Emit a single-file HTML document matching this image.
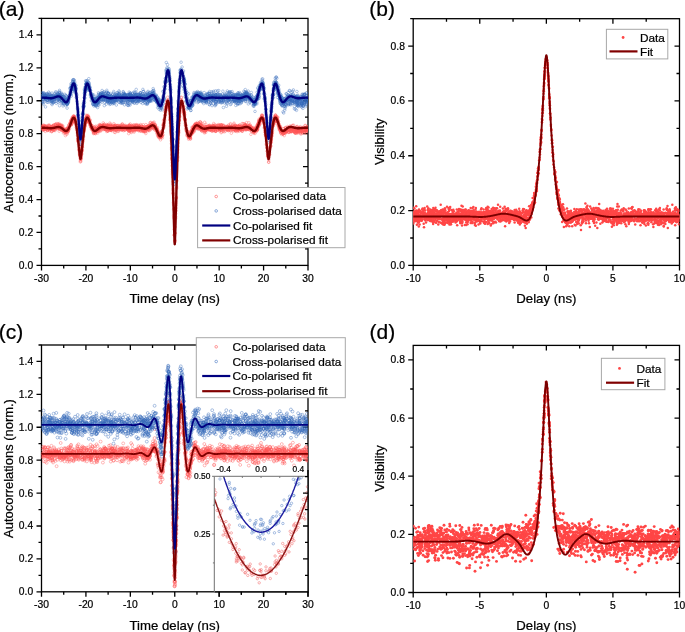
<!DOCTYPE html><html><head><meta charset="utf-8"><style>html,body{margin:0;padding:0;background:#fff;width:685px;height:632px;overflow:hidden}svg{display:block;will-change:transform}text{font-family:"Liberation Sans", sans-serif;fill:#000;stroke:#000;stroke-width:0.22px}</style></head><body>
<svg width="685" height="632" viewBox="0 0 685 632">
<defs>
<marker id="mr" markerUnits="userSpaceOnUse" markerWidth="6" markerHeight="6" refX="3" refY="3" overflow="visible"><circle cx="3" cy="3" r="1.3" fill="none" stroke="#ff5555" stroke-width="0.5" stroke-opacity="0.72"/></marker>
<marker id="mr2" markerUnits="userSpaceOnUse" markerWidth="6" markerHeight="6" refX="3" refY="3" overflow="visible"><circle cx="3" cy="3" r="1.45" fill="none" stroke="#ff5555" stroke-width="0.5" stroke-opacity="0.8"/></marker>
<marker id="mb2" markerUnits="userSpaceOnUse" markerWidth="6" markerHeight="6" refX="3" refY="3" overflow="visible"><circle cx="3" cy="3" r="1.45" fill="none" stroke="#3568ba" stroke-width="0.5" stroke-opacity="0.8"/></marker>
<marker id="mb" markerUnits="userSpaceOnUse" markerWidth="6" markerHeight="6" refX="3" refY="3" overflow="visible"><circle cx="3" cy="3" r="1.3" fill="none" stroke="#3568ba" stroke-width="0.5" stroke-opacity="0.72"/></marker>
<marker id="md" markerUnits="userSpaceOnUse" markerWidth="6" markerHeight="6" refX="3" refY="3" overflow="visible"><circle cx="3" cy="3" r="1.25" fill="#ff4646"/></marker>
<marker id="md2" markerUnits="userSpaceOnUse" markerWidth="6" markerHeight="6" refX="3" refY="3" overflow="visible"><circle cx="3" cy="3" r="1.45" fill="#ff4646"/></marker>
<marker id="mri" markerUnits="userSpaceOnUse" markerWidth="6" markerHeight="6" refX="3" refY="3" overflow="visible"><circle cx="3" cy="3" r="1.2" fill="none" stroke="#f47b7b" stroke-width="0.6"/></marker>
<marker id="mbi" markerUnits="userSpaceOnUse" markerWidth="6" markerHeight="6" refX="3" refY="3" overflow="visible"><circle cx="3" cy="3" r="1.2" fill="none" stroke="#6e93cf" stroke-width="0.6"/></marker>
<clipPath id="ca"><rect x="41.5" y="18.4" width="266.5" height="247"/></clipPath>
<clipPath id="cb"><rect x="413.2" y="18.7" width="266.3" height="246.7"/></clipPath>
<clipPath id="cc"><rect x="41.5" y="345" width="266.5" height="246.8"/></clipPath>
<clipPath id="cd"><rect x="413.2" y="345.4" width="266.3" height="247.1"/></clipPath>
<clipPath id="cin"><rect x="214.3" y="476.3" width="93.7" height="115.5"/></clipPath>
<clipPath id="cinr"><rect x="214.8" y="470" width="100" height="130"/></clipPath>
</defs>
<rect width="685" height="632" fill="#fff"/>
<path d="M41.5 265.4v5.0M85.92 265.4v5.0M85.92 18.4v5.0M130.33 265.4v5.0M130.33 18.4v5.0M174.75 265.4v5.0M174.75 18.4v5.0M219.17 265.4v5.0M219.17 18.4v5.0M263.58 265.4v5.0M263.58 18.4v5.0M308 265.4v5.0M63.71 265.4v3.0M63.71 18.4v3.0M108.12 265.4v3.0M108.12 18.4v3.0M152.54 265.4v3.0M152.54 18.4v3.0M196.96 265.4v3.0M196.96 18.4v3.0M241.38 265.4v3.0M241.38 18.4v3.0M285.79 265.4v3.0M285.79 18.4v3.0M41.5 265.4h-5.0M41.5 232.47h-5.0M308 232.47h-5.0M41.5 199.53h-5.0M308 199.53h-5.0M41.5 166.6h-5.0M308 166.6h-5.0M41.5 133.67h-5.0M308 133.67h-5.0M41.5 100.73h-5.0M308 100.73h-5.0M41.5 67.8h-5.0M308 67.8h-5.0M41.5 34.87h-5.0M308 34.87h-5.0M41.5 248.93h-3.0M308 248.93h-3.0M41.5 216h-3.0M308 216h-3.0M41.5 183.07h-3.0M308 183.07h-3.0M41.5 150.13h-3.0M308 150.13h-3.0M41.5 117.2h-3.0M308 117.2h-3.0M41.5 84.27h-3.0M308 84.27h-3.0M41.5 51.33h-3.0M308 51.33h-3.0M41.5 18.4h-3.0" stroke="#000" stroke-width="1.3" fill="none"/><rect x="41.5" y="18.4" width="266.5" height="247" fill="none" stroke="#000" stroke-width="1.3"/>
<text x="41.5" y="281.9" font-size="10.3" text-anchor="middle" >-30</text>
<text x="85.92" y="281.9" font-size="10.3" text-anchor="middle" >-20</text>
<text x="130.33" y="281.9" font-size="10.3" text-anchor="middle" >-10</text>
<text x="174.75" y="281.9" font-size="10.3" text-anchor="middle" >0</text>
<text x="219.17" y="281.9" font-size="10.3" text-anchor="middle" >10</text>
<text x="263.58" y="281.9" font-size="10.3" text-anchor="middle" >20</text>
<text x="308" y="281.9" font-size="10.3" text-anchor="middle" >30</text>
<text x="33.2" y="268.9" font-size="10.3" text-anchor="end" >0.0</text>
<text x="33.2" y="235.97" font-size="10.3" text-anchor="end" >0.2</text>
<text x="33.2" y="203.03" font-size="10.3" text-anchor="end" >0.4</text>
<text x="33.2" y="170.1" font-size="10.3" text-anchor="end" >0.6</text>
<text x="33.2" y="137.17" font-size="10.3" text-anchor="end" >0.8</text>
<text x="33.2" y="104.23" font-size="10.3" text-anchor="end" >1.0</text>
<text x="33.2" y="71.3" font-size="10.3" text-anchor="end" >1.2</text>
<text x="33.2" y="38.37" font-size="10.3" text-anchor="end" >1.4</text>
<text x="174.75" y="303.3" font-size="13.2" text-anchor="middle" >Time delay (ns)</text>
<text x="0" y="0" font-size="12.95" text-anchor="middle" transform="translate(13 143) rotate(-90)">Autocorrelations (norm.)</text>
<g clip-path="url(#ca)">
<polyline fill="none" stroke="none" marker-start="url(#mr)" marker-mid="url(#mr)" marker-end="url(#mr)" points="41.6,127 41.6,128.9 41.9,127.9 41.9,128.4 41.9,127.1 41.9,126.4 42,126.2 42,128.7 42,128.8 42,126.8 42.1,128.4 42.1,128.3 42.8,127.2 42.8,127.3 42.8,125.7 42.9,129.9 42.9,126.1 43,128.7 43,126.8 43.1,130 43.2,128.1 43.4,128.9 43.5,125 43.9,129.5 43.9,126 43.9,129.2 43.9,129.7 44.1,127.4 44.3,126.1 44.3,128 44.5,126.9 44.5,127.5 44.5,128 44.8,125.6 44.9,127.9 44.9,126.5 45,129.8 45.1,128.2 45.2,126.3 45.3,128.7 45.3,131.4 45.4,126.7 45.5,126.9 45.6,128.4 45.6,127.7 45.8,128.5 45.9,127.3 46,126.1 46.1,127.4 46.2,128.1 46.2,128.7 46.4,128.2 46.4,128.8 46.6,126.3 46.6,129.7 46.9,128.9 47,127.4 47.2,127.4 47.4,127.6 47.4,128.7 47.6,127.7 47.6,130.3 47.7,130.5 47.8,130.1 47.8,127.4 47.8,125.7 48.1,128.7 48.4,129 48.5,128.5 48.5,125.1 48.6,127.7 48.7,127.9 48.7,129 48.8,127.2 49.1,125.9 49.3,127.8 49.3,129.4 49.4,125.9 49.4,128.1 49.5,125.1 49.6,129.8 49.7,128.3 49.8,127.6 49.9,131 50,127.9 50,127.1 50.2,128.3 50.2,127.4 50.5,127.8 50.7,129.5 50.8,126.9 50.9,129.4 51,128.6 51,129.3 51.2,127.1 51.4,128.9 51.5,128.9 51.7,131.6 51.8,128.6 51.8,126.5 51.8,131.5 51.9,127.5 52,128.2 52,131 52,128.8 52.1,126.5 52.2,128.1 52.3,127.5 52.4,126.2 52.4,128.6 52.4,126.6 52.8,130.1 52.9,129.4 53.1,125.6 53.2,125.7 53.4,126.4 53.6,130.3 53.6,128.2 53.6,129.3 53.8,124.7 54.1,130 54.1,129.9 54.1,128.7 54.2,127.2 54.4,128.7 54.6,128.1 54.8,127.1 54.8,127.6 55,130.6 55.1,129.6 55.2,124.8 55.3,127.4 55.3,124.5 55.5,125 55.5,125.6 55.6,127.3 55.9,124.8 55.9,128 56.1,123.6 56.1,126.3 56.2,126.2 56.3,127.8 56.3,128.1 56.4,127.5 56.6,127.9 56.7,128.5 57,128.7 57.2,126.6 57.6,124.9 57.7,123.7 57.7,125.6 58,127 58,125.8 58,124 58.1,126.6 58.2,125.1 58.2,126.1 58.4,126.6 58.6,127.7 58.6,125.6 58.6,128.1 58.7,128.4 58.8,126.2 58.9,125.2 59,125.3 59,125.4 59.1,127.3 59.1,127 59.2,125 59.2,123.5 59.2,131.2 59.2,124.9 59.3,126.5 59.3,126.9 59.4,128.1 59.4,127.9 59.5,128.9 59.5,126.5 59.5,128.5 59.6,127.2 59.6,129.4 59.9,125.1 59.9,125.9 60,129 60.1,126.3 60.3,127.8 60.4,128.7 60.5,127.2 60.6,125.9 60.6,124.9 60.6,126.9 60.7,125.5 61.1,126.5 61.3,126.6 61.3,126.1 61.5,130 61.7,128.6 61.7,125.5 61.8,130.2 61.9,129.5 61.9,125.1 62,129.9 62,128 62,127.8 62.1,128.8 62.2,126.9 62.4,127.1 62.8,130 62.9,126.1 63,130.4 63,129.8 63.1,129.3 63.1,128.9 63.2,131.1 63.4,129 63.4,133 63.4,130.3 63.5,131 63.6,130.8 63.7,129.9 64,129.6 64.3,131.4 64.3,130.2 64.6,132.9 64.6,131 64.6,129 64.7,131.6 64.7,131.1 64.8,130.6 64.8,129.3 64.9,130.1 64.9,131 65.2,132.4 65.3,130.5 65.4,135.6 65.5,130.3 65.6,132.2 65.9,130 65.9,131.1 65.9,128.8 66.2,132.1 66.2,134.2 66.2,131 66.3,131.8 66.5,131.1 66.7,129 66.8,132.3 67.1,129.6 67.1,129.3 67.1,129 67.2,133.9 67.2,130.4 67.2,131.7 67.3,130.9 67.4,131.8 67.7,130.7 68,128.2 68,126.9 68.1,128.5 68.1,131.6 68.1,127.6 68.1,131.6 68.4,129.8 68.4,127.4 68.4,130.1 68.4,128 68.5,129.5 68.5,130.8 68.7,128.3 68.7,129.5 68.9,125.3 69.1,124.9 69.3,124.7 69.6,128.2 69.8,123 70.2,124.6 70.3,124 70.5,123.9 70.5,125 70.5,123.9 70.6,122.6 70.6,121.3 70.7,122.8 70.7,123.7 70.8,124.2 70.9,123.4 71,120.2 71,121.7 71,122.3 71.2,124.9 71.2,125.1 71.4,120.5 71.5,120.3 71.5,119.4 71.6,120.9 71.7,121.9 71.8,123.5 71.9,121.9 71.9,124 72.1,119.5 72.1,119.1 72.2,117.4 72.3,122.3 72.4,121.5 72.5,118 72.6,118.4 72.6,122.1 72.6,119.9 72.7,118.4 72.8,119.2 72.8,117.8 73,118.2 73,119.1 73,117.6 73.2,118.1 73.3,116.1 73.3,120.3 73.3,118.3 73.5,118.9 73.5,118.2 73.5,117.1 73.6,116.7 73.8,121.2 73.8,115.9 73.8,116.9 73.9,116.9 74,117.7 74,116.3 74,117.2 74,120.8 74.1,118.9 74.1,118.3 74.2,118.6 74.3,118.8 74.3,117.1 74.4,120.1 74.4,119.5 74.5,119.9 74.5,118.4 74.6,117.8 74.7,120.3 74.7,118.2 74.8,119.9 74.8,116.7 74.9,123 75.1,119.8 75.1,118 75.2,120.6 75.2,122.1 75.3,121.8 75.5,120.3 75.6,122.8 75.7,120.5 75.7,122.3 75.9,124.4 75.9,124.2 76,122.8 76,122.1 76.1,125.7 76.3,127.5 76.6,129.2 76.7,127.3 76.7,125.3 76.9,130.4 77.4,132.5 77.5,135.2 77.5,133.2 77.7,139.2 77.8,135.9 78,140.8 78,140.7 78,139 78.2,141 78.3,142.1 78.3,141.3 78.6,144.3 78.9,145.2 79,146.9 79,150 79,149 79.1,150.4 79.4,153 79.6,150.5 79.6,155 79.6,151.8 79.6,151.5 79.6,149.5 79.7,154.5 79.8,154.8 79.9,155.5 80,157.1 80.1,154.6 80.2,154.4 80.2,161.8 80.3,158.6 80.3,156.3 80.5,160.6 80.7,159.6 80.7,158.3 80.7,158.4 80.7,158.6 80.8,158.2 80.8,154.9 80.8,161.6 80.8,158.5 80.8,159.4 80.9,156.9 81,157.5 81.2,154.4 81.2,155.1 81.2,151.2 81.3,156.3 81.4,154.6 81.4,151.9 81.5,153.3 81.5,152.3 81.7,154 81.7,150.2 81.7,151.1 81.7,149.8 81.9,150.7 82,149.7 82,150 82,145.6 82,151.2 82.1,146.8 82.1,147 82.2,144.5 82.3,145.5 82.3,147.5 82.4,143.6 82.4,147.2 82.6,141.1 82.7,142.1 82.9,141.3 83.1,139.4 83.2,136.3 83.2,139.8 83.3,133.5 83.3,137.3 83.4,132.9 83.4,135 83.5,131.5 83.5,136.2 83.8,130.5 83.9,131.3 83.9,132 84,129.1 84.1,130 84.2,130.4 84.3,128.3 84.4,129 84.4,127.8 84.4,127.4 84.5,124.7 84.6,126 84.7,126.6 84.8,123.8 84.8,125.4 84.9,125.9 84.9,126.1 85,121.1 85,123.7 85.1,120.5 85.1,124.7 85.2,124.6 85.2,119.9 85.3,122.9 85.4,121.9 85.5,121.7 85.6,122.7 85.6,119.1 85.7,122.7 85.7,119.3 85.7,122.3 86,115.2 86.1,118.2 86.1,117.4 86.2,121.8 86.3,118.3 86.3,119.9 86.3,120.3 86.3,120.1 86.3,117.3 86.4,118.6 86.4,119.5 86.4,119.5 86.4,119.6 86.5,119.3 86.5,118.9 86.6,120.2 86.6,119.8 86.6,121.9 86.7,118.2 86.7,117.1 86.7,118.9 86.8,115.7 87,119.1 87.2,117.7 87.2,115.8 87.7,117.5 87.7,119.3 87.7,117.3 87.7,118.6 87.8,116.2 87.9,116.8 87.9,118.5 87.9,117.3 88,115.3 88.1,116.5 88.1,117 88.5,119.3 88.5,120 88.5,120.3 88.5,117.4 88.8,121.4 88.8,119 88.8,117.1 88.9,122.5 89,119.6 89,121.8 89,120.4 89.2,119.7 89.2,122.3 89.2,123 89.3,121.5 89.3,120.6 89.5,122.1 89.5,123 90,121.7 90.1,124.8 90.1,125.4 90.2,123.1 90.3,120 90.4,124.8 90.6,124.8 90.7,126.4 90.7,125.8 90.9,127.3 90.9,125 91.3,127.4 91.3,127.8 91.4,125 91.5,129.4 91.7,125.8 91.7,127.6 91.8,129.1 91.9,127.8 92.1,128.7 92.2,127.8 92.2,128.8 92.5,125.9 92.7,127.6 92.8,127.6 92.9,131.6 92.9,130.3 92.9,127.7 93,128.8 93,129.8 93.1,130.1 93.5,128.6 93.5,133.6 93.6,131.9 93.8,132.9 93.8,128.7 93.8,132.9 93.9,131.1 94,128.5 94,131.3 94,130.3 94.1,130.8 94.2,129.7 94.4,127.3 94.4,132.9 94.4,131 94.6,128.2 94.7,127 94.9,131.4 95,128.7 95,129.9 95.2,129.9 95.2,133.4 95.4,133.7 95.5,130.7 95.7,131.1 95.8,131 95.8,132.8 95.8,128.4 95.9,131.1 95.9,126.2 96,131.1 96,130.1 96.1,129.4 96.1,131.2 96.2,132.2 96.3,131.5 96.4,130.5 96.4,131.3 96.4,127.1 96.5,131.3 96.5,129.1 97,128.6 97.2,129.6 97.2,131.6 97.5,128.8 97.5,128 97.6,129.2 97.7,129.4 97.7,133.1 97.7,131.2 97.9,129.6 97.9,128.9 97.9,128 98,129.7 98,128.9 98,130.9 98.1,128.1 98.1,127.9 98.2,129.2 98.2,127.4 98.3,129.4 98.3,129.7 98.4,129.3 98.5,125.4 98.7,131.3 98.8,128.2 98.8,129.1 98.9,128.3 99.1,130.8 99.1,127.1 99.2,127.2 99.2,128.7 99.2,128.9 99.3,128 99.4,126.5 99.4,130.6 99.5,125.7 99.6,128.5 99.6,126.5 99.7,129.3 99.9,124.5 99.9,127.3 99.9,124.8 100.1,128.6 100.2,128.6 100.2,125.7 100.3,126.3 100.3,126.9 100.4,125.4 100.4,126.7 100.4,128 100.6,130.5 100.7,131.1 100.8,126.2 100.9,126.3 100.9,128.7 101,126.3 101,127.5 101.2,127 101.6,125.4 101.8,129.6 101.9,126.4 101.9,126.1 102,127.3 102,126.7 102.1,128.8 102.1,126.7 102.3,125.9 102.4,125.6 102.7,128.1 102.9,125.6 102.9,126.4 103,125.8 103,127 103,125.9 103.2,126.6 103.2,122.9 103.2,127.4 103.2,125.1 103.2,127 103.6,129.5 103.6,126.2 103.6,125 103.7,125.8 103.9,125.7 104,128.4 104,126.6 104.1,129.4 104.2,124.2 104.3,124.5 104.3,128.8 104.4,127.8 104.6,129.2 104.8,128.5 104.9,128 105.3,129.3 105.4,128.2 105.4,126.3 105.5,127.9 105.5,126.2 105.6,127.7 105.7,127.3 105.7,129.6 105.7,125.9 105.7,129.4 106.2,128.2 106.3,129.8 106.4,126.8 106.4,129.4 106.5,126.7 106.6,124.5 106.6,127.1 106.7,131.5 106.8,126.1 106.8,127.4 107,126.8 107.1,127.1 107.2,125.9 107.2,126.1 107.2,127.9 107.2,129.9 107.3,128 107.4,126.5 107.4,130.9 107.4,127.6 107.4,130.8 107.4,126 107.4,124.7 107.5,126.4 107.6,128.6 107.6,126.5 107.7,125.6 107.8,125.1 107.8,125.5 107.8,126.1 107.9,129.5 107.9,128.1 107.9,127.1 108.1,127.9 108.1,131.2 108.2,128.2 108.3,129.1 108.3,127.6 108.5,127.4 108.8,130.4 108.9,129.3 109,127.8 109.1,129.8 109.2,128.1 109.3,129.5 109.5,129.3 109.5,126.6 109.5,128.3 109.6,129 109.6,125.5 109.7,128.6 109.8,128.1 109.9,128.1 109.9,123.1 110,127 110,126.7 110.2,128.7 110.3,126.7 110.3,126.2 110.4,130.1 110.4,127.4 110.5,125.4 110.5,125.1 110.5,127.7 110.6,124.2 110.7,129.2 110.8,126.3 110.9,127.2 110.9,129.8 110.9,126.4 110.9,130.2 110.9,129.2 111,128.2 111,130.1 111.1,126.1 111.2,128.8 111.2,130.1 111.2,127.6 111.3,128.1 111.4,129.9 111.6,128.9 111.6,126.5 111.6,126.6 111.8,130.7 111.8,126.4 111.9,126.4 111.9,126.1 112.1,128.8 112.3,129.3 112.3,128.1 112.5,129 112.6,128.4 112.8,128.9 112.8,128.4 112.8,128.7 113,127.9 113.1,127.6 113.4,128.3 113.5,128.8 113.6,125.2 113.6,126.3 113.7,127 113.7,129.3 113.7,126.8 113.8,128.1 113.8,126.9 113.8,127.5 113.8,123.7 114.1,127.8 114.1,129.5 114.2,126 114.4,125.9 114.4,125.6 114.5,132.2 114.5,129.4 114.5,129.2 114.7,130.6 114.8,127.6 114.9,126.7 115,126 115,126.3 115.1,127.8 115.2,125.2 115.2,127.4 115.2,132.5 115.4,128.4 115.4,129.1 115.5,127.3 115.5,128.6 115.6,128.4 115.6,125.6 115.9,129.1 116.2,130.1 116.2,127.4 116.3,126.8 116.4,128.1 116.4,127.9 116.6,128.8 116.6,130.1 116.6,129.1 116.8,129.7 116.8,125.8 117,128.3 117,125.5 117.1,128.1 117.3,129.4 117.3,127.6 117.4,127.5 117.5,125.6 117.5,131.3 117.6,128.6 118,127.2 118.1,129.1 118.1,127.7 118.2,128.4 118.4,125.5 118.4,125.8 118.5,131.3 118.7,130.4 118.7,129.2 118.9,128 118.9,128.1 119,128.7 119.1,126.9 119.1,126.4 119.2,127.7 119.3,128.4 119.3,127.8 119.3,129.2 119.5,126.5 119.6,126.5 120,129.4 120.1,125.4 120.2,127.9 120.3,126.5 120.6,127.9 120.7,128.2 120.8,126.7 120.9,129.5 121,128.3 121.2,129.9 121.3,127.1 121.3,128.3 121.4,128.4 121.4,128.8 121.5,126.8 121.5,127.4 121.6,128.3 121.8,128.7 121.8,124.9 121.8,125.4 121.9,129.8 121.9,125.9 121.9,127 122.1,127.4 122.3,127.2 122.3,130.2 122.3,123.8 122.4,124.5 122.4,127.8 122.5,127.9 122.6,127.6 122.6,129 122.9,127 122.9,128 123.1,129.7 123.1,128.7 123.2,129 123.3,128.9 123.4,128.5 123.5,126.9 123.6,128.6 123.7,130.7 123.7,125.6 123.9,128.9 124.4,125.6 124.5,127.6 124.5,127.1 124.6,129.4 124.6,127.8 124.7,128.6 124.8,128.1 124.9,127.2 124.9,128.6 124.9,126.6 125,130.3 125,129.8 125,127.3 125.2,127.1 125.3,126.2 125.3,125.3 125.5,127.2 125.6,126.7 125.7,127.6 125.7,127.7 125.7,128.1 125.9,127.8 125.9,128.9 126.2,128.2 126.2,126.6 126.7,127.1 126.8,126.1 126.9,128.8 126.9,128.6 127,127.3 127,129.4 127.2,129.5 127.3,127 127.4,128.5 127.5,126.6 127.7,127.9 127.7,128.7 127.9,129.8 127.9,126 128.1,128.2 128.1,129.5 128.1,130.5 128.1,130.1 128.3,128.7 128.4,126 128.5,129.6 128.5,127.6 128.6,127.7 128.7,133.6 129,130.2 129,126.8 129.1,131.5 129.1,126.2 129.2,128.1 129.2,130.9 129.3,125 129.3,128.3 129.4,125.5 129.5,127.8 129.6,129.4 129.6,126.3 129.6,125.2 129.7,126 129.7,130.1 129.8,127.1 129.9,130.1 129.9,129.1 130.1,125.9 130.2,130.5 130.2,124 130.3,130.7 130.4,130.3 130.4,126.9 130.4,128.5 130.4,128.4 130.4,129.7 130.5,126.9 130.5,127.8 130.6,128.3 130.6,129.5 130.7,130.7 131.1,128.2 131.1,131.8 131.2,129.2 131.2,127.1 131.3,127 131.3,128.8 131.4,132.5 131.7,127.2 132,126.6 132,128 132.1,126 132.1,126.4 132.1,130.9 132.1,128.5 132.2,128.9 132.3,125.5 132.5,126.3 132.5,127.9 132.5,127.1 132.6,126.6 132.8,129.2 133,128.3 133.1,128.2 133.1,128.7 133.2,128.6 133.3,127.6 133.3,130.2 133.4,130 133.6,126.7 133.7,125.5 133.7,124.9 133.8,131 133.9,127.4 133.9,129.4 133.9,128.9 134.1,128.4 134.1,127.3 134.1,127 134.1,132.1 134.4,129 134.4,126.2 134.4,127.8 134.4,130.7 134.7,129.6 134.8,129.3 134.8,126.3 134.9,125 135,129.8 135.2,127.1 135.3,128.4 135.5,127 135.5,128.3 135.7,129.8 135.8,129 136,129 136,125.5 136.1,129.2 136.1,127 136.1,129.3 136.2,129 136.2,127.5 136.2,128.9 136.3,124.6 136.6,125.7 136.6,129.8 136.7,127 136.7,125.4 136.9,129.9 136.9,128.6 136.9,125.4 137.2,129.3 137.7,126.8 137.7,128 137.7,127.6 137.9,129.6 137.9,128 137.9,128.6 138,125 138.2,126.8 138.3,127.7 138.3,128 138.4,126.8 138.6,130.6 138.6,129.6 138.7,129.5 139,129.3 139,130.7 139,127.1 139,128.8 139.1,125.9 139.1,128.2 139.1,128.6 139.2,127.3 139.3,127.3 139.3,128.5 139.4,127.1 139.4,125.9 139.4,128.8 139.4,125.9 139.4,128.4 139.8,126.6 139.9,128.2 140.1,128.8 140.3,127.7 140.3,130 140.3,130.8 140.4,128.2 140.4,128.6 140.4,130.1 140.4,124.6 140.5,127.5 140.5,129.4 140.7,127.4 140.9,127.4 141,128.9 141,128.7 141,131.4 141.1,127.9 141.3,125.2 141.3,126.4 141.9,126.7 142.1,129.5 142.1,130.3 142.3,127.1 142.3,128.1 142.4,128.9 142.6,129.1 142.6,127.1 142.7,127.6 142.7,129.4 142.7,128.8 142.9,131.5 142.9,130.7 142.9,127.7 142.9,129.5 142.9,130.1 143,128.3 143.1,126.6 143.2,130.1 143.2,129.3 143.2,129.2 143.2,124.7 143.2,127 143.2,128.3 143.2,131.1 143.4,127.5 143.4,127.8 143.6,129.1 143.6,130.1 143.7,129.6 143.7,131.6 143.9,129.5 144,129.6 144.1,130.4 144.2,129.4 144.3,131.5 144.3,127 144.4,129.2 144.4,130.9 144.6,127.6 144.7,128 144.8,129.8 144.9,131.1 145.1,129.1 145.2,128.2 145.2,127.9 145.3,127.4 145.4,127.5 145.4,131.4 145.5,128.7 145.5,132 145.6,127.3 145.6,128.2 145.7,127.3 145.7,128.8 145.8,128.9 145.8,129.8 145.8,133.5 145.9,129.2 145.9,124.6 146,126.7 146.1,129.2 146.2,128.3 146.3,128.1 146.5,129.7 146.5,128.7 146.6,128.2 146.7,129.5 146.9,127.9 146.9,126.6 147,127.2 147.1,128.1 147.3,128.8 147.5,127.2 147.5,129.3 147.5,129.4 147.5,126.2 147.5,129 147.6,130.6 147.6,126.9 148,126.9 148,126.2 148,128.2 148.1,126.1 148.1,128.3 148.1,129.7 148.1,128.3 148.3,127.5 148.4,129.7 148.4,128.2 148.4,127.4 148.6,128.4 148.7,127.5 148.8,127.6 148.8,128.9 148.9,127 148.9,126.6 149,130.7 149.2,128.4 149.2,125.9 149.3,126.5 149.3,130.3 149.4,126.7 149.5,124.7 149.6,125.6 149.6,125.7 149.7,127.1 149.8,126.7 149.8,128.7 149.9,126.7 150.1,122.8 150.2,126.6 150.4,127.9 150.4,125.5 150.5,129.7 150.7,122.4 150.8,125.1 150.8,126.6 150.8,126.7 150.8,127.6 151,125.8 151.2,125.8 151.4,128.4 151.5,124.1 151.6,126.3 151.7,127.5 151.7,124.1 151.8,124.4 151.8,126.5 151.8,126.7 151.9,123.7 151.9,126.2 152,125.2 152.1,123.2 152.3,127.5 152.6,127.9 152.7,126.8 152.7,126.4 152.8,125.4 153,123.8 153.1,126.2 153.2,122.6 153.3,125.2 153.4,128.9 153.5,125.7 153.7,124.5 153.9,123.9 153.9,127 154,126 154.1,122.2 154.2,125.8 154.3,127.7 154.6,129 154.7,127.3 154.7,125.9 154.8,128.5 154.9,124.5 154.9,128.1 155,130.2 155.2,126.1 155.2,127.2 155.2,127.7 155.2,125.1 155.3,128.5 155.3,126.3 155.4,128.4 155.4,124.8 155.6,127.8 155.6,127.8 155.6,126.9 155.6,128.1 155.7,127.4 155.9,128.8 156.2,127.9 156.2,129 156.4,130.5 156.5,128.7 156.7,129.3 156.8,132.1 156.8,130.9 156.9,133.6 157,130.6 157.3,130.1 157.4,127.6 157.4,131.3 157.5,130.2 157.6,129.7 157.7,131 157.7,135.6 157.7,133.3 157.9,132.4 158,132.6 158,132.9 158,134.8 158.2,136.8 158.4,133.2 158.4,131.9 158.6,135.3 158.6,133.4 158.7,135.5 158.8,134.9 158.8,135.7 158.8,133.3 158.8,136.4 158.9,134.7 159,133.5 159,135.2 159.2,137.7 159.3,134.8 159.3,135.8 159.3,137.8 159.3,135.9 159.8,136.6 160.3,135.2 160.3,137.2 160.3,136.1 160.4,135.2 160.5,139.8 160.5,134.4 160.6,136.2 160.7,138 160.8,135.9 160.8,134.2 160.9,137.3 160.9,137 160.9,133.4 161,132.9 161.1,132 161.2,135.5 161.5,136.9 161.5,136.8 161.6,135.4 161.8,136 161.9,133.1 161.9,131.4 162,135.9 162,130.8 162,135.3 162.1,134.7 162.2,135.6 162.3,131.1 162.4,132.5 162.4,132.2 162.4,137.8 162.6,132.5 162.9,129.1 163,134.9 163,125.2 163.2,127.3 163.3,125.3 163.4,127.6 163.5,124.7 163.5,123.6 163.5,120.8 163.6,127.9 163.9,119.6 163.9,125.9 164,123 164,124 164.2,122.2 164.2,125.6 164.6,119.2 164.7,120.6 164.8,117.4 165,115.4 165.1,114.9 165.1,115.2 165.3,110.7 165.3,112.5 165.3,111.7 165.5,109 165.5,112 165.6,110.7 166,106.7 166.2,107.7 166.2,104.2 166.2,108.2 166.3,106.9 166.3,106.6 166.3,106.9 166.5,104.9 166.6,105.8 166.7,109.6 166.8,101 166.8,104.5 166.9,101.2 166.9,105.4 167.4,99.9 167.5,104.1 167.8,97.2 167.9,101 168,101.8 168.1,107.8 168.1,106.3 168.2,102.2 168.5,103.1 168.5,103.2 168.6,103.2 168.6,99.9 168.7,103.4 168.7,103.6 168.7,104.6 168.8,105.8 168.8,102.2 168.9,104.7 168.9,104.6 169,103.5 169.1,104.8 169.2,103.4 169.2,103.6 169.2,109.3 169.2,108.2 169.6,107.3 169.6,110.9 169.7,109.4 169.7,113.7 169.9,119.8 170,120.3 170.1,117.7 170.2,118.3 170.2,111.5 170.3,116.8 170.4,119.2 170.4,119.4 170.5,126.2 170.5,122.6 170.5,123.3 170.8,123.2 170.8,130.9 170.8,133.1 170.8,129.4 170.9,131.8 171.1,134.8 171.3,138.1 171.3,140.3 171.4,143.7 171.6,147.4 171.6,141.7 171.6,149.8 171.7,148.3 171.8,155.4 171.8,158 172,154.3 172,158.2 172.2,159.2 172.2,160.2 172.2,162.7 172.2,165.5 172.2,159.4 172.4,169.6 172.5,166.2 172.5,171.8 172.6,173.2 172.6,174.7 172.8,181.8 172.9,184.2 172.9,177.2 173,190.8 173,193.2 173,189.1 173.1,193.1 173.3,194.9 173.4,202.8 173.6,204.9 173.6,209.3 173.7,215.5 173.9,218.5 173.9,217.1 174.1,229.5 174.3,235 174.3,235.1 174.4,235.2 174.7,241 174.9,242.1 174.9,240.3 175,240.8 175,233.4 175.2,227 175.3,233.1 175.6,218.3 175.7,216.8 175.7,213.7 175.9,211.1 175.9,210.4 176,208.1 176,205.2 176.1,203.2 176.1,198.1 176.1,198.9 176.1,201.3 176.3,197.2 176.3,197.7 176.5,187.7 176.5,188.4 176.5,186.3 176.7,180.9 176.7,180.8 177.4,160.4 177.4,160.8 177.6,157.9 177.6,156.5 177.6,152.9 177.7,146.3 177.8,149.8 178,143.1 178.2,131.5 178.2,139.2 178.4,135.2 178.5,133.3 178.5,132.1 178.8,132.1 178.8,123.6 178.8,130.3 178.9,125.7 179,123.5 179.1,120.1 179.1,120.8 179.2,119.9 179.3,120.5 179.4,115.8 179.4,117.3 179.5,116.8 179.6,116.4 179.8,113.2 179.8,110.4 180,112.5 180,108.1 180.1,107.2 180.2,103.9 180.3,107.9 180.4,107.5 180.4,105.1 180.4,105.8 180.6,110.6 180.6,100.9 180.8,102 180.9,101.8 181,103.9 181.1,100.7 181.1,102.2 181.2,97.4 181.2,99.5 181.4,97.5 181.5,103.8 182.1,103.6 182.5,104 183,106.9 183.1,102.1 183.3,106.6 183.4,110.3 183.5,108.8 183.7,106 183.7,110.8 183.7,108.7 183.8,114.2 183.8,111.9 184,112.5 184,112.9 184,112.4 184.1,111.7 184.1,110.3 184.3,117.8 184.3,114 184.3,112.6 184.4,114.6 184.4,112.6 184.4,115.6 184.4,116.3 184.6,118.4 184.6,114.8 184.7,120 184.8,119.3 185,119.4 185.1,119 185.2,121.7 185.2,123.3 185.2,120.2 185.5,125.4 185.7,125.8 185.7,129 185.7,124.6 185.9,125.6 186,130.4 186.1,127.9 186.5,128.6 186.6,131.3 186.8,134.3 186.9,131.6 187,130.8 187.1,135.9 187.1,130.8 187.1,132.7 187.2,130.8 187.4,135.5 187.5,132 187.8,134.1 188,133.8 188.4,135.8 188.5,134.2 188.5,136.4 188.5,136.9 188.6,138.1 188.6,139.2 188.8,136.2 188.9,137 188.9,136.6 189,137 189.1,135.8 189.2,136.4 189.2,137.6 189.3,135.1 189.5,132.6 189.6,138 189.8,136.9 189.9,135.1 190.1,137.2 190.1,134 190.2,136.9 190.3,137.8 190.3,137.3 190.5,133.4 190.5,138.8 190.5,134.9 190.5,139 190.6,133.8 190.6,134.3 190.6,133.8 190.7,131.1 190.8,134.8 191,132.2 191,133.1 191,132.2 191.1,135.2 191.1,131.9 191.7,133.1 191.7,129.9 191.7,130.8 191.8,132.3 191.8,131.2 191.9,131.2 191.9,131.6 191.9,127.3 192.2,132.7 192.3,133.5 192.4,133 192.4,131.2 192.4,130.8 192.4,129.5 192.5,128.9 192.6,130 192.8,129.7 192.8,131.5 192.8,128.2 192.9,127.2 193.2,129.2 193.2,127.7 193.2,130 193.3,128.9 193.3,128.5 193.4,127.1 193.4,131 193.5,128.3 193.6,126.6 193.8,127.2 193.8,126.6 193.8,132 194,128.9 194.1,128 194.1,128.6 194.2,131.1 194.3,125.2 194.5,126.3 194.6,129.9 194.6,127.4 194.6,126.6 194.7,124.9 195,125 195.1,127.8 195.1,127.1 195.1,125.7 195.2,124.3 195.3,126.6 195.4,126.9 195.4,124.8 195.4,125.5 195.5,123.5 195.5,124.9 195.9,123.8 196.1,128.7 196.2,127.6 196.2,127.9 196.3,126.5 196.4,124.7 196.4,125.8 196.4,124.5 196.6,126.6 196.7,123.7 196.9,123.9 197,128.2 197,127.1 197,126.4 197.3,124 197.4,124.1 197.5,122.4 197.5,127.9 197.7,125.1 197.7,125.5 198.1,126.2 198.2,126 198.3,129.3 198.3,125.3 198.4,126.5 198.4,128 198.4,123.5 198.4,127.1 198.5,125.5 198.5,127.1 198.6,128.6 198.7,126.8 198.7,125.5 198.8,127.8 198.8,125.3 198.8,123.3 198.9,124.2 199.2,126.9 199.3,127.7 199.7,125.2 199.7,129 199.7,128.4 199.8,123.8 199.9,126.2 200,126 200.1,127.4 200.2,122.2 200.2,121.7 200.2,127.2 200.4,125.7 200.4,127.6 200.5,126.4 200.6,124.9 200.6,125 200.6,127.6 200.7,126.6 200.8,122.5 200.9,125.7 200.9,125 200.9,126.4 201,127.6 201.1,129.3 201.3,129.2 201.3,130.4 201.4,129.4 201.4,129.1 201.5,126.5 201.5,130.5 201.6,127.1 201.7,131.1 201.8,123.5 201.8,128.8 201.8,127.6 201.8,124.9 201.9,128.2 202,127.8 202,127.7 202.1,127.1 202.2,128.9 202.3,125.1 202.5,126.2 202.5,127.9 202.5,126.1 202.5,128.3 202.6,129.1 202.7,128.4 202.7,127.4 202.8,130.9 202.9,128.8 203.1,127.6 203.3,130.2 203.5,127.9 203.5,130.3 203.7,128.1 203.7,128.6 203.8,127.9 204,129.8 204.2,131.9 204.4,132.9 204.7,122.3 204.7,131 204.8,130 204.9,131.4 205.1,126.2 205.1,127.3 205.2,127.1 205.3,130.5 205.4,126.8 205.4,129.8 205.4,126.4 205.4,128.7 205.7,132.4 205.8,128.7 205.9,130 205.9,124.4 206,130.7 206.2,128.9 206.2,128.9 206.2,129.9 206.2,129.7 206.3,128.5 206.3,127.8 206.3,129.2 206.4,128.9 206.4,128.4 206.5,130 206.7,128.8 206.7,128.3 206.7,126.6 206.7,127.2 206.7,127.5 207,126.8 207.3,129.6 207.3,126.3 207.4,128.9 207.4,128.5 207.5,128.9 207.6,127.1 207.8,129.3 208,127.1 208.5,128.6 208.7,128.8 208.9,127.3 208.9,129.4 208.9,125.9 208.9,129.2 209,128.8 209,125.9 209.1,130.4 209.1,126.4 209.2,127.8 209.3,127.8 209.4,127.6 209.4,129.4 209.5,125.1 209.5,127 209.6,126.8 209.7,126.5 209.9,126.2 210.1,127.3 210.3,129.4 210.4,130 210.4,130.1 210.5,128.6 210.6,126.1 210.6,130 210.7,128.4 210.9,126.8 210.9,128.4 211,128.2 211.1,129.6 211.1,127.5 211.2,128.8 211.3,129 211.4,128.5 211.4,127.2 211.8,126.2 211.8,129.7 211.8,127 211.8,129.6 211.8,130.9 211.9,128.9 211.9,127.7 212.1,127.9 212.1,127.2 212.1,131.2 212.3,125.5 212.4,126.4 212.5,126.7 212.6,130.5 212.6,127 212.7,128.6 212.8,128.6 213.1,127.8 213.2,130.5 213.3,126 213.3,126.1 213.3,126.4 213.4,125.4 213.5,130.6 213.5,128.3 213.5,128.3 213.6,129.9 213.6,126.4 213.7,123.5 213.8,129.5 213.8,126.8 214.1,127.7 214.1,127.5 214.2,127.6 214.3,126.6 214.4,128.8 214.5,128.5 214.6,125 214.7,127.8 214.9,127.8 215,130.7 215.1,127.1 215.2,126.8 215.2,127.4 215.5,125.2 215.5,131.2 215.5,126.4 215.5,130.6 215.6,129.6 215.6,131.2 215.6,126.5 215.7,128.1 215.9,128.7 215.9,127.9 215.9,131.4 215.9,129 215.9,127.6 216.1,129 216.1,128.1 216.1,130.6 216.2,127.7 216.4,128.5 216.6,127.7 216.8,125.5 216.9,127.9 216.9,129.1 217,127.4 217.4,129.9 217.5,125.4 217.6,128.1 217.7,128.1 218,127.3 218.1,130.2 218.1,128.2 218.4,128.5 218.6,124.6 218.6,125.8 218.7,125.2 218.7,128.1 218.7,127.9 219,126.4 219,129.3 219,129.7 219.2,125.6 219.3,127.4 219.5,127.4 219.5,131 219.7,128.9 219.9,129 219.9,129.4 220,127.7 220,129.7 220.1,130.2 220.2,125 220.6,127.4 220.6,129.9 220.8,124.7 220.8,127.3 221,127.6 221.1,132.7 221.3,125.7 221.5,127.9 221.6,126.1 221.6,125.3 221.6,130.2 221.6,125 221.7,126.7 221.7,127.9 221.7,131.9 221.9,124.8 221.9,127.5 222.1,127 222.3,130 222.5,127 222.9,127.1 223,125.5 223.2,129.5 223.2,131.6 223.3,129 223.3,129.7 223.4,127.6 223.4,128.3 223.7,127.7 223.7,125.9 223.7,125.2 223.8,127.9 223.8,130.6 224,128 224,128.4 224.1,128.2 224.4,128.3 224.6,128.1 224.6,131.7 224.6,127.1 224.8,127.2 225,127.5 225.1,128.3 225.4,126.6 225.5,130.9 225.5,128.3 225.9,127.1 226.1,128.8 226.1,128.2 226.1,126.4 226.3,128.4 226.4,129.5 226.5,128.9 226.5,127.5 226.9,129.8 226.9,128.1 227,128.7 227,128 227.3,126.8 227.3,126.9 227.4,128 227.4,127.7 227.4,126.8 227.5,129.3 227.5,127.8 227.6,129.9 227.7,126 227.8,127.9 228,130.1 228.2,128.8 228.3,126.8 228.4,127.6 228.4,130.7 228.5,125.1 228.6,127.6 228.7,127.4 228.8,128.5 228.9,129.3 228.9,130.4 229,127.7 229.3,128 229.4,128.4 229.4,126.7 229.6,127.4 229.6,129.6 229.7,128.6 229.9,126.1 230.1,130.2 230.3,124.5 230.3,128.8 230.5,123.7 230.6,127.2 230.7,130.5 230.9,127.2 231,127.8 231,128.6 231,127.8 231.1,127.8 231.3,133.2 231.3,126.7 231.4,128.4 231.5,127.9 231.7,126.7 231.8,127.9 232,129.9 232.1,126.6 232.1,128.4 232.2,127.5 232.2,129.1 232.3,128.2 232.6,129.5 232.8,125.4 233.2,129.7 233.2,126.4 233.3,131 233.4,127.5 233.8,128.4 233.9,126.4 233.9,127.6 233.9,124.3 234,123.2 234,128.9 234.2,126.8 234.3,129.5 234.3,129.6 234.3,128.1 234.4,126.5 234.4,126.9 234.5,128.3 234.7,126.2 234.8,129.9 234.9,129.5 234.9,128.1 235.1,131 235.3,125.8 235.3,128.2 235.4,128.6 235.5,127.3 235.5,130.2 235.6,128.2 235.6,130.8 235.6,128.3 235.7,127.8 235.7,125.4 235.7,128 235.8,125.8 235.9,128.1 235.9,130.7 236.2,126.8 236.3,127.9 236.4,129 236.4,126.5 236.5,129.8 236.5,128.7 236.5,126.9 236.7,126.7 236.7,129.2 236.8,127.6 236.9,128 236.9,127.1 237.1,128.5 237.1,131.6 237.1,128.7 237.3,125.7 237.4,129.5 237.4,128.5 237.5,126.8 237.9,128.5 238,130 238,128.2 238.1,128.5 238.1,129.6 238.1,128.4 238.2,130.5 238.2,130.8 238.2,130 238.3,128.5 238.4,128.2 238.4,129.2 238.5,126.4 238.5,127.2 238.5,128.1 238.5,126.3 238.7,125.7 238.8,127 238.8,129.1 239,126.8 239.1,126.2 239.1,127.5 239.2,128.3 239.3,127.7 239.3,127.6 239.4,131.1 239.5,125.5 239.5,128.1 239.7,124.9 239.7,128 239.7,129.4 239.8,126.8 239.9,128 239.9,126.7 239.9,128.8 240.1,128.8 240.1,129.2 240.2,129.2 240.3,127.4 240.7,130.1 240.7,127.8 240.8,126.2 240.8,129.6 241,128.4 241.1,129.3 241.2,128.6 241.5,127.7 241.5,126.8 241.5,126.5 241.6,129 241.6,126.8 241.8,128.9 241.8,129.8 242,129.5 242.1,131.1 242.1,127.8 242.1,130.9 242.1,127.5 242.1,123.5 242.3,129.4 242.5,131.2 242.7,127.1 242.8,129.4 242.8,127.8 242.9,127.7 243,127.3 243,123.9 243.2,127.1 243.2,127.2 243.4,127.7 243.4,128.7 243.4,128.6 243.5,129.2 243.6,126.1 243.6,127.7 243.8,126.3 243.8,126.9 244,123.7 244.2,127.5 244.4,126.2 244.5,128.2 244.6,125.3 244.7,127.5 244.8,127.1 244.8,129.4 245,126.2 245,124.3 245.2,124.8 245.2,128.8 245.3,125.5 245.3,128.1 245.3,129.7 245.3,129 245.4,124.9 245.4,127.5 245.4,129 245.5,126.4 245.5,126.4 245.5,127.4 245.6,126.1 245.7,127.5 245.7,124.9 245.7,125.6 245.8,127 245.8,126.3 245.8,125.4 245.9,127.1 246,126 246.2,127.1 246.2,127.4 246.2,130 246.4,129 246.5,128.6 246.6,126.8 246.6,122.6 246.6,128.5 246.6,127.7 246.7,129.1 246.9,127.6 247,127.4 247,125.9 247.2,129.3 247.3,126.2 247.5,126.7 247.7,127.6 247.8,129.2 247.9,128.9 248.1,127.6 248.2,126.3 248.3,127.5 248.3,128.6 248.6,127 248.7,129.2 248.7,126.2 248.8,122.7 248.8,128.5 248.9,125.9 249,129.2 249,127.5 249.1,126.8 249.2,125.8 249.3,127.7 249.4,125.6 249.4,130 249.5,128.3 249.6,128 249.7,127.9 249.7,128.3 249.8,125.1 250,128.9 250,126.6 250.1,127.6 250.3,125.1 250.5,129 250.6,127.5 250.6,127.8 250.9,134.3 251,128.3 251,127.3 251.3,126.7 251.3,131 251.4,129.7 251.5,127.4 251.8,131.6 251.9,131.1 251.9,128.8 252.3,128.9 252.4,127.9 252.5,128.3 253.2,130.3 253.5,132.5 253.5,131.8 253.7,130.8 253.7,130.2 253.8,130.7 253.9,129.5 254,132.1 254,131.6 254,133 254,127.5 254.1,131.1 254.3,129.2 254.4,128.7 254.5,130.2 254.7,131.1 254.7,131.6 254.9,131.1 255,133.5 255,131.5 255.1,129.3 255.1,130.1 255.3,129 255.3,129.1 255.5,129.1 255.5,130 255.6,129.8 255.7,128.5 255.9,130.4 256.2,131.6 256.4,127.6 256.9,128.2 256.9,126.3 257,129.1 257,130.7 257.1,128.2 257.1,128.9 257.1,129.4 257.1,125.2 257.1,127.3 257.1,129.7 257.3,130.1 257.3,127.5 257.3,126.3 257.4,126.7 257.5,125 257.5,126.2 257.6,125.9 257.6,129.7 257.7,124.2 257.8,127 257.8,124.5 257.8,128.6 258.3,126.4 258.3,122.8 258.3,126.7 258.6,123.8 258.6,124.5 258.7,120.8 258.8,122.8 258.8,121.1 258.9,123.2 258.9,125.9 259,119.3 259.1,123.4 259.2,122.2 259.2,122.2 259.2,124.8 259.4,120.4 259.4,122.2 259.6,124 259.7,123.3 259.8,124.3 259.9,121.6 260,120.5 260.2,121.3 260.3,119.4 260.5,119.6 260.5,118 260.6,118.9 260.6,119.1 260.6,120.1 260.7,120.5 260.9,119.8 261,117.5 261.5,118.4 261.7,115.1 261.8,116.2 261.8,119.8 261.9,116.8 262,115.5 262,118.6 262.4,115.8 262.4,119.1 262.5,115.3 262.7,117.4 262.8,118.8 262.8,121.4 262.9,118.8 262.9,120 262.9,118.2 263.1,120.7 263.1,118.5 263.1,120.2 263.2,118.5 263.3,118.5 263.4,120.2 263.5,119.7 263.6,119.5 263.7,123.3 263.8,120.8 263.8,121.6 263.8,119.4 264.1,123.7 264.1,122.2 264.3,127.8 264.6,124.8 264.8,127.2 264.8,127.5 265,127.7 265,131.9 265.1,130.6 265.1,130.3 265.3,132.5 265.5,134.6 265.5,132.5 265.6,134.6 265.7,135.4 265.8,136.2 265.9,134.9 265.9,134.4 266,135.9 266.4,141.2 266.5,144.7 266.5,143.6 266.5,144.9 266.9,147.9 267.2,147.4 267.3,151.3 267.4,148.7 267.4,150.8 267.4,151.3 267.6,153.5 267.7,156.3 267.8,155.5 268,154.4 268,154.9 268,156.3 268,155.4 268.1,156.7 268.3,157.2 268.3,154.2 268.4,158.3 268.6,162.1 268.8,162.2 268.8,159.9 268.9,157.5 269.3,153.9 269.3,155.2 269.4,154.2 269.6,152.1 269.6,154.7 270.1,148.6 270.2,146.9 270.5,146 270.5,146.5 270.5,143.7 270.6,142 270.8,141.9 270.8,145.8 270.8,143 270.8,142.4 270.9,140.7 270.9,142.2 271,141.4 271,138.5 271.1,137.4 271.1,139.2 271.2,140.1 271.3,139.8 271.3,136.3 271.3,138.5 271.5,136 271.5,136.2 271.5,135.4 271.5,134.8 271.6,136.3 271.6,135.5 271.7,133.5 271.8,133.3 272,134 272.1,127.4 272.2,132.4 272.2,128.3 272.2,132.7 272.5,126.2 272.5,130.7 272.5,126.1 272.6,126.5 272.8,124.5 272.9,126.3 273,123.9 273.1,123.6 273.2,123.2 273.2,124.1 273.4,120.3 273.4,125.1 273.5,124.5 273.5,124.3 273.5,119.4 273.7,122.5 273.7,122.2 273.7,122 273.8,121.2 273.8,121 273.9,121.1 274,122.5 274.1,119 274.1,119.6 274.2,116.8 274.7,117.6 274.9,118.3 274.9,120.5 275,117.9 275.2,116.9 275.3,115.1 275.3,117.2 275.4,116.6 275.4,116.9 275.5,115.2 275.5,116 275.6,117.8 275.7,120.4 275.8,115.3 275.8,117.9 275.8,119.4 275.9,120.5 276,121.2 276.1,118 276.1,118.7 276.1,117.9 276.3,116.7 276.3,119.8 276.4,118.4 276.6,120.1 276.7,120.9 276.7,123.3 276.9,121.2 276.9,118.1 276.9,120.8 277,119.7 277.1,120.2 277.1,117 277.2,118.1 277.3,121.8 277.3,121.7 277.3,119.1 277.4,120.8 277.5,121.3 277.6,119.8 277.7,121 277.7,121.8 277.9,117.3 278,122.1 278.2,125.7 278.4,123.4 278.5,123.7 278.5,121.4 278.5,123.8 278.6,125.6 278.7,124.2 278.7,126.9 278.8,125.6 279,125.1 279.3,127.9 279.3,129.9 279.3,128.4 279.4,128.1 279.5,126.1 279.7,128.4 279.7,127.8 279.8,129.4 279.9,127.9 279.9,129.2 279.9,127.2 279.9,127.9 279.9,125.9 280,127.4 280,129 280.1,130.1 280.4,128.9 280.4,128.1 280.5,126.9 280.5,130.4 280.6,131.8 280.6,132.8 280.6,131.5 280.7,130.2 280.7,130.5 281,130.9 281,130.5 281,129.9 281,133.2 281.3,130.9 281.4,131.3 281.5,131.5 281.5,132 281.7,134.5 282,130.9 282,132.5 282.1,132 282.3,131.4 282.3,131.8 282.4,131.3 282.6,131.4 282.8,133.7 282.9,134 282.9,130.8 283,133.5 283.1,128.6 283.1,134 283.1,131.9 283.2,132.3 283.6,131.7 283.7,133.7 283.7,131.6 283.9,128.8 284,133 284.2,135.6 284.4,130.8 284.4,131.2 284.5,130.8 284.5,133.2 284.6,131.1 284.6,130.3 284.8,132.5 284.8,131.6 284.9,130.8 285,130.3 285.1,131.9 285.1,131.1 285.4,128 285.6,127.8 285.6,132.8 285.6,127.5 285.7,131.7 285.8,129.3 285.9,132.9 285.9,131.2 286,131.9 286,129.5 286,130.5 286.1,130.1 286.1,130.1 286.5,130.2 286.6,128.9 286.6,130.2 286.7,130.5 286.8,131.3 286.9,131.7 286.9,131.1 287,129.5 287.6,128.1 287.6,130 287.6,126.5 287.9,127.5 287.9,129.5 288.2,128.9 288.4,129.4 288.4,132.4 288.6,128 288.6,128.9 288.8,132 288.8,127.8 288.8,130.1 288.9,129.6 289,132 289.1,129.2 289.1,128.4 289.2,129.8 289.3,129.1 289.3,132.2 289.4,128.2 289.5,129.2 289.5,129.2 289.6,128 289.8,127.3 289.9,129.2 290,127.5 290.1,126 290.2,130.8 290.3,128.9 290.4,131.7 290.6,128.5 290.6,126.8 290.6,129.3 290.7,130.9 290.8,129.9 290.9,128.4 290.9,131.5 291,131.4 291.2,128.3 291.4,131.4 291.5,129 291.6,130.9 291.6,131.8 291.9,127.9 292,127.4 292,130.6 292.2,125.5 292.2,129 292.5,128.5 292.5,129.1 292.6,131.2 292.7,127.7 292.7,129.1 292.8,128.6 292.9,129.2 292.9,130.1 292.9,125.5 293.2,128.8 293.4,129.9 293.4,128.5 293.7,131.6 293.7,129 293.7,125.2 293.9,130.8 294.1,128.9 294.3,131.8 294.4,129.8 294.4,128 294.4,131.5 294.4,131.4 294.5,127.9 294.7,129.5 294.7,128.8 294.7,129 294.8,132.1 295,132.8 295,133.1 295.2,129.2 295.2,132.4 295.5,133.1 295.6,131.1 295.9,130.4 296.1,129.8 296.3,133.3 296.3,128.1 296.5,131.9 296.5,130.1 296.5,130.4 296.5,132 296.5,129.7 296.6,129.8 296.6,128.4 296.8,127.1 296.8,126.8 296.9,128.8 297,129.2 297,130.9 297,132.8 297.1,129.7 297.1,131.3 297.1,130.8 297.1,131.2 297.2,129.7 297.2,131 297.2,126.4 297.3,128.9 297.4,131.2 297.6,129.8 297.6,128 297.8,132.4 297.8,130 297.9,131.3 297.9,130.3 298,131.2 298,130.1 298.1,129.6 298.1,129.3 298.2,132.9 298.3,129.2 298.5,130.3 298.5,131.4 298.6,130.5 298.6,127.7 298.7,130.6 298.8,131.8 298.8,129.2 298.9,130.7 299,129.2 299.2,129.9 299.2,128 299.5,131.3 299.6,131 299.7,128.5 299.7,127.5 299.8,129.9 299.9,128.3 300,129.5 300.2,130.3 300.3,133 300.4,126.7 300.7,128.3 300.7,134 300.8,128.9 300.8,131.2 301.1,131.9 301.3,131.2 301.3,129 301.4,130.3 301.5,130.6 301.5,130.5 301.5,130.8 301.6,129.3 301.6,133.6 301.7,132.4 301.7,130.5 301.7,132.2 301.8,129.9 301.8,130.8 302,129.5 302.1,130.5 302.1,129.2 302.2,130.2 302.2,128.9 302.3,130.7 302.7,133 302.7,130.1 302.8,130 302.9,130.9 302.9,128.4 303,129.2 303,127.4 303.1,130.6 303.1,130.7 303.2,129.1 303.2,127.5 303.2,131.1 303.5,129.1 303.8,130 304.1,130.4 304.1,128.4 304.1,128.5 304.2,128.7 304.2,131 304.4,129.9 304.5,132.7 304.5,129 304.5,132 304.6,130.3 304.6,128.5 304.7,130.3 304.9,129.6 304.9,131 305,125.5 305.1,131.9 305.2,130.8 305.4,130.1 305.6,125.5 305.6,130.8 305.9,129.7 305.9,128.5 306.1,133.3 306.1,128.3 306.1,129.2 306.3,127.2 306.3,127.2 306.4,128.9 306.4,127.9 306.4,130.8 306.4,131.6 306.6,130.1 306.8,129.4 307,130.2 307,129 307.1,128.6 307.2,126.8 307.2,129.9 307.3,130.4 307.4,128.9 307.7,129.3 307.8,128.7 307.8,126.8 307.9,131 307.9,128.4"/>
<polyline fill="none" stroke="none" marker-start="url(#mb)" marker-mid="url(#mb)" marker-end="url(#mb)" points="41.6,93.1 41.6,93.3 41.9,101.4 41.9,98 41.9,93.3 41.9,97 42,95.8 42,97.4 42,93.3 42,96.4 42.1,97.9 42.1,96.8 42.8,93 42.8,95.9 42.8,101.8 42.9,103.2 42.9,95.1 43,102.1 43,96.8 43.1,99.3 43.2,96.7 43.4,99.5 43.5,104.3 43.9,93.3 43.9,97.6 43.9,98 43.9,92.9 44.1,95.5 44.3,94.3 44.3,98.1 44.5,97.2 44.5,96.2 44.5,99.3 44.8,95.2 44.9,96.3 44.9,98.5 45,98.8 45.1,95.1 45.2,98.1 45.3,96.4 45.3,96.8 45.4,98.2 45.5,106.9 45.6,96.6 45.6,95.3 45.8,99.5 45.9,99.6 46,95.1 46.1,101.1 46.2,94.1 46.2,96 46.4,93.7 46.4,97.8 46.6,97.4 46.6,96.9 46.9,102.2 47,100.3 47.2,94.6 47.4,99.7 47.4,100.5 47.6,96.8 47.6,93.8 47.7,98 47.8,98.6 47.8,97.9 47.8,96.6 48.1,102.4 48.4,96.8 48.5,96.7 48.5,94.9 48.6,94.8 48.7,96 48.7,92.1 48.8,97.8 49.1,98.2 49.3,93.2 49.3,97.6 49.4,99.6 49.4,99.5 49.5,98 49.6,101.8 49.7,95.1 49.8,97.1 49.9,94.3 50,100.9 50,99 50.2,99.8 50.2,96.4 50.5,96.9 50.7,95.8 50.8,96 50.9,101.1 51,97.2 51,97.7 51.2,98 51.4,96.5 51.5,103.4 51.7,99.9 51.8,98.7 51.8,100.4 51.8,101.3 51.9,95.3 52,95.5 52,93.1 52,100.7 52.1,104.6 52.2,96.1 52.3,99 52.4,101.1 52.4,96.6 52.4,98.3 52.8,103 52.9,97.8 53.1,102.7 53.2,96.5 53.4,101.5 53.6,102.3 53.6,95.9 53.6,95.2 53.8,98.6 54.1,101.1 54.1,96.1 54.1,97.4 54.2,97.1 54.4,98.8 54.6,101.9 54.8,98.9 54.8,93.5 55,99.4 55.1,97.8 55.2,97.6 55.3,94.7 55.3,96.6 55.5,98.5 55.5,91.9 55.6,96.7 55.9,96.3 55.9,99 56.1,101.4 56.1,95.8 56.2,98 56.3,96.1 56.3,103.3 56.4,92.2 56.6,96.8 56.7,94.5 57,99.8 57.2,96.4 57.6,96.2 57.7,93.4 57.7,94.3 58,102.4 58,95.9 58,96.2 58.1,97.4 58.2,95.9 58.2,94.9 58.4,93.8 58.6,99.8 58.6,98.9 58.6,96.4 58.7,94.6 58.8,99.3 58.9,96.5 59,100.1 59,96.4 59.1,97.1 59.1,95.1 59.2,92.6 59.2,98.8 59.2,95.4 59.2,101.1 59.3,95.7 59.3,91.6 59.4,101 59.4,98.1 59.5,105.7 59.5,95.4 59.5,90.4 59.6,99.3 59.6,95.7 59.9,92.8 59.9,99 60,96.2 60.1,99 60.3,98.3 60.4,97 60.5,94.6 60.6,96.5 60.6,97.3 60.6,97.7 60.7,94.2 61.1,96.1 61.3,96.5 61.3,103.1 61.5,98.5 61.7,101.2 61.7,93.1 61.8,96.3 61.9,94.1 61.9,100.7 62,102.8 62,100.7 62,96.6 62.1,100.5 62.2,96.6 62.4,94.9 62.8,100.3 62.9,96.6 63,105.9 63,103.2 63.1,101.4 63.1,100.7 63.2,104 63.4,101.1 63.4,97.1 63.4,97.7 63.5,99 63.6,102.9 63.7,96.3 64,98.9 64.3,104 64.3,98.3 64.6,102.3 64.6,99.8 64.6,100.3 64.7,99.8 64.7,97.2 64.8,94.3 64.8,100.4 64.9,101.2 64.9,101.7 65.2,100.4 65.3,100.1 65.4,105.6 65.5,101.6 65.6,95.3 65.9,99.7 65.9,98.8 65.9,102.1 66.2,95.7 66.2,100.2 66.2,102.8 66.3,104.1 66.5,100.5 66.7,96.7 66.8,103.6 67.1,104.3 67.1,108.1 67.1,99.4 67.2,104.5 67.2,103.5 67.2,104.4 67.3,103.8 67.4,98.9 67.7,102.9 68,99.6 68,102.2 68.1,101.1 68.1,98.1 68.1,98 68.1,103.3 68.4,99.3 68.4,102.1 68.4,97.3 68.4,101.1 68.5,101.9 68.5,96.6 68.7,100.2 68.7,98.2 68.9,95.9 69.1,99.1 69.3,97.6 69.6,94 69.8,88.5 70.2,92 70.3,91.1 70.5,92.3 70.5,92.4 70.5,87.9 70.6,94.2 70.6,93.9 70.7,87.4 70.7,93.9 70.8,94.8 70.9,89.2 71,87.6 71,85.4 71,83.8 71.2,96.1 71.2,90.1 71.4,89.6 71.5,87.2 71.5,90.7 71.6,88 71.7,86.8 71.8,86.9 71.9,89.5 71.9,86.1 72.1,89 72.1,88.7 72.2,86.8 72.3,83.2 72.4,91.2 72.5,85.3 72.6,81 72.6,84.4 72.6,86.4 72.7,83.8 72.8,79.9 72.8,84.8 73,86.1 73,81.8 73,84.8 73.2,85.8 73.3,81.3 73.3,86.1 73.3,84.5 73.5,79.7 73.5,83.1 73.5,79.8 73.6,88.7 73.8,87.8 73.8,85.8 73.8,83.9 73.9,89.1 74,82.9 74,85.2 74,85.1 74,83.6 74.1,84.4 74.1,87.2 74.2,84.5 74.3,87.4 74.3,80.2 74.4,85.6 74.4,85 74.5,86.3 74.5,84.4 74.6,83.9 74.7,85.5 74.7,88.2 74.8,82.1 74.8,85.4 74.9,91.2 75.1,92.9 75.1,89.9 75.2,90.2 75.2,92 75.3,90.1 75.5,87.5 75.6,85.9 75.7,89.3 75.7,89.1 75.9,88.3 75.9,85.3 76,88.5 76,90.3 76.1,93.3 76.3,97.4 76.6,95.6 76.7,94.5 76.7,97.4 76.9,101.5 77.4,103.9 77.5,107 77.5,108.8 77.7,115.6 77.8,108.5 78,114.4 78,110 78,115.5 78.2,114.8 78.3,118.6 78.3,112 78.6,116.5 78.9,124.6 79,121.1 79,129.4 79,124.3 79.1,128.7 79.4,131.2 79.6,133.5 79.6,130.9 79.6,138 79.6,134.3 79.6,129 79.7,140.3 79.8,135.3 79.9,139.6 80,144.1 80.1,136.5 80.2,139.2 80.2,134.7 80.3,143.9 80.3,137.5 80.5,134.8 80.7,144.3 80.7,136.9 80.7,136.7 80.7,138.1 80.8,134.1 80.8,136.1 80.8,140.1 80.8,140 80.8,138 80.9,132.4 81,136.9 81.2,131.9 81.2,134.7 81.2,132.4 81.3,131.5 81.4,129 81.4,126.6 81.5,132.6 81.5,134.3 81.7,129.7 81.7,129.5 81.7,127.9 81.7,125.6 81.9,127.6 82,125.8 82,125.5 82,122 82,126.5 82.1,120.6 82.1,118.4 82.2,123.5 82.3,117.8 82.3,120.2 82.4,120.2 82.4,113.9 82.6,114.1 82.7,117.3 82.9,112.3 83.1,114 83.2,114.2 83.2,106.8 83.3,108.8 83.3,103.8 83.4,107.2 83.4,106.6 83.5,106.9 83.5,105.5 83.8,105.2 83.9,102.6 83.9,106.7 84,106.2 84.1,103.7 84.2,101 84.3,97.7 84.4,97.6 84.4,93.3 84.4,89.3 84.5,102.6 84.6,90.3 84.7,91.1 84.8,95.1 84.8,92.6 84.9,98.2 84.9,92.8 85,87.4 85,94.8 85.1,92.6 85.1,90.4 85.2,88.5 85.2,90.3 85.3,91.5 85.4,86.8 85.5,90.1 85.6,80.8 85.6,84 85.7,87.1 85.7,89.6 85.7,88.9 86,88.1 86.1,86.7 86.1,84.2 86.2,88.8 86.3,84.5 86.3,84.9 86.3,87.7 86.3,81 86.3,83.3 86.4,83.8 86.4,86.3 86.4,86.6 86.4,84.3 86.5,88.6 86.5,83.3 86.6,87.5 86.6,84.2 86.6,82.1 86.7,84.8 86.7,85.8 86.7,86.1 86.8,83.3 87,86.8 87.2,83.6 87.2,80.6 87.7,89.1 87.7,86 87.7,82.9 87.7,86.9 87.8,86.9 87.9,87.5 87.9,81.5 87.9,90.3 88,84.5 88.1,85 88.1,84.4 88.5,87.6 88.5,85.1 88.5,86.9 88.5,87.9 88.8,78.7 88.8,83.3 88.8,89.5 88.9,88.5 89,85.6 89,82.7 89,87.5 89.2,85.3 89.2,86.9 89.2,84.3 89.3,89.4 89.3,90.2 89.5,87.8 89.5,87.8 90,90.4 90.1,87.2 90.1,88.9 90.2,90.9 90.3,95 90.4,90.1 90.6,90.6 90.7,95 90.7,93.6 90.9,97.4 90.9,93.8 91.3,96 91.3,100.8 91.4,95.8 91.5,97.3 91.7,97.9 91.7,93.9 91.8,95.9 91.9,94.9 92.1,99.2 92.2,94.4 92.2,100.7 92.5,97.2 92.7,104.1 92.8,99.3 92.9,103.1 92.9,104.4 92.9,98.3 93,99.8 93,99 93.1,100.5 93.5,100.4 93.5,101.4 93.6,101.8 93.8,101.3 93.8,95 93.8,104.5 93.9,106 94,104.4 94,103.7 94,100.2 94.1,98.7 94.2,98.6 94.4,102.6 94.4,99.9 94.4,96.6 94.6,100.2 94.7,98.3 94.9,104.9 95,99.5 95,99.7 95.2,105.6 95.2,101.9 95.4,100.2 95.5,104.5 95.7,99.2 95.8,99 95.8,100.9 95.8,102.1 95.9,102.3 95.9,100.7 96,98.4 96,105.6 96.1,101.1 96.1,100.9 96.2,104 96.3,105.2 96.4,102 96.4,106.3 96.4,100.7 96.5,102.2 96.5,104.5 97,100.7 97.2,103.1 97.2,102.6 97.5,96.9 97.5,102.5 97.6,107.5 97.7,99.2 97.7,103.1 97.7,102.6 97.9,95.3 97.9,100 97.9,97.4 98,103.8 98,102.7 98,102.1 98.1,97.5 98.1,101.5 98.2,105 98.2,97.2 98.3,100.9 98.3,99.1 98.4,97 98.5,92.8 98.7,99 98.8,94.1 98.8,102.7 98.9,98.2 99.1,97.6 99.1,104.9 99.2,101.2 99.2,100.5 99.2,96.9 99.3,99.6 99.4,99.3 99.4,100 99.5,96.7 99.6,98.1 99.6,98.1 99.7,98.5 99.9,95.7 99.9,99.7 99.9,97.6 100.1,97.4 100.2,96.2 100.2,94.4 100.3,96.2 100.3,101 100.4,94.2 100.4,93.6 100.4,93.4 100.6,94.4 100.7,101.3 100.8,97.1 100.9,94.4 100.9,94.3 101,96.9 101,96.2 101.2,99.6 101.6,95.2 101.8,102.3 101.9,96.9 101.9,93.5 102,99.7 102,92.5 102.1,90.5 102.1,94.7 102.3,97.7 102.4,97.5 102.7,99.6 102.9,94 102.9,99.4 103,95.6 103,99.3 103,94.6 103.2,100.2 103.2,96.5 103.2,98.3 103.2,93.2 103.2,97.3 103.6,96.7 103.6,93 103.6,99.5 103.7,99.9 103.9,96.5 104,99.3 104,91.6 104.1,96 104.2,95.7 104.3,97.5 104.3,105.6 104.4,92.9 104.6,97 104.8,102.6 104.9,99.9 105.3,97 105.4,93.4 105.4,96 105.5,95.9 105.5,96 105.6,99.6 105.7,99 105.7,97 105.7,101 105.7,97 106.2,95.3 106.3,104.1 106.4,98 106.4,98.1 106.5,97.1 106.6,92.4 106.6,101.4 106.7,91.9 106.8,95.5 106.8,90.3 107,98.6 107.1,96.5 107.2,98 107.2,96.2 107.2,100.2 107.2,99.9 107.3,98.2 107.4,95.8 107.4,101.5 107.4,98.7 107.4,99.5 107.4,96.9 107.4,95.3 107.5,102.1 107.6,100.7 107.6,98.8 107.7,100.7 107.8,93.7 107.8,92.9 107.8,95.7 107.9,96.4 107.9,101.1 107.9,100.7 108.1,96.7 108.1,93.6 108.2,99 108.3,97.1 108.3,93.3 108.5,93 108.8,101 108.9,97.3 109,95.9 109.1,102.9 109.2,99.5 109.3,97.6 109.5,99.7 109.5,96.7 109.5,99.3 109.6,103.2 109.6,101.9 109.7,104.4 109.8,102.1 109.9,96.6 109.9,97.5 110,96.9 110,94.6 110.2,101.6 110.3,99.8 110.3,98 110.4,93.5 110.4,97.5 110.5,98.7 110.5,97.5 110.5,101 110.6,104 110.7,97 110.8,99.6 110.9,97 110.9,101.8 110.9,101 110.9,96.1 110.9,97.7 111,95.6 111,100.3 111.1,98.1 111.2,96.3 111.2,95.7 111.2,98.4 111.3,97.5 111.4,98.6 111.6,98.7 111.6,98.5 111.6,97 111.8,102.2 111.8,98.4 111.9,101.3 111.9,98.3 112.1,99.1 112.3,97.8 112.3,99.1 112.5,98.8 112.6,102.3 112.8,94.3 112.8,102.3 112.8,103.8 113,97.3 113.1,96.6 113.4,98.6 113.5,99.2 113.6,101.6 113.6,92.9 113.7,103.2 113.7,91.5 113.7,102.9 113.8,101.2 113.8,99 113.8,99.6 113.8,96.9 114.1,100.7 114.1,99.2 114.2,102.8 114.4,94.8 114.4,99.1 114.5,100.4 114.5,98.1 114.5,95.5 114.7,97.1 114.8,100.1 114.9,97.6 115,97.1 115,96.8 115.1,98.9 115.2,96 115.2,101.2 115.2,97.6 115.4,100.3 115.4,97.7 115.5,99.6 115.5,95.9 115.6,99 115.6,94.4 115.9,100.5 116.2,94.8 116.2,100.3 116.3,105 116.4,100.7 116.4,95.3 116.6,97.2 116.6,96.4 116.6,98.9 116.8,96.8 116.8,100.6 117,92.8 117,93.1 117.1,96.4 117.3,99.4 117.3,99.6 117.4,95.9 117.5,96.6 117.5,100.3 117.6,95.5 118,95.1 118.1,96 118.1,96.4 118.2,96.9 118.4,97.6 118.4,98.4 118.5,99.3 118.7,94 118.7,102 118.9,97.2 118.9,95 119,90.9 119.1,98.5 119.1,93.5 119.2,93.8 119.3,94.7 119.3,92.1 119.3,102.2 119.5,94.6 119.6,97.7 120,96.1 120.1,97.8 120.2,99.8 120.3,102.8 120.6,96.2 120.7,98.1 120.8,101.2 120.9,97.8 121,100.6 121.2,100 121.3,97 121.3,95.2 121.4,103.1 121.4,97.8 121.5,95.8 121.5,101.2 121.6,98.5 121.8,96.7 121.8,94.9 121.8,100.9 121.9,102.3 121.9,99.4 121.9,99.1 122.1,97.8 122.3,97.6 122.3,103.3 122.3,95.6 122.4,102.5 122.4,96.7 122.5,96.3 122.6,96.5 122.6,96.9 122.9,96.7 122.9,100 123.1,100.2 123.1,91.6 123.2,93.2 123.3,93.8 123.4,95.4 123.5,102.4 123.6,92.3 123.7,98.4 123.7,97.8 123.9,95.5 124.4,99.7 124.5,94 124.5,104.8 124.6,94.2 124.6,96.3 124.7,100.3 124.8,95.4 124.9,94.4 124.9,95.5 124.9,95.1 125,98.5 125,94.8 125,94.8 125.2,94.1 125.3,95.9 125.3,102.7 125.5,96.3 125.6,101.7 125.7,100.1 125.7,98.3 125.7,97.4 125.9,98.8 125.9,97 126.2,96.5 126.2,97.5 126.7,97.8 126.8,97 126.9,96 126.9,100.8 127,102.4 127,95 127.2,97.7 127.3,104.9 127.4,94.9 127.5,94.8 127.7,103.5 127.7,101.6 127.9,99.7 127.9,101.7 128.1,100 128.1,98.4 128.1,95.3 128.1,105.4 128.3,97.9 128.4,95 128.5,105.3 128.5,97.2 128.6,98.4 128.7,99.8 129,95.9 129,94.3 129.1,94.9 129.1,92.1 129.2,100.2 129.2,104.1 129.3,99.6 129.3,97.6 129.4,94.7 129.5,96.5 129.6,99.8 129.6,94.1 129.6,96.7 129.7,97.4 129.7,98.6 129.8,96.8 129.9,96.3 129.9,97.9 130.1,105 130.2,100.6 130.2,96.7 130.3,93.4 130.4,94.5 130.4,94.7 130.4,92.9 130.4,96 130.4,94.1 130.5,94.9 130.5,97.2 130.6,100.5 130.6,102.7 130.7,96.6 131.1,101.5 131.1,98.2 131.2,95.7 131.2,99.9 131.3,95.2 131.3,97.6 131.4,100.4 131.7,96.1 132,95.7 132,99.2 132.1,96.3 132.1,101.1 132.1,97.4 132.1,96.8 132.2,100.7 132.3,97.4 132.5,93.4 132.5,99.6 132.5,101 132.6,101.9 132.8,100 133,100.9 133.1,102.5 133.1,97.3 133.2,96.7 133.3,100.5 133.3,97.4 133.4,94.8 133.6,96.5 133.7,97 133.7,95.5 133.8,99.5 133.9,94.9 133.9,92 133.9,99.4 134.1,103 134.1,99.6 134.1,100.4 134.1,96.8 134.4,93.9 134.4,95.8 134.4,92.4 134.4,96.1 134.7,97.2 134.8,103.1 134.8,96.2 134.9,99.2 135,98.9 135.2,98.1 135.3,92.6 135.5,94.8 135.5,97.3 135.7,101.5 135.8,98.6 136,98.1 136,94.7 136.1,95.7 136.1,95.8 136.1,100.1 136.2,94.5 136.2,89.4 136.2,101.4 136.3,100.4 136.6,97.1 136.6,94.5 136.7,96.6 136.7,97 136.9,93 136.9,100.5 136.9,103.4 137.2,101.9 137.7,95 137.7,94.6 137.7,98.6 137.9,101.7 137.9,100 137.9,96.4 138,94.7 138.2,99.4 138.3,100 138.3,100.3 138.4,99.4 138.6,95.6 138.6,97.1 138.7,96.6 139,97.4 139,97.1 139,101.5 139,100.8 139.1,96.7 139.1,96.5 139.1,94.5 139.2,97.9 139.3,100.2 139.3,98.3 139.4,98.4 139.4,96.1 139.4,98.2 139.4,96.1 139.4,96 139.8,96.1 139.9,95.9 140.1,100.6 140.3,94.3 140.3,92.8 140.3,95.2 140.4,92.9 140.4,96.3 140.4,99.1 140.4,95.9 140.5,97.6 140.5,97.8 140.7,92.8 140.9,100.1 141,94.2 141,99.1 141,102.5 141.1,95.3 141.3,97.2 141.3,96.8 141.9,96.8 142.1,94.4 142.1,96.5 142.3,98.3 142.3,97.8 142.4,96.2 142.6,99.2 142.6,96.4 142.7,103.5 142.7,97.9 142.7,97.6 142.9,95.6 142.9,100.8 142.9,98.2 142.9,96.3 142.9,89.4 143,97.1 143.1,95.9 143.2,99.2 143.2,91.4 143.2,98.3 143.2,98.4 143.2,97.3 143.2,101.5 143.2,100.6 143.4,98.8 143.4,100.1 143.6,95 143.6,99.3 143.7,91.5 143.7,97.1 143.9,100 144,97.5 144.1,96 144.2,98 144.3,96.7 144.3,98.7 144.4,100.3 144.4,98.4 144.6,93.1 144.7,99.3 144.8,98.3 144.9,102.5 145.1,100 145.2,97.2 145.2,99.2 145.3,94.9 145.4,95.4 145.4,99.5 145.5,98.5 145.5,96.3 145.6,97.2 145.6,99.1 145.7,103.5 145.7,94.3 145.8,98.1 145.8,97.7 145.8,100.2 145.9,94 145.9,98.5 146,97.7 146.1,103.9 146.2,99.5 146.3,98.3 146.5,97 146.5,96.1 146.6,98.7 146.7,95.2 146.9,98.4 146.9,98.5 147,98 147.1,102.8 147.3,104.3 147.5,92.6 147.5,102.8 147.5,99.6 147.5,96.2 147.5,99.8 147.6,94.7 147.6,103.5 148,97.3 148,95.9 148,91.4 148.1,93.4 148.1,99.7 148.1,95.2 148.1,96.8 148.3,101 148.4,99 148.4,94.5 148.4,98.3 148.6,100.1 148.7,99.1 148.8,100.9 148.8,101.7 148.9,96.2 148.9,95.9 149,94.1 149.2,101.5 149.2,100.2 149.3,95.8 149.3,96.5 149.4,97.4 149.5,100.2 149.6,97.7 149.6,100.8 149.7,92.4 149.8,94.7 149.8,99.5 149.9,93.1 150.1,99.4 150.2,94.8 150.4,95.8 150.4,97.4 150.5,92.4 150.7,100.9 150.8,97 150.8,97 150.8,101.2 150.8,100.4 151,95.6 151.2,95.1 151.4,98.6 151.5,94.1 151.6,94.3 151.7,93.4 151.7,96.3 151.8,95.8 151.8,93.8 151.8,97.1 151.9,97.9 151.9,99 152,94 152.1,91.8 152.3,100.7 152.6,96.1 152.7,93.2 152.7,91 152.8,94.5 153,97.6 153.1,93.2 153.2,88.6 153.3,94.1 153.4,93.2 153.5,90.3 153.7,99.5 153.9,93.1 153.9,91.1 154,92.5 154.1,95 154.2,96.5 154.3,97.2 154.6,99.7 154.7,97.5 154.7,99.5 154.8,96.4 154.9,96.9 154.9,98 155,97.6 155.2,96.6 155.2,100.4 155.2,95 155.2,96.3 155.3,95.3 155.3,98 155.4,97.6 155.4,96.7 155.6,97.1 155.6,98.5 155.6,98.4 155.6,99 155.7,98.8 155.9,100.1 156.2,100.9 156.2,101.5 156.4,95.1 156.5,101.2 156.7,100 156.8,102.7 156.8,99.4 156.9,96.6 157,102.4 157.3,100.6 157.4,101.5 157.4,98.8 157.5,101.8 157.6,102 157.7,102.5 157.7,107.6 157.7,99.1 157.9,97.6 158,105 158,100 158,102.6 158.2,98.6 158.4,104.9 158.4,102 158.6,99.8 158.6,102.1 158.7,103.2 158.8,104.1 158.8,105.8 158.8,103.6 158.8,106.9 158.9,99.3 159,102.6 159,104.8 159.2,109.2 159.3,101.5 159.3,100.6 159.3,103.3 159.3,102 159.8,102.5 160.3,105.5 160.3,106.2 160.3,105 160.4,101.5 160.5,107.1 160.5,110.2 160.6,104.9 160.7,104.8 160.8,105.4 160.8,104.6 160.9,108.8 160.9,107.7 160.9,106.3 161,105.1 161.1,103.3 161.2,102.4 161.5,103.6 161.5,104.5 161.6,107 161.8,104.8 161.9,108.2 161.9,105.3 162,101.6 162,101.1 162,106 162.1,98.8 162.2,109.8 162.3,100 162.4,101.6 162.4,102 162.4,100.1 162.6,101.9 162.9,91.5 163,100.2 163,99.6 163.2,96.2 163.3,103.4 163.4,96.7 163.5,100.7 163.5,91 163.5,97.1 163.6,95.5 163.9,99.5 163.9,86.8 164,98.8 164,97.7 164.2,93.9 164.2,99 164.6,92.8 164.7,89.1 164.8,82.8 165,81.5 165.1,88.9 165.1,86.7 165.3,80.9 165.3,78.5 165.3,85.8 165.5,82.6 165.5,81.6 165.6,80.1 166,78.8 166.2,70 166.2,77.5 166.2,71.9 166.3,73.9 166.3,62.5 166.3,70.1 166.5,81.8 166.6,71.7 166.7,81.5 166.8,67.9 166.8,74.1 166.9,80.6 166.9,76.3 167.4,72.1 167.5,64.6 167.8,69.6 167.9,67.9 168,72.6 168.1,72 168.1,76.1 168.2,71.9 168.5,71.8 168.5,71.1 168.6,74.6 168.6,72.4 168.7,73.5 168.7,70.8 168.7,74.7 168.8,74.8 168.8,76.1 168.9,75.8 168.9,74.1 169,77.8 169.1,68.8 169.2,70.2 169.2,73.1 169.2,71.8 169.2,80.5 169.6,81.3 169.6,80.7 169.7,78.7 169.7,76.6 169.9,78.2 170,89.4 170.1,84.4 170.2,80.4 170.2,86.9 170.3,84.7 170.4,96.3 170.4,89.4 170.5,90.9 170.5,99.2 170.5,87.1 170.8,89.4 170.8,92.5 170.8,97.8 170.8,97.2 170.9,101 171.1,98.7 171.3,102.6 171.3,99.9 171.4,107.6 171.6,107 171.6,113.8 171.6,116.2 171.7,114.4 171.8,120.8 171.8,121.4 172,116.9 172,118.9 172.2,129.1 172.2,129.9 172.2,126.9 172.2,129.6 172.2,123.9 172.4,133 172.5,139.4 172.5,138.7 172.6,134.4 172.6,127.4 172.8,139.8 172.9,149 172.9,146.9 173,145.5 173,147.6 173,146.8 173.1,139.1 173.3,157.9 173.4,160.9 173.6,160.5 173.6,161.1 173.7,162.7 173.9,162.4 173.9,167.2 174.1,167.1 174.3,173.7 174.3,173.7 174.4,184.3 174.7,183.9 174.9,181.2 174.9,176.1 175,181.1 175,181.9 175.2,178.3 175.3,165.8 175.6,174 175.7,164.4 175.7,164.1 175.9,154.8 175.9,157.1 176,159.2 176,153.2 176.1,150.7 176.1,156.9 176.1,162.6 176.1,160.2 176.3,151 176.3,154.6 176.5,146.3 176.5,141 176.5,144.8 176.7,131.8 176.7,142 177.4,129.1 177.4,122.4 177.6,114.7 177.6,125.2 177.6,116.1 177.7,109.2 177.8,112.7 178,101 178.2,112.8 178.2,103 178.4,108.5 178.5,107.9 178.5,105 178.8,89.7 178.8,91.9 178.8,86.9 178.9,95.7 179,97.7 179.1,85.3 179.1,91.2 179.2,93.5 179.3,82.9 179.4,80.1 179.4,88 179.5,82.6 179.6,79 179.8,83.7 179.8,83 180,76.1 180,70.1 180.1,80.5 180.2,72.2 180.3,72.6 180.4,73.2 180.4,74.6 180.4,77.3 180.6,70.2 180.6,73.3 180.8,82.3 180.9,69.9 181,74.5 181.1,71.4 181.1,62.2 181.2,69.1 181.2,79.3 181.4,72.2 181.5,75.1 182.1,67 182.5,86 183,73 183.1,75.3 183.3,78.5 183.4,76 183.5,70.9 183.7,87 183.7,81.8 183.7,79.9 183.8,79.9 183.8,81.3 184,80 184,81.5 184,83.7 184.1,89.3 184.1,79.9 184.3,78 184.3,79.2 184.3,82.1 184.4,80.1 184.4,90.2 184.4,81.8 184.4,83.6 184.6,86.3 184.6,81.9 184.7,87.4 184.8,89.2 185,92.5 185.1,96.5 185.2,92.2 185.2,84.4 185.2,84 185.5,94.6 185.7,93.1 185.7,88.7 185.7,98 185.9,96.9 186,101.3 186.1,91 186.5,101.3 186.6,100.6 186.8,100.4 186.9,103.7 187,92.4 187.1,97.5 187.1,94.5 187.1,108.9 187.2,99.2 187.4,103.3 187.5,106.8 187.8,103.7 188,99.1 188.4,101.3 188.5,107 188.5,93.8 188.5,101.5 188.6,108.1 188.6,108.2 188.8,107.6 188.9,105.8 188.9,107.3 189,107.7 189.1,102.4 189.2,107.7 189.2,105.1 189.3,107.5 189.5,106.3 189.6,101.5 189.8,105.1 189.9,102.6 190.1,105.1 190.1,101.2 190.2,104.8 190.3,101 190.3,108.7 190.5,100.7 190.5,102.8 190.5,107.1 190.5,106.4 190.6,110.5 190.6,105 190.6,103.6 190.7,105.7 190.8,100.6 191,110.4 191,104.2 191,107.4 191.1,104.9 191.1,100.6 191.7,102.1 191.7,97.4 191.7,103.1 191.8,104 191.8,102.7 191.9,106.4 191.9,104.4 191.9,101.9 192.2,98.2 192.3,104 192.4,103.3 192.4,105.4 192.4,104.9 192.4,100.9 192.5,100.5 192.6,99.4 192.8,100.8 192.8,96.7 192.8,105.3 192.9,99.8 193.2,97.2 193.2,100 193.2,97.7 193.3,99.6 193.3,99.9 193.4,98.2 193.4,100.6 193.5,98.6 193.6,96.4 193.8,101.2 193.8,95.8 193.8,94.3 194,92.5 194.1,98.2 194.1,93.9 194.2,102.7 194.3,101.1 194.5,96.5 194.6,99.9 194.6,99.4 194.6,99.6 194.7,97.4 195,98.1 195.1,98.9 195.1,96.2 195.1,97.6 195.2,96 195.3,94.9 195.4,94.2 195.4,96.4 195.4,97 195.5,97 195.5,98.9 195.9,94.1 196.1,95.5 196.2,92.3 196.2,94.4 196.3,96.7 196.4,92.8 196.4,96.1 196.4,95.5 196.6,93.9 196.7,94.5 196.9,97.4 197,93.2 197,94.1 197,95.3 197.3,95.9 197.4,94.6 197.5,99.6 197.5,91.6 197.7,102.5 197.7,98.3 198.1,98.4 198.2,94.6 198.3,95.6 198.3,94.7 198.4,99.2 198.4,92.4 198.4,93.2 198.4,101.8 198.5,95.3 198.5,101.4 198.6,97.5 198.7,94.4 198.7,96 198.8,99.8 198.8,97.9 198.8,93.1 198.9,95.7 199.2,94.3 199.3,101.2 199.7,95.2 199.7,96.2 199.7,99.4 199.8,92.8 199.9,96.9 200,94.4 200.1,98.4 200.2,95.9 200.2,95.5 200.2,97.3 200.4,96.8 200.4,96.3 200.5,97.5 200.6,100.8 200.6,96.3 200.6,97.6 200.7,96.6 200.8,99.7 200.9,93.2 200.9,94.9 200.9,93.6 201,92.2 201.1,94.7 201.3,98.5 201.3,101.2 201.4,94.5 201.4,96.9 201.5,95.4 201.5,94.1 201.6,98.3 201.7,100.4 201.8,96.7 201.8,99.1 201.8,100.3 201.8,96.9 201.9,98.6 202,96.6 202,101.1 202.1,98.4 202.2,98.8 202.3,98.2 202.5,99.9 202.5,96.4 202.5,102.2 202.5,97 202.6,95.2 202.7,98.3 202.7,98.1 202.8,100.5 202.9,97.6 203.1,97.2 203.3,97.9 203.5,97.4 203.5,97 203.7,97.9 203.7,103.6 203.8,101.6 204,98.8 204.2,92.6 204.4,95.6 204.7,98.6 204.7,99.1 204.8,99.8 204.9,96.9 205.1,99.4 205.1,98.4 205.2,101 205.3,99.7 205.4,101.2 205.4,100.7 205.4,99.5 205.4,95.3 205.7,97.5 205.8,95.6 205.9,99.7 205.9,97.7 206,100.1 206.2,98.9 206.2,98.8 206.2,102.9 206.2,98.3 206.3,101.7 206.3,97 206.3,100.1 206.4,102.7 206.4,101.6 206.5,100.8 206.7,94.4 206.7,101.8 206.7,99.4 206.7,97.9 206.7,98.8 207,98.5 207.3,96.3 207.3,100.2 207.4,93.5 207.4,94.5 207.5,97.6 207.6,94.4 207.8,97.8 208,99.2 208.5,101.2 208.7,99.8 208.9,96.3 208.9,97 208.9,93.5 208.9,93.6 209,95.4 209,97.5 209.1,93 209.1,98 209.2,104.4 209.3,98.6 209.4,96.5 209.4,96.2 209.5,96.2 209.5,95.7 209.6,104.8 209.7,91.5 209.9,96.2 210.1,97.5 210.3,103 210.4,95.4 210.4,100.5 210.5,103.2 210.6,96.1 210.6,96.2 210.7,98.1 210.9,100.2 210.9,96.5 211,97.5 211.1,96.8 211.1,96.6 211.2,101.8 211.3,96.5 211.4,101.2 211.4,96.4 211.8,98.8 211.8,99.1 211.8,93.2 211.8,97.1 211.8,97.2 211.9,95.6 211.9,91.7 212.1,105.6 212.1,96.3 212.1,97.5 212.3,94.5 212.4,97.6 212.5,97.8 212.6,96 212.6,97.7 212.7,100.1 212.8,97.5 213.1,92.5 213.2,96 213.3,104 213.3,98 213.3,100.3 213.4,95 213.5,100.8 213.5,97.9 213.5,96.2 213.6,95.3 213.6,99.4 213.7,96.9 213.8,91.3 213.8,99.5 214.1,97.5 214.1,100.1 214.2,98.2 214.3,96.3 214.4,97.5 214.5,95.8 214.6,101.2 214.7,97.2 214.9,98.5 215,105.7 215.1,94.6 215.2,97.4 215.2,99.3 215.5,94.7 215.5,96.2 215.5,104.3 215.5,96.4 215.6,90.9 215.6,96.8 215.6,95.3 215.7,102.4 215.9,102.1 215.9,101.7 215.9,94.6 215.9,95.1 215.9,104.8 216.1,95.2 216.1,103.6 216.1,101.7 216.2,98 216.4,99.7 216.6,97.9 216.8,97.2 216.9,94.5 216.9,99.2 217,99.7 217.4,99.8 217.5,90.9 217.6,94.4 217.7,94.3 218,96.1 218.1,97 218.1,93.7 218.4,98 218.6,102.1 218.6,102.3 218.7,90.6 218.7,100.8 218.7,99.7 219,98.2 219,94.8 219,101 219.2,98.4 219.3,96.7 219.5,101.5 219.5,97.6 219.7,94.7 219.9,97.1 219.9,97.6 220,96.4 220,98 220.1,99.1 220.2,99.4 220.6,95.5 220.6,102.6 220.8,101.3 220.8,95.6 221,94.5 221.1,97.6 221.3,100.4 221.5,102.6 221.6,96.2 221.6,97.4 221.6,97 221.6,96.8 221.7,101 221.7,100.2 221.7,98.3 221.9,98.6 221.9,102.7 222.1,101.7 222.3,98.6 222.5,94.1 222.9,91.2 223,97.4 223.2,99 223.2,97.2 223.3,97.9 223.3,100.6 223.4,107.5 223.4,97.6 223.7,99.9 223.7,98.3 223.7,100.9 223.8,99 223.8,97.6 224,101.9 224,100.1 224.1,96.2 224.4,95.8 224.6,103.1 224.6,95.7 224.6,94.2 224.8,96.7 225,96.6 225.1,97.5 225.4,96.7 225.5,99.2 225.5,94.1 225.9,97.9 226.1,102 226.1,96.3 226.1,95.3 226.3,96.7 226.4,100.7 226.5,96 226.5,106.2 226.9,92.9 226.9,96.2 227,103 227,103.8 227.3,91 227.3,97.2 227.4,99.9 227.4,96.9 227.4,98.5 227.5,98.4 227.5,97 227.6,97 227.7,100.9 227.8,97 228,97.2 228.2,100.7 228.3,95.1 228.4,96.3 228.4,100.7 228.5,92.6 228.6,96.2 228.7,93.8 228.8,99.9 228.9,99.1 228.9,97.4 229,99.4 229.3,98.3 229.4,101.9 229.4,91.8 229.6,96.2 229.6,93.9 229.7,92.7 229.9,97.8 230.1,91.9 230.3,104.5 230.3,98.8 230.5,99.3 230.6,97.9 230.7,101.1 230.9,95.2 231,92 231,97.1 231,96 231.1,104 231.3,99.9 231.3,96.6 231.4,99.7 231.5,96.9 231.7,98.9 231.8,96.7 232,101.8 232.1,96.3 232.1,93.6 232.2,95.7 232.2,91.6 232.3,98 232.6,95.2 232.8,101.5 233.2,95 233.2,96.3 233.3,98.5 233.4,94.5 233.8,101.1 233.9,98.5 233.9,96.9 233.9,100.7 234,100.6 234,94.9 234.2,98.8 234.3,100.8 234.3,99.2 234.3,99.5 234.4,100 234.4,96.8 234.5,100.9 234.7,102.1 234.8,97.7 234.9,98.1 234.9,94.4 235.1,101.7 235.3,99.6 235.3,95.1 235.4,97 235.5,99.7 235.5,100.4 235.6,96.1 235.6,98.2 235.6,100.5 235.7,99.3 235.7,99.2 235.7,95.4 235.8,105.4 235.9,99.8 235.9,94.7 236.2,103 236.3,99 236.4,95.8 236.4,102 236.5,99.8 236.5,100.8 236.5,97.8 236.7,100.2 236.7,101.3 236.8,98.1 236.9,97.7 236.9,95.1 237.1,99.5 237.1,98.8 237.1,100 237.3,95 237.4,94.9 237.4,100.7 237.5,104.5 237.9,92.9 238,103.7 238,103.4 238.1,100 238.1,93 238.1,95.2 238.2,99.2 238.2,96.4 238.2,98.9 238.3,95.3 238.4,99.7 238.4,93.9 238.5,96.8 238.5,100.1 238.5,103.4 238.5,95.2 238.7,97 238.8,101.2 238.8,101.1 239,99.9 239.1,99.5 239.1,99 239.2,98.6 239.3,98.5 239.3,100.1 239.4,92.6 239.5,99.3 239.5,100.4 239.7,96.9 239.7,101 239.7,97.2 239.8,98.1 239.9,95.5 239.9,101.2 239.9,103.8 240.1,95.1 240.1,98.9 240.2,93.4 240.3,96.3 240.7,99.6 240.7,97.3 240.8,101.6 240.8,101.1 241,98.2 241.1,97.9 241.2,103 241.5,95.9 241.5,96.6 241.5,95.1 241.6,102.2 241.6,96.4 241.8,99.7 241.8,99.3 242,94.9 242.1,97.7 242.1,96.2 242.1,95.3 242.1,94.6 242.1,100.4 242.3,100.5 242.5,96.7 242.7,96 242.8,99.6 242.8,96.4 242.9,99.9 243,98.2 243,97.7 243.2,96.7 243.2,95.4 243.4,98.1 243.4,96.7 243.4,99.4 243.5,94.9 243.6,95.4 243.6,98.4 243.8,91.4 243.8,97 244,97.4 244.2,97.7 244.4,95.3 244.5,95.9 244.6,98.1 244.7,94.9 244.8,93.3 244.8,92.1 245,94.5 245,96.9 245.2,98.1 245.2,94.4 245.3,92.3 245.3,89.6 245.3,96.7 245.3,98.8 245.4,98.5 245.4,94.8 245.4,94 245.5,97.8 245.5,99.1 245.5,101.2 245.6,93.9 245.7,100.2 245.7,94.4 245.7,96.5 245.8,101.5 245.8,99.3 245.8,93.3 245.9,96.1 246,96.8 246.2,92.7 246.2,96.2 246.2,95.8 246.4,95.8 246.5,95.9 246.6,93.1 246.6,97.6 246.6,93.1 246.6,91.8 246.7,97.6 246.9,94.8 247,99.4 247,96 247.2,92.8 247.3,93.6 247.5,97.4 247.7,94.7 247.8,95 247.9,96.1 248.1,96.1 248.2,91.1 248.3,103.9 248.3,98.3 248.6,94.3 248.7,97.2 248.7,96 248.8,96.1 248.8,97.6 248.9,97 249,99.2 249,97.2 249.1,95.1 249.2,94.5 249.3,95.9 249.4,98.2 249.4,98.6 249.5,102.3 249.6,98.3 249.7,100.5 249.7,99.8 249.8,98.9 250,98 250,97.8 250.1,98.2 250.3,101.6 250.5,100 250.6,96.9 250.6,99.2 250.9,98.1 251,99.2 251,95.2 251.3,95 251.3,92.5 251.4,100.8 251.5,97.7 251.8,103.8 251.9,98.3 251.9,99 252.3,101.8 252.4,96.8 252.5,100.5 253.2,105.9 253.5,97.5 253.5,101.4 253.7,99.5 253.7,103.6 253.8,103.9 253.9,105.2 254,104.8 254,99.8 254,100.3 254,106.4 254.1,101.9 254.3,101.8 254.4,104 254.5,101.1 254.7,104 254.7,99.1 254.9,102.6 255,101.3 255,111.4 255.1,103 255.1,101.7 255.3,103.3 255.3,102.2 255.5,104 255.5,99 255.6,104.2 255.7,102 255.9,96.9 256.2,97 256.4,99.9 256.9,102.2 256.9,103.9 257,97.2 257,97.7 257.1,99 257.1,99 257.1,92.2 257.1,95.6 257.1,98 257.1,98.5 257.3,98.5 257.3,96.4 257.3,98 257.4,96.9 257.5,98 257.5,94.5 257.6,95.8 257.6,99.5 257.7,87.9 257.8,94.8 257.8,96.8 257.8,98.9 258.3,93.7 258.3,95.4 258.3,88.9 258.6,91.3 258.6,94.1 258.7,97.2 258.8,89.7 258.8,96.3 258.9,90.1 258.9,91 259,98.5 259.1,91.3 259.2,85.7 259.2,92.7 259.2,96.5 259.4,94.2 259.4,89.6 259.6,87.9 259.7,86 259.8,87.2 259.9,90.2 260,88.7 260.2,87.4 260.3,86.7 260.5,89.4 260.5,83.9 260.6,82.5 260.6,85.9 260.6,85 260.7,88.7 260.9,84.2 261,86.9 261.5,86.4 261.7,81.6 261.8,83.4 261.8,85.1 261.9,88.5 262,83.8 262,79.2 262.4,83.4 262.4,83.7 262.5,80.9 262.7,78.9 262.8,83.4 262.8,82.4 262.9,84.7 262.9,84 262.9,84.2 263.1,82.8 263.1,87.4 263.1,85.4 263.2,85.4 263.3,87.1 263.4,89.4 263.5,85.5 263.6,89.9 263.7,93.7 263.8,87.4 263.8,93.8 263.8,87.7 264.1,98.8 264.1,92.2 264.3,88.7 264.6,96.8 264.8,94.4 264.8,99.1 265,101.6 265,101 265.1,98 265.1,97.3 265.3,99 265.5,102.9 265.5,106 265.6,112.4 265.7,109.3 265.8,104.6 265.9,114.5 265.9,109.1 266,109.5 266.4,121.2 266.5,116.1 266.5,118.5 266.5,117.7 266.9,122.4 267.2,126.7 267.3,130 267.4,134 267.4,123.2 267.4,130.9 267.6,131.8 267.7,133.2 267.8,134.2 268,136.7 268,133.3 268,135.5 268,136.9 268.1,137.7 268.3,135.8 268.3,140.3 268.4,136.6 268.6,135.1 268.8,135.2 268.8,136.6 268.9,142 269.3,132.1 269.3,132.9 269.4,128.7 269.6,132.5 269.6,132.2 270.1,120.7 270.2,125.8 270.5,117.4 270.5,119.5 270.5,126.9 270.6,120 270.8,117.7 270.8,120.1 270.8,121.5 270.8,115.8 270.9,118.6 270.9,117.5 271,117.4 271,114.6 271.1,111.6 271.1,110.5 271.2,109.9 271.3,111.8 271.3,110.7 271.3,108.3 271.5,104.7 271.5,108.6 271.5,111.7 271.5,106.7 271.6,104.7 271.6,107.6 271.7,102 271.8,106.2 272,102.8 272.1,100.1 272.2,95.7 272.2,103.8 272.2,98.7 272.5,95.1 272.5,97.7 272.5,94.1 272.6,97.9 272.8,98.2 272.9,97.4 273,94.8 273.1,95.5 273.2,90.1 273.2,91.1 273.4,94.6 273.4,85 273.5,88.7 273.5,94.3 273.5,94.8 273.7,88.1 273.7,84.2 273.7,88.9 273.8,84.9 273.8,82.7 273.9,85 274,87.8 274.1,90.3 274.1,88.3 274.2,82 274.7,84.4 274.9,87.2 274.9,85.5 275,84.7 275.2,80.5 275.3,85.6 275.3,78.2 275.4,83.2 275.4,82.8 275.5,87.3 275.5,82.7 275.6,83.1 275.7,81.8 275.8,86.2 275.8,83.4 275.8,88.8 275.9,87.3 276,77.3 276.1,86 276.1,87 276.1,81.9 276.3,85.6 276.3,77 276.4,85 276.6,83.4 276.7,86.8 276.7,82.6 276.9,86.5 276.9,78.2 276.9,88.8 277,85.6 277.1,85 277.1,90.8 277.2,89.1 277.3,90.2 277.3,93.3 277.3,87.1 277.4,97.3 277.5,92.9 277.6,92.7 277.7,88.7 277.7,90.2 277.9,86.9 278,86.9 278.2,91.2 278.4,95.4 278.5,90.3 278.5,94.9 278.5,93.8 278.6,93 278.7,88.7 278.7,85.2 278.8,89.8 279,96.1 279.3,92.7 279.3,91.7 279.3,98.6 279.4,95.5 279.5,98.5 279.7,99.1 279.7,97 279.8,97 279.9,100.2 279.9,97.7 279.9,101.7 279.9,98.5 279.9,97.5 280,99.6 280,103.2 280.1,101 280.4,98.1 280.4,96.4 280.5,96.6 280.5,96.4 280.6,94.3 280.6,101.4 280.6,96.4 280.7,102.7 280.7,94.8 281,97.7 281,104.1 281,98.7 281,97.7 281.3,104.3 281.4,100.7 281.5,99.1 281.5,96 281.7,104 282,97.6 282,105.9 282.1,105.5 282.3,98.5 282.3,100.5 282.4,105.5 282.6,98.1 282.8,101.6 282.9,102.6 282.9,104.2 283,111.9 283.1,103.3 283.1,100.2 283.1,103.5 283.2,100.9 283.6,103.6 283.7,98.7 283.7,113 283.9,101.6 284,106.3 284.2,102.3 284.4,100.7 284.4,99 284.5,100.1 284.5,98.7 284.6,106.2 284.6,102.3 284.8,110.1 284.8,101.5 284.9,108.2 285,98.8 285.1,101.7 285.1,103.3 285.4,104.3 285.6,101.3 285.6,103.9 285.6,106.8 285.7,100.5 285.8,104.7 285.9,99.9 285.9,104.8 286,105.7 286,93.8 286,99.4 286.1,97.3 286.1,102.3 286.5,101.1 286.6,100.9 286.6,94 286.7,98.4 286.8,100.3 286.9,100.7 286.9,100.3 287,96.7 287.6,99.8 287.6,99.7 287.6,95 287.9,96.1 287.9,96.7 288.2,92.4 288.4,99.6 288.4,103.2 288.6,104.9 288.6,99.3 288.8,98.2 288.8,95.5 288.8,104.1 288.9,103.7 289,99.7 289.1,99.9 289.1,103.9 289.2,99.5 289.3,96.4 289.3,99.7 289.4,90.5 289.5,96.2 289.5,101.8 289.6,99.6 289.8,104 289.9,91 290,99.8 290.1,99.9 290.2,96.2 290.3,100 290.4,101.3 290.6,99.1 290.6,95.2 290.6,95.1 290.7,103.9 290.8,104.9 290.9,97.3 290.9,100.1 291,100.6 291.2,95.1 291.4,97.4 291.5,100.9 291.6,96.8 291.6,101.8 291.9,101 292,92.3 292,100.1 292.2,97.2 292.2,100.2 292.5,100.5 292.5,103.4 292.6,103.5 292.7,94.7 292.7,91.2 292.8,96.9 292.9,97.3 292.9,101.4 292.9,99.6 293.2,93.9 293.4,89.9 293.4,97 293.7,98.2 293.7,95.6 293.7,99.2 293.9,102.6 294.1,103.1 294.3,101 294.4,101.5 294.4,108.8 294.4,106.7 294.4,97 294.5,96.4 294.7,97 294.7,101 294.7,102.6 294.8,100.3 295,99 295,102 295.2,96.2 295.2,102.9 295.5,109.2 295.6,97.9 295.9,97.1 296.1,101.2 296.3,96.7 296.3,96.1 296.5,110.3 296.5,99.1 296.5,105.2 296.5,98 296.5,99.7 296.6,97.5 296.6,101.6 296.8,102.9 296.8,99.6 296.9,91.5 297,99 297,104.6 297,100.8 297.1,101.6 297.1,95.9 297.1,100.2 297.1,101.9 297.2,100 297.2,103.4 297.2,98.9 297.3,104.8 297.4,102.4 297.6,99.9 297.6,105.9 297.8,105.8 297.8,103.7 297.9,95.2 297.9,97.6 298,100.5 298,96.9 298.1,97.5 298.1,103 298.2,104.9 298.3,96.1 298.5,103.2 298.5,98.3 298.6,106.6 298.6,101 298.7,105.4 298.8,98.2 298.8,97.8 298.9,99.2 299,97.7 299.2,102.7 299.2,99.2 299.5,98.4 299.6,104 299.7,98.3 299.7,99.6 299.8,98.9 299.9,101.6 300,100.8 300.2,98.8 300.3,100.2 300.4,98.4 300.7,105.7 300.7,97 300.8,103.6 300.8,96.6 301.1,106 301.3,102.9 301.3,99.6 301.4,99 301.5,102.2 301.5,104 301.5,98.2 301.6,96.6 301.6,103.9 301.7,105.1 301.7,102.8 301.7,101 301.8,107.2 301.8,104.4 302,98 302.1,103.5 302.1,103.6 302.2,94.7 302.2,96.4 302.3,94.1 302.7,100.4 302.7,100.9 302.8,102 302.9,105.9 302.9,108.4 303,100.7 303,103.3 303.1,98 303.1,96.7 303.2,106.1 303.2,105.6 303.2,99.5 303.5,95 303.8,94.3 304.1,102.8 304.1,100 304.1,94.8 304.2,103.1 304.2,104 304.4,95.1 304.5,102.9 304.5,104.7 304.5,94.1 304.6,101.8 304.6,101.7 304.7,97.9 304.9,94.4 304.9,97.1 305,99.1 305.1,98.4 305.2,98.4 305.4,98.9 305.6,106.6 305.6,98.8 305.9,105.1 305.9,102.8 306.1,99.5 306.1,100.5 306.1,98.6 306.3,100.1 306.3,98.2 306.4,93.1 306.4,104.2 306.4,95.9 306.4,93 306.6,101.6 306.8,101.4 307,100.4 307,98.3 307.1,102.7 307.2,101.4 307.2,100.2 307.3,99.8 307.4,94.6 307.7,101.9 307.8,96.9 307.8,97 307.9,99.3 307.9,99.5"/>
<polyline fill="none" stroke="#800000" stroke-width="2.4" stroke-linejoin="round" points="41.5,127.8 41.7,127.8 41.9,127.8 42,127.8 42.2,127.8 42.4,127.8 42.6,127.8 42.7,127.8 42.9,127.8 43.1,127.8 43.3,127.8 43.5,127.8 43.6,127.8 43.8,127.8 44,127.8 44.2,127.8 44.3,127.8 44.5,127.8 44.7,127.8 44.9,127.9 45.1,127.9 45.2,127.9 45.4,127.9 45.6,127.9 45.8,127.9 45.9,127.9 46.1,127.9 46.3,127.9 46.5,127.9 46.7,127.9 46.8,128 47,128 47.2,128 47.4,128 47.5,128 47.7,128 47.9,128 48.1,128 48.3,128.1 48.4,128.1 48.6,128.1 48.8,128.1 49,128.1 49.1,128.1 49.3,128.1 49.5,128.1 49.7,128.2 49.9,128.2 50,128.2 50.2,128.2 50.4,128.2 50.6,128.2 50.7,128.2 50.9,128.2 51.1,128.2 51.3,128.2 51.5,128.2 51.6,128.2 51.8,128.1 52,128.1 52.2,128.1 52.3,128.1 52.5,128.1 52.7,128.1 52.9,128 53.1,128 53.2,128 53.4,128 53.6,127.9 53.8,127.9 53.9,127.9 54.1,127.8 54.3,127.8 54.5,127.7 54.7,127.7 54.8,127.6 55,127.6 55.2,127.6 55.4,127.5 55.5,127.5 55.7,127.4 55.9,127.4 56.1,127.3 56.3,127.3 56.4,127.3 56.6,127.2 56.8,127.2 57,127.1 57.1,127.1 57.3,127.1 57.5,127.1 57.7,127 57.9,127 58,127 58.2,127 58.4,127 58.6,127 58.7,127 58.9,127 59.1,127 59.3,127.1 59.5,127.1 59.6,127.1 59.8,127.2 60,127.2 60.2,127.3 60.3,127.4 60.5,127.5 60.7,127.5 60.9,127.6 61.1,127.7 61.2,127.8 61.4,127.9 61.6,128.1 61.8,128.2 61.9,128.3 62.1,128.5 62.3,128.6 62.5,128.7 62.7,128.9 62.8,129 63,129.2 63.2,129.3 63.4,129.5 63.5,129.6 63.7,129.8 63.9,129.9 64.1,130.1 64.3,130.2 64.4,130.3 64.6,130.4 64.8,130.6 65,130.7 65.1,130.7 65.3,130.8 65.5,130.9 65.7,130.9 65.9,131 66,131 66.2,131 66.4,130.9 66.6,130.9 66.7,130.8 66.9,130.7 67.1,130.6 67.3,130.5 67.5,130.3 67.6,130.1 67.8,129.9 68,129.7 68.2,129.4 68.3,129.2 68.5,128.9 68.7,128.5 68.9,128.2 69.1,127.8 69.2,127.4 69.4,127 69.6,126.5 69.8,126.1 69.9,125.6 70.1,125.2 70.3,124.7 70.5,124.2 70.7,123.7 70.8,123.2 71,122.7 71.2,122.2 71.4,121.7 71.5,121.2 71.7,120.7 71.9,120.3 72.1,119.9 72.3,119.5 72.4,119.1 72.6,118.7 72.8,118.4 73,118.2 73.1,118 73.3,117.8 73.5,117.7 73.7,117.7 73.9,117.7 74,117.8 74.2,117.9 74.4,118.1 74.6,118.4 74.7,118.8 74.9,119.2 75.1,119.8 75.3,120.4 75.5,121.1 75.6,121.8 75.8,122.7 76,123.6 76.2,124.6 76.3,125.7 76.5,126.9 76.7,128.2 76.9,129.5 77.1,130.9 77.2,132.3 77.4,133.8 77.6,135.3 77.8,136.9 77.9,138.6 78.1,140.2 78.3,141.9 78.5,143.6 78.7,145.2 78.8,146.9 79,148.5 79.2,150.1 79.4,151.7 79.5,153.2 79.7,154.6 79.9,155.9 80.1,157.1 80.3,158.1 80.4,158.8 80.6,158.7 80.8,157.9 81,156.8 81.1,155.5 81.3,154.2 81.5,152.8 81.7,151.2 81.9,149.7 82,148.1 82.2,146.4 82.4,144.7 82.6,143.1 82.7,141.4 82.9,139.7 83.1,138.1 83.3,136.5 83.5,134.9 83.6,133.4 83.8,131.9 84,130.4 84.2,129.1 84.3,127.8 84.5,126.6 84.7,125.4 84.9,124.3 85.1,123.3 85.2,122.4 85.4,121.6 85.6,120.8 85.8,120.2 85.9,119.6 86.1,119.1 86.3,118.7 86.5,118.3 86.7,118.1 86.8,117.9 87,117.7 87.2,117.7 87.4,117.7 87.5,117.7 87.7,117.9 87.9,118 88.1,118.3 88.3,118.5 88.4,118.8 88.6,119.2 88.8,119.6 89,120 89.1,120.4 89.3,120.9 89.5,121.3 89.7,121.8 89.9,122.3 90,122.8 90.2,123.3 90.4,123.8 90.6,124.3 90.7,124.8 90.9,125.3 91.1,125.8 91.3,126.2 91.5,126.7 91.6,127.1 91.8,127.5 92,127.9 92.2,128.3 92.3,128.6 92.5,128.9 92.7,129.2 92.9,129.5 93.1,129.8 93.2,130 93.4,130.2 93.6,130.4 93.8,130.5 93.9,130.7 94.1,130.8 94.3,130.8 94.5,130.9 94.7,130.9 94.8,131 95,131 95.2,130.9 95.4,130.9 95.5,130.9 95.7,130.8 95.9,130.7 96.1,130.6 96.3,130.5 96.4,130.4 96.6,130.3 96.8,130.2 97,130 97.1,129.9 97.3,129.7 97.5,129.6 97.7,129.4 97.9,129.3 98,129.1 98.2,129 98.4,128.8 98.6,128.7 98.7,128.6 98.9,128.4 99.1,128.3 99.3,128.2 99.5,128 99.6,127.9 99.8,127.8 100,127.7 100.2,127.6 100.3,127.5 100.5,127.4 100.7,127.4 100.9,127.3 101.1,127.2 101.2,127.2 101.4,127.1 101.6,127.1 101.8,127.1 101.9,127 102.1,127 102.3,127 102.5,127 102.7,127 102.8,127 103,127 103.2,127 103.4,127 103.5,127.1 103.7,127.1 103.9,127.1 104.1,127.1 104.3,127.2 104.4,127.2 104.6,127.3 104.8,127.3 105,127.3 105.1,127.4 105.3,127.4 105.5,127.5 105.7,127.5 105.9,127.6 106,127.6 106.2,127.7 106.4,127.7 106.6,127.7 106.7,127.8 106.9,127.8 107.1,127.9 107.3,127.9 107.5,127.9 107.6,128 107.8,128 108,128 108.2,128 108.3,128.1 108.5,128.1 108.7,128.1 108.9,128.1 109.1,128.1 109.2,128.1 109.4,128.2 109.6,128.2 109.8,128.2 109.9,128.2 110.1,128.2 110.3,128.2 110.5,128.2 110.7,128.2 110.8,128.2 111,128.2 111.2,128.2 111.4,128.2 111.5,128.1 111.7,128.1 111.9,128.1 112.1,128.1 112.3,128.1 112.4,128.1 112.6,128.1 112.8,128.1 113,128 113.1,128 113.3,128 113.5,128 113.7,128 113.9,128 114,128 114.2,128 114.4,127.9 114.6,127.9 114.7,127.9 114.9,127.9 115.1,127.9 115.3,127.9 115.5,127.9 115.6,127.9 115.8,127.9 116,127.9 116.2,127.9 116.3,127.8 116.5,127.8 116.7,127.8 116.9,127.8 117.1,127.8 117.2,127.8 117.4,127.8 117.6,127.8 117.8,127.8 117.9,127.8 118.1,127.8 118.3,127.8 118.5,127.8 118.7,127.8 118.8,127.8 119,127.8 119.2,127.8 119.4,127.8 119.5,127.8 119.7,127.8 119.9,127.8 120.1,127.8 120.3,127.8 120.4,127.8 120.6,127.8 120.8,127.8 121,127.8 121.1,127.9 121.3,127.9 121.5,127.9 121.7,127.9 121.9,127.9 122,127.9 122.2,127.9 122.4,127.9 122.6,127.9 122.7,127.9 122.9,127.9 123.1,127.9 123.3,127.9 123.5,127.9 123.6,127.9 123.8,127.9 124,127.9 124.2,127.9 124.3,127.9 124.5,127.9 124.7,127.9 124.9,127.9 125.1,127.9 125.2,127.9 125.4,127.9 125.6,127.9 125.8,127.9 125.9,127.9 126.1,127.9 126.3,128 126.5,128 126.7,128 126.8,128 127,128 127.2,128 127.4,128 127.5,128 127.7,128 127.9,128 128.1,128 128.3,128 128.4,128 128.6,128 128.8,128 129,128 129.1,128 129.3,128 129.5,128 129.7,128 129.9,128 130,128 130.2,128 130.4,128 130.6,128 130.7,128 130.9,128 131.1,128 131.3,128 131.5,127.9 131.6,127.9 131.8,127.9 132,127.9 132.2,127.9 132.3,127.9 132.5,127.9 132.7,127.9 132.9,127.9 133.1,127.9 133.2,127.9 133.4,127.9 133.6,127.8 133.8,127.8 133.9,127.8 134.1,127.8 134.3,127.8 134.5,127.8 134.7,127.8 134.8,127.8 135,127.8 135.2,127.7 135.4,127.7 135.5,127.7 135.7,127.7 135.9,127.7 136.1,127.7 136.3,127.7 136.4,127.7 136.6,127.7 136.8,127.7 137,127.7 137.1,127.7 137.3,127.7 137.5,127.7 137.7,127.7 137.9,127.7 138,127.7 138.2,127.7 138.4,127.7 138.6,127.7 138.7,127.7 138.9,127.7 139.1,127.8 139.3,127.8 139.5,127.8 139.6,127.8 139.8,127.8 140,127.9 140.2,127.9 140.3,127.9 140.5,127.9 140.7,128 140.9,128 141.1,128 141.2,128.1 141.4,128.1 141.6,128.2 141.8,128.2 141.9,128.2 142.1,128.3 142.3,128.3 142.5,128.3 142.7,128.4 142.8,128.4 143,128.5 143.2,128.5 143.4,128.5 143.5,128.6 143.7,128.6 143.9,128.6 144.1,128.6 144.3,128.6 144.4,128.7 144.6,128.7 144.8,128.7 145,128.7 145.1,128.7 145.3,128.7 145.5,128.7 145.7,128.6 145.9,128.6 146,128.6 146.2,128.6 146.4,128.5 146.6,128.5 146.7,128.4 146.9,128.4 147.1,128.3 147.3,128.2 147.5,128.1 147.6,128.1 147.8,128 148,127.9 148.2,127.8 148.3,127.7 148.5,127.6 148.7,127.4 148.9,127.3 149.1,127.2 149.2,127.1 149.4,127 149.6,126.8 149.8,126.7 149.9,126.6 150.1,126.5 150.3,126.3 150.5,126.2 150.7,126.1 150.8,126 151,125.9 151.2,125.8 151.4,125.7 151.5,125.6 151.7,125.5 151.9,125.5 152.1,125.4 152.3,125.4 152.4,125.4 152.6,125.3 152.8,125.4 153,125.4 153.1,125.4 153.3,125.5 153.5,125.5 153.7,125.6 153.9,125.7 154,125.9 154.2,126 154.4,126.2 154.6,126.4 154.7,126.6 154.9,126.8 155.1,127.1 155.3,127.4 155.5,127.7 155.6,128 155.8,128.3 156,128.7 156.2,129 156.3,129.4 156.5,129.8 156.7,130.2 156.9,130.6 157.1,131 157.2,131.4 157.4,131.8 157.6,132.2 157.8,132.6 157.9,133 158.1,133.4 158.3,133.8 158.5,134.2 158.7,134.5 158.8,134.9 159,135.2 159.2,135.4 159.4,135.7 159.5,135.9 159.7,136.1 159.9,136.2 160.1,136.3 160.3,136.3 160.4,136.3 160.6,136.2 160.8,136.1 161,135.9 161.1,135.7 161.3,135.4 161.5,135 161.7,134.6 161.9,134.1 162,133.5 162.2,132.9 162.4,132.2 162.6,131.5 162.7,130.6 162.9,129.7 163.1,128.8 163.3,127.8 163.5,126.7 163.6,125.6 163.8,124.4 164,123.2 164.2,121.9 164.3,120.7 164.5,119.3 164.7,118 164.9,116.7 165.1,115.3 165.2,114 165.4,112.6 165.6,111.3 165.8,110 165.9,108.8 166.1,107.6 166.3,106.4 166.5,105.4 166.7,104.4 166.8,103.5 167,102.7 167.2,102.1 167.4,101.5 167.5,101.1 167.7,100.9 167.9,100.8 168.1,100.9 168.3,101.1 168.4,101.6 168.6,102.2 168.8,103.1 169,104.1 169.1,105.4 169.3,107 169.5,108.7 169.7,110.7 169.9,112.9 170,115.4 170.2,118.1 170.4,121.1 170.6,124.3 170.7,127.7 170.9,131.4 171.1,135.3 171.3,139.4 171.5,143.8 171.6,148.3 171.8,153.1 172,158 172.2,163.1 172.3,168.4 172.5,173.9 172.7,179.5 172.9,185.2 173.1,191 173.2,196.9 173.4,203 173.6,209.1 173.8,215.2 173.9,221.4 174.1,227.7 174.3,233.8 174.5,239.6 174.7,244.2 174.8,244.2 175,239.6 175.2,233.8 175.4,227.7 175.6,221.4 175.7,215.2 175.9,209.1 176.1,203 176.3,196.9 176.4,191 176.6,185.2 176.8,179.5 177,173.9 177.2,168.4 177.3,163.1 177.5,158 177.7,153.1 177.9,148.3 178,143.8 178.2,139.4 178.4,135.3 178.6,131.4 178.8,127.7 178.9,124.3 179.1,121.1 179.3,118.1 179.5,115.4 179.6,112.9 179.8,110.7 180,108.7 180.2,107 180.4,105.4 180.5,104.1 180.7,103.1 180.9,102.2 181.1,101.6 181.2,101.1 181.4,100.9 181.6,100.8 181.8,100.9 182,101.1 182.1,101.5 182.3,102.1 182.5,102.7 182.7,103.5 182.8,104.4 183,105.4 183.2,106.4 183.4,107.6 183.6,108.8 183.7,110 183.9,111.3 184.1,112.6 184.3,114 184.4,115.3 184.6,116.7 184.8,118 185,119.3 185.2,120.7 185.3,121.9 185.5,123.2 185.7,124.4 185.9,125.6 186,126.7 186.2,127.8 186.4,128.8 186.6,129.7 186.8,130.6 186.9,131.5 187.1,132.2 187.3,132.9 187.5,133.5 187.6,134.1 187.8,134.6 188,135 188.2,135.4 188.4,135.7 188.5,135.9 188.7,136.1 188.9,136.2 189.1,136.3 189.2,136.3 189.4,136.3 189.6,136.2 189.8,136.1 190,135.9 190.1,135.7 190.3,135.4 190.5,135.2 190.7,134.9 190.8,134.5 191,134.2 191.2,133.8 191.4,133.4 191.6,133 191.7,132.6 191.9,132.2 192.1,131.8 192.3,131.4 192.4,131 192.6,130.6 192.8,130.2 193,129.8 193.2,129.4 193.3,129 193.5,128.7 193.7,128.3 193.9,128 194,127.7 194.2,127.4 194.4,127.1 194.6,126.8 194.8,126.6 194.9,126.4 195.1,126.2 195.3,126 195.5,125.9 195.6,125.7 195.8,125.6 196,125.5 196.2,125.5 196.4,125.4 196.5,125.4 196.7,125.4 196.9,125.3 197.1,125.4 197.2,125.4 197.4,125.4 197.6,125.5 197.8,125.5 198,125.6 198.1,125.7 198.3,125.8 198.5,125.9 198.7,126 198.8,126.1 199,126.2 199.2,126.3 199.4,126.5 199.6,126.6 199.7,126.7 199.9,126.8 200.1,127 200.3,127.1 200.4,127.2 200.6,127.3 200.8,127.4 201,127.6 201.2,127.7 201.3,127.8 201.5,127.9 201.7,128 201.9,128.1 202,128.1 202.2,128.2 202.4,128.3 202.6,128.4 202.8,128.4 202.9,128.5 203.1,128.5 203.3,128.6 203.5,128.6 203.6,128.6 203.8,128.6 204,128.7 204.2,128.7 204.4,128.7 204.5,128.7 204.7,128.7 204.9,128.7 205.1,128.7 205.2,128.6 205.4,128.6 205.6,128.6 205.8,128.6 206,128.6 206.1,128.5 206.3,128.5 206.5,128.5 206.7,128.4 206.8,128.4 207,128.3 207.2,128.3 207.4,128.3 207.6,128.2 207.7,128.2 207.9,128.2 208.1,128.1 208.3,128.1 208.4,128 208.6,128 208.8,128 209,127.9 209.2,127.9 209.3,127.9 209.5,127.9 209.7,127.8 209.9,127.8 210,127.8 210.2,127.8 210.4,127.8 210.6,127.7 210.8,127.7 210.9,127.7 211.1,127.7 211.3,127.7 211.5,127.7 211.6,127.7 211.8,127.7 212,127.7 212.2,127.7 212.4,127.7 212.5,127.7 212.7,127.7 212.9,127.7 213.1,127.7 213.2,127.7 213.4,127.7 213.6,127.7 213.8,127.7 214,127.7 214.1,127.7 214.3,127.7 214.5,127.7 214.7,127.8 214.8,127.8 215,127.8 215.2,127.8 215.4,127.8 215.6,127.8 215.7,127.8 215.9,127.8 216.1,127.9 216.3,127.9 216.4,127.9 216.6,127.9 216.8,127.9 217,127.9 217.2,127.9 217.3,127.9 217.5,127.9 217.7,127.9 217.9,127.9 218,127.9 218.2,128 218.4,128 218.6,128 218.8,128 218.9,128 219.1,128 219.3,128 219.5,128 219.6,128 219.8,128 220,128 220.2,128 220.4,128 220.5,128 220.7,128 220.9,128 221.1,128 221.2,128 221.4,128 221.6,128 221.8,128 222,128 222.1,128 222.3,128 222.5,128 222.7,128 222.8,128 223,128 223.2,128 223.4,127.9 223.6,127.9 223.7,127.9 223.9,127.9 224.1,127.9 224.3,127.9 224.4,127.9 224.6,127.9 224.8,127.9 225,127.9 225.2,127.9 225.3,127.9 225.5,127.9 225.7,127.9 225.9,127.9 226,127.9 226.2,127.9 226.4,127.9 226.6,127.9 226.8,127.9 226.9,127.9 227.1,127.9 227.3,127.9 227.5,127.9 227.6,127.9 227.8,127.9 228,127.9 228.2,127.8 228.4,127.8 228.5,127.8 228.7,127.8 228.9,127.8 229.1,127.8 229.2,127.8 229.4,127.8 229.6,127.8 229.8,127.8 230,127.8 230.1,127.8 230.3,127.8 230.5,127.8 230.7,127.8 230.8,127.8 231,127.8 231.2,127.8 231.4,127.8 231.6,127.8 231.7,127.8 231.9,127.8 232.1,127.8 232.3,127.8 232.4,127.8 232.6,127.8 232.8,127.8 233,127.9 233.2,127.9 233.3,127.9 233.5,127.9 233.7,127.9 233.9,127.9 234,127.9 234.2,127.9 234.4,127.9 234.6,127.9 234.8,127.9 234.9,128 235.1,128 235.3,128 235.5,128 235.6,128 235.8,128 236,128 236.2,128.1 236.4,128.1 236.5,128.1 236.7,128.1 236.9,128.1 237.1,128.1 237.2,128.1 237.4,128.1 237.6,128.1 237.8,128.2 238,128.2 238.1,128.2 238.3,128.2 238.5,128.2 238.7,128.2 238.8,128.2 239,128.2 239.2,128.2 239.4,128.2 239.6,128.2 239.7,128.2 239.9,128.1 240.1,128.1 240.3,128.1 240.4,128.1 240.6,128.1 240.8,128.1 241,128 241.2,128 241.3,128 241.5,128 241.7,127.9 241.9,127.9 242,127.8 242.2,127.8 242.4,127.8 242.6,127.7 242.8,127.7 242.9,127.6 243.1,127.6 243.3,127.6 243.5,127.5 243.6,127.5 243.8,127.4 244,127.4 244.2,127.3 244.4,127.3 244.5,127.2 244.7,127.2 244.9,127.2 245.1,127.1 245.2,127.1 245.4,127.1 245.6,127 245.8,127 246,127 246.1,127 246.3,127 246.5,127 246.7,127 246.8,127 247,127 247.2,127 247.4,127 247.6,127.1 247.7,127.1 247.9,127.2 248.1,127.2 248.3,127.3 248.4,127.4 248.6,127.4 248.8,127.5 249,127.6 249.2,127.7 249.3,127.8 249.5,127.9 249.7,128.1 249.9,128.2 250,128.3 250.2,128.5 250.4,128.6 250.6,128.7 250.8,128.9 250.9,129 251.1,129.2 251.3,129.3 251.5,129.5 251.6,129.6 251.8,129.8 252,129.9 252.2,130.1 252.4,130.2 252.5,130.3 252.7,130.5 252.9,130.6 253.1,130.7 253.2,130.8 253.4,130.8 253.6,130.9 253.8,131 254,131 254.1,131 254.3,131 254.5,131 254.7,130.9 254.8,130.9 255,130.8 255.2,130.7 255.4,130.5 255.6,130.4 255.7,130.2 255.9,130 256.1,129.7 256.3,129.5 256.4,129.2 256.6,128.9 256.8,128.5 257,128.2 257.2,127.8 257.3,127.4 257.5,127 257.7,126.6 257.9,126.1 258,125.6 258.2,125.1 258.4,124.7 258.6,124.2 258.8,123.6 258.9,123.1 259.1,122.6 259.3,122.1 259.5,121.6 259.6,121.1 259.8,120.7 260,120.2 260.2,119.8 260.4,119.4 260.5,119 260.7,118.7 260.9,118.4 261.1,118.1 261.2,117.9 261.4,117.7 261.6,117.6 261.8,117.6 262,117.6 262.1,117.6 262.3,117.8 262.5,118 262.7,118.3 262.8,118.7 263,119.1 263.2,119.6 263.4,120.3 263.6,120.9 263.7,121.7 263.9,122.6 264.1,123.5 264.3,124.6 264.4,125.7 264.6,126.8 264.8,128.1 265,129.4 265.2,130.8 265.3,132.3 265.5,133.8 265.7,135.4 265.9,137 266,138.6 266.2,140.3 266.4,142 266.6,143.7 266.8,145.3 266.9,147 267.1,148.7 267.3,150.3 267.5,151.9 267.6,153.4 267.8,154.8 268,156.2 268.2,157.4 268.4,158.4 268.5,159.1 268.7,159 268.9,158.2 269.1,157.1 269.2,155.9 269.4,154.5 269.6,153.1 269.8,151.6 270,150 270.1,148.3 270.3,146.7 270.5,145 270.7,143.3 270.8,141.6 271,139.9 271.2,138.3 271.4,136.6 271.6,135 271.7,133.5 271.9,132 272.1,130.5 272.3,129.1 272.4,127.8 272.6,126.6 272.8,125.4 273,124.3 273.2,123.3 273.3,122.4 273.5,121.6 273.7,120.8 273.9,120.1 274,119.5 274.2,119 274.4,118.6 274.6,118.2 274.8,118 274.9,117.8 275.1,117.6 275.3,117.6 275.5,117.6 275.6,117.6 275.8,117.8 276,117.9 276.2,118.1 276.4,118.4 276.5,118.7 276.7,119.1 276.9,119.5 277.1,119.9 277.2,120.3 277.4,120.8 277.6,121.2 277.8,121.7 278,122.2 278.1,122.7 278.3,123.2 278.5,123.7 278.7,124.3 278.8,124.8 279,125.2 279.2,125.7 279.4,126.2 279.6,126.6 279.7,127.1 279.9,127.5 280.1,127.9 280.3,128.3 280.4,128.6 280.6,128.9 280.8,129.2 281,129.5 281.2,129.8 281.3,130 281.5,130.2 281.7,130.4 281.9,130.5 282,130.7 282.2,130.8 282.4,130.9 282.6,130.9 282.8,131 282.9,131 283.1,131 283.3,131 283.5,130.9 283.6,130.9 283.8,130.8 284,130.8 284.2,130.7 284.4,130.6 284.5,130.4 284.7,130.3 284.9,130.2 285.1,130.1 285.2,129.9 285.4,129.8 285.6,129.6 285.8,129.5 286,129.3 286.1,129.2 286.3,129 286.5,128.9 286.7,128.7 286.8,128.6 287,128.4 287.2,128.3 287.4,128.2 287.6,128 287.7,127.9 287.9,127.8 288.1,127.7 288.3,127.6 288.4,127.5 288.6,127.4 288.8,127.3 289,127.3 289.2,127.2 289.3,127.2 289.5,127.1 289.7,127.1 289.9,127 290,127 290.2,127 290.4,127 290.6,127 290.8,127 290.9,127 291.1,127 291.3,127 291.5,127 291.6,127 291.8,127.1 292,127.1 292.2,127.1 292.4,127.2 292.5,127.2 292.7,127.3 292.9,127.3 293.1,127.3 293.2,127.4 293.4,127.4 293.6,127.5 293.8,127.5 294,127.6 294.1,127.6 294.3,127.7 294.5,127.7 294.7,127.7 294.8,127.8 295,127.8 295.2,127.9 295.4,127.9 295.6,127.9 295.7,128 295.9,128 296.1,128 296.3,128 296.4,128.1 296.6,128.1 296.8,128.1 297,128.1 297.2,128.1 297.3,128.2 297.5,128.2 297.7,128.2 297.9,128.2 298,128.2 298.2,128.2 298.4,128.2 298.6,128.2 298.8,128.2 298.9,128.2 299.1,128.2 299.3,128.2 299.5,128.2 299.6,128.1 299.8,128.1 300,128.1 300.2,128.1 300.4,128.1 300.5,128.1 300.7,128.1 300.9,128.1 301.1,128 301.2,128 301.4,128 301.6,128 301.8,128 302,128 302.1,128 302.3,128 302.5,127.9 302.7,127.9 302.8,127.9 303,127.9 303.2,127.9 303.4,127.9 303.6,127.9 303.7,127.9 303.9,127.9 304.1,127.9 304.3,127.8 304.4,127.8 304.6,127.8 304.8,127.8 305,127.8 305.2,127.8 305.3,127.8 305.5,127.8 305.7,127.8 305.9,127.8 306,127.8 306.2,127.8 306.4,127.8 306.6,127.8 306.8,127.8 306.9,127.8 307.1,127.8 307.3,127.8 307.5,127.8 307.6,127.8 307.8,127.8 308,127.8" />
<polyline fill="none" stroke="#000080" stroke-width="2.4" stroke-linejoin="round" points="41.5,97.7 41.7,97.7 41.9,97.7 42,97.6 42.2,97.6 42.4,97.6 42.6,97.6 42.7,97.6 42.9,97.6 43.1,97.6 43.3,97.6 43.5,97.6 43.6,97.6 43.8,97.6 44,97.6 44.2,97.7 44.3,97.7 44.5,97.7 44.7,97.7 44.9,97.7 45.1,97.7 45.2,97.7 45.4,97.7 45.6,97.7 45.8,97.7 45.9,97.8 46.1,97.8 46.3,97.8 46.5,97.8 46.7,97.8 46.8,97.9 47,97.9 47.2,97.9 47.4,97.9 47.5,97.9 47.7,98 47.9,98 48.1,98 48.3,98 48.4,98 48.6,98.1 48.8,98.1 49,98.1 49.1,98.1 49.3,98.1 49.5,98.1 49.7,98.2 49.9,98.2 50,98.2 50.2,98.2 50.4,98.2 50.6,98.2 50.7,98.2 50.9,98.2 51.1,98.2 51.3,98.2 51.5,98.2 51.6,98.2 51.8,98.1 52,98.1 52.2,98.1 52.3,98.1 52.5,98 52.7,98 52.9,98 53.1,97.9 53.2,97.9 53.4,97.8 53.6,97.8 53.8,97.7 53.9,97.7 54.1,97.6 54.3,97.6 54.5,97.5 54.7,97.4 54.8,97.4 55,97.3 55.2,97.2 55.4,97.2 55.5,97.1 55.7,97 55.9,97 56.1,96.9 56.3,96.8 56.4,96.8 56.6,96.7 56.8,96.7 57,96.6 57.1,96.6 57.3,96.5 57.5,96.5 57.7,96.4 57.9,96.4 58,96.4 58.2,96.4 58.4,96.4 58.6,96.4 58.7,96.4 58.9,96.4 59.1,96.5 59.3,96.5 59.5,96.6 59.6,96.6 59.8,96.7 60,96.8 60.2,96.9 60.3,97 60.5,97.1 60.7,97.2 60.9,97.4 61.1,97.5 61.2,97.7 61.4,97.8 61.6,98 61.8,98.2 61.9,98.4 62.1,98.6 62.3,98.8 62.5,99 62.7,99.2 62.8,99.4 63,99.7 63.2,99.9 63.4,100.1 63.5,100.3 63.7,100.5 63.9,100.7 64.1,100.9 64.3,101.1 64.4,101.3 64.6,101.5 64.8,101.6 65,101.8 65.1,101.9 65.3,102 65.5,102.1 65.7,102.2 65.9,102.2 66,102.2 66.2,102.2 66.4,102.2 66.6,102.1 66.7,102 66.9,101.9 67.1,101.7 67.3,101.5 67.5,101.3 67.6,101 67.8,100.7 68,100.3 68.2,100 68.3,99.6 68.5,99.1 68.7,98.7 68.9,98.1 69.1,97.6 69.2,97 69.4,96.5 69.6,95.8 69.8,95.2 69.9,94.5 70.1,93.9 70.3,93.2 70.5,92.5 70.7,91.8 70.8,91.1 71,90.4 71.2,89.7 71.4,89 71.5,88.3 71.7,87.7 71.9,87 72.1,86.4 72.3,85.9 72.4,85.4 72.6,84.9 72.8,84.5 73,84.2 73.1,83.9 73.3,83.7 73.5,83.6 73.7,83.5 73.9,83.5 74,83.7 74.2,83.9 74.4,84.2 74.6,84.6 74.7,85.1 74.9,85.8 75.1,86.5 75.3,87.3 75.5,88.3 75.6,89.4 75.8,90.6 76,91.9 76.2,93.3 76.3,94.8 76.5,96.4 76.7,98.1 76.9,99.9 77.1,101.8 77.2,103.8 77.4,105.8 77.6,107.9 77.8,110.1 77.9,112.3 78.1,114.5 78.3,116.8 78.5,119 78.7,121.3 78.8,123.5 79,125.7 79.2,127.9 79.4,129.9 79.5,131.9 79.7,133.8 79.9,135.5 80.1,137.1 80.3,138.5 80.4,139.3 80.6,139.2 80.8,138.1 81,136.7 81.1,135.1 81.3,133.3 81.5,131.4 81.7,129.3 81.9,127.3 82,125.1 82.2,122.9 82.4,120.6 82.6,118.4 82.7,116.1 82.9,113.9 83.1,111.6 83.3,109.5 83.5,107.3 83.6,105.2 83.8,103.2 84,101.2 84.2,99.4 84.3,97.6 84.5,95.9 84.7,94.3 84.9,92.9 85.1,91.5 85.2,90.2 85.4,89.1 85.6,88 85.8,87.1 85.9,86.3 86.1,85.6 86.3,85 86.5,84.5 86.7,84.1 86.8,83.8 87,83.6 87.2,83.5 87.4,83.5 87.5,83.6 87.7,83.7 87.9,84 88.1,84.3 88.3,84.6 88.4,85.1 88.6,85.5 88.8,86.1 89,86.6 89.1,87.2 89.3,87.8 89.5,88.5 89.7,89.2 89.9,89.9 90,90.6 90.2,91.3 90.4,92 90.6,92.7 90.7,93.4 90.9,94.1 91.1,94.7 91.3,95.4 91.5,96 91.6,96.6 91.8,97.2 92,97.8 92.2,98.3 92.3,98.8 92.5,99.3 92.7,99.7 92.9,100.1 93.1,100.5 93.2,100.8 93.4,101.1 93.6,101.3 93.8,101.6 93.9,101.7 94.1,101.9 94.3,102 94.5,102.1 94.7,102.2 94.8,102.2 95,102.2 95.2,102.2 95.4,102.1 95.5,102.1 95.7,102 95.9,101.9 96.1,101.7 96.3,101.6 96.4,101.4 96.6,101.3 96.8,101.1 97,100.9 97.1,100.7 97.3,100.5 97.5,100.3 97.7,100 97.9,99.8 98,99.6 98.2,99.4 98.4,99.2 98.6,98.9 98.7,98.7 98.9,98.5 99.1,98.3 99.3,98.1 99.5,98 99.6,97.8 99.8,97.6 100,97.5 100.2,97.3 100.3,97.2 100.5,97.1 100.7,96.9 100.9,96.8 101.1,96.7 101.2,96.7 101.4,96.6 101.6,96.5 101.8,96.5 101.9,96.4 102.1,96.4 102.3,96.4 102.5,96.4 102.7,96.4 102.8,96.4 103,96.4 103.2,96.4 103.4,96.5 103.5,96.5 103.7,96.5 103.9,96.6 104.1,96.6 104.3,96.7 104.4,96.7 104.6,96.8 104.8,96.9 105,96.9 105.1,97 105.3,97.1 105.5,97.1 105.7,97.2 105.9,97.3 106,97.3 106.2,97.4 106.4,97.5 106.6,97.5 106.7,97.6 106.9,97.6 107.1,97.7 107.3,97.8 107.5,97.8 107.6,97.9 107.8,97.9 108,97.9 108.2,98 108.3,98 108.5,98.1 108.7,98.1 108.9,98.1 109.1,98.1 109.2,98.2 109.4,98.2 109.6,98.2 109.8,98.2 109.9,98.2 110.1,98.2 110.3,98.2 110.5,98.2 110.7,98.2 110.8,98.2 111,98.2 111.2,98.2 111.4,98.2 111.5,98.1 111.7,98.1 111.9,98.1 112.1,98.1 112.3,98.1 112.4,98.1 112.6,98 112.8,98 113,98 113.1,98 113.3,98 113.5,97.9 113.7,97.9 113.9,97.9 114,97.9 114.2,97.9 114.4,97.8 114.6,97.8 114.7,97.8 114.9,97.8 115.1,97.8 115.3,97.7 115.5,97.7 115.6,97.7 115.8,97.7 116,97.7 116.2,97.7 116.3,97.7 116.5,97.7 116.7,97.7 116.9,97.7 117.1,97.6 117.2,97.6 117.4,97.6 117.6,97.6 117.8,97.6 117.9,97.6 118.1,97.6 118.3,97.6 118.5,97.6 118.7,97.6 118.8,97.6 119,97.6 119.2,97.6 119.4,97.6 119.5,97.6 119.7,97.7 119.9,97.7 120.1,97.7 120.3,97.7 120.4,97.7 120.6,97.7 120.8,97.7 121,97.7 121.1,97.7 121.3,97.7 121.5,97.7 121.7,97.7 121.9,97.7 122,97.7 122.2,97.7 122.4,97.7 122.6,97.7 122.7,97.8 122.9,97.8 123.1,97.8 123.3,97.8 123.5,97.8 123.6,97.8 123.8,97.8 124,97.8 124.2,97.8 124.3,97.8 124.5,97.8 124.7,97.8 124.9,97.8 125.1,97.8 125.2,97.8 125.4,97.8 125.6,97.8 125.8,97.8 125.9,97.8 126.1,97.8 126.3,97.8 126.5,97.8 126.7,97.8 126.8,97.8 127,97.8 127.2,97.8 127.4,97.8 127.5,97.8 127.7,97.8 127.9,97.9 128.1,97.9 128.3,97.9 128.4,97.9 128.6,97.9 128.8,97.9 129,97.9 129.1,97.9 129.3,97.9 129.5,97.8 129.7,97.8 129.9,97.8 130,97.8 130.2,97.8 130.4,97.8 130.6,97.8 130.7,97.8 130.9,97.8 131.1,97.8 131.3,97.8 131.5,97.8 131.6,97.8 131.8,97.8 132,97.8 132.2,97.8 132.3,97.8 132.5,97.8 132.7,97.8 132.9,97.7 133.1,97.7 133.2,97.7 133.4,97.7 133.6,97.7 133.8,97.7 133.9,97.7 134.1,97.7 134.3,97.7 134.5,97.6 134.7,97.6 134.8,97.6 135,97.6 135.2,97.6 135.4,97.6 135.5,97.6 135.7,97.6 135.9,97.6 136.1,97.6 136.3,97.6 136.4,97.5 136.6,97.5 136.8,97.5 137,97.5 137.1,97.5 137.3,97.5 137.5,97.5 137.7,97.5 137.9,97.5 138,97.5 138.2,97.6 138.4,97.6 138.6,97.6 138.7,97.6 138.9,97.6 139.1,97.6 139.3,97.6 139.5,97.7 139.6,97.7 139.8,97.7 140,97.7 140.2,97.8 140.3,97.8 140.5,97.8 140.7,97.8 140.9,97.9 141.1,97.9 141.2,98 141.4,98 141.6,98 141.8,98.1 141.9,98.1 142.1,98.1 142.3,98.2 142.5,98.2 142.7,98.3 142.8,98.3 143,98.3 143.2,98.4 143.4,98.4 143.5,98.4 143.7,98.4 143.9,98.5 144.1,98.5 144.3,98.5 144.4,98.5 144.6,98.5 144.8,98.5 145,98.5 145.1,98.5 145.3,98.5 145.5,98.5 145.7,98.5 145.9,98.5 146,98.5 146.2,98.4 146.4,98.4 146.6,98.3 146.7,98.3 146.9,98.2 147.1,98.2 147.3,98.1 147.5,98 147.6,97.9 147.8,97.8 148,97.7 148.2,97.6 148.3,97.5 148.5,97.4 148.7,97.3 148.9,97.2 149.1,97.1 149.2,97 149.4,96.8 149.6,96.7 149.8,96.6 149.9,96.5 150.1,96.3 150.3,96.2 150.5,96.1 150.7,96 150.8,95.9 151,95.8 151.2,95.7 151.4,95.6 151.5,95.5 151.7,95.4 151.9,95.3 152.1,95.3 152.3,95.3 152.4,95.2 152.6,95.2 152.8,95.2 153,95.3 153.1,95.3 153.3,95.3 153.5,95.4 153.7,95.5 153.9,95.6 154,95.8 154.2,95.9 154.4,96.1 154.6,96.3 154.7,96.5 154.9,96.7 155.1,97 155.3,97.2 155.5,97.5 155.6,97.8 155.8,98.2 156,98.5 156.2,98.9 156.3,99.2 156.5,99.6 156.7,100 156.9,100.4 157.1,100.8 157.2,101.2 157.4,101.6 157.6,102.1 157.8,102.5 157.9,102.9 158.1,103.3 158.3,103.6 158.5,104 158.7,104.3 158.8,104.7 159,105 159.2,105.2 159.4,105.5 159.5,105.7 159.7,105.9 159.9,106 160.1,106.1 160.3,106.1 160.4,106.1 160.6,106 160.8,105.9 161,105.7 161.1,105.5 161.3,105.2 161.5,104.9 161.7,104.4 161.9,103.9 162,103.4 162.2,102.7 162.4,102 162.6,101.3 162.7,100.5 162.9,99.6 163.1,98.6 163.3,97.6 163.5,96.6 163.6,95.4 163.8,94.3 164,93.1 164.2,91.8 164.3,90.5 164.5,89.2 164.7,87.9 164.9,86.5 165.1,85.2 165.2,83.8 165.4,82.5 165.6,81.2 165.8,79.9 165.9,78.6 166.1,77.4 166.3,76.3 166.5,75.2 166.7,74.2 166.8,73.3 167,72.5 167.2,71.8 167.4,71.2 167.5,70.8 167.7,70.5 167.9,70.3 168.1,70.4 168.3,70.5 168.4,70.9 168.6,71.5 168.8,72.2 169,73.2 169.1,74.4 169.3,75.8 169.5,77.4 169.7,79.2 169.9,81.2 170,83.5 170.2,86 170.4,88.6 170.6,91.5 170.7,94.6 170.9,97.9 171.1,101.4 171.3,105.1 171.5,108.9 171.6,112.9 171.8,116.9 172,121.2 172.2,125.5 172.3,129.8 172.5,134.2 172.7,138.7 172.9,143.1 173.1,147.5 173.2,151.8 173.4,156.1 173.6,160.2 173.8,164.2 173.9,167.9 174.1,171.4 174.3,174.6 174.5,177.3 174.7,179.3 174.8,179.3 175,177.3 175.2,174.6 175.4,171.4 175.6,167.9 175.7,164.2 175.9,160.2 176.1,156.1 176.3,151.8 176.4,147.5 176.6,143.1 176.8,138.7 177,134.2 177.2,129.8 177.3,125.5 177.5,121.2 177.7,116.9 177.9,112.9 178,108.9 178.2,105.1 178.4,101.4 178.6,97.9 178.8,94.6 178.9,91.5 179.1,88.6 179.3,86 179.5,83.5 179.6,81.2 179.8,79.2 180,77.4 180.2,75.8 180.4,74.4 180.5,73.2 180.7,72.2 180.9,71.5 181.1,70.9 181.2,70.5 181.4,70.4 181.6,70.3 181.8,70.5 182,70.8 182.1,71.2 182.3,71.8 182.5,72.5 182.7,73.3 182.8,74.2 183,75.2 183.2,76.3 183.4,77.4 183.6,78.6 183.7,79.9 183.9,81.2 184.1,82.5 184.3,83.8 184.4,85.2 184.6,86.5 184.8,87.9 185,89.2 185.2,90.5 185.3,91.8 185.5,93.1 185.7,94.3 185.9,95.4 186,96.6 186.2,97.6 186.4,98.6 186.6,99.6 186.8,100.5 186.9,101.3 187.1,102 187.3,102.7 187.5,103.4 187.6,103.9 187.8,104.4 188,104.9 188.2,105.2 188.4,105.5 188.5,105.7 188.7,105.9 188.9,106 189.1,106.1 189.2,106.1 189.4,106.1 189.6,106 189.8,105.9 190,105.7 190.1,105.5 190.3,105.2 190.5,105 190.7,104.7 190.8,104.3 191,104 191.2,103.6 191.4,103.3 191.6,102.9 191.7,102.5 191.9,102.1 192.1,101.6 192.3,101.2 192.4,100.8 192.6,100.4 192.8,100 193,99.6 193.2,99.2 193.3,98.9 193.5,98.5 193.7,98.2 193.9,97.8 194,97.5 194.2,97.2 194.4,97 194.6,96.7 194.8,96.5 194.9,96.3 195.1,96.1 195.3,95.9 195.5,95.8 195.6,95.6 195.8,95.5 196,95.4 196.2,95.3 196.4,95.3 196.5,95.3 196.7,95.2 196.9,95.2 197.1,95.2 197.2,95.3 197.4,95.3 197.6,95.3 197.8,95.4 198,95.5 198.1,95.6 198.3,95.7 198.5,95.8 198.7,95.9 198.8,96 199,96.1 199.2,96.2 199.4,96.3 199.6,96.5 199.7,96.6 199.9,96.7 200.1,96.8 200.3,97 200.4,97.1 200.6,97.2 200.8,97.3 201,97.4 201.2,97.5 201.3,97.6 201.5,97.7 201.7,97.8 201.9,97.9 202,98 202.2,98.1 202.4,98.2 202.6,98.2 202.8,98.3 202.9,98.3 203.1,98.4 203.3,98.4 203.5,98.5 203.6,98.5 203.8,98.5 204,98.5 204.2,98.5 204.4,98.5 204.5,98.5 204.7,98.5 204.9,98.5 205.1,98.5 205.2,98.5 205.4,98.5 205.6,98.5 205.8,98.4 206,98.4 206.1,98.4 206.3,98.4 206.5,98.3 206.7,98.3 206.8,98.3 207,98.2 207.2,98.2 207.4,98.1 207.6,98.1 207.7,98.1 207.9,98 208.1,98 208.3,98 208.4,97.9 208.6,97.9 208.8,97.8 209,97.8 209.2,97.8 209.3,97.8 209.5,97.7 209.7,97.7 209.9,97.7 210,97.7 210.2,97.6 210.4,97.6 210.6,97.6 210.8,97.6 210.9,97.6 211.1,97.6 211.3,97.6 211.5,97.5 211.6,97.5 211.8,97.5 212,97.5 212.2,97.5 212.4,97.5 212.5,97.5 212.7,97.5 212.9,97.5 213.1,97.5 213.2,97.5 213.4,97.6 213.6,97.6 213.8,97.6 214,97.6 214.1,97.6 214.3,97.6 214.5,97.6 214.7,97.6 214.8,97.6 215,97.6 215.2,97.7 215.4,97.7 215.6,97.7 215.7,97.7 215.9,97.7 216.1,97.7 216.3,97.7 216.4,97.7 216.6,97.7 216.8,97.8 217,97.8 217.2,97.8 217.3,97.8 217.5,97.8 217.7,97.8 217.9,97.8 218,97.8 218.2,97.8 218.4,97.8 218.6,97.8 218.8,97.8 218.9,97.8 219.1,97.8 219.3,97.8 219.5,97.8 219.6,97.8 219.8,97.9 220,97.9 220.2,97.9 220.4,97.9 220.5,97.9 220.7,97.9 220.9,97.9 221.1,97.9 221.2,97.9 221.4,97.9 221.6,97.9 221.8,97.9 222,97.9 222.1,97.8 222.3,97.8 222.5,97.8 222.7,97.8 222.8,97.8 223,97.8 223.2,97.8 223.4,97.8 223.6,97.8 223.7,97.8 223.9,97.8 224.1,97.8 224.3,97.8 224.4,97.8 224.6,97.8 224.8,97.8 225,97.8 225.2,97.8 225.3,97.8 225.5,97.8 225.7,97.8 225.9,97.8 226,97.8 226.2,97.8 226.4,97.8 226.6,97.7 226.8,97.7 226.9,97.7 227.1,97.7 227.3,97.7 227.5,97.7 227.6,97.7 227.8,97.7 228,97.7 228.2,97.7 228.4,97.7 228.5,97.7 228.7,97.7 228.9,97.7 229.1,97.7 229.2,97.7 229.4,97.7 229.6,97.6 229.8,97.6 230,97.6 230.1,97.6 230.3,97.6 230.5,97.6 230.7,97.6 230.8,97.6 231,97.6 231.2,97.6 231.4,97.6 231.6,97.6 231.7,97.6 231.9,97.6 232.1,97.6 232.3,97.7 232.4,97.7 232.6,97.7 232.8,97.7 233,97.7 233.2,97.7 233.3,97.7 233.5,97.7 233.7,97.7 233.9,97.8 234,97.8 234.2,97.8 234.4,97.8 234.6,97.8 234.8,97.8 234.9,97.9 235.1,97.9 235.3,97.9 235.5,97.9 235.6,97.9 235.8,98 236,98 236.2,98 236.4,98 236.5,98 236.7,98.1 236.9,98.1 237.1,98.1 237.2,98.1 237.4,98.1 237.6,98.1 237.8,98.2 238,98.2 238.1,98.2 238.3,98.2 238.5,98.2 238.7,98.2 238.8,98.2 239,98.2 239.2,98.2 239.4,98.2 239.6,98.2 239.7,98.2 239.9,98.1 240.1,98.1 240.3,98.1 240.4,98.1 240.6,98 240.8,98 241,98 241.2,97.9 241.3,97.9 241.5,97.8 241.7,97.8 241.9,97.7 242,97.7 242.2,97.6 242.4,97.6 242.6,97.5 242.8,97.4 242.9,97.4 243.1,97.3 243.3,97.2 243.5,97.2 243.6,97.1 243.8,97 244,97 244.2,96.9 244.4,96.8 244.5,96.8 244.7,96.7 244.9,96.7 245.1,96.6 245.2,96.6 245.4,96.5 245.6,96.5 245.8,96.5 246,96.4 246.1,96.4 246.3,96.4 246.5,96.4 246.7,96.4 246.8,96.4 247,96.4 247.2,96.5 247.4,96.5 247.6,96.6 247.7,96.6 247.9,96.7 248.1,96.8 248.3,96.9 248.4,97 248.6,97.1 248.8,97.2 249,97.4 249.2,97.5 249.3,97.7 249.5,97.8 249.7,98 249.9,98.2 250,98.4 250.2,98.6 250.4,98.8 250.6,99 250.8,99.2 250.9,99.4 251.1,99.6 251.3,99.8 251.5,100.1 251.6,100.3 251.8,100.5 252,100.7 252.2,100.9 252.4,101.1 252.5,101.3 252.7,101.4 252.9,101.6 253.1,101.7 253.2,101.9 253.4,102 253.6,102 253.8,102.1 254,102.2 254.1,102.2 254.3,102.2 254.5,102.1 254.7,102 254.8,101.9 255,101.8 255.2,101.7 255.4,101.5 255.6,101.2 255.7,101 255.9,100.7 256.1,100.3 256.3,100 256.4,99.6 256.6,99.1 256.8,98.7 257,98.2 257.2,97.6 257.3,97.1 257.5,96.5 257.7,95.9 257.9,95.3 258,94.6 258.2,93.9 258.4,93.3 258.6,92.6 258.8,91.9 258.9,91.2 259.1,90.5 259.3,89.8 259.5,89.1 259.6,88.4 259.8,87.8 260,87.2 260.2,86.6 260.4,86.1 260.5,85.6 260.7,85.1 260.9,84.7 261.1,84.4 261.2,84.1 261.4,83.9 261.6,83.7 261.8,83.7 262,83.7 262.1,83.8 262.3,84 262.5,84.3 262.7,84.7 262.8,85.3 263,85.9 263.2,86.6 263.4,87.4 263.6,88.4 263.7,89.4 263.9,90.6 264.1,91.9 264.3,93.3 264.4,94.8 264.6,96.3 264.8,98 265,99.8 265.2,101.7 265.3,103.6 265.5,105.6 265.7,107.7 265.9,109.8 266,112 266.2,114.2 266.4,116.5 266.6,118.7 266.8,120.9 266.9,123.1 267.1,125.3 267.3,127.4 267.5,129.5 267.6,131.4 267.8,133.3 268,135 268.2,136.6 268.4,137.9 268.5,138.8 268.7,138.7 268.9,137.7 269.1,136.3 269.2,134.7 269.4,132.9 269.6,131 269.8,129.1 270,127 270.1,124.9 270.3,122.7 270.5,120.5 270.7,118.2 270.8,116 271,113.8 271.2,111.6 271.4,109.4 271.6,107.3 271.7,105.2 271.9,103.2 272.1,101.3 272.3,99.4 272.4,97.7 272.6,96 272.8,94.4 273,93 273.2,91.6 273.3,90.4 273.5,89.2 273.7,88.2 273.9,87.3 274,86.4 274.2,85.7 274.4,85.1 274.6,84.7 274.8,84.3 274.9,84 275.1,83.8 275.3,83.7 275.5,83.7 275.6,83.7 275.8,83.9 276,84.1 276.2,84.4 276.4,84.8 276.5,85.2 276.7,85.7 276.9,86.2 277.1,86.7 277.2,87.3 277.4,87.9 277.6,88.6 277.8,89.2 278,89.9 278.1,90.6 278.3,91.3 278.5,92 278.7,92.7 278.8,93.4 279,94.1 279.2,94.7 279.4,95.4 279.6,96 279.7,96.6 279.9,97.2 280.1,97.7 280.3,98.3 280.4,98.8 280.6,99.2 280.8,99.7 281,100 281.2,100.4 281.3,100.7 281.5,101 281.7,101.3 281.9,101.5 282,101.7 282.2,101.8 282.4,102 282.6,102.1 282.8,102.1 282.9,102.2 283.1,102.2 283.3,102.1 283.5,102.1 283.6,102 283.8,101.9 284,101.8 284.2,101.7 284.4,101.6 284.5,101.4 284.7,101.2 284.9,101 285.1,100.9 285.2,100.7 285.4,100.4 285.6,100.2 285.8,100 286,99.8 286.1,99.6 286.3,99.4 286.5,99.2 286.7,98.9 286.8,98.7 287,98.5 287.2,98.3 287.4,98.1 287.6,98 287.7,97.8 287.9,97.6 288.1,97.5 288.3,97.3 288.4,97.2 288.6,97.1 288.8,97 289,96.9 289.2,96.8 289.3,96.7 289.5,96.6 289.7,96.6 289.9,96.5 290,96.5 290.2,96.4 290.4,96.4 290.6,96.4 290.8,96.4 290.9,96.4 291.1,96.4 291.3,96.4 291.5,96.5 291.6,96.5 291.8,96.5 292,96.6 292.2,96.6 292.4,96.7 292.5,96.7 292.7,96.8 292.9,96.9 293.1,96.9 293.2,97 293.4,97.1 293.6,97.1 293.8,97.2 294,97.3 294.1,97.3 294.3,97.4 294.5,97.5 294.7,97.5 294.8,97.6 295,97.6 295.2,97.7 295.4,97.8 295.6,97.8 295.7,97.9 295.9,97.9 296.1,97.9 296.3,98 296.4,98 296.6,98.1 296.8,98.1 297,98.1 297.2,98.1 297.3,98.1 297.5,98.2 297.7,98.2 297.9,98.2 298,98.2 298.2,98.2 298.4,98.2 298.6,98.2 298.8,98.2 298.9,98.2 299.1,98.2 299.3,98.2 299.5,98.2 299.6,98.1 299.8,98.1 300,98.1 300.2,98.1 300.4,98.1 300.5,98.1 300.7,98 300.9,98 301.1,98 301.2,98 301.4,97.9 301.6,97.9 301.8,97.9 302,97.9 302.1,97.9 302.3,97.8 302.5,97.8 302.7,97.8 302.8,97.8 303,97.8 303.2,97.8 303.4,97.7 303.6,97.7 303.7,97.7 303.9,97.7 304.1,97.7 304.3,97.7 304.4,97.7 304.6,97.7 304.8,97.7 305,97.7 305.2,97.6 305.3,97.6 305.5,97.6 305.7,97.6 305.9,97.6 306,97.6 306.2,97.6 306.4,97.6 306.6,97.6 306.8,97.6 306.9,97.6 307.1,97.6 307.3,97.7 307.5,97.7 307.6,97.7 307.8,97.7 308,97.7" />
</g>
<rect x="197.6" y="187.5" width="147.4" height="60.2" fill="#fff" stroke="#a8a8a8" stroke-width="1"/>
<text x="232.9" y="200.3" font-size="11.8" text-anchor="start" >Co-polarised data</text>
<text x="232.9" y="215.1" font-size="11.8" text-anchor="start" >Cross-polarised data</text>
<text x="232.9" y="229.7" font-size="11.8" text-anchor="start" >Co-polarised fit</text>
<text x="232.9" y="244.1" font-size="11.8" text-anchor="start" >Cross-polarised fit</text>
<circle cx="216.2" cy="196.5" r="1.3" fill="none" stroke="#ff6a6a" stroke-width="0.7"/>
<circle cx="216.2" cy="210.9" r="1.3" fill="none" stroke="#5a85c8" stroke-width="0.7"/>
<path d="M202.2 225.5H230.3" stroke="#000080" stroke-width="2.2"/>
<path d="M202.2 240.4H230.3" stroke="#800000" stroke-width="2.2"/>
<path d="M413.2 265.4v5.0M479.77 265.4v5.0M479.77 18.7v5.0M546.35 265.4v5.0M546.35 18.7v5.0M612.92 265.4v5.0M612.92 18.7v5.0M679.5 265.4v5.0M446.49 265.4v3.0M446.49 18.7v3.0M513.06 265.4v3.0M513.06 18.7v3.0M579.64 265.4v3.0M579.64 18.7v3.0M646.21 265.4v3.0M646.21 18.7v3.0M413.2 265.4h-5.0M413.2 210.58h-5.0M679.5 210.58h-5.0M413.2 155.76h-5.0M679.5 155.76h-5.0M413.2 100.93h-5.0M679.5 100.93h-5.0M413.2 46.11h-5.0M679.5 46.11h-5.0M413.2 237.99h-3.0M679.5 237.99h-3.0M413.2 183.17h-3.0M679.5 183.17h-3.0M413.2 128.34h-3.0M679.5 128.34h-3.0M413.2 73.52h-3.0M679.5 73.52h-3.0M413.2 18.7h-3.0" stroke="#000" stroke-width="1.3" fill="none"/><rect x="413.2" y="18.7" width="266.3" height="246.7" fill="none" stroke="#000" stroke-width="1.3"/>
<text x="413.2" y="281.9" font-size="10.3" text-anchor="middle" >-10</text>
<text x="479.77" y="281.9" font-size="10.3" text-anchor="middle" >-5</text>
<text x="546.35" y="281.9" font-size="10.3" text-anchor="middle" >0</text>
<text x="612.92" y="281.9" font-size="10.3" text-anchor="middle" >5</text>
<text x="679.5" y="281.9" font-size="10.3" text-anchor="middle" >10</text>
<text x="404.9" y="268.9" font-size="10.3" text-anchor="end" >0.0</text>
<text x="404.9" y="214.08" font-size="10.3" text-anchor="end" >0.2</text>
<text x="404.9" y="159.26" font-size="10.3" text-anchor="end" >0.4</text>
<text x="404.9" y="104.43" font-size="10.3" text-anchor="end" >0.6</text>
<text x="404.9" y="49.61" font-size="10.3" text-anchor="end" >0.8</text>
<text x="546.35" y="303.3" font-size="13.2" text-anchor="middle" >Delay (ns)</text>
<text x="0" y="0" font-size="12.95" text-anchor="middle" transform="translate(384 141.8) rotate(-90)">Visibility</text>
<g clip-path="url(#cb)">
<polyline fill="none" stroke="none" marker-start="url(#md)" marker-mid="url(#md)" marker-end="url(#md)" points="413.2,220.3 413.3,223.5 413.3,221.1 413.4,221.2 413.6,207.7 413.6,218.9 413.6,213.9 413.7,219.5 413.7,215.2 413.7,212 413.9,213.2 413.9,211.6 414,213.1 414.1,217.5 414.1,214.8 414.2,216.1 414.3,218.6 414.4,208.6 414.4,220.4 414.4,221.5 414.6,218.7 414.6,212.5 414.7,218.2 414.8,215.7 415,219.4 415,212 415.1,215.4 415.4,216.3 415.5,211.2 415.5,219.8 415.7,211.1 415.7,213.4 415.8,221.1 415.9,217.2 415.9,214.7 416,220.6 416,219.8 416.1,211.2 416.2,206.2 416.5,210.4 416.5,214.3 416.5,216.1 416.6,220.2 416.6,213.6 416.7,218.4 416.8,216.3 416.8,216 416.9,213.3 416.9,214.4 416.9,224.7 417,218.7 417.1,212.8 417.1,211.6 417.1,213.5 417.2,212.6 417.2,220.6 417.2,216.6 417.4,216.1 417.5,212.9 417.7,216 417.7,218.4 417.8,212.8 417.8,216.2 417.9,214.1 417.9,222.6 418,216 418,214.3 418.1,210.9 418.2,216 418.4,222.4 418.4,221.2 418.4,212.2 418.4,212.6 418.5,217.2 418.6,219.6 418.6,212.3 418.7,218.4 418.7,216.7 418.8,222 418.8,226.4 418.9,215.7 419,209.6 419.2,217.6 419.3,221.2 419.5,211.5 419.5,220.3 419.6,224.5 419.7,218.5 419.7,215.4 419.8,219.7 419.9,216.6 420,216.5 420,216.4 420.1,210.9 420.1,215.9 420.4,214.4 420.5,211.5 420.5,217.8 420.8,213.2 420.8,218.8 421,216.3 421.2,216.8 421.3,212.7 421.4,213.1 421.5,219.1 421.5,220.3 421.6,220.8 421.7,220.2 421.7,219 421.9,216.7 422.1,219.7 422.2,209.6 422.5,211.8 422.6,208.6 422.7,214.6 422.7,213.8 423.1,217.2 423.2,211.9 423.3,214.3 423.3,216.7 423.4,214.8 423.4,209.3 423.4,210.1 423.5,216.2 423.7,223.7 424,227.2 424,216.6 424.2,216.6 424.2,216.5 424.2,214.9 424.3,214.3 424.4,219.3 424.5,218.6 424.5,210.3 424.6,207.9 424.6,215.6 424.7,215.6 424.8,212.9 424.8,214.7 425,215.8 425.1,216.1 425.1,210.5 425.1,218.7 425.1,214 425.4,220.4 425.5,213.9 425.8,214.8 425.9,216.4 426,214.7 426,222.5 426.3,219 426.4,217.7 426.5,215.7 426.9,216.2 426.9,218.7 427,215.8 427.1,214.7 427.2,206.6 427.2,215.3 427.2,214.7 427.4,214.8 427.5,217.2 427.6,217.6 427.6,213.1 427.6,217 427.6,217.8 427.7,216 427.8,209.9 427.8,220.3 427.9,217.4 427.9,214.9 427.9,213.7 428.1,209.7 428.3,208.4 428.3,218.2 428.3,213 428.4,208.6 428.5,211.5 428.6,219 428.6,218.1 428.7,215.5 428.8,212.6 428.8,219.6 429.1,212.6 429.1,218.2 429.3,213.4 429.5,213.1 429.5,214 429.7,211.9 429.8,215.8 429.8,215.1 429.9,210.9 430.1,218 430.1,218.1 430.1,221.1 430.4,209.4 430.6,218.7 430.6,212.3 430.6,215.5 430.9,214.2 430.9,217.4 431,216.4 431,212.2 431.2,215.5 431.2,219.7 431.3,216.6 431.4,221.2 431.5,214.1 431.6,212.7 431.7,215.2 431.7,210.4 431.8,210.2 431.8,216.7 432,212.1 432.1,217.1 432.1,215.5 432.1,217 432.2,215.8 432.2,220.7 432.3,216.8 432.7,220.9 432.8,210.3 432.9,218 432.9,216.4 432.9,222 432.9,218.8 432.9,214.1 433.1,223.9 433.2,214.9 433.2,217.9 433.3,208 433.4,213.5 433.5,212.6 433.6,214.8 433.6,212 433.7,220.3 433.9,209.5 434,212.9 434,221.8 434,214.4 434.4,215.7 434.4,210.2 434.5,216.8 434.7,215.6 434.8,214.1 434.8,216.4 434.9,209.3 435,213.9 435.1,218.2 435.2,214.9 435.2,216.5 435.2,209.4 435.3,219.8 435.5,222.5 435.5,207.7 435.6,215.7 435.6,211.2 435.6,215.5 435.8,217.4 435.9,213.5 436.2,215.2 436.3,217.9 436.3,222.7 436.4,214.4 436.6,210.4 436.6,211.2 436.8,220.7 436.8,210.3 436.9,220.8 436.9,217.4 437,215.2 437.3,215.3 437.6,218.6 437.6,216.7 437.7,215 437.7,215 437.7,212.8 437.8,212 437.9,214.9 437.9,218.1 437.9,212.6 438,215.5 438.1,218.4 438.3,224.5 438.5,214.8 438.6,213 438.6,211.5 438.6,219.2 438.7,215.8 438.8,222.1 438.9,214.9 439.1,214.6 439.2,218.8 439.3,213.6 439.3,211.8 439.5,211.7 439.5,219 439.6,215.4 439.8,211.6 440,216.2 440,216.9 440,216.5 440.1,212.1 440.2,216.4 440.2,222.6 440.3,213 440.7,204.7 440.7,213.7 441,210.2 441,214.2 441,216.3 441.1,219.3 441.2,213.5 441.2,215.4 441.3,211.9 441.3,214.8 441.4,212.9 441.4,223.1 441.5,214.1 441.6,213.1 441.7,214.2 441.7,210.3 441.7,215.7 442,212.9 442,222.9 442.1,212.6 442.3,212.7 442.4,218.9 442.5,223.9 442.6,219.3 442.6,215.8 442.6,209.6 442.7,220.2 442.7,214.1 442.7,213.4 442.8,213.7 442.9,218.4 443,213.3 443,221 443.1,223.2 443.1,216.2 443.3,219.2 443.3,224.5 443.4,210.9 443.4,212.9 443.5,213.6 443.6,219.4 443.9,218.5 444,221.9 444.1,216 444.1,216.9 444.1,216 444.2,210.3 444.2,217.8 444.3,216.6 444.3,221.5 444.3,209.9 444.3,211.2 444.4,224.7 444.4,224.3 444.6,209.4 444.7,208.4 444.8,213.1 444.8,210.3 444.8,220.8 444.8,215.5 444.8,212.5 444.9,216.5 444.9,219.5 445,216.4 445,219.1 445.1,208.4 445.2,217.3 445.2,218.5 445.2,223.1 445.2,210.2 445.3,216.5 445.5,213.6 445.7,216.3 445.8,214.8 446.1,215.7 446.3,218.2 446.3,214 446.5,219 446.6,214.8 446.7,214.4 446.8,212.7 446.8,219.3 447,206.8 447,215.1 447,220.4 447,222.4 447.1,215.6 447.4,216.3 447.5,213.5 447.6,222 447.6,216.2 447.6,214.4 447.6,212.3 447.6,222.9 447.7,218.5 447.9,219.2 447.9,216.6 448,217.3 448.2,215.8 448.2,219.7 448.4,214.6 448.4,222.2 448.4,216.4 448.5,208 448.6,220.2 448.9,209.3 449,211.1 449.1,218.1 449.1,214.4 449.3,213.9 449.4,220 449.4,224.4 449.4,217.3 449.5,221.4 449.5,214.1 449.6,222.9 449.8,208.1 450.2,206.9 450.4,219.2 450.6,224.2 450.6,215 450.7,218.4 450.7,216.7 450.7,222.5 450.8,222 450.9,214.3 451,221.6 451,224.2 451.1,214.4 451.2,214 451.2,217.6 451.3,220.5 451.3,210 451.8,217.8 451.8,213.8 451.9,221.6 451.9,221.8 452.2,215.5 452.3,210.4 452.6,220.4 452.6,218.7 452.7,217.9 452.8,210.9 453,216.5 453.1,214.8 453.1,212.8 453.3,213.5 453.3,209.8 453.4,221.5 453.6,215.1 453.6,214.8 453.7,221.1 453.7,215.8 453.8,215.3 453.8,217.8 453.8,218.9 453.8,211.3 454,215.2 454,216.5 454,215.2 454.2,218.2 454.2,215.3 454.5,214.3 454.5,219.6 454.7,216.6 454.8,216.5 454.9,215.6 455,217.8 455.1,216.3 455.2,218.1 455.3,219.7 455.3,218.3 455.6,222.5 455.6,213.9 455.6,214.9 455.9,219.7 456,220 456.1,219.7 456.2,221 456.4,220.8 456.4,214.3 456.4,217.5 456.4,212.8 456.5,214.3 456.6,214.7 456.7,221.4 456.8,209.4 457,217 457.2,225.3 457.2,217.3 457.3,217.7 457.3,214.1 457.5,220.4 457.7,215.8 457.8,217.8 457.8,211.6 458,217.5 458.4,214.4 458.5,212.4 458.6,219.5 458.6,215.1 458.8,216.3 458.8,210 458.9,213.9 458.9,219.2 459,209 459.2,218.4 459.8,216.4 460,215.8 460,214 460,218.9 460.1,217.2 460.1,217.7 460.1,215.5 460.2,219.4 460.2,217.9 460.3,221.8 460.3,209.5 460.4,214.2 460.4,211.3 460.5,219.1 460.5,223.2 460.5,222.7 460.7,221.2 460.7,214.2 460.7,217.8 460.7,218.4 460.8,221.2 460.8,209.7 460.9,221.6 461,217.2 461,217.4 461.2,216.8 461.2,216.9 461.2,214.8 461.5,205.8 461.5,211.8 461.5,215 461.7,220.4 461.8,210.2 461.9,210 461.9,218.4 461.9,214 462,225.4 462,220.2 462.2,211.7 462.2,223 462.4,213.5 462.4,211.7 462.5,221.8 462.5,216.6 462.6,210.2 462.7,206.5 462.9,215.7 462.9,210 462.9,219.3 463,218.6 463.1,214.2 463.1,212.9 463.1,215.1 463.2,211.3 463.4,212.4 463.4,210.4 463.4,212.5 463.6,215.3 463.6,214.9 463.6,215.8 463.9,214.8 464,211 464.1,211.3 464.1,209.9 464.2,211.6 464.4,211.7 464.5,218.5 464.5,216.7 464.6,217.2 464.8,218.3 464.8,225.1 464.9,212.7 465.2,219.7 465.3,218.5 465.4,218.5 465.5,209.4 465.6,213.9 465.7,209.7 465.7,215.7 465.8,212.5 466,212.5 466,216.2 466.1,215 466.2,222.4 466.2,219.9 466.2,215.4 466.2,224.9 466.4,214.9 466.5,215.1 466.6,218.5 466.7,212.8 466.8,214 466.8,211.4 466.9,215.1 466.9,213.4 466.9,214.6 466.9,221.2 466.9,216 467,216.5 467,215.6 467,215.8 467.1,212.8 467.2,216.2 467.2,218.9 467.5,213.8 467.5,224.3 467.5,221.7 467.6,211.3 467.6,221.9 467.7,215 468,220.4 468,213.6 468.1,214.8 468.1,212.1 468.2,214 468.2,211.5 468.2,219.7 468.4,210.2 468.5,217.9 468.6,212.9 468.9,216.8 469,211.7 469.2,214.4 469.2,215.2 469.2,213.7 469.3,216.2 469.4,216 469.4,210.5 469.5,213.8 469.5,215.6 469.9,217.5 470,211.3 470.1,219.1 470.1,216.3 470.3,220.5 470.3,218.4 470.4,216.6 470.4,214.6 470.5,216.2 470.6,212.3 470.6,223.1 470.7,207.9 470.7,213.7 470.7,214.1 470.9,219.2 471,212.2 471,218.9 471,216.1 471,215.1 471,213.8 471.1,213.9 471.3,219.2 471.4,220.8 471.4,210.7 471.4,212.8 471.4,213.6 471.4,214.1 471.5,213.8 471.7,223 471.9,215.6 472,212 472,215.3 472.1,212.8 472.1,214 472.2,217.3 472.2,218.5 472.4,216 472.5,211.6 472.5,221.7 472.6,212.1 472.6,222.9 472.6,207.9 472.9,216.2 473,214.9 473,217.3 473.1,211.8 473.2,218.3 473.4,210.2 473.4,207.1 473.4,215.4 473.4,218.7 473.5,212.4 473.5,218.2 473.6,216.7 473.6,214.6 473.9,211.3 474,219.7 474.3,212.7 474.3,213.5 474.3,215.9 474.4,212.8 474.6,215.1 474.8,216.9 474.9,223.1 474.9,224.9 475.1,215.3 475.2,212.9 475.2,219.4 475.2,216.7 475.4,209.5 475.4,212.3 475.4,222.3 475.5,213.1 475.5,216.7 475.5,213.7 475.6,215.4 475.8,219.4 475.8,207.9 475.8,225.7 476,219.9 476.1,211.5 476.1,216.4 476.1,214.9 476.4,219.9 476.5,213.2 476.6,219.1 476.7,220.9 477.1,220.9 477.3,212.1 477.3,216.7 477.5,213.7 477.5,215 477.6,217.2 477.6,221 477.6,215.3 477.6,214 477.7,220.9 477.7,218.8 478.1,219.8 478.5,224.5 478.5,215.3 478.7,214.2 478.8,216.8 478.8,215.5 478.9,215.8 479.1,211.8 479.2,213.3 479.3,212.8 479.4,219.4 479.4,214.5 479.7,216.5 479.8,220.6 479.9,214.7 480,222.8 480,220.7 480.1,212.3 480.1,213.8 480.3,223.6 480.3,215 480.5,216 480.6,217.5 480.6,220.8 480.6,217.6 480.7,213.6 481,209.4 481.1,213.1 481.1,219.8 481.3,213.7 481.5,208.3 481.8,217.1 481.9,221.2 481.9,212.2 482,218.7 482,216.1 482.1,215 482.1,217.1 482.2,216.4 482.3,213.8 482.8,213.5 483,215.1 483.3,213.3 483.5,215 483.6,218.8 483.6,209.4 483.7,214.9 483.7,214.2 483.8,212.1 483.9,216.7 483.9,221.4 483.9,222.8 484,217.8 484.3,212.2 484.4,214.7 484.5,214 484.5,218.1 484.6,221.8 484.6,217.3 484.7,223.4 484.7,219.7 484.7,214.5 484.8,219 484.9,222.1 485,214.7 485,214.8 485,216.1 485.1,223.7 485.1,214 485.3,217.8 485.3,214.7 485.4,212.6 485.8,215 485.8,211.8 485.9,213.9 485.9,218.4 486.2,218.8 486.2,209.2 486.2,208 486.3,217.5 486.3,215.2 486.5,214.5 486.5,213.1 486.7,222 486.7,213 486.7,215.3 486.8,215.1 486.8,217.3 486.9,210.3 487,217 487.1,208.7 487.2,209.6 487.3,217.6 487.4,211.8 487.4,211.7 487.5,216.6 487.6,223.9 487.6,216.6 487.6,214.1 487.7,206.7 487.8,210.3 487.8,211.6 487.9,214.2 488,211.7 488.1,218.5 488.3,218.4 488.3,220.3 488.3,219.7 488.5,215.9 488.5,207.6 488.5,220.7 488.6,214.2 488.7,215.2 488.9,222.5 488.9,216 489.1,223.6 489.2,211.1 489.4,212.1 489.4,218.4 489.5,217.1 489.5,217.5 489.5,218.1 489.8,212.7 489.8,219.9 489.9,216.9 490,220.2 490.2,211.1 490.6,215 490.7,211.4 490.7,218.7 490.8,225.6 490.9,213.3 491,214.2 491,212.2 491,215.8 491,213.1 491.1,212.3 491.1,217.7 491.4,224.1 491.4,213.1 491.5,215 491.5,217.4 491.5,220.5 491.7,209.1 491.7,215.1 491.9,215.2 491.9,219.2 492,218.5 492.1,214.8 492.2,220.6 492.3,211 492.4,217.4 492.7,210.7 492.9,215 493,218.6 493.1,207.8 493.2,215.7 493.3,217.5 493.3,211.9 493.3,214 493.3,215.4 493.3,223.2 493.3,222.1 493.4,212 493.4,217.5 493.6,213.6 493.8,218.9 493.8,214.5 493.8,222.3 493.9,216.4 493.9,209.9 494,214.6 494.1,216.9 494.2,215.9 494.3,215.4 494.4,208.2 494.6,214.7 494.7,213.6 494.8,217.2 494.8,213.2 495.1,213.5 495.2,218 495.2,221.7 495.3,216.2 495.3,210.8 495.3,217.6 495.4,216.7 495.6,210.8 495.6,215.7 496,222.6 496,208.8 496.1,214.9 496.2,217.2 496.2,216.2 496.2,213.2 496.2,217.1 496.3,208.3 496.4,213.4 496.5,212.7 496.6,213.9 496.7,217.2 496.8,214.3 497,208.2 497.1,216.8 497.3,215.5 497.4,213.5 497.4,217.8 497.5,211.6 497.5,219.6 497.6,213.3 497.6,218.7 497.6,216.1 497.8,216 498,204.7 498.1,217 498.6,210.8 498.8,213.1 499,217.5 499,211.2 499.1,214.8 499.3,220.8 499.3,221.3 499.3,214 499.4,214 499.4,220.7 499.5,214.4 499.6,215.8 499.7,212.8 499.9,217.3 499.9,214.4 499.9,215.1 500,212.5 500,210.6 500.2,206.8 500.2,220.4 500.3,213.7 500.3,218.1 500.5,219 500.5,221.5 500.5,216.9 500.7,214.6 501,215.8 501.3,213.9 501.4,214.1 501.4,213.1 501.5,214.6 501.5,213.7 501.5,214.2 501.7,216.7 501.7,220 501.9,220.5 502,213.3 502.5,218.8 502.6,212.2 502.7,216.9 502.7,218 502.8,216 502.8,214.6 502.9,208.6 503,216.7 503.1,217.1 503.1,213.7 503.3,211.4 503.4,215.5 503.6,217 503.6,213 503.7,213.8 503.8,213.3 503.8,220.1 503.9,212.5 503.9,214.6 504.2,210.8 504.3,215.7 504.4,213.2 504.5,215.7 504.6,206.8 504.9,220.4 505,218.5 505.1,217.9 505.1,226.2 505.4,216.9 505.5,208.8 505.6,212.1 505.7,210.9 505.7,215.4 505.8,217.3 506.2,215.5 506.3,219.8 506.3,221.5 506.5,210.8 506.5,215 506.7,209.8 506.9,220.2 506.9,214.6 507,220.6 507,209.1 507.1,214.6 507.1,218.9 507.1,218.8 507.2,210.2 507.2,219.1 507.5,215.9 507.6,215.1 507.9,218.9 508,209.4 508,208.2 508.1,217.1 508.4,214.4 508.4,212.4 508.4,212.8 508.6,212.4 508.7,219.4 508.9,215 509,220.4 509,215.6 509.1,213.2 509.1,212 509.2,223.1 509.2,214.2 509.2,220.4 509.3,213.3 509.4,213.6 509.5,214.4 509.5,211.5 509.6,214.1 509.6,218.1 509.7,216.4 509.8,213.8 510,221.4 510.2,216.1 510.4,213.9 510.5,219.3 510.6,210.7 510.6,211.1 511,213.4 511.1,215.7 511.1,216.7 511.2,213.2 511.5,213.7 511.6,211.9 511.7,218.1 511.8,213.2 511.9,211.3 512,219.1 512.1,215.1 512.2,215.4 512.3,216.3 512.3,212 512.4,216.3 512.4,213 512.5,214.1 512.6,212.8 512.8,216.6 512.9,218.2 512.9,213.3 512.9,215.6 513,212.7 513.1,217.6 513.2,217.9 513.4,213.2 513.5,215.3 513.5,216.3 513.5,213.3 513.8,216.5 513.9,215.2 513.9,213.9 514,219.9 514.1,212.3 514.5,215.9 514.5,216.9 514.5,216.1 514.5,218.2 514.6,222.6 514.6,215.7 514.7,217.6 514.7,209.9 514.8,210.5 514.8,217.7 514.8,214.7 515,211.9 515.1,214.5 515.3,216.5 515.3,217.1 515.5,219.6 515.7,212.8 515.8,213.8 515.9,215.4 516.1,216.1 516.2,209.8 516.4,214.4 516.4,211.2 516.6,220.5 516.7,219.3 516.8,219.1 516.9,213.5 516.9,217.5 517.2,211.4 517.2,215.8 517.4,212.6 517.5,217.4 517.5,213 517.6,217.3 517.6,216.4 517.9,219.8 518.1,222.8 518.2,220.5 518.3,215.3 518.5,215.4 518.5,222.2 518.5,220.6 518.6,221.4 518.6,214.3 518.6,219.6 518.7,220.1 518.7,214.7 518.7,218.6 518.8,214.6 519.1,213.8 519.1,218.6 519.1,222.7 519.2,217.5 519.2,208.7 519.2,220.5 519.4,211.7 519.4,218.9 519.5,220.1 519.6,211.3 519.8,218.2 519.8,224.5 520,221.6 520.3,219.9 520.3,218.9 520.4,212.3 520.6,213.4 520.7,216.9 520.7,215.3 520.7,218.6 520.9,223 521.1,216.9 521.3,217.8 521.3,213.7 521.5,215.9 521.7,212.9 521.9,218.6 521.9,218.5 522,218.8 522.1,220.3 522.1,213.3 522.3,216.6 522.4,221.6 522.5,219.5 522.6,210.4 523.1,208.9 523.2,212.3 523.3,216.9 523.4,211.6 523.5,217.6 523.5,221.7 523.7,217.2 523.7,221.4 524,218.3 524.1,209.3 524.2,215.6 524.3,216.7 524.3,214.6 524.4,219.1 524.4,216.6 524.5,221.1 524.5,222.5 524.5,219.3 524.7,222 524.9,225.8 524.9,219.5 525,221.4 525.1,221 525.1,212.4 525.3,215.4 525.4,214.1 525.5,218.4 525.6,221.4 525.7,220.9 525.7,211.1 525.7,227.9 525.9,219.4 525.9,216.8 526.1,223 526.3,213.7 526.3,220.5 526.3,217.5 526.4,211.7 526.4,214.2 526.4,218.2 526.5,217.7 526.6,211.9 526.6,210.3 526.7,215.3 526.9,223.8 526.9,218.8 527,213.2 527,219.7 527.3,217.9 527.3,220.3 527.3,218.3 527.6,212.9 527.9,213.8 528,220.2 528.4,211.1 528.4,221 528.5,212.1 528.6,212.2 528.6,220.2 528.6,222.2 528.6,211.7 528.6,212.9 528.7,214.5 528.8,218 528.8,213.7 528.9,220.5 528.9,212.1 529.1,206.2 529.2,215.3 529.3,210.6 529.4,217.3 529.5,212.9 529.5,214.8 529.9,211.7 529.9,214.4 529.9,219.6 530,209.2 530.1,217.2 530.2,208.7 530.2,217.1 530.5,209.1 530.7,210.3 530.7,213.5 530.7,208 530.8,210.4 530.8,205.4 530.9,208.5 531.2,205.7 531.3,217.5 531.4,204.7 531.4,210.5 531.5,210.3 531.5,214.1 531.5,212 531.7,209.9 531.9,208 531.9,207.9 532,209.4 532.1,206.9 532.2,204 532.2,209 532.3,209.4 532.4,202.7 532.4,205 532.4,209.9 532.5,203.9 532.5,204.5 532.6,197.9 532.7,202.3 533,201.5 533,204.7 533.1,207.5 533.3,203.5 533.4,203.6 533.5,203.4 534.1,195.5 534.1,203.2 534.1,193 534.2,202.9 534.2,204.1 534.2,195.4 534.3,199.6 534.3,201.1 534.3,196.8 534.3,200.1 534.3,197.8 534.6,198.3 534.6,196.4 534.6,199.8 534.7,194.1 534.8,197.7 534.8,195.6 535,202.6 535.1,192.8 535.2,195.9 535.2,194.3 535.3,194.2 535.4,194.9 535.5,195.6 535.8,186.8 536,190.8 536,189.7 536.1,189.5 536.1,190.8 536.2,183.8 536.4,188.7 536.4,184.7 536.5,188.3 536.6,190.1 536.6,189.6 536.6,182.7 536.7,191.2 536.7,190.2 536.7,186.4 536.8,181 537.2,183 537.2,176.7 537.3,180 537.4,179.2 537.4,172.9 537.9,172.6 537.9,175.5 537.9,175.9 537.9,171 538,168.6 538,173.6 538,173.1 538.1,168.8 538.2,173.6 538.3,169.2 538.5,167.8 538.6,168.1 538.7,169.2 538.7,173.6 538.7,166.7 538.7,169.9 539.2,160.2 539.5,159.6 539.6,157.6 539.6,151.9 539.9,151.1 540,154.6 540,149.2 540,152 540.5,149 540.5,145 540.6,143.3 540.7,139.8 540.7,139.4 540.9,137 540.9,141.3 541,139.1 541,143.1 541,137.2 541,138.1 541.1,142.5 541.2,134.5 541.2,134.9 541.2,138.3 541.4,137 541.5,131.1 541.5,129.7 541.5,130.3 541.9,122 541.9,119 542,122.6 542.2,120.1 542.2,120 542.3,113.2 542.4,116 542.5,113.1 542.5,112.4 542.6,109.8 542.7,109.5 542.7,106.5 542.7,108.7 542.7,109.1 542.8,110.3 542.8,108.3 542.9,105.4 543.2,98.6 543.3,99.4 543.3,97 543.4,96.9 543.5,98.9 543.5,93.8 543.6,90.8 543.8,91.2 543.8,86.6 543.9,89.1 544,85.7 544,84.7 544,83 544.1,83.4 544.1,82.7 544.2,79.3 544.3,78.2 544.3,78.8 544.4,77.9 544.4,75.6 544.4,76.6 544.5,77.1 544.6,74.3 544.6,76.1 544.6,71.3 544.7,72.8 544.7,74.6 544.8,71.3 545,68.2 545,67.2 545.1,67.2 545.1,67.5 545.1,67.6 545.2,65.2 545.2,64.6 545.2,65 545.4,63.4 545.4,63.2 545.6,61.8 545.7,61.3 545.8,59.6 546.1,58.6 546.1,58.5 546.2,59.3 546.4,57.8 546.4,59.5 546.6,57.7 546.7,59.2 546.7,58.8 546.7,59.9 546.8,59.5 546.8,60.3 546.8,59.5 547,62.4 547.1,60.2 547.2,62.4 547.3,62.9 547.4,64.2 547.5,65.4 547.6,68.2 547.8,70.8 547.9,72.3 548.1,75.6 548.1,73.2 548.1,74.7 548.2,75.8 548.3,78.5 548.3,76.9 548.3,76.3 548.5,80.9 548.5,79.4 548.5,81.1 548.6,82.1 548.6,85.7 548.6,84.6 548.8,85 548.9,87.8 549.1,88.6 549.2,94.9 549.2,94.1 549.3,97.8 549.3,97.5 549.3,98.2 549.3,98.3 549.4,97 549.5,97.3 549.7,102.9 549.7,105.5 549.7,101.4 549.7,103.7 549.8,108 549.9,105.2 550,108.8 550,108.9 550.1,113.3 550.1,113.3 550.3,114.8 550.4,119.5 550.5,117.8 550.5,117.5 550.9,124.8 550.9,126.1 551.1,128.9 551.2,130.6 551.4,129.8 551.6,135.6 551.9,139.6 551.9,143.2 552,140.7 552,140.2 552.3,152.4 552.4,143 552.6,147.1 552.6,150.1 552.7,155.9 552.9,146.7 553,153 553.1,156.8 553.1,160.1 553.3,154.4 553.4,164.4 553.6,161.3 554.1,167.3 554.4,174.2 554.5,173.1 554.6,173.9 554.7,169.9 554.9,173.4 555,171.5 555.1,179.7 555.1,171.8 555.2,175.4 555.2,172.6 555.6,181.1 555.6,178.5 555.7,184.6 555.7,177.3 556.1,184 556.2,187.5 556.3,186.2 556.3,185.7 556.5,193.9 556.6,187.8 556.6,192.2 556.7,189.3 556.8,188.9 557,182.1 557.3,191.3 557.3,197.8 557.5,191.7 557.5,198.3 557.8,199.5 557.9,198.9 558,193.5 558.1,191 558.2,195.1 558.2,202.8 558.3,197.8 558.4,195.6 558.4,208.5 558.5,200.9 558.6,190 558.6,205.1 558.7,204.2 558.7,204.8 558.8,195.5 559.1,198.4 559.2,199.7 559.3,198.3 559.3,205.5 559.4,210.5 559.4,201.2 559.5,210 559.6,201.7 559.6,202.1 559.7,203.6 559.7,199.3 559.8,203.4 559.9,209.9 560,208.4 560,203 560.1,208.1 560.3,204 560.4,208.1 560.5,206.1 560.7,211.5 560.7,208.5 560.8,214.3 560.8,210.8 561,206.7 561,211.4 561.2,213 561.2,206.2 561.3,206.8 561.3,214.3 561.3,208.9 561.4,208 561.5,213.6 561.7,213.7 561.7,211.6 561.7,205.2 561.8,211.3 561.8,211.4 562.1,222 562.1,210.5 562.2,208.3 562.2,216.4 562.2,209.3 562.3,211 562.5,209.7 562.6,213.1 563,213.7 563,204.3 563.2,207.2 563.3,217.9 563.4,220.8 563.5,213.2 563.7,213.3 563.8,214.7 563.9,215.8 563.9,209.7 563.9,226.9 564,219.2 564,213.1 564.2,213.8 564.4,214 564.4,218.8 564.4,209.4 564.8,212.6 564.9,213.2 565,214.8 565,222.1 565.3,219.1 565.7,222 565.7,217.2 565.8,223.1 565.9,217.6 565.9,220.1 566,217.8 566.1,226.2 566.2,222 566.3,217.5 566.7,215.4 566.8,222.9 567,215.7 567,208.4 567.1,218.8 567.1,221.2 567.1,225.3 567.1,224.5 567.3,220.4 567.3,219.4 567.5,216.1 567.6,211.3 567.7,221.6 567.7,217.2 567.7,212.4 568,215.8 568.1,217.1 568.1,217.2 568.1,222.9 568.2,223.2 568.3,214.9 568.7,212.5 568.8,213.6 568.8,213.7 568.8,211.4 568.9,211.9 569,219 569,216.5 569.3,226.2 569.3,213.5 569.7,216.8 570,216.9 570.1,213.5 570.2,222.4 570.2,216.7 570.3,220.6 570.4,211.3 570.4,222.1 570.5,219.5 570.6,215.6 570.9,210.8 571,217.3 571,222.6 571.2,219.9 571.3,215.9 571.4,215 571.5,221.8 571.5,212.7 571.8,220.4 571.8,220.6 571.9,217.8 571.9,221.6 572,221.6 572.2,217.8 572.2,226.2 572.3,218.4 572.4,221.6 572.5,215.8 572.6,220.6 572.7,213.5 572.8,215.6 572.8,215 572.9,216.1 572.9,220.2 573,215.4 573.2,214.5 573.2,216.4 573.6,215.5 573.7,215.4 573.8,217.6 573.9,218.7 574,216.2 574,216.1 574.2,214.2 574.2,212 574.3,217.7 574.3,218.3 574.4,209 574.5,216.7 574.5,216.6 574.5,219.6 574.7,215 574.7,224.8 574.8,219.3 574.9,217.4 575.2,219.1 575.3,215.5 575.4,212.1 575.4,215 575.5,217.8 575.5,225.5 575.6,219.4 575.7,211.7 575.8,210.7 576,214.2 576,213.2 576.2,213.4 576.2,222 576.2,218 576.2,218.5 576.2,214.2 576.2,212.3 576.5,216.2 576.8,209.3 577,216.9 577.1,218.4 577.1,218.5 577.1,224.1 577.2,213.7 577.2,218.3 577.4,213.9 577.5,214.7 577.5,214.2 577.6,222.5 577.7,217.7 577.8,217.3 577.8,215.1 578,220.1 578.1,220.2 578.2,211.9 578.2,221.6 578.3,215.4 578.3,220.4 578.4,213.2 578.6,218 578.7,217.6 578.7,219.7 578.9,223.6 579,209.5 579,216.4 579,210.5 579,213.6 579.1,219.8 579.1,218.1 579.4,213.9 579.5,215.7 579.5,218.6 579.6,214.5 579.6,212.7 580.3,211.2 580.3,209.4 580.4,215.4 580.7,217 580.7,217 580.7,225.3 580.7,210.5 581,209.3 581,229.9 581.1,215 581.5,217.6 581.7,216.4 582,222.2 582,216 582,223.5 582.1,213.2 582.1,211.9 582.2,210.8 582.3,222 582.4,220.1 582.5,217.9 582.6,210.3 582.6,216.4 582.7,209.6 582.9,214.8 582.9,213 583,221 583,221.9 583.2,218.5 583.2,220.1 583.4,221.2 583.8,213.2 584,209.3 584,218.2 584.4,215.6 584.6,210 584.6,214.9 584.7,212.2 584.7,212.3 584.9,210.4 585.1,210.6 585.1,213.8 585.2,218.7 585.2,210.7 585.2,219.1 585.3,214.3 585.3,213 585.4,203.6 585.6,211.9 585.6,212.9 585.7,216 585.8,215.2 585.9,220.5 586,223.2 586.1,215.2 586.2,214 586.2,216.4 586.2,215.6 586.3,215.6 586.5,207.7 586.6,217 586.7,207.1 586.7,217.3 586.8,215.4 586.9,214.7 586.9,212.2 586.9,208.9 586.9,210.5 587,210.1 587.2,213.2 587.3,214.3 587.3,214.8 587.4,218.8 587.4,205.8 587.7,214.6 587.7,217.1 587.8,218.9 587.9,215.5 587.9,218.5 587.9,210.4 588,209.9 588,217 588,209.4 588.1,211.2 588.4,213 588.5,213.2 588.5,215.4 588.6,210.7 588.6,220.8 588.8,211.4 588.8,214.6 589,223.2 589,215.6 589.2,213.7 589.2,211.9 589.6,214 589.7,218 589.7,213.5 589.8,213.9 589.8,227.1 590,218.8 590,215.9 590.1,217.1 590.1,213.8 590.1,206.6 590.2,214.5 590.2,216.4 590.2,214.9 590.2,218.2 590.3,216.9 590.3,217.5 590.4,212.4 590.5,216.7 590.7,214.2 590.9,213.3 591,218.7 591.1,212.4 591.3,208.5 591.8,215.7 592,213.7 592,210.4 592.1,209.6 592.1,213.6 592.2,215.5 592.4,212.7 592.5,219 592.5,217.9 592.6,216.9 592.6,213.1 592.7,219.1 593.1,213.9 593.3,221.3 593.3,218.7 593.4,218.3 593.5,212.8 593.6,208 593.7,221.1 593.8,214 593.8,215.5 594,213.4 594,217.2 594,211.7 594,223.1 594.1,211.3 594.3,209.5 594.3,218.3 594.5,214.5 594.6,219.4 595,216.4 595.2,216.3 595.2,225.7 595.3,211.9 595.4,212.7 595.6,208.1 595.7,215.6 595.9,214.8 596.3,210.8 596.4,222.5 596.5,213.3 596.6,216.8 596.8,208 596.9,216.1 597,211.5 597.1,217.1 597.3,228.1 597.5,210 597.7,211.3 597.8,211.5 597.8,216.7 597.9,210.8 598,219.3 598.1,218.6 598.4,211.8 598.5,212.4 598.5,208.3 598.6,218.3 598.7,213.7 598.7,213.4 598.8,211.2 598.8,219.7 599,215.2 599.1,217.2 599.2,213.5 599.2,204.1 599.3,212.7 599.3,209.3 599.5,213.1 599.5,216.8 599.5,214.3 599.8,215.5 599.8,216 600.1,212.3 600.3,213.3 600.3,218.8 600.3,223.8 600.5,217.7 600.5,214 600.6,210.2 600.6,214.9 600.6,213.5 600.9,211.6 601.1,211.1 601.2,218.5 601.3,216.4 601.4,213 601.5,217.7 601.6,219.1 601.8,216.7 601.9,215.6 602,211.5 602,217.5 602.1,218.8 602.1,217.1 602.1,212.3 602.3,222.5 602.3,214.3 602.5,211.6 602.6,217.1 602.9,217.8 602.9,220.1 603,219.1 603,216.1 603.1,210.7 603.1,213.4 603.3,217.1 603.5,221.2 603.5,220.2 603.5,211.4 603.5,221.1 604,211.9 604.1,215.1 604.2,211.8 604.4,214.3 604.4,217.9 604.5,215.9 604.7,217.4 604.7,220.6 604.7,216.7 604.8,216.2 605.1,220.2 605.4,217 605.4,213.2 605.5,216 605.6,220.3 605.6,210.1 605.6,218.7 605.7,211.5 605.9,214.7 606.1,211.7 606.1,215 606.1,220.3 606.4,211.3 606.4,218.8 606.5,221.6 606.5,221.7 606.7,214.4 606.8,218 606.9,217.8 606.9,221.7 607,208.7 607.2,213.3 607.3,212 607.5,215.2 607.7,211.4 607.7,217.8 607.7,210.6 607.8,216 607.8,217.6 608.1,212.8 608.2,214.1 608.3,214.4 608.4,221.9 608.9,219.5 609,220.8 609.3,218.9 609.4,215.4 609.5,219.7 609.6,215.8 609.6,219.9 609.7,217.1 609.7,213.7 609.9,211.4 610,208.6 610.2,215 610.4,214.6 610.4,210 610.6,221.9 610.6,219.8 610.6,212.2 610.8,211.7 610.8,208.4 611,208.9 611.1,209.5 611.2,212.4 611.3,215.4 611.4,211 611.4,222.7 611.5,216.3 611.6,221.5 611.9,216.6 611.9,226.7 611.9,214.1 612.1,216 612.2,211.6 612.4,222 612.5,217.2 612.6,212.5 612.7,222.6 612.7,216.7 612.8,224.4 612.9,208.8 613.1,219.7 613.1,216 613.2,214.9 613.2,223.2 613.3,218.5 613.3,222.7 613.4,214.2 613.4,210.7 613.8,225.2 613.9,216.6 614.1,221.9 614.1,214.9 614.2,214.2 614.3,212.8 614.3,213.9 614.3,222.7 614.3,221.4 614.3,216.7 614.4,213.8 614.6,219.5 614.6,218 614.6,214.6 614.6,215.9 614.8,212.2 614.9,220.6 614.9,214.4 614.9,215.9 615,215.9 615,216.9 615.2,218.4 615.2,211.1 615.2,218.7 615.3,214.7 615.3,215.9 615.8,218.9 615.8,215.2 615.9,215 616,210.2 616,219.2 616.3,213.9 616.4,214.1 616.5,212.6 616.5,218.8 616.6,215.1 616.6,221 616.6,215 616.6,211.9 616.7,210.4 616.9,224.7 617.1,217.8 617.2,214.7 617.2,223.1 617.2,206.6 617.3,214.9 617.3,222.8 617.5,204.1 617.5,214.4 617.5,223.6 617.6,219.6 617.7,219 617.8,216.5 617.8,209.7 618,218.7 618.1,218.1 618.1,216 618.2,213.9 618.2,215 618.5,221.2 618.7,212.7 618.8,219.4 618.8,219.2 618.8,206.6 618.9,222.9 618.9,216.3 619,220.2 619.1,213.4 619.2,214.5 619.3,219.7 619.3,217.9 619.4,218.1 619.4,214.1 619.5,222.8 619.6,214.8 619.7,215 619.7,216.1 619.7,217.8 619.7,213.4 620,213.8 620,215.2 620,215.8 620.1,213.4 620.2,213.5 620.3,220.3 620.3,220.8 620.4,217.6 620.5,218.9 620.5,218.3 620.5,216.8 620.6,210.7 620.7,215.8 620.7,215.3 620.7,212.8 620.9,218.6 621,217.3 621.2,223.2 621.4,219.5 621.5,213.7 621.6,217.6 621.8,217.4 621.8,210.1 621.8,209.5 621.9,215.5 622,219.4 622.1,221 622.2,216.2 622.6,220.4 622.7,216.4 622.7,218.2 622.7,216.8 622.8,217.7 623.2,211.6 623.2,216.9 623.2,210 623.2,217.9 623.2,210 623.3,220 623.5,215.2 623.5,217.6 623.6,220.3 623.7,208.3 623.7,215.7 624.1,220 624.2,222.2 624.3,214.1 624.4,213.7 624.5,215.8 624.6,218.8 624.7,218.2 624.7,221.3 624.9,218.6 625,217.9 625.2,214 625.3,213.5 625.4,220.8 625.4,224.3 625.6,209.6 625.6,216.2 625.8,219.6 626,215.8 626.1,219.8 626.2,218.6 626.3,226.3 626.3,218.4 626.5,210.7 626.5,213.8 626.5,217.9 626.7,216.6 626.7,214.3 626.9,212.9 627,220 627.1,217.9 627.3,216.2 627.5,213.5 627.5,218.3 627.5,215.1 627.8,213.8 627.9,216.7 627.9,214.8 628.2,212.2 628.5,221.4 628.7,216 628.8,215.5 628.8,208.5 628.8,224.1 628.9,219.7 629,222.4 629,220.7 629.1,215.6 629.1,220.6 629.1,217.3 629.3,216.8 629.5,217.6 629.6,213.5 629.7,215.4 629.8,219.9 629.9,218.4 629.9,215.6 629.9,218.9 630.1,214.9 630.4,216.8 630.4,218.7 630.4,217.9 630.6,220.9 630.9,215.5 630.9,218.9 631,219.4 631.1,217.8 631.3,208.3 631.3,212.2 631.5,219.1 631.5,220.5 631.5,213.9 631.6,220.4 631.6,212.2 631.8,219.2 631.8,212.4 631.8,208.7 631.8,217.7 631.9,213.9 632,213.5 632.1,207.3 632.5,207 632.5,219.5 632.6,211.3 633,212.2 633.2,215.1 633.3,214.2 633.8,220.3 633.8,219.5 634,216.5 634.2,221.2 634.2,214.7 634.3,215.4 634.3,210.2 634.4,220.2 634.5,210.8 634.6,214.5 634.7,214.8 634.7,215.9 634.7,215.8 634.9,218.5 635.1,219.4 635.1,211 635.2,224.5 635.5,212 635.6,214.3 635.6,214.8 635.6,211.7 635.7,215.6 635.8,214.7 636.2,213.1 636.3,216.1 636.5,211.9 636.5,212.2 636.7,216 636.9,214 637,219.1 637.1,214.6 637.1,215.2 637.1,221.2 637.4,215.7 637.5,213.7 637.6,219.4 637.7,220.8 637.7,215.9 637.8,218 637.8,219.5 637.9,215.6 637.9,219.5 638.1,215.4 638.2,211.8 638.2,214.6 638.2,215.2 638.2,219.7 638.3,210.9 638.3,216.8 638.4,209.3 638.7,217.9 638.7,215.7 638.8,220.8 638.9,214.6 638.9,221.2 639,215.7 639.6,209.5 639.7,213.1 639.7,220.9 639.8,212.4 640,220.5 640.1,217.2 640.2,218.1 640.3,217.5 640.4,216.3 640.5,225.3 640.7,212.1 640.8,216.6 640.8,220.2 641,215 641.2,210.7 641.3,220.1 641.7,213.7 641.7,216.5 641.8,215.9 642,218.3 642.1,216 642.1,213.9 642.1,222.2 642.1,219.2 642.2,218.3 642.3,218.5 642.6,222.8 642.7,218.6 642.8,220.9 643.1,215 643.3,216.5 643.4,215.8 643.5,215 643.7,218.3 643.8,220.3 643.8,213.8 643.9,218 644,218.8 644,210.2 644,222.1 644.1,213.2 644.2,211.2 644.3,217.7 644.3,218.7 644.4,215 644.4,219.5 644.4,224 644.5,212.2 644.7,210.2 644.7,221.5 644.8,213.7 644.9,215.6 645.1,216.5 645.2,213.5 645.2,218 645.5,217.5 645.5,215.8 645.6,215.1 645.9,225.6 645.9,211.7 646,214 646.1,212.1 646.1,216.9 646.1,220.2 646.3,214.1 646.4,214.2 646.4,212.5 646.5,213.6 646.7,219.6 646.9,220.5 646.9,217.1 647.3,214.7 647.5,216.6 647.6,218.3 647.7,215.7 647.7,223.3 648.2,216.7 648.3,224.7 648.3,209.8 648.3,223.3 648.4,209.3 648.5,212.8 648.5,212.2 648.5,213 648.6,217.7 648.7,215.9 648.7,210.1 648.7,220.3 648.8,217.1 648.9,212.5 649,218.8 649.1,209.5 649.2,220.7 649.2,219.1 649.2,215.9 649.4,219.1 649.4,217.2 649.4,216.3 649.4,216.9 649.6,214.9 649.6,214.8 649.7,214.9 649.8,215.4 649.9,215.9 649.9,214.9 650,214.7 650.2,213.1 650.3,209.8 650.8,218.5 650.8,209.2 650.9,212.7 650.9,212.2 650.9,218 651.2,214.9 651.2,214.7 651.2,217 651.2,213.2 651.2,220.5 651.3,219.3 651.3,212.8 651.4,214.5 651.4,222.3 651.6,214.5 651.6,215.6 652,212.9 652.2,216.5 652.2,216.3 652.2,220.2 652.4,216.9 652.5,218 653,214.4 653.1,224.3 653.2,216.6 653.3,212.3 653.4,227.1 653.6,214 653.6,214.9 653.8,216.1 654.1,215.3 654.1,219.3 654.1,213.4 654.2,215.6 654.2,223.6 654.5,214.2 654.7,221.1 654.7,220.6 654.9,215.3 654.9,218.4 655,216.2 655,215.8 655,217.3 655.1,215.3 655.1,222.8 655.2,210.3 655.2,213.5 655.9,219.3 655.9,217.6 656,211.2 656,220.2 656.2,223.1 656.2,208.8 656.2,211.6 656.3,215.2 656.3,210.2 656.4,214.8 656.5,213.9 656.5,214.3 656.6,213.7 656.6,220.3 656.8,216.3 656.8,215.2 656.9,220.6 657,221.4 657.1,216.8 657.3,210.4 657.7,217 657.7,212.4 657.8,211.7 657.8,211.4 657.8,214 657.9,223.1 657.9,224.7 658,220.8 658,217.6 658.1,217 658.1,218.3 658.2,217.8 658.4,214.2 658.5,221.1 658.6,214.2 658.6,214.4 658.6,223.3 658.8,215.9 658.8,216.6 658.8,214.5 658.9,214.7 659,224.9 659.1,209.2 659.1,216.1 659.2,212.8 659.2,213.1 659.6,220.3 659.7,216.7 659.9,217.3 659.9,208.1 659.9,221.7 659.9,210.6 660,213.1 660,216.9 660,220.5 660,217.2 660.1,213.9 660.2,220.1 660.3,215.6 660.4,214.1 660.5,213.8 660.5,217.8 660.6,214 660.6,213.6 660.8,224.3 661,221 661,222 661,219.4 661.1,213.6 661.1,214.6 661.2,215.1 661.2,218.6 661.4,212.6 661.4,222.7 661.6,222 661.6,213.9 661.6,217.6 661.7,212.4 661.9,213.2 662.1,212.9 662.1,219.6 662.3,218.7 662.3,223 662.5,216.5 662.6,216.6 662.9,218.8 663,217.6 663,215.8 663.3,213.1 663.4,218.8 663.4,219 663.5,217 663.6,214.4 663.6,209.4 663.6,212.9 663.7,225.9 663.7,223.2 663.8,219.7 663.8,226.5 664,213.9 664.3,220.1 664.4,221.7 664.5,217.4 664.7,215.5 664.9,218.1 664.9,216.8 665,213.1 665.2,220.8 665.2,216.8 665.3,224 665.4,221.5 665.7,212.8 665.7,219.7 666,220.7 666.1,213.6 666.2,218.6 666.3,213.2 666.6,209.3 666.7,208.2 666.9,217.6 666.9,215.5 666.9,219 667,210.1 667.3,214.6 667.5,205.9 667.5,218.6 667.7,217 667.8,227.9 667.9,219.5 667.9,219.2 667.9,214.9 668,213 668,219.9 668,217.3 668.1,214.5 668.2,217.1 668.2,214.2 668.4,210.7 668.4,219.2 668.4,215.6 668.5,212.3 668.5,216.4 668.6,210.7 668.6,218 668.7,212.4 668.7,215.7 668.8,214.4 669,219.3 669,212.5 669,221.1 669,212.6 669.2,216.6 669.3,215.6 669.3,211.6 669.3,221.9 669.3,213.6 669.4,215.2 669.5,218.5 669.5,213.4 669.5,216.6 669.6,209.3 669.6,218.4 669.7,210.5 669.7,211.1 669.8,215.1 669.8,219.1 669.8,216.6 669.9,221.5 669.9,219.2 669.9,218.8 670,215.1 670.1,221.9 670.2,214.8 670.6,218.3 670.6,212.8 670.8,214.2 670.8,218.8 671,215.6 671.1,215.7 671.1,218.5 671.2,217.5 671.2,217.1 671.2,220.4 671.2,221.3 671.3,215.8 671.7,223.4 671.8,214.7 671.9,213.4 672,218.2 672,214.9 672.1,219.5 672.2,214.1 672.3,204.7 672.3,214.7 672.4,216.8 672.4,216.7 672.4,221.9 672.6,219.4 672.7,217.7 672.9,218.9 673,216.3 673,211.8 673,222 673,219.1 673.1,216.1 673.1,221.2 673.1,220.2 673.2,214.9 673.3,214.5 673.5,215.5 673.7,220.6 674,214.7 674.1,213.6 674.2,218.5 674.2,216.6 674.3,217.8 674.4,217.7 674.5,218.8 674.6,215.2 674.7,219.8 674.8,210.2 674.9,214.3 674.9,217.7 675,208.3 675,216.1 675.2,225.3 675.2,212.5 675.3,214 675.4,216.8 675.5,216.4 675.5,218.9 675.5,221.2 675.7,220.8 675.8,207.2 675.9,219 676,216.1 676,209.8 676.4,219.3 676.5,217 676.5,218.4 676.6,222.3 677,214.8 677,214.3 677.2,217.5 677.2,217.5 677.2,214.3 677.2,214 677.2,209.2 677.4,213.9 677.4,213.6 677.6,219 677.8,221.7 677.9,211.7 678,219.7 678.2,214 678.2,216.2 678.3,219.6 678.6,215.6 678.6,210 678.6,211.3 678.7,218.3 678.9,217.5 679.1,224.2 679.3,221.1 679.4,218.6 679.4,216.5 679.5,214.9"/>
<polyline fill="none" stroke="#7a0000" stroke-width="1.9" stroke-linejoin="round" points="413.2,216.5 413.4,216.5 413.6,216.5 413.9,216.5 414.1,216.5 414.3,216.5 414.5,216.5 414.8,216.5 415,216.5 415.2,216.5 415.4,216.5 415.6,216.5 415.9,216.5 416.1,216.5 416.3,216.5 416.5,216.5 416.8,216.5 417,216.5 417.2,216.5 417.4,216.5 417.6,216.5 417.9,216.5 418.1,216.5 418.3,216.5 418.5,216.5 418.8,216.5 419,216.5 419.2,216.5 419.4,216.5 419.6,216.5 419.9,216.5 420.1,216.5 420.3,216.5 420.5,216.5 420.8,216.5 421,216.5 421.2,216.5 421.4,216.5 421.6,216.5 421.9,216.5 422.1,216.5 422.3,216.5 422.5,216.5 422.8,216.5 423,216.5 423.2,216.5 423.4,216.5 423.6,216.5 423.9,216.5 424.1,216.5 424.3,216.5 424.5,216.5 424.7,216.5 425,216.5 425.2,216.5 425.4,216.5 425.6,216.5 425.9,216.5 426.1,216.5 426.3,216.5 426.5,216.5 426.7,216.5 427,216.5 427.2,216.5 427.4,216.5 427.6,216.5 427.9,216.5 428.1,216.5 428.3,216.5 428.5,216.5 428.7,216.5 429,216.5 429.2,216.5 429.4,216.5 429.6,216.5 429.9,216.5 430.1,216.5 430.3,216.5 430.5,216.5 430.7,216.5 431,216.5 431.2,216.5 431.4,216.5 431.6,216.5 431.9,216.5 432.1,216.5 432.3,216.5 432.5,216.5 432.7,216.5 433,216.5 433.2,216.5 433.4,216.5 433.6,216.5 433.9,216.5 434.1,216.5 434.3,216.5 434.5,216.5 434.7,216.5 435,216.5 435.2,216.5 435.4,216.5 435.6,216.5 435.9,216.5 436.1,216.5 436.3,216.5 436.5,216.5 436.7,216.5 437,216.5 437.2,216.5 437.4,216.5 437.6,216.5 437.9,216.5 438.1,216.5 438.3,216.5 438.5,216.5 438.7,216.5 439,216.5 439.2,216.5 439.4,216.5 439.6,216.5 439.9,216.5 440.1,216.5 440.3,216.5 440.5,216.5 440.7,216.5 441,216.5 441.2,216.5 441.4,216.5 441.6,216.5 441.9,216.5 442.1,216.5 442.3,216.5 442.5,216.5 442.7,216.5 443,216.5 443.2,216.5 443.4,216.5 443.6,216.5 443.9,216.5 444.1,216.5 444.3,216.5 444.5,216.5 444.7,216.5 445,216.5 445.2,216.5 445.4,216.5 445.6,216.5 445.8,216.5 446.1,216.5 446.3,216.5 446.5,216.5 446.7,216.5 447,216.5 447.2,216.5 447.4,216.5 447.6,216.5 447.8,216.5 448.1,216.5 448.3,216.5 448.5,216.5 448.7,216.5 449,216.5 449.2,216.5 449.4,216.5 449.6,216.5 449.8,216.5 450.1,216.5 450.3,216.5 450.5,216.5 450.7,216.5 451,216.5 451.2,216.5 451.4,216.5 451.6,216.5 451.8,216.5 452.1,216.5 452.3,216.5 452.5,216.5 452.7,216.5 453,216.5 453.2,216.5 453.4,216.5 453.6,216.5 453.8,216.5 454.1,216.5 454.3,216.5 454.5,216.5 454.7,216.5 455,216.5 455.2,216.5 455.4,216.5 455.6,216.5 455.8,216.5 456.1,216.5 456.3,216.5 456.5,216.5 456.7,216.5 457,216.5 457.2,216.5 457.4,216.5 457.6,216.5 457.8,216.5 458.1,216.5 458.3,216.5 458.5,216.5 458.7,216.5 459,216.5 459.2,216.5 459.4,216.5 459.6,216.5 459.8,216.5 460.1,216.5 460.3,216.5 460.5,216.5 460.7,216.5 461,216.5 461.2,216.5 461.4,216.5 461.6,216.5 461.8,216.5 462.1,216.5 462.3,216.5 462.5,216.5 462.7,216.5 463,216.5 463.2,216.5 463.4,216.5 463.6,216.5 463.8,216.5 464.1,216.5 464.3,216.5 464.5,216.5 464.7,216.5 464.9,216.5 465.2,216.5 465.4,216.5 465.6,216.5 465.8,216.5 466.1,216.5 466.3,216.5 466.5,216.5 466.7,216.5 466.9,216.5 467.2,216.5 467.4,216.5 467.6,216.5 467.8,216.5 468.1,216.5 468.3,216.5 468.5,216.5 468.7,216.5 468.9,216.5 469.2,216.5 469.4,216.5 469.6,216.5 469.8,216.5 470.1,216.6 470.3,216.6 470.5,216.6 470.7,216.6 470.9,216.6 471.2,216.6 471.4,216.6 471.6,216.6 471.8,216.6 472.1,216.6 472.3,216.6 472.5,216.6 472.7,216.7 472.9,216.7 473.2,216.7 473.4,216.7 473.6,216.7 473.8,216.7 474.1,216.7 474.3,216.7 474.5,216.7 474.7,216.8 474.9,216.8 475.2,216.8 475.4,216.8 475.6,216.8 475.8,216.8 476.1,216.8 476.3,216.8 476.5,216.9 476.7,216.9 476.9,216.9 477.2,216.9 477.4,216.9 477.6,216.9 477.8,216.9 478.1,216.9 478.3,216.9 478.5,217 478.7,217 478.9,217 479.2,217 479.4,217 479.6,217 479.8,217 480.1,217 480.3,217 480.5,217 480.7,217 480.9,217 481.2,217 481.4,217 481.6,217 481.8,217 482.1,217 482.3,217 482.5,217 482.7,216.9 482.9,216.9 483.2,216.9 483.4,216.9 483.6,216.9 483.8,216.9 484.1,216.9 484.3,216.8 484.5,216.8 484.7,216.8 484.9,216.8 485.2,216.8 485.4,216.7 485.6,216.7 485.8,216.7 486,216.7 486.3,216.6 486.5,216.6 486.7,216.6 486.9,216.6 487.2,216.5 487.4,216.5 487.6,216.5 487.8,216.4 488,216.4 488.3,216.4 488.5,216.4 488.7,216.3 488.9,216.3 489.2,216.2 489.4,216.2 489.6,216.2 489.8,216.1 490,216.1 490.3,216.1 490.5,216 490.7,216 490.9,215.9 491.2,215.9 491.4,215.9 491.6,215.8 491.8,215.8 492,215.7 492.3,215.7 492.5,215.6 492.7,215.6 492.9,215.6 493.2,215.5 493.4,215.5 493.6,215.4 493.8,215.4 494,215.3 494.3,215.3 494.5,215.2 494.7,215.2 494.9,215.1 495.2,215.1 495.4,215 495.6,215 495.8,214.9 496,214.9 496.3,214.8 496.5,214.8 496.7,214.7 496.9,214.7 497.2,214.6 497.4,214.6 497.6,214.5 497.8,214.5 498,214.4 498.3,214.4 498.5,214.3 498.7,214.3 498.9,214.2 499.2,214.2 499.4,214.2 499.6,214.1 499.8,214.1 500,214 500.3,214 500.5,214 500.7,213.9 500.9,213.9 501.2,213.9 501.4,213.9 501.6,213.8 501.8,213.8 502,213.8 502.3,213.8 502.5,213.8 502.7,213.8 502.9,213.7 503.2,213.7 503.4,213.7 503.6,213.7 503.8,213.7 504,213.7 504.3,213.7 504.5,213.7 504.7,213.8 504.9,213.8 505.2,213.8 505.4,213.8 505.6,213.8 505.8,213.8 506,213.9 506.3,213.9 506.5,213.9 506.7,213.9 506.9,214 507.1,214 507.4,214 507.6,214.1 507.8,214.1 508,214.1 508.3,214.2 508.5,214.2 508.7,214.3 508.9,214.3 509.1,214.4 509.4,214.4 509.6,214.4 509.8,214.5 510,214.5 510.3,214.6 510.5,214.6 510.7,214.7 510.9,214.7 511.1,214.8 511.4,214.8 511.6,214.9 511.8,214.9 512,215 512.3,215 512.5,215.1 512.7,215.1 512.9,215.2 513.1,215.3 513.4,215.3 513.6,215.4 513.8,215.4 514,215.5 514.3,215.5 514.5,215.6 514.7,215.6 514.9,215.7 515.1,215.7 515.4,215.8 515.6,215.8 515.8,215.9 516,216 516.3,216 516.5,216.1 516.7,216.2 516.9,216.2 517.1,216.3 517.4,216.4 517.6,216.4 517.8,216.5 518,216.6 518.3,216.7 518.5,216.8 518.7,216.9 518.9,216.9 519.1,217 519.4,217.1 519.6,217.2 519.8,217.4 520,217.5 520.3,217.6 520.5,217.7 520.7,217.8 520.9,217.9 521.1,218.1 521.4,218.2 521.6,218.3 521.8,218.5 522,218.6 522.3,218.7 522.5,218.9 522.7,219 522.9,219.2 523.1,219.3 523.4,219.4 523.6,219.6 523.8,219.7 524,219.8 524.3,219.9 524.5,220 524.7,220.1 524.9,220.2 525.1,220.3 525.4,220.4 525.6,220.4 525.8,220.5 526,220.5 526.2,220.6 526.5,220.6 526.7,220.6 526.9,220.5 527.1,220.5 527.4,220.4 527.6,220.3 527.8,220.2 528,220.1 528.2,219.9 528.5,219.8 528.7,219.6 528.9,219.3 529.1,219.1 529.4,218.8 529.6,218.5 529.8,218.1 530,217.8 530.2,217.4 530.5,216.9 530.7,216.4 530.9,215.9 531.1,215.4 531.4,214.8 531.6,214.2 531.8,213.5 532,212.8 532.2,212.1 532.5,211.3 532.7,210.5 532.9,209.6 533.1,208.7 533.4,207.7 533.6,206.7 533.8,205.6 534,204.5 534.2,203.3 534.5,202 534.7,200.7 534.9,199.4 535.1,197.9 535.4,196.5 535.6,194.9 535.8,193.3 536,191.7 536.2,189.9 536.5,188.1 536.7,186.3 536.9,184.4 537.1,182.4 537.4,180.4 537.6,178.3 537.8,176.2 538,174 538.2,171.7 538.5,169.4 538.7,167 538.9,164.5 539.1,162 539.4,159.4 539.6,156.8 539.8,154 540,151.2 540.2,148.3 540.5,145.3 540.7,142.2 540.9,139 541.1,135.7 541.4,132.2 541.6,128.6 541.8,124.9 542,121 542.2,117 542.5,112.9 542.7,108.6 542.9,104.3 543.1,99.8 543.4,95.4 543.6,90.9 543.8,86.5 544,82.1 544.2,77.9 544.5,73.9 544.7,70.1 544.9,66.6 545.1,63.5 545.4,60.8 545.6,58.6 545.8,57 546,55.8 546.2,55.2 546.5,55.2 546.7,55.8 546.9,57 547.1,58.6 547.3,60.8 547.6,63.5 547.8,66.6 548,70.1 548.2,73.9 548.5,77.9 548.7,82.1 548.9,86.5 549.1,90.9 549.3,95.4 549.6,99.8 549.8,104.3 550,108.6 550.2,112.9 550.5,117 550.7,121 550.9,124.9 551.1,128.6 551.3,132.2 551.6,135.7 551.8,139 552,142.2 552.2,145.3 552.5,148.3 552.7,151.2 552.9,154 553.1,156.8 553.3,159.4 553.6,162 553.8,164.5 554,167 554.2,169.4 554.5,171.7 554.7,174 554.9,176.2 555.1,178.3 555.3,180.4 555.6,182.4 555.8,184.4 556,186.3 556.2,188.1 556.5,189.9 556.7,191.7 556.9,193.3 557.1,194.9 557.3,196.5 557.6,197.9 557.8,199.4 558,200.7 558.2,202 558.5,203.3 558.7,204.5 558.9,205.6 559.1,206.7 559.3,207.7 559.6,208.7 559.8,209.6 560,210.5 560.2,211.3 560.5,212.1 560.7,212.8 560.9,213.5 561.1,214.2 561.3,214.8 561.6,215.4 561.8,215.9 562,216.4 562.2,216.9 562.5,217.4 562.7,217.8 562.9,218.1 563.1,218.5 563.3,218.8 563.6,219.1 563.8,219.3 564,219.6 564.2,219.8 564.5,219.9 564.7,220.1 564.9,220.2 565.1,220.3 565.3,220.4 565.6,220.5 565.8,220.5 566,220.6 566.2,220.6 566.5,220.6 566.7,220.5 566.9,220.5 567.1,220.4 567.3,220.4 567.6,220.3 567.8,220.2 568,220.1 568.2,220 568.4,219.9 568.7,219.8 568.9,219.7 569.1,219.6 569.3,219.4 569.6,219.3 569.8,219.2 570,219 570.2,218.9 570.4,218.7 570.7,218.6 570.9,218.5 571.1,218.3 571.3,218.2 571.6,218.1 571.8,217.9 572,217.8 572.2,217.7 572.4,217.6 572.7,217.5 572.9,217.4 573.1,217.2 573.3,217.1 573.6,217 573.8,216.9 574,216.9 574.2,216.8 574.4,216.7 574.7,216.6 574.9,216.5 575.1,216.4 575.3,216.4 575.6,216.3 575.8,216.2 576,216.2 576.2,216.1 576.4,216 576.7,216 576.9,215.9 577.1,215.8 577.3,215.8 577.6,215.7 577.8,215.7 578,215.6 578.2,215.6 578.4,215.5 578.7,215.5 578.9,215.4 579.1,215.4 579.3,215.3 579.6,215.3 579.8,215.2 580,215.1 580.2,215.1 580.4,215 580.7,215 580.9,214.9 581.1,214.9 581.3,214.8 581.6,214.8 581.8,214.7 582,214.7 582.2,214.6 582.4,214.6 582.7,214.5 582.9,214.5 583.1,214.4 583.3,214.4 583.6,214.4 583.8,214.3 584,214.3 584.2,214.2 584.4,214.2 584.7,214.1 584.9,214.1 585.1,214.1 585.3,214 585.6,214 585.8,214 586,213.9 586.2,213.9 586.4,213.9 586.7,213.9 586.9,213.8 587.1,213.8 587.3,213.8 587.5,213.8 587.8,213.8 588,213.8 588.2,213.7 588.4,213.7 588.7,213.7 588.9,213.7 589.1,213.7 589.3,213.7 589.5,213.7 589.8,213.7 590,213.8 590.2,213.8 590.4,213.8 590.7,213.8 590.9,213.8 591.1,213.8 591.3,213.9 591.5,213.9 591.8,213.9 592,213.9 592.2,214 592.4,214 592.7,214 592.9,214.1 593.1,214.1 593.3,214.2 593.5,214.2 593.8,214.2 594,214.3 594.2,214.3 594.4,214.4 594.7,214.4 594.9,214.5 595.1,214.5 595.3,214.6 595.5,214.6 595.8,214.7 596,214.7 596.2,214.8 596.4,214.8 596.7,214.9 596.9,214.9 597.1,215 597.3,215 597.5,215.1 597.8,215.1 598,215.2 598.2,215.2 598.4,215.3 598.7,215.3 598.9,215.4 599.1,215.4 599.3,215.5 599.5,215.5 599.8,215.6 600,215.6 600.2,215.6 600.4,215.7 600.7,215.7 600.9,215.8 601.1,215.8 601.3,215.9 601.5,215.9 601.8,215.9 602,216 602.2,216 602.4,216.1 602.7,216.1 602.9,216.1 603.1,216.2 603.3,216.2 603.5,216.2 603.8,216.3 604,216.3 604.2,216.4 604.4,216.4 604.7,216.4 604.9,216.4 605.1,216.5 605.3,216.5 605.5,216.5 605.8,216.6 606,216.6 606.2,216.6 606.4,216.6 606.7,216.7 606.9,216.7 607.1,216.7 607.3,216.7 607.5,216.8 607.8,216.8 608,216.8 608.2,216.8 608.4,216.8 608.6,216.9 608.9,216.9 609.1,216.9 609.3,216.9 609.5,216.9 609.8,216.9 610,216.9 610.2,217 610.4,217 610.6,217 610.9,217 611.1,217 611.3,217 611.5,217 611.8,217 612,217 612.2,217 612.4,217 612.6,217 612.9,217 613.1,217 613.3,217 613.5,217 613.8,217 614,217 614.2,217 614.4,216.9 614.6,216.9 614.9,216.9 615.1,216.9 615.3,216.9 615.5,216.9 615.8,216.9 616,216.9 616.2,216.9 616.4,216.8 616.6,216.8 616.9,216.8 617.1,216.8 617.3,216.8 617.5,216.8 617.8,216.8 618,216.8 618.2,216.7 618.4,216.7 618.6,216.7 618.9,216.7 619.1,216.7 619.3,216.7 619.5,216.7 619.8,216.7 620,216.7 620.2,216.6 620.4,216.6 620.6,216.6 620.9,216.6 621.1,216.6 621.3,216.6 621.5,216.6 621.8,216.6 622,216.6 622.2,216.6 622.4,216.6 622.6,216.6 622.9,216.5 623.1,216.5 623.3,216.5 623.5,216.5 623.8,216.5 624,216.5 624.2,216.5 624.4,216.5 624.6,216.5 624.9,216.5 625.1,216.5 625.3,216.5 625.5,216.5 625.8,216.5 626,216.5 626.2,216.5 626.4,216.5 626.6,216.5 626.9,216.5 627.1,216.5 627.3,216.5 627.5,216.5 627.8,216.5 628,216.5 628.2,216.5 628.4,216.5 628.6,216.5 628.9,216.5 629.1,216.5 629.3,216.5 629.5,216.5 629.7,216.5 630,216.5 630.2,216.5 630.4,216.5 630.6,216.5 630.9,216.5 631.1,216.5 631.3,216.5 631.5,216.5 631.7,216.5 632,216.5 632.2,216.5 632.4,216.5 632.6,216.5 632.9,216.5 633.1,216.5 633.3,216.5 633.5,216.5 633.7,216.5 634,216.5 634.2,216.5 634.4,216.5 634.6,216.5 634.9,216.5 635.1,216.5 635.3,216.5 635.5,216.5 635.7,216.5 636,216.5 636.2,216.5 636.4,216.5 636.6,216.5 636.9,216.5 637.1,216.5 637.3,216.5 637.5,216.5 637.7,216.5 638,216.5 638.2,216.5 638.4,216.5 638.6,216.5 638.9,216.5 639.1,216.5 639.3,216.5 639.5,216.5 639.7,216.5 640,216.5 640.2,216.5 640.4,216.5 640.6,216.5 640.9,216.5 641.1,216.5 641.3,216.5 641.5,216.5 641.7,216.5 642,216.5 642.2,216.5 642.4,216.5 642.6,216.5 642.9,216.5 643.1,216.5 643.3,216.5 643.5,216.5 643.7,216.5 644,216.5 644.2,216.5 644.4,216.5 644.6,216.5 644.9,216.5 645.1,216.5 645.3,216.5 645.5,216.5 645.7,216.5 646,216.5 646.2,216.5 646.4,216.5 646.6,216.5 646.9,216.5 647.1,216.5 647.3,216.5 647.5,216.5 647.7,216.5 648,216.5 648.2,216.5 648.4,216.5 648.6,216.5 648.8,216.5 649.1,216.5 649.3,216.5 649.5,216.5 649.7,216.5 650,216.5 650.2,216.5 650.4,216.5 650.6,216.5 650.8,216.5 651.1,216.5 651.3,216.5 651.5,216.5 651.7,216.5 652,216.5 652.2,216.5 652.4,216.5 652.6,216.5 652.8,216.5 653.1,216.5 653.3,216.5 653.5,216.5 653.7,216.5 654,216.5 654.2,216.5 654.4,216.5 654.6,216.5 654.8,216.5 655.1,216.5 655.3,216.5 655.5,216.5 655.7,216.5 656,216.5 656.2,216.5 656.4,216.5 656.6,216.5 656.8,216.5 657.1,216.5 657.3,216.5 657.5,216.5 657.7,216.5 658,216.5 658.2,216.5 658.4,216.5 658.6,216.5 658.8,216.5 659.1,216.5 659.3,216.5 659.5,216.5 659.7,216.5 660,216.5 660.2,216.5 660.4,216.5 660.6,216.5 660.8,216.5 661.1,216.5 661.3,216.5 661.5,216.5 661.7,216.5 662,216.5 662.2,216.5 662.4,216.5 662.6,216.5 662.8,216.5 663.1,216.5 663.3,216.5 663.5,216.5 663.7,216.5 664,216.5 664.2,216.5 664.4,216.5 664.6,216.5 664.8,216.5 665.1,216.5 665.3,216.5 665.5,216.5 665.7,216.5 666,216.5 666.2,216.5 666.4,216.5 666.6,216.5 666.8,216.5 667.1,216.5 667.3,216.5 667.5,216.5 667.7,216.5 668,216.5 668.2,216.5 668.4,216.5 668.6,216.5 668.8,216.5 669.1,216.5 669.3,216.5 669.5,216.5 669.7,216.5 669.9,216.5 670.2,216.5 670.4,216.5 670.6,216.5 670.8,216.5 671.1,216.5 671.3,216.5 671.5,216.5 671.7,216.5 671.9,216.5 672.2,216.5 672.4,216.5 672.6,216.5 672.8,216.5 673.1,216.5 673.3,216.5 673.5,216.5 673.7,216.5 673.9,216.5 674.2,216.5 674.4,216.5 674.6,216.5 674.8,216.5 675.1,216.5 675.3,216.5 675.5,216.5 675.7,216.5 675.9,216.5 676.2,216.5 676.4,216.5 676.6,216.5 676.8,216.5 677.1,216.5 677.3,216.5 677.5,216.5 677.7,216.5 677.9,216.5 678.2,216.5 678.4,216.5 678.6,216.5 678.8,216.5 679.1,216.5 679.3,216.5 679.5,216.5" />
</g>
<rect x="606.4" y="29.3" width="61.4" height="29.6" fill="#fff" stroke="#a8a8a8" stroke-width="1"/>
<circle cx="623.1" cy="37.5" r="1.4" fill="#ff4646"/>
<path d="M609.5 51.4H637.5" stroke="#800000" stroke-width="2.2"/>
<text x="640" y="41.5" font-size="11.8" text-anchor="start" >Data</text>
<text x="640" y="55.7" font-size="11.8" text-anchor="start" >Fit</text>
<path d="M41.5 591.8v5.0M85.92 591.8v5.0M85.92 345v5.0M130.33 591.8v5.0M130.33 345v5.0M174.75 591.8v5.0M174.75 345v5.0M219.17 591.8v5.0M219.17 345v5.0M263.58 591.8v5.0M263.58 345v5.0M308 591.8v5.0M63.71 591.8v3.0M63.71 345v3.0M108.12 591.8v3.0M108.12 345v3.0M152.54 591.8v3.0M152.54 345v3.0M196.96 591.8v3.0M196.96 345v3.0M241.38 591.8v3.0M241.38 345v3.0M285.79 591.8v3.0M285.79 345v3.0M41.5 591.8h-5.0M41.5 558.89h-5.0M308 558.89h-5.0M41.5 525.99h-5.0M308 525.99h-5.0M41.5 493.08h-5.0M308 493.08h-5.0M41.5 460.17h-5.0M308 460.17h-5.0M41.5 427.27h-5.0M308 427.27h-5.0M41.5 394.36h-5.0M308 394.36h-5.0M41.5 361.45h-5.0M308 361.45h-5.0M41.5 575.35h-3.0M308 575.35h-3.0M41.5 542.44h-3.0M308 542.44h-3.0M41.5 509.53h-3.0M308 509.53h-3.0M41.5 476.63h-3.0M308 476.63h-3.0M41.5 443.72h-3.0M308 443.72h-3.0M41.5 410.81h-3.0M308 410.81h-3.0M41.5 377.91h-3.0M308 377.91h-3.0M41.5 345h-3.0" stroke="#000" stroke-width="1.3" fill="none"/><rect x="41.5" y="345" width="266.5" height="246.8" fill="none" stroke="#000" stroke-width="1.3"/>
<text x="41.5" y="608.3" font-size="10.3" text-anchor="middle" >-30</text>
<text x="85.92" y="608.3" font-size="10.3" text-anchor="middle" >-20</text>
<text x="130.33" y="608.3" font-size="10.3" text-anchor="middle" >-10</text>
<text x="174.75" y="608.3" font-size="10.3" text-anchor="middle" >0</text>
<text x="219.17" y="608.3" font-size="10.3" text-anchor="middle" >10</text>
<text x="263.58" y="608.3" font-size="10.3" text-anchor="middle" >20</text>
<text x="308" y="608.3" font-size="10.3" text-anchor="middle" >30</text>
<text x="33.2" y="595.3" font-size="10.3" text-anchor="end" >0.0</text>
<text x="33.2" y="562.39" font-size="10.3" text-anchor="end" >0.2</text>
<text x="33.2" y="529.49" font-size="10.3" text-anchor="end" >0.4</text>
<text x="33.2" y="496.58" font-size="10.3" text-anchor="end" >0.6</text>
<text x="33.2" y="463.67" font-size="10.3" text-anchor="end" >0.8</text>
<text x="33.2" y="430.77" font-size="10.3" text-anchor="end" >1.0</text>
<text x="33.2" y="397.86" font-size="10.3" text-anchor="end" >1.2</text>
<text x="33.2" y="364.95" font-size="10.3" text-anchor="end" >1.4</text>
<text x="174.75" y="629.7" font-size="13.2" text-anchor="middle" >Time delay (ns)</text>
<text x="0" y="0" font-size="12.95" text-anchor="middle" transform="translate(13 468.5) rotate(-90)">Autocorrelations (norm.)</text>
<g clip-path="url(#cc)">
<polyline fill="none" stroke="none" marker-start="url(#mr2)" marker-mid="url(#mr2)" marker-end="url(#mr2)" points="41.6,455.7 41.6,455.1 41.9,453.9 42.1,456.2 42.1,455.8 42.2,456.8 42.4,447.4 42.4,449.6 42.5,457.2 42.6,453.4 42.7,449.8 42.8,453.6 43.1,446.7 43.5,457.6 43.5,452.5 43.7,461.2 43.9,448.3 44,455.6 44.1,452.3 44.7,449.2 44.7,453.5 44.8,454.8 44.9,455.6 45,447.6 45,447 45,454.9 45.2,447.7 45.3,455.3 45.3,461.7 45.4,455.7 45.6,456.3 46.2,452.1 46.2,451.8 46.3,456.3 46.5,456.3 46.6,454.1 46.7,462.8 46.8,451.3 46.8,449.8 46.8,453.4 47.2,459 47.5,454.3 47.7,456.8 47.7,456.1 47.8,447.4 47.9,454.7 47.9,456.3 48,451.3 48,459.2 48.2,447.3 48.2,452.3 48.3,452.8 48.7,452.4 48.7,459.2 48.9,451.6 49,451.9 49.2,453.6 49.4,456.9 49.5,454.1 49.5,448.3 49.6,456.6 49.6,452.2 49.8,450.4 50.1,458.4 50.1,455.5 50.2,452.6 50.3,448.9 50.4,452.5 50.5,456.1 50.6,453.9 50.6,460.5 50.7,451.9 50.9,454.1 50.9,454.8 51,453.6 51.3,453.1 51.3,457.7 51.4,445.8 51.5,457.9 51.8,453.4 51.8,453.7 52,460.2 52.1,455 52.3,457.8 52.4,459.2 52.5,461 52.7,454.4 52.7,450.5 52.9,451.1 53,454.6 53.1,452.6 53.1,462.5 53.2,452.9 53.2,456.3 53.3,451.7 53.3,451.4 53.6,454 53.6,455.1 53.8,455.1 54,447.4 54.3,455.5 54.3,452.8 54.3,450.8 54.4,448.9 54.4,459.5 54.7,453.7 54.8,458.6 55.1,455.5 55.3,451.4 55.5,460.9 55.6,453.5 55.6,454.6 55.9,451 56.1,454.1 56.2,453.3 56.2,455.2 56.3,449.9 56.5,451.4 56.5,453 56.6,466.2 56.6,451.6 56.9,456.6 57.1,451.7 57.1,452.8 57.2,451.9 57.2,455.4 57.5,453.3 57.5,454.7 57.6,459.7 57.7,452.6 57.7,457.1 57.9,453.9 58.6,450.5 58.8,449.3 58.8,452.2 58.9,453.1 59.1,454.2 59.1,457.2 59.3,452.3 59.3,452.8 59.3,456.2 59.4,452.1 59.6,458.4 59.8,452.6 60,456.5 60.1,457.2 60.2,457.1 60.2,455.9 60.2,457.7 60.4,453.8 60.5,453.6 60.7,443 60.9,460.4 61.1,455.5 61.3,451 61.4,448.5 61.5,453.9 61.6,450.5 61.7,455.4 61.7,451.1 61.7,456 61.7,458.9 62.1,453.5 62.1,454.9 62.6,454.1 62.7,455.8 62.7,459.7 62.7,455.6 63,456.4 63.1,458.7 63.3,457.4 63.4,454.6 63.7,454.2 63.9,457.7 63.9,458.4 64,456.9 64,457.3 64.2,455.2 64.3,448.2 64.4,455.7 64.5,461.4 64.8,448.9 64.8,454.6 64.9,456.1 65.2,452.7 65.5,456.3 65.6,448.2 65.7,454.6 65.7,454.6 65.8,455.9 65.8,453 65.9,455.4 66,456 66.2,455.1 66.2,457.6 66.3,451.5 66.3,449.6 66.6,458.3 66.8,456 66.8,452.8 66.9,459.2 67.1,457.3 67.2,452.6 67.4,454.1 67.6,453.3 67.6,461.6 67.7,450.2 67.7,453.9 67.9,454.8 68.3,447.4 68.4,450.7 68.5,460 68.7,447.3 69,456.6 69,454.9 69.1,458.8 69.2,448.6 69.3,454.3 69.5,452.1 69.6,450.3 69.7,453.8 69.7,461.6 69.9,447.9 70,455.2 70.2,459.6 70.2,455.3 70.3,455.1 70.3,455.5 70.4,454.2 70.6,452.2 70.6,446.9 70.7,450.4 70.8,453.3 70.9,445.4 70.9,453.5 71.1,444.8 71.5,453.5 71.7,460.1 72,448.4 72,454.4 72.2,454.9 72.2,454.2 72.3,453.4 72.4,451.4 72.6,454.1 72.7,458.6 72.8,452.3 72.9,451.8 72.9,455 73.1,452.4 73.4,451.3 73.4,460.5 73.5,461.2 73.6,456.8 73.7,450.4 73.9,459.7 74,449.4 74.1,455.9 74.2,452 74.4,455.7 74.5,456 74.6,455.2 74.7,456.9 75,457.8 75.1,456.9 75.3,455.5 75.4,455.4 75.8,459.4 76.1,455.9 76.4,455.1 76.6,451.6 76.6,451.7 76.6,453.4 76.6,453.1 76.6,458.5 76.7,455.8 76.8,451 76.9,452.4 77,448.2 77.3,445.7 77.4,446.8 77.7,456.2 77.7,456.2 77.9,455.1 77.9,448.8 78,452.5 78.1,454.9 78.2,458.1 78.3,454.1 78.4,454.9 78.4,449 78.5,444.3 78.5,459.1 78.8,459.8 78.8,450.6 78.9,451.1 79,456.1 79.2,452.5 79.3,452.4 79.5,458 80,451 80.5,455.8 80.7,452.9 80.7,448.7 80.8,457.5 81,450.4 81.1,450.7 81.6,447.6 81.7,456.9 82,452.3 82.1,459.5 82.2,453.8 82.3,448.4 82.3,446.4 82.4,451.1 82.4,457.6 82.4,459.9 82.6,452.2 82.6,456.1 82.8,452 82.9,453.5 83.2,453.6 83.2,447.4 83.4,459.2 83.4,454.4 83.7,450.5 83.9,447.6 84.2,457.7 84.5,458.5 84.7,455.7 84.8,460.6 84.8,458.5 84.8,448.3 84.9,457.2 85,459.1 85.1,455.6 85.2,453.4 85.7,457 85.9,453.9 86.2,450.4 86.2,451.1 86.3,454.9 86.4,449.3 86.5,447.7 86.5,451.8 86.8,461.4 86.9,450.3 87,455.1 87,450.2 87.5,456.3 87.6,456.7 88,456.4 88.1,455.9 88.1,447.4 88.2,456.2 88.7,455.9 88.8,453.4 88.8,458.5 89,456.2 89,458 89.2,450.5 89.4,459.7 89.6,454.6 89.8,453.3 89.8,449.3 90.3,450.9 90.4,452.9 90.5,457.8 90.6,444.8 90.7,448.6 90.7,452.2 90.8,459.6 90.8,456 90.8,458.5 90.9,458.7 90.9,457.4 91.1,460.3 91.3,459.5 91.4,456.5 91.5,455.7 91.6,462.2 91.7,455.7 91.7,448.4 91.9,455.4 92.2,456.8 92.2,456.9 92.2,446.1 92.4,451.4 92.4,451.3 92.7,452.3 92.9,454.4 92.9,447 92.9,455.3 94.4,462.7 94.5,452.3 94.5,450.8 94.6,453.3 94.6,451.9 94.7,452.4 94.7,452.7 94.8,446.1 94.9,448.2 95,451.6 95.1,453.2 95.2,455.6 95.5,458.3 95.6,458.9 95.8,458.5 95.8,454.9 95.8,455.1 96.1,451.4 96.2,453.4 96.4,461.8 96.4,460.7 96.5,456.7 96.6,444.3 96.9,455.7 96.9,451.8 97,453 97.1,455.9 97.2,451.2 97.3,462 97.5,458 97.5,460.1 97.6,452.6 97.6,446 97.9,455.8 98.2,458.5 98.6,458.5 99,454.2 99.1,454.9 99.7,452.8 99.7,456.7 99.8,456.9 100.2,449.7 100.2,449.2 100.3,451.4 100.4,457.6 100.5,449.2 100.6,441.6 101,457.7 101.1,450.7 101.2,454.6 101.3,452.2 101.4,452.8 101.6,451.4 101.6,456.3 101.6,453.1 101.8,456.2 101.9,452.7 102,453.6 102.2,456.7 102.3,454.3 102.4,455.9 102.4,452.8 102.6,453.1 102.9,452.8 102.9,462.6 103,454.8 103.3,456.6 103.5,456.3 103.7,450.5 103.7,451.1 103.7,453.7 103.7,448.4 103.9,449.1 103.9,452.6 104.1,450.1 104.2,447 104.3,457.8 104.4,458.6 104.5,457.6 104.5,455.3 104.8,454 104.8,449 104.8,456.3 105.1,448.1 105.1,448.5 105.4,448.5 105.5,453.5 105.5,456.7 105.6,448.8 105.6,451.8 105.7,454.5 106,450.1 106.1,452.2 106.4,456.5 106.6,451.7 106.6,452.9 106.7,454.4 106.8,452 107.5,456.7 107.7,453.4 107.7,455.8 108,450.8 108,453.2 108,454.5 108.1,450.3 108.3,456 108.5,456.7 108.8,449.5 108.9,457.2 108.9,448.2 108.9,449.8 108.9,454.9 108.9,456.2 109,445.7 109.5,453.3 109.8,454.9 110,455.6 110.1,457.1 110.4,445.1 110.4,451 110.5,452.9 110.7,455.3 110.8,454.8 110.8,449.8 110.8,461.6 110.9,455.9 111,456.5 111,458.7 111.2,450 111.2,455.3 111.7,448.5 111.7,448.7 111.7,456.8 111.7,448.9 111.8,451.8 111.8,453.8 112.1,448.2 112.1,451.9 112.1,452.2 112.2,458.3 112.2,449.3 112.3,453.7 112.4,448.1 112.4,453.7 112.5,449.1 113.1,452.3 113.4,450.3 113.5,460.8 113.5,452.9 113.6,453.8 113.8,453.9 113.8,457.3 113.8,460.3 114,450.6 114.3,453.2 114.3,452.5 114.5,449.3 114.6,455.4 114.7,448 114.7,450.6 114.8,452 115,452.7 115.2,446.2 115.2,451.3 115.4,450.3 115.6,456.8 115.6,451.5 115.7,457.1 115.9,455.8 116,451.7 116.3,454.3 117,460.3 117,457.3 117,455.5 117.4,451.1 117.4,455.4 117.4,449.3 117.5,452.9 117.7,457.1 117.8,447.1 118.1,453.7 118.2,455.1 118.4,455.8 118.7,453.6 118.8,454.9 118.9,452.4 119,450.3 119.1,452.8 119.2,455.9 119.4,449.4 119.7,454.2 120,451.7 120.3,461.7 120.5,449.1 120.7,455.8 120.8,450 121,457.8 121,454 121.1,448.1 121.4,448.8 121.5,452.1 121.6,450.4 121.7,461.1 121.7,455.8 122,454 122.1,461 122.2,455.4 122.2,452.5 122.3,449.9 122.7,454.2 122.8,448.5 123.2,443.4 123.2,453.7 123.2,450.7 123.2,450.8 123.3,448 123.3,461.3 124.2,451.8 124.6,455.4 124.7,458.2 124.8,458 125,454.9 125.1,451.8 125.1,455.7 125.3,459.2 125.3,454.3 125.3,448.4 126.2,457.2 126.3,451.1 126.6,448.8 126.8,453.9 126.9,456.3 127,457 127.1,448.5 127.1,450.9 127.2,453.6 127.3,452.6 127.5,455.9 127.8,454.1 127.9,447.5 128,451.2 128,451.5 128.1,450.8 128.1,455.5 128.4,452.4 128.4,457.9 128.5,462.6 128.5,454 128.6,455.5 128.6,456.1 128.7,459.2 128.9,455.1 129.6,455 129.9,457.4 129.9,456.9 130.4,458.9 130.6,456.4 130.6,451.4 130.9,458.1 131,451.3 131,459.2 131.1,457 131.1,443.1 131.2,459.7 131.2,450.7 131.4,457.5 131.6,453.2 131.6,452.3 131.9,450.9 132,454.6 132.1,456.5 132.2,445 132.4,451.8 132.4,451.8 132.5,457.3 132.5,458.4 132.6,452 132.7,448.6 132.8,456.4 133.2,458.6 133.6,450.7 133.7,456.5 133.8,452.6 133.9,458.3 134.4,454.3 134.6,457.2 134.7,455.7 134.7,457.2 134.8,453.2 134.9,455.4 134.9,453.2 135.2,456 135.3,449.9 135.3,456.7 135.4,455.3 135.4,450.1 135.8,453.5 136,456.7 136.4,456 136.4,456.9 136.4,450 136.4,453.8 136.5,454 136.6,459.8 136.7,450.5 136.7,450.4 136.8,449.1 136.9,458 137.4,449.1 137.5,455.9 137.6,452.1 137.8,453 137.9,450.3 138,458.7 138.2,453.1 138.4,450.6 138.5,446.2 138.5,454.1 138.5,451.5 139,447.9 139,454.5 139.2,454.2 139.5,453 139.9,447.9 140,454.1 140,452 140.2,454.3 140.4,452.2 141,446.2 141,450.2 141.2,450.7 141.4,454.4 141.7,455.3 141.7,449.5 141.9,448.3 141.9,455.8 141.9,454 142.1,454.7 142.4,454.4 142.4,450 142.5,457.4 142.5,449.1 142.6,447.5 142.7,458.4 143.2,453.2 143.3,454.4 143.3,457.4 143.3,446.4 143.4,448.1 143.6,455.8 143.7,455.7 143.7,453.1 143.8,449 143.8,449.7 144,453 144,458.2 144.1,460.2 144.3,454.5 144.4,451.9 144.5,451 144.8,448.9 144.9,454.7 144.9,455 145,450.2 145,455.2 145.2,451.6 145.2,463.7 145.3,450.2 145.4,453.7 145.6,453.7 145.6,451.6 145.7,454.8 145.8,460.8 146,457 146.1,449 146.3,456.1 146.4,455.6 146.5,457.5 146.6,456.3 146.6,458 146.8,459.9 147,455.9 147,458.3 147.2,460.2 147.3,451.5 147.4,456.7 147.6,454.6 147.6,449.8 147.7,449.3 147.7,457.7 147.8,454.2 148.1,455.8 148.1,458.4 148.2,454.7 148.3,457.7 148.7,458.2 148.7,455.4 148.7,454.4 148.7,453 148.8,455.7 148.9,451.5 149,456.7 149.1,456.7 149.1,452.3 149.3,458.1 149.7,452.3 149.8,451.4 149.9,456.1 149.9,456.4 149.9,453.8 149.9,452.1 149.9,455.8 150,455.4 150,459.7 150.1,452.7 150.4,450.5 150.4,450 150.5,453.5 150.6,450.9 151.1,446.3 151.1,448.8 151.3,450.9 151.5,450.8 151.6,448.9 151.6,449.4 151.8,451.2 152.2,445.8 152.3,449.5 152.4,446.5 152.5,450.5 152.6,444.1 152.7,447.9 152.7,450.6 152.9,450.9 153,441.3 153.1,446 153.2,443.8 153.2,449.3 153.4,448.1 153.4,448.9 153.4,445.8 153.6,447.9 153.8,445.8 153.9,450.9 154.6,438.1 154.8,451.2 154.9,429.2 155.1,445.5 155.1,441.6 155.2,446.9 155.2,442.6 155.3,445.5 155.3,451.5 155.5,451.2 155.6,452.4 155.9,444.9 156,449.3 156.2,449.3 156.3,448.7 156.3,456.4 156.7,450.9 156.9,451.7 156.9,454.8 156.9,455.7 157,450.2 157.1,451.4 157.2,452.8 157.5,451.8 157.6,452.7 157.6,453 157.7,449.6 157.7,463.7 157.7,453.7 157.9,465.5 158,453.4 158.3,455.1 158.4,459.4 158.4,459.3 158.5,467.7 158.5,472.3 158.8,458.4 159,463.9 159.3,464.7 159.3,460.7 159.8,458.9 159.9,473.5 160,477.6 160.2,466.7 160.2,466.4 160.2,476.3 160.4,482.4 160.4,465.8 160.5,467.4 160.8,477.3 160.8,464.7 160.9,475.2 160.9,482 161.2,462.1 161.3,470.2 161.4,470.9 161.4,469.8 161.4,468.4 161.6,464.1 161.7,466.7 161.8,477.4 161.9,468.7 161.9,468.8 162,471.1 162,470.3 162,471.1 162.3,466.3 162.5,472.9 162.6,479.3 162.7,468.5 162.7,472.1 162.7,469.3 162.8,464.2 162.9,462 163,471.7 163.1,464.9 163.1,470.5 163.6,466.2 163.7,463.6 164,460.1 164,461.2 164,454.5 164.1,452.8 164.3,458.5 164.4,459.3 164.4,452.1 164.4,451.9 164.5,451.8 164.5,445.9 164.7,442.1 164.9,441.5 164.9,460.9 165,437.3 165,443.2 165.1,439.7 165.3,432.6 165.5,435 165.5,431.1 165.6,432.5 165.6,433 165.6,427.3 165.6,437.7 165.6,438.2 165.8,437.7 165.8,434.6 165.8,425.3 165.8,428.8 165.9,435.1 166.1,423.6 166.1,425.7 166.3,422.9 166.3,418.4 166.3,422.3 166.5,427.5 166.6,420.9 166.6,418.4 166.7,415.3 166.7,417.4 166.8,420.5 166.8,413 166.8,411.5 166.9,415.4 167,421.7 167.2,417.9 167.2,420.6 167.2,415.9 167.4,412 167.5,402.9 167.5,410.4 167.6,423.2 167.6,411.2 167.7,410.9 167.7,406.2 167.7,407.8 167.7,417.4 167.8,393.5 168.1,402.2 168.1,400 168.1,411.1 168.1,410.7 168.1,416.6 168.2,402 168.2,394.7 168.3,403.7 168.3,408.4 168.5,409.9 168.5,402 168.5,402.6 168.6,402.1 168.6,405.5 168.6,405 168.6,403.6 168.6,402.6 168.7,407.8 168.7,409.8 168.8,405.1 168.9,414.3 168.9,411.2 169,402.2 169.1,403 169.3,418.8 169.3,409.4 169.3,406.3 169.4,406.8 169.6,413.2 169.7,417.6 169.8,411.6 169.8,411.7 169.9,416.6 170,421.3 170,419 170,416 170.1,421.9 170.2,417.1 170.2,411.8 170.2,424.6 170.3,412.5 170.4,430.4 170.4,425.6 170.9,451.9 170.9,442.3 171.1,441.5 171.2,437.5 171.3,456.5 171.3,453.3 171.4,464.5 171.6,463.1 171.8,474.7 171.8,485.8 171.9,478.2 171.9,479 171.9,469.8 172,494.6 172.1,490.6 172.5,499.4 172.5,498.8 172.6,505.9 172.7,522.4 172.8,514.7 172.8,509.1 172.9,519 172.9,507.8 172.9,523.5 173,525.4 173,532.5 173.1,540 173.2,525.3 173.2,530.8 173.2,528.4 173.3,535.1 173.4,537.2 173.5,540.4 173.5,547.9 173.6,559.8 173.8,552.6 174,565.5 174,568.7 174.1,565.7 174.2,563.7 174.2,561.5 174.2,575.8 174.3,575.9 174.3,572.4 174.3,574.8 174.4,565.4 174.4,567.2 174.5,582.3 174.5,586.3 174.6,581.1 174.7,582 174.7,586.3 174.7,580.9 174.7,570.4 174.8,585.3 174.9,578.1 175,577.4 175.1,570.4 175.1,581.9 175.1,575.2 175.1,584.1 175.3,572.6 175.3,562.4 175.3,563.7 175.5,559 175.5,553.4 175.6,555.1 175.6,546.3 175.8,556.8 175.8,561.6 175.9,552 176.1,534 176.1,550.9 176.1,544.1 176.2,540.1 176.2,545.4 176.2,540.4 176.3,542.1 176.3,530.1 176.3,529.2 176.3,525.7 176.4,533.2 176.5,516.2 176.5,525.9 176.5,517.9 176.7,504.9 176.7,518.1 176.8,503.9 176.8,518.5 176.9,516.7 176.9,513.8 176.9,509.7 177,508.2 177,505.1 177,498.2 177.1,501.3 177.2,492.6 177.2,492.9 177.3,493.9 177.3,490.9 177.3,490.8 177.3,476.6 177.4,490 177.4,491.5 177.4,482.2 177.5,486.7 177.5,482.3 177.5,487.5 177.6,479.1 177.6,480 177.7,474.4 177.7,484.3 177.7,481.8 177.8,470.5 177.8,461.6 177.9,464.4 177.9,469.8 178,460.1 178,450.4 178.1,463.5 178.1,462.5 178.2,449.5 178.2,463.9 178.4,452.8 178.5,441.4 178.5,448.4 178.6,446.3 178.6,441.6 178.7,443.5 178.7,449.9 178.7,443.3 178.9,426.7 179,427.4 179,422.5 179.1,421.9 179.1,429.4 179.1,427.9 179.1,435.6 179.1,438.5 179.2,427.7 179.2,425.1 179.2,433.2 179.3,426.5 179.4,434.9 179.5,418.7 179.6,418 179.6,421.2 179.6,417.7 179.7,402 179.7,414.7 179.8,402.5 179.8,405.4 180,411.9 180.1,407.8 180.2,403.9 180.3,411.6 180.3,403.5 180.4,402.9 180.4,401.9 180.6,399.3 180.7,406 180.7,396.1 180.8,404.6 180.9,404.9 180.9,405.1 181,400.7 181.1,405.1 181.1,407.9 181.2,404.2 181.2,409.8 181.2,404.5 181.3,404.7 181.4,409.2 181.7,405.4 181.8,407.7 181.9,403.7 182.1,401.9 182.1,413.7 182.1,402.7 182.1,417.5 182.1,405.9 182.4,416.6 182.4,415.7 182.5,410.4 182.7,413.5 182.7,425.8 182.8,411.9 182.8,432.6 182.9,428.2 183.1,420.6 183.1,417.9 183.1,423.3 183.2,433.2 183.2,422.8 183.3,430.9 183.4,423.3 183.5,414.9 183.5,433 183.6,443.3 183.6,428.4 183.6,429.8 183.7,432.6 183.9,430.8 183.9,434.6 183.9,436 183.9,431.2 184,433.9 184,439.9 184.1,436.2 184.4,443 184.5,439.6 184.5,444.8 184.5,441.6 184.6,440.6 184.7,446.3 184.9,452.9 184.9,448.3 185,448.9 185.1,454.6 185.2,452.8 185.6,456.2 185.7,451.3 185.8,461.8 185.8,465.7 185.8,452.8 185.8,450.7 185.9,459.6 185.9,458.8 185.9,457.8 186.1,464.2 186.2,459.5 186.5,467.2 186.5,477.2 186.8,469.8 187,467.8 187,460.7 187,470.1 187.4,469.6 187.4,474 187.4,470.6 187.5,466 187.6,474.4 187.7,472 187.8,474.1 187.9,468.4 188,466.2 188,469.7 188.3,475.2 188.3,470.9 188.4,467.5 188.6,477.7 188.6,478.3 188.9,471.7 189,472.4 189.1,474.3 189.1,471.9 189.2,475.7 189.2,461.1 189.6,466.6 189.7,464.6 189.9,469.1 190,469.2 190,463.3 190.2,476.1 190.2,467.8 190.2,463.2 190.3,466.7 190.3,464.1 190.4,472.8 190.4,464.8 190.8,460 190.8,459 190.9,461.4 191,463.1 191.1,454.4 191.1,452 191.2,463.2 191.3,461.4 191.3,459.5 191.5,456.8 191.6,454.7 191.6,460.1 191.7,454.1 191.7,454.4 192,460.5 192.2,451.8 192.3,453.5 192.7,455.7 192.9,445.4 193,443.9 193,455.8 193.1,459.1 193.2,453.6 193.4,451 193.4,450 193.5,450.9 193.9,442.9 194,447.1 194.2,445.6 194.4,455.2 194.8,445.8 194.9,449 195.1,447 195.1,447.6 195.1,442.6 195.1,452.7 195.2,445.2 195.2,455 195.4,445.9 195.5,447.6 195.7,442 195.7,448.1 195.9,446.2 195.9,450.9 196.1,450.2 196.2,447.4 196.3,448.2 196.5,449.4 196.5,449.8 197,448.7 197.3,453.8 197.6,450.7 197.9,447 198,448.3 198,449.6 198,458.1 198.1,456.2 198.1,457.3 198.1,453.9 198.2,452.9 198.4,449.9 198.6,454.6 198.8,455.3 198.9,449.7 199.2,455.1 199.3,460.7 199.4,453.1 199.4,458 199.4,453.9 199.5,450.4 199.7,452.4 199.9,457.5 199.9,455.8 200,458.2 200.2,451 200.5,452.8 200.5,455 200.6,453.2 200.7,451.5 201.4,457.7 201.6,453.9 201.6,450.4 201.8,457.2 201.9,451.6 202.1,454.2 202.3,459.9 202.4,456.6 202.5,461.2 202.6,453.8 202.8,459.3 202.8,456.4 202.9,456.8 202.9,449 203,453.4 203.1,455.3 203.2,449.4 203.2,458.6 203.5,452.7 203.8,453.8 203.8,454.3 203.9,452.1 203.9,458.2 203.9,449.1 204,453.3 204,453 204.1,453.5 204.1,454.1 204.3,444 204.3,454.9 204.3,458.1 204.5,456.2 204.6,465.4 204.6,452.9 204.9,456.2 205,454.9 205,457 205.4,451.7 205.5,446.6 205.5,457.3 205.8,450.1 205.8,451.4 205.8,451.2 206,452.9 206.1,450.2 206.3,448.9 206.3,454.9 206.5,462.9 206.6,451.5 206.6,455.2 206.8,448.1 207.1,455 207.2,452.1 207.3,462.1 207.3,451.7 207.5,452.3 207.5,447.9 207.6,451.4 207.7,450.9 207.7,451.3 207.9,459.8 208,449.1 208.3,451.8 208.3,451.7 208.5,450.7 208.6,454.5 208.7,453.4 208.7,452.4 209,451.1 209.3,448 209.3,451.4 209.6,450.6 209.7,455.5 209.9,445.7 210.3,447.8 210.6,449.6 210.6,457.2 210.8,450.6 211,457.3 211,454.2 211.1,455.3 211.3,457.2 211.9,452.1 212,446.6 212.1,455.6 212.2,449.6 212.4,453.3 212.4,454.2 212.9,452.4 212.9,451.6 213.6,456.3 213.7,458.3 214,456.1 214.1,464.6 214.1,465.2 214.1,456.8 214.2,453.2 214.2,454.9 214.3,455.8 214.4,456.9 214.6,457.2 215,454.6 215,454.2 215.1,455.1 215.2,453.6 215.4,451.2 215.4,458.9 215.5,460.2 215.7,449.1 216,458.3 216,456.7 216.1,452.4 216.3,455.1 216.7,450 216.8,454.1 217.2,451.2 217.2,453.2 217.3,452 217.4,455.6 217.6,456.1 217.7,453.1 217.7,457.6 217.8,449.1 218,454.2 218.1,455.1 218.2,447.9 218.3,456 218.5,456.5 218.8,451.6 218.8,454.5 218.9,453.7 219.2,453 219.3,451 219.3,455 219.4,449.1 219.6,456.4 219.7,452.9 219.7,454.9 219.8,448.5 219.8,456.5 219.9,444.2 220.3,456.6 220.6,451.9 220.7,452.3 220.9,451.1 220.9,451.5 221,458.2 221,458.6 221.1,454 221.2,452.7 221.3,457 221.3,452.3 221.6,448.2 221.6,452.7 221.6,450.9 221.9,455.9 222,444.8 222.1,453.3 222.3,452.7 222.3,452.7 222.5,454.4 222.6,453.1 222.7,452.4 222.8,457.2 222.8,450.6 223.1,451.3 223.3,454.6 223.3,457.7 223.4,454.6 223.6,457.1 223.6,446.3 223.7,448.7 223.7,452.5 223.9,454.3 224.1,449.5 224.1,450.7 224.1,446.3 224.2,460.2 224.2,451.1 224.2,458.5 224.3,445.7 224.4,460.6 224.8,457.4 224.8,456.8 224.8,454.7 225.1,454.5 225.2,449.7 225.2,453.9 225.2,452.9 225.3,452.2 225.5,459 225.5,448.8 225.7,457.9 225.7,451.1 226,451 226.1,457.6 226.3,449.4 226.5,451.2 226.5,451.8 226.6,452.5 226.7,452.4 227.3,450.9 227.3,449 227.4,461.2 227.8,446.2 228,452.2 228.5,451.6 228.9,455.3 228.9,454.8 229,451.2 229.1,456.6 229.1,458 229.4,450.7 229.4,452.4 229.5,454.9 229.6,446.7 229.7,452.3 230,451.7 230,453.5 230.1,452.9 230.2,456 230.3,448 230.5,458.9 230.5,455.4 230.6,460.3 230.6,454.6 230.7,452.5 230.7,453 230.7,450.9 230.8,455.4 230.8,451.6 232.1,456 232.4,456.5 232.5,453.6 232.6,450 232.7,460.9 232.8,456.6 232.8,456.5 233.1,451.8 233.5,455 233.6,452.3 233.9,448.9 233.9,452.2 233.9,453.1 233.9,456.3 234.2,458.8 234.4,454.7 234.5,447.5 234.5,457.5 234.5,453.6 234.5,457.1 234.9,451.8 235,449.5 235.1,458.1 235.2,453.4 235.5,454.3 235.7,455.3 235.8,457.3 235.8,452.2 235.9,452.3 235.9,447.8 235.9,456 236,453.3 236.1,456.3 236.5,455.5 236.6,445.9 236.6,449.2 236.7,454.5 236.9,454.2 237.2,453 237.2,447.7 237.4,449.4 237.6,453.5 237.6,457.9 237.7,454.8 237.7,447.2 237.8,456.8 237.9,454.5 238.1,460.5 238.4,451.7 238.6,453.1 238.8,446.9 238.9,460.9 239.1,457.5 239.2,457.5 239.4,450.7 239.4,453.5 239.7,458.4 240,451.5 240.2,464.9 240.2,448.8 240.5,450.1 240.7,459.5 240.8,456.9 240.8,459.5 240.9,452.9 241.2,452 241.3,457 241.5,447.9 241.6,455 241.8,451.1 242,451.9 242.1,452.4 242.1,452 242.3,454.4 242.7,456.6 242.8,457.8 242.9,454.8 243.2,451.1 243.3,447.2 243.3,452.6 243.5,454.3 243.5,454.4 243.7,453.7 244.2,458.3 244.3,457.5 244.3,452.3 244.6,449.8 244.6,448.5 244.6,451.4 244.7,455.7 244.8,449.3 244.8,452.1 244.9,454.4 245.2,446.5 245.3,453.6 245.5,448.6 245.6,454.5 245.7,453.4 245.9,453.2 246,453.2 246,453.5 246.3,452.4 246.8,448.6 246.9,453 246.9,456.4 246.9,461.2 246.9,450.5 247.8,446.9 247.9,457.7 248.1,452.1 248.5,446.4 248.5,455.5 248.6,454.9 248.6,449.9 248.6,455.9 248.7,457.9 248.8,454.3 248.8,465.6 248.8,457.5 248.9,450.8 249.2,455.1 249.2,454.9 249.4,453.9 249.9,455.4 250,456.6 250.2,454.6 250.3,459 250.5,452.6 250.6,454.3 251,451.5 251.1,455.4 251.1,447.5 251.2,453.9 251.6,455.7 251.8,449.9 251.8,457.5 252.1,448.2 252.1,445.6 252.2,458 252.3,459.1 252.3,452.3 252.5,451 252.5,451.3 252.6,457.6 252.6,458.8 252.6,461.9 252.8,452.6 252.8,457 253,462.2 253,452.8 253.3,451.1 253.6,452.7 253.8,456 254.3,451.2 254.4,463.2 254.5,453.2 254.5,451.7 254.6,454.9 254.7,457.1 254.7,456 254.9,448.6 255,456.8 255.2,462.7 255.2,453.5 255.3,459.8 255.5,454.8 255.5,456.7 255.6,454.4 255.7,458.9 255.7,451.7 255.9,451.6 255.9,453 255.9,452.8 255.9,452.7 256,455.6 256,454.3 256.1,451.8 256.3,455.3 256.3,458.7 256.5,463.5 256.8,452.7 256.9,449.2 257,453.4 257.1,454.3 257.4,456.9 257.5,454.9 257.7,451 257.8,446.5 257.9,451.4 258,453.2 258,448.4 258,448.7 258.1,462.6 258.1,456.3 258.5,461.1 258.7,462.8 258.7,453.3 258.8,454.5 258.9,454.9 258.9,451.3 259,454 259.3,452.8 259.4,452.4 259.6,457.1 259.8,445.5 259.8,450.2 259.9,454.1 260,452.1 260.1,456.2 260.2,452.6 260.4,452.3 260.4,456.5 260.6,457 261,442.9 261,456.9 261,448.7 261.6,456.7 261.6,455.7 261.7,451.1 261.7,458.9 261.9,446.5 262,450.9 262.1,453.8 262.1,446.4 262.4,456 262.4,448.1 262.6,453.2 262.8,451.1 263.3,454.2 263.4,455.9 263.4,455.1 263.6,449.8 263.8,453.7 263.8,455.1 263.9,456.1 264,461 264.1,448.9 264.2,452.9 264.3,459 264.4,454.8 264.6,452.9 264.6,456 264.8,454.6 264.8,454.3 265.1,452.3 265.1,453.7 265.1,450.5 265.1,450.2 265.5,452.8 265.8,452.6 266,454.6 266.1,450.2 266.2,447 266.2,451.8 266.2,451 266.2,449.2 266.4,456.2 266.4,453.7 266.7,449.9 266.8,452.5 266.9,448.9 267,452.9 267,446.4 267,450.5 267.3,454.9 267.4,457.7 267.4,449.1 267.5,454.7 267.7,454.8 267.8,456.7 267.8,459 268,449.6 268.1,455.3 268.4,453.4 268.5,456.9 268.6,456.9 268.7,453.6 268.7,454.5 269,449.4 269.1,450.7 269.4,451.4 269.8,446.9 270,452.3 270,456.1 270,449.8 270.1,446.8 270.1,454.3 270.2,447.9 270.2,451 270.3,453.5 270.3,459.3 270.6,455.7 270.9,456.3 271,449.7 271.3,456.5 271.4,449.9 271.4,449.1 271.5,454.1 271.6,454.8 271.8,456.3 272.1,453 272.2,454.4 272.3,453.9 272.7,454.8 272.8,453.7 272.9,447.1 273.1,453.6 273.1,456.1 273.2,456.5 273.2,451.8 273.3,455 273.4,452.8 273.5,453.3 273.7,455.9 273.9,460.6 274,454 274,461.5 274,450.4 274.1,458.3 274.6,455.6 274.6,454.4 275.1,457.2 275.2,450 275.5,456.6 275.5,453.3 275.8,452.3 275.9,448.2 276.1,450.3 276.1,448.1 276.3,450.6 276.6,460.8 276.7,451.9 276.7,454.9 277,452.9 277.1,453.2 277.3,449.1 277.5,460.1 277.6,452.1 277.7,454.3 277.8,458.6 277.8,454.7 277.9,452.5 278.1,454 278.2,453.7 278.3,455.9 278.4,452.7 278.4,454.1 278.4,457.8 278.5,447.2 278.5,458.9 278.6,449.3 278.8,456.4 278.9,456.9 279,451.6 279,457 279,458.7 279.2,456.4 279.3,449.9 279.4,459.6 279.6,447.3 279.8,450 280.1,450 280.4,451.8 280.5,457 280.6,455.2 280.6,451.8 280.9,450.4 280.9,450.7 281.1,453.6 281.1,455.2 281.8,444.1 281.9,457.9 282,453.3 282,458 282.3,449 282.3,455.4 282.4,451.1 282.6,447.8 282.6,463.3 282.7,457.7 283,461.7 283.1,459.3 283.3,459.3 283.4,457.3 283.7,449 283.7,454.2 283.7,452.3 283.9,448 283.9,453.1 284,454.4 284,449.2 284.1,452.6 284.1,457.7 284.2,462 284.3,456.7 284.3,453.8 284.5,456.9 284.5,451.5 284.5,447.2 284.6,450.4 284.6,463.4 284.8,455.4 284.9,457.6 285,450.3 285.1,451.6 285.3,453.7 285.6,454.2 285.7,455.2 286,458.2 286.3,453.8 286.5,457.2 286.6,455 286.7,449.3 286.8,454.5 286.9,450.6 287,452.6 287.2,456.6 288.2,450.9 288.3,454.9 288.5,451.7 288.7,453.7 288.8,449.2 288.9,451.3 289.3,453.7 289.4,456.1 289.9,445.5 289.9,454 290.1,452.7 290.2,453.1 290.3,454.5 290.3,458.3 290.4,455 290.4,457 290.5,449.6 290.6,445 290.8,455.8 290.9,453 290.9,450.4 291,456.9 291.2,455.9 291.2,456.1 291.4,447.9 291.5,451.2 291.5,456.7 291.7,453.3 291.7,453.3 291.7,453.4 291.8,460.7 291.9,453.8 291.9,452.7 292,451.4 292.1,452.9 292.4,455.6 292.5,454.9 292.9,450.4 292.9,442.7 293.1,456.5 293.5,449.5 293.5,449.2 293.7,454.1 294,465.4 294.1,451.6 294.2,455.4 294.4,456 294.5,451.8 294.6,457 294.6,457.4 294.6,449.9 294.6,449.8 294.7,449.4 295.3,451.6 295.3,453 295.3,451 295.4,448.9 295.5,447.2 295.7,450.8 295.9,449.7 296.3,454.5 296.4,448.8 297,445.9 297.2,446.1 297.2,452.5 297.4,459.8 297.5,456.3 297.6,451.9 297.8,457.2 298,455.8 298.1,446.1 298.1,458.6 298.5,458.6 298.6,453.2 299,453.3 299.1,444.9 299.1,451.6 299.2,451 299.2,451.7 299.4,458.7 299.4,460.2 299.5,459 299.6,454 299.7,459.7 299.7,450.3 299.7,453.4 299.8,451.3 299.9,451 300,453.1 300.1,459.8 300.4,456.7 300.6,452.9 300.7,459.3 301.7,454.7 301.7,458.5 301.7,451.5 301.9,452.1 302,453.4 302.3,451.9 302.4,449.9 302.4,453.6 302.7,452.7 302.8,450.2 302.9,452.7 302.9,453.4 303,454.3 303.3,455.3 303.6,456.4 303.7,451.6 303.9,452.8 303.9,455.1 304.1,449.6 304.1,449.1 304.2,453.1 304.3,456.7 304.5,452.2 304.7,453.5 305.1,451.3 305.1,453.3 305.2,449.7 305.2,457.7 305.2,453.6 305.4,454.7 305.6,452.2 305.6,456.1 305.7,456.3 305.7,458.7 305.9,453.5 306,447 306.1,447.3 306.1,455.2 306.2,453.7 306.5,452.2 306.6,459.8 306.7,451.1 306.7,448.5 306.7,454.1 306.9,460.5 306.9,459.2 307,451.6 307,455 307.6,454.1 307.6,451.3 307.6,453.5 307.6,454.9 307.8,454.9 307.8,460.5"/>
<polyline fill="none" stroke="none" marker-start="url(#mb2)" marker-mid="url(#mb2)" marker-end="url(#mb2)" points="41.6,418.2 41.6,417.8 41.9,427.1 42.1,422.7 42.1,429 42.2,421.2 42.4,424.6 42.4,427.1 42.5,427.7 42.6,418.9 42.7,424.5 42.8,421.8 43.1,428.7 43.5,410.5 43.5,422.5 43.7,431.1 43.9,417.5 44,430.3 44.1,418.3 44.7,419.1 44.7,414.5 44.8,425.7 44.9,432.3 45,421.7 45,420 45,422.8 45.2,423.8 45.3,415.3 45.3,418.6 45.4,428.8 45.6,422.3 46.2,430.6 46.2,425.7 46.3,433.6 46.5,429 46.6,430.3 46.7,434 46.8,424.9 46.8,423.3 46.8,427.5 47.2,432.5 47.5,416.5 47.7,425.4 47.7,427 47.8,427.5 47.9,419.5 47.9,430.4 48,424.5 48,431.6 48.2,419.4 48.2,429.4 48.3,430 48.7,422 48.7,422.5 48.9,420.3 49,421.5 49.2,414.9 49.4,429.2 49.5,422.4 49.5,420.9 49.6,422.8 49.6,417.4 49.8,419.6 50.1,422.4 50.1,417.9 50.2,427.5 50.3,423.4 50.4,427.6 50.5,418 50.6,428.6 50.6,429 50.7,422.5 50.9,424.3 50.9,430.6 51,424.5 51.3,418.3 51.3,424.5 51.4,431.5 51.5,426 51.8,430.7 51.8,429.7 52,420.4 52.1,422.3 52.3,417.9 52.4,429.1 52.5,426 52.7,430.6 52.7,420.1 52.9,429.7 53,430 53.1,431 53.1,421.9 53.2,423.2 53.2,424.2 53.3,418.2 53.3,424.2 53.6,428.5 53.6,413.7 53.8,428 54,427.6 54.3,418 54.3,424.3 54.3,423 54.4,432.6 54.4,428.3 54.7,429.2 54.8,422.5 55.1,426 55.3,422.2 55.5,428.4 55.6,426 55.6,422.7 55.9,430.8 56.1,429.5 56.2,418.9 56.2,427.4 56.3,412.9 56.5,420.5 56.5,420.9 56.6,425.3 56.6,422.6 56.9,424 57.1,431.8 57.1,427.2 57.2,426.4 57.2,420.3 57.5,425.9 57.5,437.5 57.6,423.7 57.7,426 57.7,421.8 57.9,423.4 58.6,431.5 58.8,432.7 58.8,428.3 58.9,429.8 59.1,425.3 59.1,427.9 59.3,425.8 59.3,422 59.3,426.3 59.4,427.4 59.6,422 59.8,419.9 60,421.8 60.1,432.8 60.2,424 60.2,426 60.2,419.7 60.4,437.8 60.5,425.1 60.7,424.6 60.9,422.4 61.1,426.6 61.3,426.8 61.4,424.3 61.5,432.6 61.6,424.2 61.7,433.1 61.7,429.2 61.7,420.4 61.7,422.7 62.1,422.6 62.1,418.8 62.6,422.5 62.7,422.9 62.7,428.7 62.7,428.1 63,417.3 63.1,428.5 63.3,419.6 63.4,422.4 63.7,416.1 63.9,428.3 63.9,418.8 64,427.5 64,426.4 64.2,415.4 64.3,415.9 64.4,423.4 64.5,416.9 64.8,421.6 64.8,424.9 64.9,419.2 65.2,431 65.5,431 65.6,438.9 65.7,423.2 65.7,428.8 65.8,426.7 65.8,424.3 65.9,424.7 66,421.3 66.2,424.6 66.2,418 66.3,433.6 66.3,419.5 66.6,419.1 66.8,426.3 66.8,416.6 66.9,425.6 67.1,412.9 67.2,417.2 67.4,422.1 67.6,424.1 67.6,421.5 67.7,422.9 67.7,424.2 67.9,422.5 68.3,417.5 68.4,425.3 68.5,428.7 68.7,413.6 69,423.2 69,421 69.1,424.9 69.2,427.4 69.3,419.2 69.5,417.9 69.6,426.7 69.7,427.9 69.7,423.5 69.9,422.5 70,426.7 70.2,419.3 70.2,423 70.3,429.1 70.3,425.1 70.4,423.9 70.6,423.6 70.6,427.1 70.7,420.9 70.8,429.4 70.9,422 70.9,424.9 71.1,429.5 71.5,428.2 71.7,432.7 72,432.9 72,432.8 72.2,423.4 72.2,425.4 72.3,431.1 72.4,428.3 72.6,430.7 72.7,420.4 72.8,429.4 72.9,424.5 72.9,422.8 73.1,421.8 73.4,419.1 73.4,426.2 73.5,433.4 73.6,422 73.7,421.7 73.9,434.1 74,425.4 74.1,423.2 74.2,426.9 74.4,425 74.5,432.1 74.6,429.8 74.7,431 75,416.7 75.1,424.8 75.3,426.8 75.4,429.5 75.8,424.4 76.1,424.2 76.4,426.1 76.6,430.8 76.6,429.7 76.6,432.5 76.6,434 76.6,423 76.7,427.9 76.8,422.3 76.9,425.5 77,426.1 77.3,426.5 77.4,424.8 77.7,415 77.7,421.7 77.9,428.6 77.9,418.5 78,427 78.1,431.7 78.2,435 78.3,434.1 78.4,421.7 78.4,421 78.5,430.1 78.5,425.8 78.8,431.9 78.8,425.5 78.9,420 79,422.9 79.2,426.9 79.3,429.5 79.5,424 80,422.8 80.5,427 80.7,425.6 80.7,420.3 80.8,424.2 81,431.5 81.1,418.6 81.6,425.4 81.7,434.6 82,418.9 82.1,417.1 82.2,422.8 82.3,427.8 82.3,430.5 82.4,427.2 82.4,435.4 82.4,422.1 82.6,422 82.6,430.2 82.8,415.9 82.9,420.2 83.2,416.7 83.2,421.8 83.4,418.1 83.4,422.6 83.7,430.1 83.9,424.2 84.2,431.5 84.5,429.7 84.7,425.3 84.8,430.7 84.8,432.1 84.8,421.6 84.9,425.8 85,425.6 85.1,423.8 85.2,432.1 85.7,424.2 85.9,429.5 86.2,422.8 86.2,423.2 86.3,424.6 86.4,416.9 86.5,424.1 86.5,422.1 86.8,424 86.9,423 87,418.3 87,414 87.5,423.4 87.6,425.9 88,426.1 88.1,425.4 88.1,418.1 88.2,427.6 88.7,431.6 88.8,438.8 88.8,426.2 89,424.9 89,426.6 89.2,425.9 89.4,424.9 89.6,429 89.8,425 89.8,430.2 90.3,426.5 90.4,412.7 90.5,422.4 90.6,424.1 90.7,425.6 90.7,424.7 90.8,418.1 90.8,429 90.8,424.8 90.9,426.3 90.9,419.1 91.1,422.1 91.3,428.4 91.4,434.8 91.5,421.3 91.6,418.4 91.7,427.9 91.7,417.5 91.9,432.6 92.2,432.2 92.2,434.4 92.2,422 92.4,427.3 92.4,421.5 92.7,439.8 92.9,421.9 92.9,424.7 92.9,416.8 94.4,422.3 94.5,432.6 94.5,416.5 94.6,424.5 94.6,418.5 94.7,429.8 94.7,423 94.8,420 94.9,419.5 95,420.8 95.1,431.2 95.2,426.6 95.5,430.3 95.6,423.3 95.8,434.2 95.8,416.4 95.8,429.3 96.1,421 96.2,430.3 96.4,413.2 96.4,415.5 96.5,434 96.6,433.8 96.9,423 96.9,433.4 97,426 97.1,419.8 97.2,430.1 97.3,427.7 97.5,427.4 97.5,424.5 97.6,420.2 97.6,421.7 97.9,431.9 98.2,431.2 98.6,423.8 99,418.3 99.1,427.8 99.7,429.4 99.7,426.5 99.8,426.3 100.2,424 100.2,426.1 100.3,423.8 100.4,428.6 100.5,420 100.6,420.9 101,422.9 101.1,424.5 101.2,428.1 101.3,431 101.4,423.4 101.6,426 101.6,426.4 101.6,417.1 101.8,426.3 101.9,417.5 102,414.4 102.2,418.4 102.3,426.1 102.4,422.3 102.4,426 102.6,423.5 102.9,423 102.9,431.5 103,425.1 103.3,423.2 103.5,421.3 103.7,422.9 103.7,424 103.7,426 103.7,418.5 103.9,427.3 103.9,427.6 104.1,424.3 104.2,425.8 104.3,431.3 104.4,420.9 104.5,418.8 104.5,423.5 104.8,424.3 104.8,423.3 104.8,419.7 105.1,429.5 105.1,423.9 105.4,418.4 105.5,428.7 105.5,420.8 105.6,434.5 105.6,419.5 105.7,415.5 106,420 106.1,421.7 106.4,429.3 106.6,429.2 106.6,429.5 106.7,421.6 106.8,425.4 107.5,418.7 107.7,425.7 107.7,420.6 108,422.2 108,424.7 108,427 108.1,420.5 108.3,436.8 108.5,412 108.8,427.1 108.9,421.8 108.9,414 108.9,431.2 108.9,429.3 108.9,419 109,431.2 109.5,425.1 109.8,425.6 110,422.9 110.1,425.6 110.4,420.9 110.4,428.4 110.5,424.8 110.7,431.6 110.8,421.7 110.8,433.9 110.8,422.4 110.9,427.8 111,416.8 111,422.9 111.2,422.5 111.2,427.7 111.7,422.7 111.7,419.8 111.7,421.7 111.7,415.2 111.8,424.4 111.8,414.1 112.1,431.8 112.1,427 112.1,425.1 112.2,425.5 112.2,421.7 112.3,426.3 112.4,430.9 112.4,426.6 112.5,431.1 113.1,424.9 113.4,423.6 113.5,443.6 113.5,420.2 113.6,429.1 113.8,425.5 113.8,423.7 113.8,425.2 114,419.7 114.3,418.1 114.3,439.4 114.5,412.1 114.6,426.4 114.7,424 114.7,425.9 114.8,429.7 115,425.9 115.2,424.8 115.2,424.2 115.4,419.7 115.6,421.8 115.6,428.6 115.7,417.7 115.9,421.4 116,428 116.3,421.8 117,420.1 117,425.5 117,424.9 117.4,437.6 117.4,434.8 117.4,427.2 117.5,426.1 117.7,420.4 117.8,432.3 118.1,429.4 118.2,425.7 118.4,430.9 118.7,431.1 118.8,419.4 118.9,424.9 119,417.7 119.1,430.6 119.2,420.6 119.4,420.4 119.7,414.7 120,424.1 120.3,418.1 120.5,419.4 120.7,424.9 120.8,431.8 121,429.1 121,428.6 121.1,426.6 121.4,421.7 121.5,419.9 121.6,430.7 121.7,422.8 121.7,422.3 122,421.3 122.1,431 122.2,431.9 122.2,421.6 122.3,426.2 122.7,426 122.8,417.4 123.2,429 123.2,432.9 123.2,428.9 123.2,417.5 123.3,426.3 123.3,422.2 124.2,422.4 124.6,414.3 124.7,428.9 124.8,422.9 125,423.5 125.1,426.2 125.1,423.8 125.3,433.8 125.3,422.7 125.3,431.8 126.2,419.8 126.3,425.5 126.6,433.6 126.8,427.5 126.9,421.4 127,429.5 127.1,436.3 127.1,426.4 127.2,425.3 127.3,425.7 127.5,424 127.8,418.7 127.9,419.8 128,419.1 128,426.1 128.1,415.7 128.1,433.2 128.4,432.5 128.4,431.1 128.5,426.4 128.5,424.2 128.6,430.5 128.6,425.3 128.7,420.6 128.9,423 129.6,423.5 129.9,419.9 129.9,418.2 130.4,429.7 130.6,426.5 130.6,433.9 130.9,430 131,430.2 131,428 131.1,434.7 131.1,427 131.2,425.7 131.2,432 131.4,428.7 131.6,421.9 131.6,422.3 131.9,430.5 132,428.5 132.1,426.9 132.2,422.9 132.4,421.1 132.4,428.3 132.5,428 132.5,424.7 132.6,428.9 132.7,424.1 132.8,433.3 133.2,429.9 133.6,417.2 133.7,425.5 133.8,431.4 133.9,420.7 134.4,425.4 134.6,425.9 134.7,425.1 134.7,415.1 134.8,428 134.9,430.7 134.9,422.6 135.2,422 135.3,430.5 135.3,427.7 135.4,417.1 135.4,421.8 135.8,417.8 136,426.9 136.4,425 136.4,431.2 136.4,437 136.4,420.5 136.5,431.4 136.6,425.8 136.7,430 136.7,425.9 136.8,428.8 136.9,416.1 137.4,425.2 137.5,428.5 137.6,425.5 137.8,438.7 137.9,422.4 138,429.4 138.2,419.6 138.4,431.4 138.5,418.1 138.5,438.2 138.5,429.1 139,419.6 139,421.9 139.2,427.8 139.5,420.3 139.9,429.6 140,419.8 140,416.9 140.2,416.2 140.4,430.2 141,417.1 141,417.5 141.2,423.4 141.4,423.2 141.7,422.4 141.7,427.2 141.9,426.3 141.9,422 141.9,420 142.1,424.8 142.4,434.3 142.4,422 142.5,435.7 142.5,418.5 142.6,421.3 142.7,430.2 143.2,420.6 143.3,420.9 143.3,427.9 143.3,433.4 143.4,419.7 143.6,424.7 143.7,428.1 143.7,421.1 143.8,429.4 143.8,419.9 144,417.1 144,429.4 144.1,428.9 144.3,422 144.4,425.7 144.5,436.1 144.8,420.5 144.9,428.9 144.9,420.2 145,433.7 145,424.7 145.2,424.2 145.2,423.8 145.3,431.5 145.4,434.9 145.6,423.2 145.6,421.3 145.7,426.1 145.8,424.2 146,430.8 146.1,432.7 146.3,420.6 146.4,418.9 146.5,416.9 146.6,425 146.6,432 146.8,441.6 147,425.5 147,421.2 147.2,423.7 147.3,423.5 147.4,433.2 147.6,420.8 147.6,419.4 147.7,413 147.7,419.8 147.8,418.2 148.1,436.8 148.1,434.7 148.2,434.1 148.3,422 148.7,426.4 148.7,432.1 148.7,431.5 148.7,423.4 148.8,435.5 148.9,424 149,423.8 149.1,414.8 149.1,425.9 149.3,435.9 149.7,417.7 149.8,424.2 149.9,425.6 149.9,428.7 149.9,423.7 149.9,428.9 149.9,427.5 150,427.7 150,418.5 150.1,420.8 150.4,431.3 150.4,424.2 150.5,427 150.6,422.8 151.1,420.2 151.1,424.3 151.3,415.8 151.5,415.5 151.6,427.4 151.6,422 151.8,427.6 152.2,429.6 152.3,428.6 152.4,427.2 152.5,426.4 152.6,417.8 152.7,418.4 152.7,424.1 152.9,425.3 153,418.6 153.1,416.8 153.2,411.9 153.2,418.2 153.4,416.6 153.4,427.8 153.4,421.1 153.6,416.4 153.8,422.9 153.9,423.3 154.6,405.8 154.8,413 154.9,418.8 155.1,413.3 155.1,417.3 155.2,422.8 155.2,419.9 155.3,420.4 155.3,413.7 155.5,420.8 155.6,420.2 155.9,427.5 156,427.3 156.2,422.5 156.3,422.3 156.3,413.1 156.7,419.4 156.9,420.5 156.9,422.3 156.9,429.7 157,421 157.1,433.4 157.2,423.7 157.5,423.2 157.6,418.2 157.6,429.4 157.7,426.1 157.7,427.2 157.7,436.5 157.9,422.8 158,431.5 158.3,426 158.4,438.1 158.4,428.1 158.5,438.3 158.5,418 158.8,429 159,433.9 159.3,422.7 159.3,434.2 159.8,441.7 159.9,442.3 160,433.9 160.2,452.3 160.2,434.9 160.2,444.2 160.4,446.8 160.4,451.1 160.5,448.1 160.8,447.4 160.8,445 160.9,430.8 160.9,443.7 161.2,434.7 161.3,442.3 161.4,446.9 161.4,443.7 161.4,454.3 161.6,440.9 161.7,440.9 161.8,452.7 161.9,456.5 161.9,447.9 162,441.8 162,449.1 162,454.2 162.3,439.1 162.5,452.2 162.6,435.4 162.7,431.9 162.7,453.1 162.7,435.8 162.8,435.3 162.9,435.6 163,434.1 163.1,427.1 163.1,425.2 163.6,430.3 163.7,438 164,425.9 164,428.1 164,429.5 164.1,425.6 164.3,415.7 164.4,420.2 164.4,416.2 164.4,420.7 164.5,409 164.5,409.2 164.7,408.9 164.9,413.8 164.9,414.9 165,411.6 165,399.9 165.1,415.4 165.3,399 165.5,414.8 165.5,400.4 165.6,410.6 165.6,407.7 165.6,405.7 165.6,402.7 165.6,403.7 165.8,393.8 165.8,403.3 165.8,402.4 165.8,394.8 165.9,412.4 166.1,383.4 166.1,403.2 166.3,394 166.3,391.6 166.3,392 166.5,387 166.6,397.5 166.6,400 166.7,389.3 166.7,386.6 166.8,388.7 166.8,376.1 166.8,386.4 166.9,378.4 167,389.9 167.2,392 167.2,370.9 167.2,379.8 167.4,387.8 167.5,369.8 167.5,383.1 167.6,385.1 167.6,378.7 167.7,377.1 167.7,381.5 167.7,383.8 167.7,384.5 167.8,375.9 168.1,365.7 168.1,368 168.1,386.2 168.1,367.5 168.1,395.4 168.2,384.9 168.2,396.2 168.3,384.4 168.3,375.5 168.5,372.3 168.5,376.6 168.5,366.3 168.6,372 168.6,378.1 168.6,371.4 168.6,401.1 168.6,384.7 168.7,377.3 168.7,371.6 168.8,371.3 168.9,387.1 168.9,381.8 169,391.2 169.1,373.1 169.3,393.2 169.3,381.7 169.3,373.9 169.4,378.5 169.6,385.3 169.7,393.2 169.8,400.4 169.8,384.4 169.9,374.8 170,403.7 170,405.2 170,411.2 170.1,387.2 170.2,395.3 170.2,393.6 170.2,407.1 170.3,387.3 170.4,399.9 170.4,409.9 170.9,420.4 170.9,406.5 171.1,414.4 171.2,418.4 171.3,415.8 171.3,416.9 171.4,425.9 171.6,455.3 171.8,440.9 171.8,448.8 171.9,438 171.9,446.4 171.9,444.9 172,454.3 172.1,458.5 172.5,485.2 172.5,477.2 172.6,489.1 172.7,476 172.8,473 172.8,474.5 172.9,493.1 172.9,488 172.9,476.1 173,492.5 173,494.5 173.1,513.4 173.2,514.9 173.2,505 173.2,495.8 173.3,512 173.4,512.4 173.5,509.3 173.5,517.6 173.6,528.2 173.8,527.6 174,547 174,537.8 174.1,538.6 174.2,536.7 174.2,537.9 174.2,526.6 174.3,528.9 174.3,547.7 174.3,537.1 174.4,534.1 174.4,551.3 174.5,553 174.5,549.1 174.6,548.9 174.7,553.8 174.7,549.7 174.7,550.5 174.7,541.4 174.8,545.1 174.9,544.5 175,547 175.1,540.3 175.1,537.7 175.1,546 175.1,540.8 175.3,541.2 175.3,537.4 175.3,523.8 175.5,552 175.5,529 175.6,537.4 175.6,526.4 175.8,529.7 175.8,527.1 175.9,520.4 176.1,514.3 176.1,502.1 176.1,510.9 176.2,513 176.2,505.8 176.2,497.5 176.3,488.5 176.3,492.6 176.3,507.1 176.3,504.3 176.4,489.5 176.5,508.5 176.5,502.5 176.5,510.7 176.7,495.1 176.7,488.1 176.8,486.2 176.8,474.2 176.9,465.9 176.9,469.7 176.9,489.2 177,472 177,463.3 177,481.1 177.1,474.8 177.2,460.1 177.2,462.6 177.3,468.7 177.3,458 177.3,459.3 177.3,463.8 177.4,455.5 177.4,456.5 177.4,467.8 177.5,453.3 177.5,447.2 177.5,454.7 177.6,443.4 177.6,460.3 177.7,451.5 177.7,433.2 177.7,442.7 177.8,443 177.8,441.1 177.9,434.5 177.9,425.6 178,439.5 178,427 178.1,429.3 178.1,426.2 178.2,427.3 178.2,424.2 178.4,418.5 178.5,408.5 178.5,422.5 178.6,404.7 178.6,406.2 178.7,418.7 178.7,398.8 178.7,405.6 178.9,407.6 179,394.2 179,404.3 179.1,405.1 179.1,391.5 179.1,399.8 179.1,406 179.1,399.9 179.2,412.3 179.2,402.9 179.2,388.9 179.3,392.1 179.4,404.8 179.5,395.8 179.6,391 179.6,383.5 179.6,387.7 179.7,377.9 179.7,393.3 179.8,392.3 179.8,380.6 180,375.6 180.1,368.4 180.2,382.7 180.3,379.7 180.3,386.1 180.4,388.1 180.4,379.3 180.6,370.3 180.7,383.4 180.7,379.7 180.8,366.3 180.9,380.1 180.9,382.3 181,370.6 181.1,385.8 181.1,378.6 181.2,395.2 181.2,387.8 181.2,380 181.3,376.9 181.4,373.3 181.7,374.4 181.8,377.6 181.9,379.2 182.1,372.7 182.1,378.9 182.1,369.3 182.1,377.3 182.1,385.5 182.4,379.9 182.4,387 182.5,388 182.7,375 182.7,407 182.8,386.6 182.8,382.1 182.9,383.5 183.1,385.3 183.1,397.2 183.1,396.3 183.2,398.3 183.2,398.5 183.3,401.5 183.4,388.2 183.5,410.4 183.5,395 183.6,390.1 183.6,401.3 183.6,406.8 183.7,400.8 183.9,407.3 183.9,407.1 183.9,413.5 183.9,401.5 184,418.5 184,408.1 184.1,417.4 184.4,406.9 184.5,417.4 184.5,418.6 184.5,414.6 184.6,427.1 184.7,422.9 184.9,428.4 184.9,424.7 185,411.4 185.1,430.9 185.2,423.1 185.6,438.5 185.7,437.1 185.8,422.6 185.8,418.2 185.8,444.4 185.8,428.9 185.9,429.6 185.9,426.3 185.9,424.8 186.1,430.3 186.2,429.3 186.5,440.8 186.5,424.4 186.8,433.9 187,446.3 187,441.2 187,440.5 187.4,435.6 187.4,449 187.4,445.5 187.5,436.3 187.6,436.2 187.7,447.6 187.8,435.9 187.9,447.5 188,430.8 188,440.1 188.3,432.8 188.3,448.7 188.4,441.1 188.6,443.8 188.6,436.5 188.9,445.4 189,441.2 189.1,441.1 189.1,442.9 189.2,446.9 189.2,435.3 189.6,444.4 189.7,436.8 189.9,445.7 190,441 190,445.4 190.2,442.1 190.2,441.2 190.2,429.9 190.3,440 190.3,438.2 190.4,438.5 190.4,432.2 190.8,426.7 190.8,436.1 190.9,433.7 191,423.9 191.1,422.7 191.1,444.4 191.2,429.3 191.3,430.1 191.3,443.4 191.5,432.1 191.6,420.5 191.6,430.2 191.7,438.6 191.7,428.9 192,429.4 192.2,421 192.3,422.7 192.7,423.3 192.9,420.7 193,412.6 193,423.6 193.1,426.1 193.2,420.4 193.4,418.7 193.4,426.9 193.5,416.7 193.9,428.4 194,424.5 194.2,416 194.4,411 194.8,419.9 194.9,413.3 195.1,419.3 195.1,423.5 195.1,420.4 195.1,414.8 195.2,415.2 195.2,409.6 195.4,416.2 195.5,411 195.7,410.5 195.7,424.1 195.9,424.7 195.9,419.9 196.1,426.4 196.2,413 196.3,412 196.5,423 196.5,421.7 197,425.6 197.3,424.1 197.6,408.6 197.9,422.3 198,428.2 198,427 198,431.5 198.1,417.8 198.1,422.7 198.1,410.4 198.2,413.3 198.4,428.1 198.6,430.4 198.8,430.8 198.9,418.6 199.2,409.1 199.3,426.4 199.4,427.4 199.4,426 199.4,429.2 199.5,434.3 199.7,428.6 199.9,432.7 199.9,426.2 200,427.5 200.2,428.2 200.5,423.9 200.5,433.6 200.6,420.8 200.7,422.6 201.4,422.3 201.6,430.6 201.6,426.9 201.8,420.8 201.9,425 202.1,435.1 202.3,424.7 202.4,429.2 202.5,428.4 202.6,427.6 202.8,434.9 202.8,431.1 202.9,432.9 202.9,431.5 203,424.6 203.1,422.3 203.2,424.5 203.2,422.8 203.5,427.3 203.8,428 203.8,430.8 203.9,422.3 203.9,426.6 203.9,424.2 204,425.1 204,417.3 204.1,430.6 204.1,427.8 204.3,432 204.3,429.4 204.3,422.7 204.5,427.1 204.6,437.9 204.6,430.8 204.9,424.7 205,425.5 205,428.2 205.4,422.5 205.5,426.2 205.5,425.3 205.8,421.5 205.8,422 205.8,433.7 206,426.6 206.1,418.4 206.3,423.8 206.3,418.8 206.5,426.9 206.6,420.8 206.6,424.8 206.8,425.5 207.1,423.5 207.2,419 207.3,427.6 207.3,424.8 207.5,427.2 207.5,425.8 207.6,424.6 207.7,425.3 207.7,424 207.9,418 208,428.7 208.3,435.1 208.3,415.8 208.5,414.3 208.6,430.5 208.7,426.4 208.7,419.6 209,424.7 209.3,426.7 209.3,428.8 209.6,433 209.7,417.7 209.9,424.7 210.3,433.2 210.6,421.6 210.6,419.2 210.8,423.5 211,422.3 211,431.6 211.1,421.7 211.3,425.7 211.9,427 212,428.7 212.1,423.6 212.2,410.2 212.4,425.8 212.4,424.4 212.9,425.2 212.9,425.1 213.6,416.1 213.7,420.1 214,414.1 214.1,415.7 214.1,433.1 214.1,418.7 214.2,424.8 214.2,432.4 214.3,431.5 214.4,425.6 214.6,417.9 215,420.2 215,423.5 215.1,428.7 215.2,425.2 215.4,422.9 215.4,421.8 215.5,426.7 215.7,434.3 216,429.5 216,422.1 216.1,425.1 216.3,421.2 216.7,421.4 216.8,428.7 217.2,422.7 217.2,419.3 217.3,429.2 217.4,428.6 217.6,419.4 217.7,426.9 217.7,424.2 217.8,425.6 218,425 218.1,425.5 218.2,418.7 218.3,423.3 218.5,424.3 218.8,422.3 218.8,426 218.9,429 219.2,430.7 219.3,414.9 219.3,427.4 219.4,429.2 219.6,420.5 219.7,420.2 219.7,420.6 219.8,420.4 219.8,429.5 219.9,413.4 220.3,417.7 220.6,425.1 220.7,425.6 220.9,436.3 220.9,428.7 221,419.4 221,418.8 221.1,426 221.2,428.6 221.3,424.1 221.3,425.6 221.6,424.6 221.6,420.4 221.6,437.4 221.9,424.2 222,432.7 222.1,421.1 222.3,428.9 222.3,433 222.5,421.8 222.6,420.6 222.7,428 222.8,416.5 222.8,426.8 223.1,427 223.3,424.1 223.3,425.3 223.4,427.8 223.6,416 223.6,425.9 223.7,421.3 223.7,427.1 223.9,428 224.1,427.6 224.1,430.7 224.1,419 224.2,431.6 224.2,424.4 224.2,422.7 224.3,434.5 224.4,421.9 224.8,429.7 224.8,427.5 224.8,430.5 225.1,421 225.2,432.6 225.2,430.6 225.2,423.6 225.3,413.6 225.5,419.3 225.5,418.4 225.7,430 225.7,418.2 226,425.9 226.1,426.1 226.3,410.2 226.5,416.3 226.5,422.8 226.6,429.7 226.7,422.9 227.3,419.1 227.3,422.6 227.4,416.9 227.8,426.4 228,420.8 228.5,418.5 228.9,424.3 228.9,426.5 229,416.3 229.1,422.9 229.1,421.4 229.4,427.9 229.4,422 229.5,421.6 229.6,421.6 229.7,423.1 230,422.3 230,424.8 230.1,422.4 230.2,425.6 230.3,426.1 230.5,415.5 230.5,437.7 230.6,432.8 230.6,424.2 230.7,426.5 230.7,411.1 230.7,419.3 230.8,416.5 230.8,427.7 232.1,426.2 232.4,431.7 232.5,427.2 232.6,420.1 232.7,428.3 232.8,419.6 232.8,422.7 233.1,431.2 233.5,429.5 233.6,426.1 233.9,420.7 233.9,428.5 233.9,428.7 233.9,425.4 234.2,424.3 234.4,423.7 234.5,420.6 234.5,433.5 234.5,426 234.5,421.6 234.9,415.9 235,420.8 235.1,424.7 235.2,423.1 235.5,428.6 235.7,420.8 235.8,430.1 235.8,429.4 235.9,427.9 235.9,423.7 235.9,418.9 236,424.7 236.1,416.3 236.5,418.3 236.6,417 236.6,420.3 236.7,422.1 236.9,423.9 237.2,419 237.2,423.1 237.4,426.6 237.6,420 237.6,418.8 237.7,424.9 237.7,428 237.8,424.5 237.9,433.5 238.1,418.6 238.4,425.6 238.6,418.8 238.8,420.5 238.9,425.4 239.1,423.7 239.2,434.8 239.4,424.7 239.4,430.4 239.7,419.8 240,425.4 240.2,421.6 240.2,426.7 240.5,429.3 240.7,428.9 240.8,417.5 240.8,421.9 240.9,424.7 241.2,423.1 241.3,428.5 241.5,423.6 241.6,426.6 241.8,412.9 242,429.5 242.1,423.8 242.1,430.8 242.3,431.3 242.7,432.8 242.8,416.5 242.9,420.8 243.2,417.9 243.3,419.8 243.3,425.7 243.5,430.1 243.5,428.8 243.7,431.9 244.2,426.1 244.3,427.2 244.3,427.2 244.6,416.3 244.6,431.8 244.6,424.1 244.7,429 244.8,426.5 244.8,426.3 244.9,418.3 245.2,427.9 245.3,423.8 245.5,414.7 245.6,414.7 245.7,421.3 245.9,421.1 246,414.2 246,420 246.3,425.3 246.8,427.3 246.9,427.7 246.9,422.7 246.9,424.5 246.9,416.2 247.8,426.5 247.9,418 248.1,421.9 248.5,422.8 248.5,418.6 248.6,423.4 248.6,424.1 248.6,432.7 248.7,425.4 248.8,430.6 248.8,423.6 248.8,424.7 248.9,425.4 249.2,429.6 249.2,427.5 249.4,417.8 249.9,419.9 250,426.1 250.2,417.7 250.3,425.7 250.5,433.1 250.6,426.1 251,425.6 251.1,429.4 251.1,428 251.2,423.1 251.6,429.2 251.8,425.2 251.8,422.7 252.1,429.9 252.1,427.3 252.2,430.2 252.3,422.1 252.3,417 252.5,421.4 252.5,434.5 252.6,420 252.6,429.6 252.6,424.1 252.8,431 252.8,414.9 253,423.2 253,427.5 253.3,423.7 253.6,416.7 253.8,433.9 254.3,420.2 254.4,424.7 254.5,434.8 254.5,423.8 254.6,421.8 254.7,427 254.7,431.2 254.9,429.3 255,424.8 255.2,420.5 255.2,424 255.3,420.8 255.5,430.8 255.5,431.9 255.6,418.1 255.7,415.9 255.7,427 255.9,424.5 255.9,424.9 255.9,421.1 255.9,422.2 256,423.5 256,425.5 256.1,435.5 256.3,417.4 256.3,431.9 256.5,430.2 256.8,434.7 256.9,428.9 257,431.3 257.1,428.5 257.4,430.9 257.5,423.3 257.7,424.2 257.8,433 257.9,420.2 258,430.3 258,414.4 258,425.3 258.1,424.2 258.1,426.3 258.5,422.4 258.7,411 258.7,423.8 258.8,424.2 258.9,427.3 258.9,428.7 259,420.6 259.3,419.3 259.4,429.4 259.6,426.4 259.8,427.4 259.8,428.9 259.9,425.4 260,429.6 260.1,430.4 260.2,411.8 260.4,437.4 260.4,427.5 260.6,423.1 261,429.7 261,432.3 261,424.3 261.6,423.1 261.6,420.3 261.7,435.1 261.7,426.3 261.9,421.7 262,415.8 262.1,420.7 262.1,431.2 262.4,424.6 262.4,426.1 262.6,423.2 262.8,421.3 263.3,417.1 263.4,428.9 263.4,420.8 263.6,426.9 263.8,428.9 263.8,428.9 263.9,428.5 264,421.8 264.1,422.8 264.2,438.9 264.3,425.3 264.4,421.7 264.6,422.3 264.6,421 264.8,426.5 264.8,422.5 265.1,435.3 265.1,426.3 265.1,430.6 265.1,434.4 265.5,434.2 265.8,427.8 266,423.7 266.1,436.4 266.2,427.1 266.2,423 266.2,429.2 266.2,421.1 266.4,428.3 266.4,422.4 266.7,423.9 266.8,418.1 266.9,417.6 267,431.6 267,418.9 267,416.5 267.3,435.2 267.4,417.3 267.4,422.2 267.5,429.9 267.7,417.7 267.8,422.5 267.8,427.9 268,426.9 268.1,426.1 268.4,424.8 268.5,425.1 268.6,426.2 268.7,429.6 268.7,424.7 269,422 269.1,419.5 269.4,427.4 269.8,428.8 270,432.4 270,417.4 270,419.3 270.1,431.8 270.1,435.3 270.2,425.3 270.2,429.9 270.3,422.2 270.3,414.1 270.6,425.6 270.9,431.4 271,420.1 271.3,419.8 271.4,421.8 271.4,424 271.5,425.9 271.6,422.9 271.8,433.8 272.1,423.8 272.2,425 272.3,422.4 272.7,437.1 272.8,423.7 272.9,423.2 273.1,429.1 273.1,423.6 273.2,429.6 273.2,424.2 273.3,434.6 273.4,428.3 273.5,424.7 273.7,427.2 273.9,421.6 274,423.3 274,433.5 274,428.3 274.1,420.7 274.6,423.4 274.6,419.6 275.1,427.1 275.2,424.1 275.5,421.8 275.5,432.5 275.8,424.8 275.9,433.7 276.1,425.1 276.1,419.4 276.3,423.2 276.6,424.5 276.7,425.7 276.7,421 277,429.6 277.1,413.9 277.3,421.7 277.5,421.6 277.6,420.9 277.7,427.7 277.8,419.3 277.8,421.6 277.9,427 278.1,425.8 278.2,426.3 278.3,429.7 278.4,435.7 278.4,426 278.4,423.2 278.5,418 278.5,422.5 278.6,415.7 278.8,425.1 278.9,424.7 279,424.1 279,426.4 279,418.9 279.2,429.3 279.3,423.8 279.4,423.5 279.6,425.4 279.8,411.1 280.1,421.8 280.4,426.3 280.5,417.9 280.6,424 280.6,421.6 280.9,427.7 280.9,433.9 281.1,413.8 281.1,422.1 281.8,426.4 281.9,430.1 282,427.8 282,426.8 282.3,425.7 282.3,435.8 282.4,428.1 282.6,417.4 282.6,420.9 282.7,415.8 283,422.1 283.1,427.6 283.3,417.6 283.4,426.9 283.7,423.4 283.7,423 283.7,423.6 283.9,433.2 283.9,418.1 284,428.7 284,422.3 284.1,428.3 284.1,424.4 284.2,420.5 284.3,433.8 284.3,432.9 284.5,420 284.5,429.3 284.5,428.9 284.6,418.2 284.6,421.1 284.8,423.9 284.9,419.3 285,426.7 285.1,420.4 285.3,420.5 285.6,420.8 285.7,425.2 286,418.5 286.3,416.8 286.5,414.6 286.6,426.3 286.7,426.4 286.8,418.7 286.9,424 287,413.3 287.2,422.3 288.2,423.8 288.3,430.2 288.5,420.9 288.7,426.5 288.8,417.1 288.9,420.8 289.3,420.5 289.4,422.9 289.9,429.2 289.9,423.5 290.1,427 290.2,423 290.3,426 290.3,417.5 290.4,417.8 290.4,424.5 290.5,422.5 290.6,424.8 290.8,421.6 290.9,409.5 290.9,424 291,437.8 291.2,418.7 291.2,423.8 291.4,427.3 291.5,428.8 291.5,420.3 291.7,428 291.7,418.4 291.7,422.5 291.8,429.1 291.9,423.7 291.9,419.8 292,427 292.1,431.7 292.4,423.6 292.5,411.5 292.9,426.8 292.9,426.9 293.1,429 293.5,416.8 293.5,424.8 293.7,423.7 294,421.4 294.1,421.9 294.2,432.5 294.4,420.1 294.5,429.9 294.6,432.2 294.6,426.2 294.6,422.6 294.6,425.3 294.7,428.6 295.3,428.7 295.3,423.1 295.3,426.3 295.4,431.2 295.5,432.8 295.7,426.8 295.9,426.8 296.3,436.3 296.4,425.8 297,421.6 297.2,418.4 297.2,420.4 297.4,428 297.5,429.1 297.6,422.4 297.8,430.4 298,429.8 298.1,413.2 298.1,434.1 298.5,425.1 298.6,433.1 299,422.5 299.1,430.6 299.1,423.5 299.2,421.7 299.2,422.4 299.4,418 299.4,415.8 299.5,431.9 299.6,429.3 299.7,418.5 299.7,423.9 299.7,422.3 299.8,424.1 299.9,420.7 300,426.6 300.1,418.2 300.4,422.2 300.6,414.9 300.7,430.5 301.7,430.4 301.7,425.9 301.7,432.5 301.9,431.9 302,428 302.3,429.2 302.4,414.8 302.4,430 302.7,424 302.8,427.9 302.9,430.9 302.9,423.7 303,419.6 303.3,418.3 303.6,426.5 303.7,418.7 303.9,422.5 303.9,426.3 304.1,420.5 304.1,428.1 304.2,417.6 304.3,431.7 304.5,431 304.7,437.2 305.1,423.5 305.1,429.5 305.2,428.6 305.2,422.8 305.2,417.6 305.4,425.4 305.6,432.9 305.6,416.5 305.7,430.7 305.7,423.8 305.9,422 306,419.2 306.1,424.3 306.1,419 306.2,421 306.5,422.9 306.6,425.2 306.7,423.4 306.7,429.1 306.7,429.1 306.9,422.8 306.9,413.9 307,433.5 307,424.4 307.6,421 307.6,429 307.6,426.7 307.6,420.1 307.8,432.7 307.8,421.6"/>
<polyline fill="none" stroke="#800000" stroke-width="1.8" stroke-linejoin="round" points="41.5,453.8 41.7,453.8 41.9,453.8 42,453.8 42.2,453.8 42.4,453.8 42.6,453.8 42.7,453.8 42.9,453.8 43.1,453.8 43.3,453.8 43.5,453.8 43.6,453.8 43.8,453.8 44,453.8 44.2,453.8 44.3,453.8 44.5,453.8 44.7,453.8 44.9,453.8 45.1,453.8 45.2,453.8 45.4,453.8 45.6,453.8 45.8,453.8 45.9,453.8 46.1,453.8 46.3,453.8 46.5,453.8 46.7,453.8 46.8,453.8 47,453.8 47.2,453.8 47.4,453.8 47.5,453.8 47.7,453.8 47.9,453.8 48.1,453.8 48.3,453.8 48.4,453.8 48.6,453.8 48.8,453.8 49,453.8 49.1,453.8 49.3,453.8 49.5,453.8 49.7,453.8 49.9,453.8 50,453.8 50.2,453.8 50.4,453.8 50.6,453.8 50.7,453.8 50.9,453.8 51.1,453.8 51.3,453.8 51.5,453.8 51.6,453.8 51.8,453.8 52,453.8 52.2,453.8 52.3,453.8 52.5,453.8 52.7,453.8 52.9,453.8 53.1,453.8 53.2,453.8 53.4,453.8 53.6,453.8 53.8,453.8 53.9,453.8 54.1,453.8 54.3,453.8 54.5,453.8 54.7,453.8 54.8,453.8 55,453.8 55.2,453.8 55.4,453.8 55.5,453.8 55.7,453.8 55.9,453.8 56.1,453.8 56.3,453.8 56.4,453.8 56.6,453.8 56.8,453.8 57,453.8 57.1,453.8 57.3,453.8 57.5,453.8 57.7,453.8 57.9,453.8 58,453.8 58.2,453.8 58.4,453.8 58.6,453.8 58.7,453.8 58.9,453.8 59.1,453.8 59.3,453.8 59.5,453.8 59.6,453.8 59.8,453.8 60,453.8 60.2,453.8 60.3,453.8 60.5,453.8 60.7,453.8 60.9,453.8 61.1,453.8 61.2,453.8 61.4,453.8 61.6,453.8 61.8,453.8 61.9,453.8 62.1,453.8 62.3,453.8 62.5,453.8 62.7,453.8 62.8,453.8 63,453.8 63.2,453.8 63.4,453.8 63.5,453.8 63.7,453.8 63.9,453.8 64.1,453.8 64.3,453.8 64.4,453.8 64.6,453.8 64.8,453.8 65,453.8 65.1,453.8 65.3,453.8 65.5,453.8 65.7,453.8 65.9,453.8 66,453.8 66.2,453.8 66.4,453.8 66.6,453.8 66.7,453.8 66.9,453.8 67.1,453.8 67.3,453.8 67.5,453.8 67.6,453.8 67.8,453.8 68,453.8 68.2,453.8 68.3,453.8 68.5,453.8 68.7,453.8 68.9,453.8 69.1,453.8 69.2,453.8 69.4,453.8 69.6,453.8 69.8,453.8 69.9,453.8 70.1,453.8 70.3,453.8 70.5,453.8 70.7,453.8 70.8,453.8 71,453.8 71.2,453.8 71.4,453.8 71.5,453.8 71.7,453.8 71.9,453.8 72.1,453.8 72.3,453.8 72.4,453.8 72.6,453.8 72.8,453.8 73,453.8 73.1,453.8 73.3,453.8 73.5,453.8 73.7,453.8 73.9,453.8 74,453.8 74.2,453.8 74.4,453.8 74.6,453.8 74.7,453.8 74.9,453.8 75.1,453.8 75.3,453.8 75.5,453.8 75.6,453.8 75.8,453.8 76,453.8 76.2,453.8 76.3,453.8 76.5,453.8 76.7,453.8 76.9,453.8 77.1,453.8 77.2,453.8 77.4,453.8 77.6,453.8 77.8,453.8 77.9,453.8 78.1,453.8 78.3,453.8 78.5,453.8 78.7,453.8 78.8,453.8 79,453.8 79.2,453.8 79.4,453.8 79.5,453.8 79.7,453.8 79.9,453.8 80.1,453.8 80.3,453.8 80.4,453.8 80.6,453.8 80.8,453.8 81,453.8 81.1,453.8 81.3,453.8 81.5,453.8 81.7,453.8 81.9,453.8 82,453.8 82.2,453.8 82.4,453.8 82.6,453.8 82.7,453.8 82.9,453.8 83.1,453.8 83.3,453.8 83.5,453.8 83.6,453.8 83.8,453.8 84,453.8 84.2,453.8 84.3,453.8 84.5,453.8 84.7,453.8 84.9,453.8 85.1,453.8 85.2,453.8 85.4,453.8 85.6,453.8 85.8,453.8 85.9,453.8 86.1,453.8 86.3,453.8 86.5,453.8 86.7,453.8 86.8,453.8 87,453.8 87.2,453.8 87.4,453.8 87.5,453.8 87.7,453.8 87.9,453.8 88.1,453.8 88.3,453.8 88.4,453.8 88.6,453.8 88.8,453.8 89,453.8 89.1,453.8 89.3,453.8 89.5,453.8 89.7,453.8 89.9,453.8 90,453.8 90.2,453.8 90.4,453.8 90.6,453.8 90.7,453.8 90.9,453.8 91.1,453.8 91.3,453.8 91.5,453.8 91.6,453.8 91.8,453.8 92,453.8 92.2,453.8 92.3,453.8 92.5,453.8 92.7,453.8 92.9,453.8 93.1,453.8 93.2,453.8 93.4,453.8 93.6,453.8 93.8,453.8 93.9,453.8 94.1,453.8 94.3,453.8 94.5,453.8 94.7,453.8 94.8,453.8 95,453.8 95.2,453.8 95.4,453.8 95.5,453.8 95.7,453.8 95.9,453.8 96.1,453.8 96.3,453.8 96.4,453.8 96.6,453.8 96.8,453.8 97,453.8 97.1,453.8 97.3,453.8 97.5,453.8 97.7,453.8 97.9,453.8 98,453.8 98.2,453.8 98.4,453.8 98.6,453.8 98.7,453.8 98.9,453.8 99.1,453.8 99.3,453.8 99.5,453.8 99.6,453.8 99.8,453.8 100,453.8 100.2,453.8 100.3,453.8 100.5,453.8 100.7,453.8 100.9,453.8 101.1,453.8 101.2,453.8 101.4,453.8 101.6,453.8 101.8,453.8 101.9,453.8 102.1,453.8 102.3,453.8 102.5,453.8 102.7,453.8 102.8,453.8 103,453.8 103.2,453.8 103.4,453.8 103.5,453.8 103.7,453.8 103.9,453.8 104.1,453.8 104.3,453.8 104.4,453.8 104.6,453.8 104.8,453.8 105,453.8 105.1,453.8 105.3,453.8 105.5,453.8 105.7,453.8 105.9,453.8 106,453.8 106.2,453.8 106.4,453.8 106.6,453.8 106.7,453.8 106.9,453.8 107.1,453.8 107.3,453.8 107.5,453.8 107.6,453.8 107.8,453.8 108,453.8 108.2,453.8 108.3,453.8 108.5,453.8 108.7,453.8 108.9,453.8 109.1,453.8 109.2,453.8 109.4,453.8 109.6,453.8 109.8,453.8 109.9,453.7 110.1,453.7 110.3,453.7 110.5,453.7 110.7,453.7 110.8,453.7 111,453.7 111.2,453.7 111.4,453.7 111.5,453.7 111.7,453.7 111.9,453.7 112.1,453.7 112.3,453.7 112.4,453.7 112.6,453.7 112.8,453.7 113,453.7 113.1,453.7 113.3,453.7 113.5,453.7 113.7,453.7 113.9,453.7 114,453.7 114.2,453.7 114.4,453.7 114.6,453.7 114.7,453.8 114.9,453.8 115.1,453.8 115.3,453.8 115.5,453.8 115.6,453.8 115.8,453.8 116,453.8 116.2,453.8 116.3,453.8 116.5,453.8 116.7,453.8 116.9,453.8 117.1,453.8 117.2,453.8 117.4,453.8 117.6,453.8 117.8,453.8 117.9,453.8 118.1,453.8 118.3,453.8 118.5,453.8 118.7,453.8 118.8,453.8 119,453.8 119.2,453.8 119.4,453.8 119.5,453.8 119.7,453.8 119.9,453.8 120.1,453.8 120.3,453.8 120.4,453.8 120.6,453.8 120.8,453.8 121,453.8 121.1,453.8 121.3,453.8 121.5,453.8 121.7,453.8 121.9,453.8 122,453.8 122.2,453.8 122.4,453.8 122.6,453.7 122.7,453.7 122.9,453.7 123.1,453.7 123.3,453.7 123.5,453.7 123.6,453.7 123.8,453.7 124,453.7 124.2,453.7 124.3,453.7 124.5,453.7 124.7,453.7 124.9,453.7 125.1,453.7 125.2,453.7 125.4,453.7 125.6,453.7 125.8,453.7 125.9,453.6 126.1,453.6 126.3,453.6 126.5,453.6 126.7,453.6 126.8,453.6 127,453.6 127.2,453.7 127.4,453.7 127.5,453.7 127.7,453.7 127.9,453.7 128.1,453.7 128.3,453.7 128.4,453.7 128.6,453.7 128.8,453.7 129,453.7 129.1,453.7 129.3,453.8 129.5,453.8 129.7,453.8 129.9,453.8 130,453.8 130.2,453.8 130.4,453.9 130.6,453.9 130.7,453.9 130.9,453.9 131.1,453.9 131.3,453.9 131.5,454 131.6,454 131.8,454 132,454 132.2,454 132.3,454 132.5,454 132.7,454 132.9,454.1 133.1,454.1 133.2,454.1 133.4,454.1 133.6,454.1 133.8,454.1 133.9,454.1 134.1,454 134.3,454 134.5,454 134.7,454 134.8,454 135,454 135.2,454 135.4,453.9 135.5,453.9 135.7,453.9 135.9,453.8 136.1,453.8 136.3,453.8 136.4,453.7 136.6,453.7 136.8,453.6 137,453.6 137.1,453.5 137.3,453.5 137.5,453.5 137.7,453.4 137.9,453.4 138,453.3 138.2,453.3 138.4,453.2 138.6,453.2 138.7,453.1 138.9,453.1 139.1,453.1 139.3,453 139.5,453 139.6,453 139.8,452.9 140,452.9 140.2,452.9 140.3,452.9 140.5,452.9 140.7,452.9 140.9,452.9 141.1,452.9 141.2,453 141.4,453 141.6,453 141.8,453.1 141.9,453.1 142.1,453.2 142.3,453.3 142.5,453.3 142.7,453.4 142.8,453.5 143,453.6 143.2,453.7 143.4,453.8 143.5,453.9 143.7,454 143.9,454.2 144.1,454.3 144.3,454.4 144.4,454.6 144.6,454.7 144.8,454.8 145,454.9 145.1,455.1 145.3,455.2 145.5,455.3 145.7,455.4 145.9,455.6 146,455.7 146.2,455.8 146.4,455.8 146.6,455.9 146.7,456 146.9,456 147.1,456.1 147.3,456.1 147.5,456.1 147.6,456.1 147.8,456.1 148,456 148.2,456 148.3,455.9 148.5,455.8 148.7,455.7 148.9,455.5 149.1,455.4 149.2,455.2 149.4,455 149.6,454.8 149.8,454.5 149.9,454.3 150.1,454 150.3,453.7 150.5,453.4 150.7,453.1 150.8,452.7 151,452.4 151.2,452 151.4,451.7 151.5,451.3 151.7,451 151.9,450.6 152.1,450.2 152.3,449.9 152.4,449.5 152.6,449.2 152.8,448.9 153,448.6 153.1,448.3 153.3,448.1 153.5,447.9 153.7,447.7 153.9,447.5 154,447.4 154.2,447.3 154.4,447.3 154.6,447.3 154.7,447.3 154.9,447.4 155.1,447.6 155.3,447.8 155.5,448 155.6,448.4 155.8,448.7 156,449.2 156.2,449.6 156.3,450.2 156.5,450.8 156.7,451.4 156.9,452.1 157.1,452.9 157.2,453.7 157.4,454.5 157.6,455.4 157.8,456.3 157.9,457.2 158.1,458.2 158.3,459.1 158.5,460.1 158.7,461.1 158.8,462.1 159,463.1 159.2,464.1 159.4,465.1 159.5,466 159.7,466.9 159.9,467.7 160.1,468.5 160.3,469.2 160.4,469.8 160.6,470.4 160.8,470.9 161,471.2 161.1,471.5 161.3,471.7 161.5,471.7 161.7,471.6 161.9,471.3 162,471 162.2,470.5 162.4,469.8 162.6,469 162.7,468 162.9,466.9 163.1,465.6 163.3,464.2 163.5,462.6 163.6,460.8 163.8,459 164,457 164.2,454.8 164.3,452.6 164.5,450.2 164.7,447.7 164.9,445.2 165.1,442.5 165.2,439.8 165.4,437.1 165.6,434.3 165.8,431.6 165.9,428.8 166.1,426.1 166.3,423.4 166.5,420.8 166.7,418.4 166.8,416 167,413.8 167.2,411.8 167.4,409.9 167.5,408.3 167.7,406.9 167.9,405.8 168.1,404.9 168.3,404.4 168.4,404.2 168.6,404.4 168.8,404.9 169,405.8 169.1,407.1 169.3,408.8 169.5,410.9 169.7,413.4 169.9,416.4 170,419.8 170.2,423.6 170.4,427.8 170.6,432.5 170.7,437.5 170.9,442.9 171.1,448.7 171.3,454.8 171.5,461.3 171.6,468 171.8,475 172,482.2 172.2,489.6 172.3,497.1 172.5,504.7 172.7,512.4 172.9,520 173.1,527.5 173.2,534.9 173.4,542.1 173.6,549 173.8,555.6 173.9,561.8 174.1,567.5 174.3,572.6 174.5,577 174.7,580 174.8,580 175,577 175.2,572.6 175.4,567.5 175.6,561.8 175.7,555.6 175.9,549 176.1,542.1 176.3,534.9 176.4,527.5 176.6,520 176.8,512.4 177,504.7 177.2,497.1 177.3,489.6 177.5,482.2 177.7,475 177.9,468 178,461.3 178.2,454.8 178.4,448.7 178.6,442.9 178.8,437.5 178.9,432.5 179.1,427.8 179.3,423.6 179.5,419.8 179.6,416.4 179.8,413.4 180,410.9 180.2,408.8 180.4,407.1 180.5,405.8 180.7,404.9 180.9,404.4 181.1,404.2 181.2,404.4 181.4,404.9 181.6,405.8 181.8,406.9 182,408.3 182.1,409.9 182.3,411.8 182.5,413.8 182.7,416 182.8,418.4 183,420.8 183.2,423.4 183.4,426.1 183.6,428.8 183.7,431.6 183.9,434.3 184.1,437.1 184.3,439.8 184.4,442.5 184.6,445.2 184.8,447.7 185,450.2 185.2,452.6 185.3,454.8 185.5,457 185.7,459 185.9,460.8 186,462.6 186.2,464.2 186.4,465.6 186.6,466.9 186.8,468 186.9,469 187.1,469.8 187.3,470.5 187.5,471 187.6,471.3 187.8,471.6 188,471.7 188.2,471.7 188.4,471.5 188.5,471.2 188.7,470.9 188.9,470.4 189.1,469.8 189.2,469.2 189.4,468.5 189.6,467.7 189.8,466.9 190,466 190.1,465.1 190.3,464.1 190.5,463.1 190.7,462.1 190.8,461.1 191,460.1 191.2,459.1 191.4,458.2 191.6,457.2 191.7,456.3 191.9,455.4 192.1,454.5 192.3,453.7 192.4,452.9 192.6,452.1 192.8,451.4 193,450.8 193.2,450.2 193.3,449.6 193.5,449.2 193.7,448.7 193.9,448.4 194,448 194.2,447.8 194.4,447.6 194.6,447.4 194.8,447.3 194.9,447.3 195.1,447.3 195.3,447.3 195.5,447.4 195.6,447.5 195.8,447.7 196,447.9 196.2,448.1 196.4,448.3 196.5,448.6 196.7,448.9 196.9,449.2 197.1,449.5 197.2,449.9 197.4,450.2 197.6,450.6 197.8,451 198,451.3 198.1,451.7 198.3,452 198.5,452.4 198.7,452.7 198.8,453.1 199,453.4 199.2,453.7 199.4,454 199.6,454.3 199.7,454.5 199.9,454.8 200.1,455 200.3,455.2 200.4,455.4 200.6,455.5 200.8,455.7 201,455.8 201.2,455.9 201.3,456 201.5,456 201.7,456.1 201.9,456.1 202,456.1 202.2,456.1 202.4,456.1 202.6,456 202.8,456 202.9,455.9 203.1,455.8 203.3,455.8 203.5,455.7 203.6,455.6 203.8,455.4 204,455.3 204.2,455.2 204.4,455.1 204.5,454.9 204.7,454.8 204.9,454.7 205.1,454.6 205.2,454.4 205.4,454.3 205.6,454.2 205.8,454 206,453.9 206.1,453.8 206.3,453.7 206.5,453.6 206.7,453.5 206.8,453.4 207,453.3 207.2,453.3 207.4,453.2 207.6,453.1 207.7,453.1 207.9,453 208.1,453 208.3,453 208.4,452.9 208.6,452.9 208.8,452.9 209,452.9 209.2,452.9 209.3,452.9 209.5,452.9 209.7,452.9 209.9,453 210,453 210.2,453 210.4,453.1 210.6,453.1 210.8,453.1 210.9,453.2 211.1,453.2 211.3,453.3 211.5,453.3 211.6,453.4 211.8,453.4 212,453.5 212.2,453.5 212.4,453.5 212.5,453.6 212.7,453.6 212.9,453.7 213.1,453.7 213.2,453.8 213.4,453.8 213.6,453.8 213.8,453.9 214,453.9 214.1,453.9 214.3,454 214.5,454 214.7,454 214.8,454 215,454 215.2,454 215.4,454 215.6,454.1 215.7,454.1 215.9,454.1 216.1,454.1 216.3,454.1 216.4,454.1 216.6,454.1 216.8,454 217,454 217.2,454 217.3,454 217.5,454 217.7,454 217.9,454 218,454 218.2,453.9 218.4,453.9 218.6,453.9 218.8,453.9 218.9,453.9 219.1,453.9 219.3,453.8 219.5,453.8 219.6,453.8 219.8,453.8 220,453.8 220.2,453.8 220.4,453.7 220.5,453.7 220.7,453.7 220.9,453.7 221.1,453.7 221.2,453.7 221.4,453.7 221.6,453.7 221.8,453.7 222,453.7 222.1,453.7 222.3,453.7 222.5,453.6 222.7,453.6 222.8,453.6 223,453.6 223.2,453.6 223.4,453.6 223.6,453.6 223.7,453.7 223.9,453.7 224.1,453.7 224.3,453.7 224.4,453.7 224.6,453.7 224.8,453.7 225,453.7 225.2,453.7 225.3,453.7 225.5,453.7 225.7,453.7 225.9,453.7 226,453.7 226.2,453.7 226.4,453.7 226.6,453.7 226.8,453.7 226.9,453.7 227.1,453.8 227.3,453.8 227.5,453.8 227.6,453.8 227.8,453.8 228,453.8 228.2,453.8 228.4,453.8 228.5,453.8 228.7,453.8 228.9,453.8 229.1,453.8 229.2,453.8 229.4,453.8 229.6,453.8 229.8,453.8 230,453.8 230.1,453.8 230.3,453.8 230.5,453.8 230.7,453.8 230.8,453.8 231,453.8 231.2,453.8 231.4,453.8 231.6,453.8 231.7,453.8 231.9,453.8 232.1,453.8 232.3,453.8 232.4,453.8 232.6,453.8 232.8,453.8 233,453.8 233.2,453.8 233.3,453.8 233.5,453.8 233.7,453.8 233.9,453.8 234,453.8 234.2,453.8 234.4,453.8 234.6,453.8 234.8,453.8 234.9,453.7 235.1,453.7 235.3,453.7 235.5,453.7 235.6,453.7 235.8,453.7 236,453.7 236.2,453.7 236.4,453.7 236.5,453.7 236.7,453.7 236.9,453.7 237.1,453.7 237.2,453.7 237.4,453.7 237.6,453.7 237.8,453.7 238,453.7 238.1,453.7 238.3,453.7 238.5,453.7 238.7,453.7 238.8,453.7 239,453.7 239.2,453.7 239.4,453.7 239.6,453.7 239.7,453.8 239.9,453.8 240.1,453.8 240.3,453.8 240.4,453.8 240.6,453.8 240.8,453.8 241,453.8 241.2,453.8 241.3,453.8 241.5,453.8 241.7,453.8 241.9,453.8 242,453.8 242.2,453.8 242.4,453.8 242.6,453.8 242.8,453.8 242.9,453.8 243.1,453.8 243.3,453.8 243.5,453.8 243.6,453.8 243.8,453.8 244,453.8 244.2,453.8 244.4,453.8 244.5,453.8 244.7,453.8 244.9,453.8 245.1,453.8 245.2,453.8 245.4,453.8 245.6,453.8 245.8,453.8 246,453.8 246.1,453.8 246.3,453.8 246.5,453.8 246.7,453.8 246.8,453.8 247,453.8 247.2,453.8 247.4,453.8 247.6,453.8 247.7,453.8 247.9,453.8 248.1,453.8 248.3,453.8 248.4,453.8 248.6,453.8 248.8,453.8 249,453.8 249.2,453.8 249.3,453.8 249.5,453.8 249.7,453.8 249.9,453.8 250,453.8 250.2,453.8 250.4,453.8 250.6,453.8 250.8,453.8 250.9,453.8 251.1,453.8 251.3,453.8 251.5,453.8 251.6,453.8 251.8,453.8 252,453.8 252.2,453.8 252.4,453.8 252.5,453.8 252.7,453.8 252.9,453.8 253.1,453.8 253.2,453.8 253.4,453.8 253.6,453.8 253.8,453.8 254,453.8 254.1,453.8 254.3,453.8 254.5,453.8 254.7,453.8 254.8,453.8 255,453.8 255.2,453.8 255.4,453.8 255.6,453.8 255.7,453.8 255.9,453.8 256.1,453.8 256.3,453.8 256.4,453.8 256.6,453.8 256.8,453.8 257,453.8 257.2,453.8 257.3,453.8 257.5,453.8 257.7,453.8 257.9,453.8 258,453.8 258.2,453.8 258.4,453.8 258.6,453.8 258.8,453.8 258.9,453.8 259.1,453.8 259.3,453.8 259.5,453.8 259.6,453.8 259.8,453.8 260,453.8 260.2,453.8 260.4,453.8 260.5,453.8 260.7,453.8 260.9,453.8 261.1,453.8 261.2,453.8 261.4,453.8 261.6,453.8 261.8,453.8 262,453.8 262.1,453.8 262.3,453.8 262.5,453.8 262.7,453.8 262.8,453.8 263,453.8 263.2,453.8 263.4,453.8 263.6,453.8 263.7,453.8 263.9,453.8 264.1,453.8 264.3,453.8 264.4,453.8 264.6,453.8 264.8,453.8 265,453.8 265.2,453.8 265.3,453.8 265.5,453.8 265.7,453.8 265.9,453.8 266,453.8 266.2,453.8 266.4,453.8 266.6,453.8 266.8,453.8 266.9,453.8 267.1,453.8 267.3,453.8 267.5,453.8 267.6,453.8 267.8,453.8 268,453.8 268.2,453.8 268.4,453.8 268.5,453.8 268.7,453.8 268.9,453.8 269.1,453.8 269.2,453.8 269.4,453.8 269.6,453.8 269.8,453.8 270,453.8 270.1,453.8 270.3,453.8 270.5,453.8 270.7,453.8 270.8,453.8 271,453.8 271.2,453.8 271.4,453.8 271.6,453.8 271.7,453.8 271.9,453.8 272.1,453.8 272.3,453.8 272.4,453.8 272.6,453.8 272.8,453.8 273,453.8 273.2,453.8 273.3,453.8 273.5,453.8 273.7,453.8 273.9,453.8 274,453.8 274.2,453.8 274.4,453.8 274.6,453.8 274.8,453.8 274.9,453.8 275.1,453.8 275.3,453.8 275.5,453.8 275.6,453.8 275.8,453.8 276,453.8 276.2,453.8 276.4,453.8 276.5,453.8 276.7,453.8 276.9,453.8 277.1,453.8 277.2,453.8 277.4,453.8 277.6,453.8 277.8,453.8 278,453.8 278.1,453.8 278.3,453.8 278.5,453.8 278.7,453.8 278.8,453.8 279,453.8 279.2,453.8 279.4,453.8 279.6,453.8 279.7,453.8 279.9,453.8 280.1,453.8 280.3,453.8 280.4,453.8 280.6,453.8 280.8,453.8 281,453.8 281.2,453.8 281.3,453.8 281.5,453.8 281.7,453.8 281.9,453.8 282,453.8 282.2,453.8 282.4,453.8 282.6,453.8 282.8,453.8 282.9,453.8 283.1,453.8 283.3,453.8 283.5,453.8 283.6,453.8 283.8,453.8 284,453.8 284.2,453.8 284.4,453.8 284.5,453.8 284.7,453.8 284.9,453.8 285.1,453.8 285.2,453.8 285.4,453.8 285.6,453.8 285.8,453.8 286,453.8 286.1,453.8 286.3,453.8 286.5,453.8 286.7,453.8 286.8,453.8 287,453.8 287.2,453.8 287.4,453.8 287.6,453.8 287.7,453.8 287.9,453.8 288.1,453.8 288.3,453.8 288.4,453.8 288.6,453.8 288.8,453.8 289,453.8 289.2,453.8 289.3,453.8 289.5,453.8 289.7,453.8 289.9,453.8 290,453.8 290.2,453.8 290.4,453.8 290.6,453.8 290.8,453.8 290.9,453.8 291.1,453.8 291.3,453.8 291.5,453.8 291.6,453.8 291.8,453.8 292,453.8 292.2,453.8 292.4,453.8 292.5,453.8 292.7,453.8 292.9,453.8 293.1,453.8 293.2,453.8 293.4,453.8 293.6,453.8 293.8,453.8 294,453.8 294.1,453.8 294.3,453.8 294.5,453.8 294.7,453.8 294.8,453.8 295,453.8 295.2,453.8 295.4,453.8 295.6,453.8 295.7,453.8 295.9,453.8 296.1,453.8 296.3,453.8 296.4,453.8 296.6,453.8 296.8,453.8 297,453.8 297.2,453.8 297.3,453.8 297.5,453.8 297.7,453.8 297.9,453.8 298,453.8 298.2,453.8 298.4,453.8 298.6,453.8 298.8,453.8 298.9,453.8 299.1,453.8 299.3,453.8 299.5,453.8 299.6,453.8 299.8,453.8 300,453.8 300.2,453.8 300.4,453.8 300.5,453.8 300.7,453.8 300.9,453.8 301.1,453.8 301.2,453.8 301.4,453.8 301.6,453.8 301.8,453.8 302,453.8 302.1,453.8 302.3,453.8 302.5,453.8 302.7,453.8 302.8,453.8 303,453.8 303.2,453.8 303.4,453.8 303.6,453.8 303.7,453.8 303.9,453.8 304.1,453.8 304.3,453.8 304.4,453.8 304.6,453.8 304.8,453.8 305,453.8 305.2,453.8 305.3,453.8 305.5,453.8 305.7,453.8 305.9,453.8 306,453.8 306.2,453.8 306.4,453.8 306.6,453.8 306.8,453.8 306.9,453.8 307.1,453.8 307.3,453.8 307.5,453.8 307.6,453.8 307.8,453.8 308,453.8" />
<polyline fill="none" stroke="#000080" stroke-width="1.8" stroke-linejoin="round" points="41.5,424.8 41.7,424.8 41.9,424.8 42,424.8 42.2,424.8 42.4,424.8 42.6,424.8 42.7,424.8 42.9,424.8 43.1,424.8 43.3,424.8 43.5,424.8 43.6,424.8 43.8,424.8 44,424.8 44.2,424.8 44.3,424.8 44.5,424.8 44.7,424.8 44.9,424.8 45.1,424.8 45.2,424.8 45.4,424.8 45.6,424.8 45.8,424.8 45.9,424.8 46.1,424.8 46.3,424.8 46.5,424.8 46.7,424.8 46.8,424.8 47,424.8 47.2,424.8 47.4,424.8 47.5,424.8 47.7,424.8 47.9,424.8 48.1,424.8 48.3,424.8 48.4,424.8 48.6,424.8 48.8,424.8 49,424.8 49.1,424.8 49.3,424.8 49.5,424.8 49.7,424.8 49.9,424.8 50,424.8 50.2,424.8 50.4,424.8 50.6,424.8 50.7,424.8 50.9,424.8 51.1,424.8 51.3,424.8 51.5,424.8 51.6,424.8 51.8,424.8 52,424.8 52.2,424.8 52.3,424.8 52.5,424.8 52.7,424.8 52.9,424.8 53.1,424.8 53.2,424.8 53.4,424.8 53.6,424.8 53.8,424.8 53.9,424.8 54.1,424.8 54.3,424.8 54.5,424.8 54.7,424.8 54.8,424.8 55,424.8 55.2,424.8 55.4,424.8 55.5,424.8 55.7,424.8 55.9,424.8 56.1,424.8 56.3,424.8 56.4,424.8 56.6,424.8 56.8,424.8 57,424.8 57.1,424.8 57.3,424.8 57.5,424.8 57.7,424.8 57.9,424.8 58,424.8 58.2,424.8 58.4,424.8 58.6,424.8 58.7,424.8 58.9,424.8 59.1,424.8 59.3,424.8 59.5,424.8 59.6,424.8 59.8,424.8 60,424.8 60.2,424.8 60.3,424.8 60.5,424.8 60.7,424.8 60.9,424.8 61.1,424.8 61.2,424.8 61.4,424.8 61.6,424.8 61.8,424.8 61.9,424.8 62.1,424.8 62.3,424.8 62.5,424.8 62.7,424.8 62.8,424.8 63,424.8 63.2,424.8 63.4,424.8 63.5,424.8 63.7,424.8 63.9,424.8 64.1,424.8 64.3,424.8 64.4,424.8 64.6,424.8 64.8,424.8 65,424.8 65.1,424.8 65.3,424.8 65.5,424.8 65.7,424.8 65.9,424.8 66,424.8 66.2,424.8 66.4,424.8 66.6,424.8 66.7,424.8 66.9,424.8 67.1,424.8 67.3,424.8 67.5,424.8 67.6,424.8 67.8,424.8 68,424.8 68.2,424.8 68.3,424.8 68.5,424.8 68.7,424.8 68.9,424.8 69.1,424.8 69.2,424.8 69.4,424.8 69.6,424.8 69.8,424.8 69.9,424.8 70.1,424.8 70.3,424.8 70.5,424.8 70.7,424.8 70.8,424.8 71,424.8 71.2,424.8 71.4,424.8 71.5,424.8 71.7,424.8 71.9,424.8 72.1,424.8 72.3,424.8 72.4,424.8 72.6,424.8 72.8,424.8 73,424.8 73.1,424.8 73.3,424.8 73.5,424.8 73.7,424.8 73.9,424.8 74,424.8 74.2,424.8 74.4,424.8 74.6,424.8 74.7,424.8 74.9,424.8 75.1,424.8 75.3,424.8 75.5,424.8 75.6,424.8 75.8,424.8 76,424.8 76.2,424.8 76.3,424.8 76.5,424.8 76.7,424.8 76.9,424.8 77.1,424.8 77.2,424.8 77.4,424.8 77.6,424.8 77.8,424.8 77.9,424.8 78.1,424.8 78.3,424.8 78.5,424.8 78.7,424.8 78.8,424.8 79,424.8 79.2,424.8 79.4,424.8 79.5,424.8 79.7,424.8 79.9,424.8 80.1,424.8 80.3,424.8 80.4,424.8 80.6,424.8 80.8,424.8 81,424.8 81.1,424.8 81.3,424.8 81.5,424.8 81.7,424.8 81.9,424.8 82,424.8 82.2,424.8 82.4,424.8 82.6,424.8 82.7,424.8 82.9,424.8 83.1,424.8 83.3,424.8 83.5,424.8 83.6,424.8 83.8,424.8 84,424.8 84.2,424.8 84.3,424.8 84.5,424.8 84.7,424.8 84.9,424.8 85.1,424.8 85.2,424.8 85.4,424.8 85.6,424.8 85.8,424.8 85.9,424.8 86.1,424.8 86.3,424.8 86.5,424.8 86.7,424.8 86.8,424.8 87,424.8 87.2,424.8 87.4,424.8 87.5,424.8 87.7,424.8 87.9,424.8 88.1,424.8 88.3,424.8 88.4,424.8 88.6,424.8 88.8,424.8 89,424.8 89.1,424.8 89.3,424.8 89.5,424.8 89.7,424.8 89.9,424.8 90,424.8 90.2,424.8 90.4,424.8 90.6,424.8 90.7,424.8 90.9,424.8 91.1,424.8 91.3,424.8 91.5,424.8 91.6,424.8 91.8,424.8 92,424.8 92.2,424.8 92.3,424.8 92.5,424.8 92.7,424.8 92.9,424.8 93.1,424.8 93.2,424.8 93.4,424.8 93.6,424.8 93.8,424.8 93.9,424.8 94.1,424.8 94.3,424.8 94.5,424.8 94.7,424.8 94.8,424.8 95,424.8 95.2,424.8 95.4,424.8 95.5,424.8 95.7,424.8 95.9,424.8 96.1,424.8 96.3,424.8 96.4,424.8 96.6,424.8 96.8,424.8 97,424.8 97.1,424.8 97.3,424.8 97.5,424.8 97.7,424.8 97.9,424.8 98,424.8 98.2,424.8 98.4,424.8 98.6,424.8 98.7,424.8 98.9,424.8 99.1,424.8 99.3,424.8 99.5,424.8 99.6,424.8 99.8,424.8 100,424.8 100.2,424.8 100.3,424.8 100.5,424.8 100.7,424.8 100.9,424.8 101.1,424.8 101.2,424.8 101.4,424.8 101.6,424.8 101.8,424.8 101.9,424.8 102.1,424.8 102.3,424.8 102.5,424.8 102.7,424.8 102.8,424.8 103,424.8 103.2,424.8 103.4,424.8 103.5,424.8 103.7,424.8 103.9,424.8 104.1,424.8 104.3,424.8 104.4,424.8 104.6,424.8 104.8,424.8 105,424.8 105.1,424.8 105.3,424.8 105.5,424.8 105.7,424.8 105.9,424.8 106,424.8 106.2,424.8 106.4,424.8 106.6,424.8 106.7,424.8 106.9,424.8 107.1,424.8 107.3,424.8 107.5,424.8 107.6,424.8 107.8,424.8 108,424.8 108.2,424.8 108.3,424.8 108.5,424.8 108.7,424.8 108.9,424.8 109.1,424.8 109.2,424.8 109.4,424.8 109.6,424.8 109.8,424.8 109.9,424.8 110.1,424.8 110.3,424.8 110.5,424.8 110.7,424.8 110.8,424.8 111,424.8 111.2,424.8 111.4,424.8 111.5,424.8 111.7,424.8 111.9,424.8 112.1,424.8 112.3,424.8 112.4,424.8 112.6,424.8 112.8,424.8 113,424.8 113.1,424.8 113.3,424.8 113.5,424.8 113.7,424.8 113.9,424.8 114,424.8 114.2,424.8 114.4,424.8 114.6,424.8 114.7,424.8 114.9,424.8 115.1,424.8 115.3,424.8 115.5,424.8 115.6,424.8 115.8,424.8 116,424.8 116.2,424.8 116.3,424.8 116.5,424.8 116.7,424.8 116.9,424.8 117.1,424.8 117.2,424.8 117.4,424.8 117.6,424.8 117.8,424.8 117.9,424.8 118.1,424.8 118.3,424.8 118.5,424.8 118.7,424.8 118.8,424.8 119,424.8 119.2,424.8 119.4,424.8 119.5,424.8 119.7,424.8 119.9,424.8 120.1,424.8 120.3,424.8 120.4,424.8 120.6,424.8 120.8,424.8 121,424.8 121.1,424.8 121.3,424.8 121.5,424.8 121.7,424.8 121.9,424.8 122,424.8 122.2,424.8 122.4,424.8 122.6,424.8 122.7,424.8 122.9,424.8 123.1,424.8 123.3,424.8 123.5,424.8 123.6,424.8 123.8,424.7 124,424.7 124.2,424.7 124.3,424.7 124.5,424.7 124.7,424.7 124.9,424.7 125.1,424.7 125.2,424.7 125.4,424.7 125.6,424.7 125.8,424.7 125.9,424.7 126.1,424.7 126.3,424.7 126.5,424.7 126.7,424.7 126.8,424.7 127,424.7 127.2,424.7 127.4,424.7 127.5,424.7 127.7,424.7 127.9,424.7 128.1,424.7 128.3,424.7 128.4,424.7 128.6,424.8 128.8,424.8 129,424.8 129.1,424.8 129.3,424.8 129.5,424.8 129.7,424.8 129.9,424.8 130,424.9 130.2,424.9 130.4,424.9 130.6,424.9 130.7,424.9 130.9,424.9 131.1,425 131.3,425 131.5,425 131.6,425 131.8,425 132,425 132.2,425.1 132.3,425.1 132.5,425.1 132.7,425.1 132.9,425.1 133.1,425.1 133.2,425.1 133.4,425.1 133.6,425.1 133.8,425.1 133.9,425.1 134.1,425.1 134.3,425.1 134.5,425.1 134.7,425 134.8,425 135,425 135.2,425 135.4,425 135.5,424.9 135.7,424.9 135.9,424.9 136.1,424.8 136.3,424.8 136.4,424.8 136.6,424.7 136.8,424.7 137,424.6 137.1,424.6 137.3,424.5 137.5,424.5 137.7,424.5 137.9,424.4 138,424.4 138.2,424.3 138.4,424.3 138.6,424.2 138.7,424.2 138.9,424.1 139.1,424.1 139.3,424.1 139.5,424 139.6,424 139.8,424 140,424 140.2,424 140.3,424 140.5,424 140.7,424 140.9,424 141.1,424 141.2,424 141.4,424.1 141.6,424.1 141.8,424.1 141.9,424.2 142.1,424.3 142.3,424.3 142.5,424.4 142.7,424.5 142.8,424.6 143,424.7 143.2,424.8 143.4,424.9 143.5,425 143.7,425.1 143.9,425.2 144.1,425.3 144.3,425.5 144.4,425.6 144.6,425.7 144.8,425.8 145,426 145.1,426.1 145.3,426.2 145.5,426.3 145.7,426.5 145.9,426.6 146,426.7 146.2,426.8 146.4,426.8 146.6,426.9 146.7,427 146.9,427 147.1,427.1 147.3,427.1 147.5,427.1 147.6,427.1 147.8,427.1 148,427 148.2,427 148.3,426.9 148.5,426.8 148.7,426.7 148.9,426.5 149.1,426.4 149.2,426.2 149.4,426 149.6,425.8 149.8,425.5 149.9,425.3 150.1,425 150.3,424.7 150.5,424.4 150.7,424.1 150.8,423.8 151,423.5 151.2,423.1 151.4,422.8 151.5,422.4 151.7,422.1 151.9,421.7 152.1,421.3 152.3,421 152.4,420.7 152.6,420.3 152.8,420 153,419.7 153.1,419.5 153.3,419.2 153.5,419 153.7,418.8 153.9,418.7 154,418.5 154.2,418.5 154.4,418.4 154.6,418.4 154.7,418.5 154.9,418.6 155.1,418.7 155.3,418.9 155.5,419.2 155.6,419.5 155.8,419.9 156,420.3 156.2,420.8 156.3,421.3 156.5,421.9 156.7,422.5 156.9,423.2 157.1,423.9 157.2,424.7 157.4,425.5 157.6,426.4 157.8,427.3 157.9,428.2 158.1,429.1 158.3,430.1 158.5,431.1 158.7,432 158.8,433 159,434 159.2,435 159.4,435.9 159.5,436.8 159.7,437.7 159.9,438.5 160.1,439.3 160.3,440 160.4,440.6 160.6,441.1 160.8,441.6 161,442 161.1,442.2 161.3,442.4 161.5,442.4 161.7,442.3 161.9,442.1 162,441.7 162.2,441.2 162.4,440.5 162.6,439.7 162.7,438.8 162.9,437.7 163.1,436.4 163.3,435 163.5,433.5 163.6,431.8 163.8,429.9 164,427.9 164.2,425.8 164.3,423.6 164.5,421.3 164.7,418.9 164.9,416.3 165.1,413.8 165.2,411.1 165.4,408.4 165.6,405.7 165.8,403 165.9,400.3 166.1,397.6 166.3,395 166.5,392.5 166.7,390 166.8,387.7 167,385.6 167.2,383.6 167.4,381.7 167.5,380.2 167.7,378.8 167.9,377.7 168.1,376.9 168.3,376.4 168.4,376.2 168.6,376.3 168.8,376.8 169,377.7 169.1,379 169.3,380.6 169.5,382.7 169.7,385.2 169.9,388.1 170,391.4 170.2,395.2 170.4,399.3 170.6,403.9 170.7,408.8 170.9,414.2 171.1,419.8 171.3,425.9 171.5,432.2 171.6,438.8 171.8,445.7 172,452.8 172.2,460 172.3,467.4 172.5,474.8 172.7,482.3 172.9,489.8 173.1,497.2 173.2,504.5 173.4,511.5 173.6,518.3 173.8,524.8 173.9,530.9 174.1,536.5 174.3,541.5 174.5,545.8 174.7,548.7 174.8,548.7 175,545.8 175.2,541.5 175.4,536.5 175.6,530.9 175.7,524.8 175.9,518.3 176.1,511.5 176.3,504.5 176.4,497.2 176.6,489.8 176.8,482.3 177,474.8 177.2,467.4 177.3,460 177.5,452.8 177.7,445.7 177.9,438.8 178,432.2 178.2,425.9 178.4,419.8 178.6,414.2 178.8,408.8 178.9,403.9 179.1,399.3 179.3,395.2 179.5,391.4 179.6,388.1 179.8,385.2 180,382.7 180.2,380.6 180.4,379 180.5,377.7 180.7,376.8 180.9,376.3 181.1,376.2 181.2,376.4 181.4,376.9 181.6,377.7 181.8,378.8 182,380.2 182.1,381.7 182.3,383.6 182.5,385.6 182.7,387.7 182.8,390 183,392.5 183.2,395 183.4,397.6 183.6,400.3 183.7,403 183.9,405.7 184.1,408.4 184.3,411.1 184.4,413.8 184.6,416.3 184.8,418.9 185,421.3 185.2,423.6 185.3,425.8 185.5,427.9 185.7,429.9 185.9,431.8 186,433.5 186.2,435 186.4,436.4 186.6,437.7 186.8,438.8 186.9,439.7 187.1,440.5 187.3,441.2 187.5,441.7 187.6,442.1 187.8,442.3 188,442.4 188.2,442.4 188.4,442.2 188.5,442 188.7,441.6 188.9,441.1 189.1,440.6 189.2,440 189.4,439.3 189.6,438.5 189.8,437.7 190,436.8 190.1,435.9 190.3,435 190.5,434 190.7,433 190.8,432 191,431.1 191.2,430.1 191.4,429.1 191.6,428.2 191.7,427.3 191.9,426.4 192.1,425.5 192.3,424.7 192.4,423.9 192.6,423.2 192.8,422.5 193,421.9 193.2,421.3 193.3,420.8 193.5,420.3 193.7,419.9 193.9,419.5 194,419.2 194.2,418.9 194.4,418.7 194.6,418.6 194.8,418.5 194.9,418.4 195.1,418.4 195.3,418.5 195.5,418.5 195.6,418.7 195.8,418.8 196,419 196.2,419.2 196.4,419.5 196.5,419.7 196.7,420 196.9,420.3 197.1,420.7 197.2,421 197.4,421.3 197.6,421.7 197.8,422.1 198,422.4 198.1,422.8 198.3,423.1 198.5,423.5 198.7,423.8 198.8,424.1 199,424.4 199.2,424.7 199.4,425 199.6,425.3 199.7,425.5 199.9,425.8 200.1,426 200.3,426.2 200.4,426.4 200.6,426.5 200.8,426.7 201,426.8 201.2,426.9 201.3,427 201.5,427 201.7,427.1 201.9,427.1 202,427.1 202.2,427.1 202.4,427.1 202.6,427 202.8,427 202.9,426.9 203.1,426.8 203.3,426.8 203.5,426.7 203.6,426.6 203.8,426.5 204,426.3 204.2,426.2 204.4,426.1 204.5,426 204.7,425.8 204.9,425.7 205.1,425.6 205.2,425.5 205.4,425.3 205.6,425.2 205.8,425.1 206,425 206.1,424.9 206.3,424.8 206.5,424.7 206.7,424.6 206.8,424.5 207,424.4 207.2,424.3 207.4,424.3 207.6,424.2 207.7,424.1 207.9,424.1 208.1,424.1 208.3,424 208.4,424 208.6,424 208.8,424 209,424 209.2,424 209.3,424 209.5,424 209.7,424 209.9,424 210,424 210.2,424.1 210.4,424.1 210.6,424.1 210.8,424.2 210.9,424.2 211.1,424.3 211.3,424.3 211.5,424.4 211.6,424.4 211.8,424.5 212,424.5 212.2,424.5 212.4,424.6 212.5,424.6 212.7,424.7 212.9,424.7 213.1,424.8 213.2,424.8 213.4,424.8 213.6,424.9 213.8,424.9 214,424.9 214.1,425 214.3,425 214.5,425 214.7,425 214.8,425 215,425.1 215.2,425.1 215.4,425.1 215.6,425.1 215.7,425.1 215.9,425.1 216.1,425.1 216.3,425.1 216.4,425.1 216.6,425.1 216.8,425.1 217,425.1 217.2,425.1 217.3,425.1 217.5,425 217.7,425 217.9,425 218,425 218.2,425 218.4,425 218.6,424.9 218.8,424.9 218.9,424.9 219.1,424.9 219.3,424.9 219.5,424.9 219.6,424.8 219.8,424.8 220,424.8 220.2,424.8 220.4,424.8 220.5,424.8 220.7,424.8 220.9,424.8 221.1,424.7 221.2,424.7 221.4,424.7 221.6,424.7 221.8,424.7 222,424.7 222.1,424.7 222.3,424.7 222.5,424.7 222.7,424.7 222.8,424.7 223,424.7 223.2,424.7 223.4,424.7 223.6,424.7 223.7,424.7 223.9,424.7 224.1,424.7 224.3,424.7 224.4,424.7 224.6,424.7 224.8,424.7 225,424.7 225.2,424.7 225.3,424.7 225.5,424.7 225.7,424.7 225.9,424.8 226,424.8 226.2,424.8 226.4,424.8 226.6,424.8 226.8,424.8 226.9,424.8 227.1,424.8 227.3,424.8 227.5,424.8 227.6,424.8 227.8,424.8 228,424.8 228.2,424.8 228.4,424.8 228.5,424.8 228.7,424.8 228.9,424.8 229.1,424.8 229.2,424.8 229.4,424.8 229.6,424.8 229.8,424.8 230,424.8 230.1,424.8 230.3,424.8 230.5,424.8 230.7,424.8 230.8,424.8 231,424.8 231.2,424.8 231.4,424.8 231.6,424.8 231.7,424.8 231.9,424.8 232.1,424.8 232.3,424.8 232.4,424.8 232.6,424.8 232.8,424.8 233,424.8 233.2,424.8 233.3,424.8 233.5,424.8 233.7,424.8 233.9,424.8 234,424.8 234.2,424.8 234.4,424.8 234.6,424.8 234.8,424.8 234.9,424.8 235.1,424.8 235.3,424.8 235.5,424.8 235.6,424.8 235.8,424.8 236,424.8 236.2,424.8 236.4,424.8 236.5,424.8 236.7,424.8 236.9,424.8 237.1,424.8 237.2,424.8 237.4,424.8 237.6,424.8 237.8,424.8 238,424.8 238.1,424.8 238.3,424.8 238.5,424.8 238.7,424.8 238.8,424.8 239,424.8 239.2,424.8 239.4,424.8 239.6,424.8 239.7,424.8 239.9,424.8 240.1,424.8 240.3,424.8 240.4,424.8 240.6,424.8 240.8,424.8 241,424.8 241.2,424.8 241.3,424.8 241.5,424.8 241.7,424.8 241.9,424.8 242,424.8 242.2,424.8 242.4,424.8 242.6,424.8 242.8,424.8 242.9,424.8 243.1,424.8 243.3,424.8 243.5,424.8 243.6,424.8 243.8,424.8 244,424.8 244.2,424.8 244.4,424.8 244.5,424.8 244.7,424.8 244.9,424.8 245.1,424.8 245.2,424.8 245.4,424.8 245.6,424.8 245.8,424.8 246,424.8 246.1,424.8 246.3,424.8 246.5,424.8 246.7,424.8 246.8,424.8 247,424.8 247.2,424.8 247.4,424.8 247.6,424.8 247.7,424.8 247.9,424.8 248.1,424.8 248.3,424.8 248.4,424.8 248.6,424.8 248.8,424.8 249,424.8 249.2,424.8 249.3,424.8 249.5,424.8 249.7,424.8 249.9,424.8 250,424.8 250.2,424.8 250.4,424.8 250.6,424.8 250.8,424.8 250.9,424.8 251.1,424.8 251.3,424.8 251.5,424.8 251.6,424.8 251.8,424.8 252,424.8 252.2,424.8 252.4,424.8 252.5,424.8 252.7,424.8 252.9,424.8 253.1,424.8 253.2,424.8 253.4,424.8 253.6,424.8 253.8,424.8 254,424.8 254.1,424.8 254.3,424.8 254.5,424.8 254.7,424.8 254.8,424.8 255,424.8 255.2,424.8 255.4,424.8 255.6,424.8 255.7,424.8 255.9,424.8 256.1,424.8 256.3,424.8 256.4,424.8 256.6,424.8 256.8,424.8 257,424.8 257.2,424.8 257.3,424.8 257.5,424.8 257.7,424.8 257.9,424.8 258,424.8 258.2,424.8 258.4,424.8 258.6,424.8 258.8,424.8 258.9,424.8 259.1,424.8 259.3,424.8 259.5,424.8 259.6,424.8 259.8,424.8 260,424.8 260.2,424.8 260.4,424.8 260.5,424.8 260.7,424.8 260.9,424.8 261.1,424.8 261.2,424.8 261.4,424.8 261.6,424.8 261.8,424.8 262,424.8 262.1,424.8 262.3,424.8 262.5,424.8 262.7,424.8 262.8,424.8 263,424.8 263.2,424.8 263.4,424.8 263.6,424.8 263.7,424.8 263.9,424.8 264.1,424.8 264.3,424.8 264.4,424.8 264.6,424.8 264.8,424.8 265,424.8 265.2,424.8 265.3,424.8 265.5,424.8 265.7,424.8 265.9,424.8 266,424.8 266.2,424.8 266.4,424.8 266.6,424.8 266.8,424.8 266.9,424.8 267.1,424.8 267.3,424.8 267.5,424.8 267.6,424.8 267.8,424.8 268,424.8 268.2,424.8 268.4,424.8 268.5,424.8 268.7,424.8 268.9,424.8 269.1,424.8 269.2,424.8 269.4,424.8 269.6,424.8 269.8,424.8 270,424.8 270.1,424.8 270.3,424.8 270.5,424.8 270.7,424.8 270.8,424.8 271,424.8 271.2,424.8 271.4,424.8 271.6,424.8 271.7,424.8 271.9,424.8 272.1,424.8 272.3,424.8 272.4,424.8 272.6,424.8 272.8,424.8 273,424.8 273.2,424.8 273.3,424.8 273.5,424.8 273.7,424.8 273.9,424.8 274,424.8 274.2,424.8 274.4,424.8 274.6,424.8 274.8,424.8 274.9,424.8 275.1,424.8 275.3,424.8 275.5,424.8 275.6,424.8 275.8,424.8 276,424.8 276.2,424.8 276.4,424.8 276.5,424.8 276.7,424.8 276.9,424.8 277.1,424.8 277.2,424.8 277.4,424.8 277.6,424.8 277.8,424.8 278,424.8 278.1,424.8 278.3,424.8 278.5,424.8 278.7,424.8 278.8,424.8 279,424.8 279.2,424.8 279.4,424.8 279.6,424.8 279.7,424.8 279.9,424.8 280.1,424.8 280.3,424.8 280.4,424.8 280.6,424.8 280.8,424.8 281,424.8 281.2,424.8 281.3,424.8 281.5,424.8 281.7,424.8 281.9,424.8 282,424.8 282.2,424.8 282.4,424.8 282.6,424.8 282.8,424.8 282.9,424.8 283.1,424.8 283.3,424.8 283.5,424.8 283.6,424.8 283.8,424.8 284,424.8 284.2,424.8 284.4,424.8 284.5,424.8 284.7,424.8 284.9,424.8 285.1,424.8 285.2,424.8 285.4,424.8 285.6,424.8 285.8,424.8 286,424.8 286.1,424.8 286.3,424.8 286.5,424.8 286.7,424.8 286.8,424.8 287,424.8 287.2,424.8 287.4,424.8 287.6,424.8 287.7,424.8 287.9,424.8 288.1,424.8 288.3,424.8 288.4,424.8 288.6,424.8 288.8,424.8 289,424.8 289.2,424.8 289.3,424.8 289.5,424.8 289.7,424.8 289.9,424.8 290,424.8 290.2,424.8 290.4,424.8 290.6,424.8 290.8,424.8 290.9,424.8 291.1,424.8 291.3,424.8 291.5,424.8 291.6,424.8 291.8,424.8 292,424.8 292.2,424.8 292.4,424.8 292.5,424.8 292.7,424.8 292.9,424.8 293.1,424.8 293.2,424.8 293.4,424.8 293.6,424.8 293.8,424.8 294,424.8 294.1,424.8 294.3,424.8 294.5,424.8 294.7,424.8 294.8,424.8 295,424.8 295.2,424.8 295.4,424.8 295.6,424.8 295.7,424.8 295.9,424.8 296.1,424.8 296.3,424.8 296.4,424.8 296.6,424.8 296.8,424.8 297,424.8 297.2,424.8 297.3,424.8 297.5,424.8 297.7,424.8 297.9,424.8 298,424.8 298.2,424.8 298.4,424.8 298.6,424.8 298.8,424.8 298.9,424.8 299.1,424.8 299.3,424.8 299.5,424.8 299.6,424.8 299.8,424.8 300,424.8 300.2,424.8 300.4,424.8 300.5,424.8 300.7,424.8 300.9,424.8 301.1,424.8 301.2,424.8 301.4,424.8 301.6,424.8 301.8,424.8 302,424.8 302.1,424.8 302.3,424.8 302.5,424.8 302.7,424.8 302.8,424.8 303,424.8 303.2,424.8 303.4,424.8 303.6,424.8 303.7,424.8 303.9,424.8 304.1,424.8 304.3,424.8 304.4,424.8 304.6,424.8 304.8,424.8 305,424.8 305.2,424.8 305.3,424.8 305.5,424.8 305.7,424.8 305.9,424.8 306,424.8 306.2,424.8 306.4,424.8 306.6,424.8 306.8,424.8 306.9,424.8 307.1,424.8 307.3,424.8 307.5,424.8 307.6,424.8 307.8,424.8 308,424.8" />
</g>
<rect x="214.3" y="476.3" width="93.7" height="115.5" fill="#fff"/>
<g clip-path="url(#cin)">
<polyline fill="none" stroke="none" marker-start="url(#mri)" marker-mid="url(#mri)" marker-end="url(#mri)" points="293.7,525.8 271.5,571.2 242.9,562.3 275.1,561.9 298.1,527.4 240.2,557.2 278.2,561 241.4,563.4 228.7,528 292.7,537.7 263.8,575.2 253.5,569.3 228.9,536.2 240.5,557.5 224.4,530.7 266,566.9 282.7,543.5 298.1,515.3 224,522.6 236.2,543.6 214.9,495.3 281.8,558.8 226.2,530.1 301.9,508.1 277.1,563 242.4,564.9 242.9,562 243.7,557.3 249.4,570.1 276,566.9 293.4,531.8 236.3,562 248.8,566.8 307.5,486.8 271.2,570.9 304.6,513.8 286.7,546.5 247.2,568.3 236.5,560.6 232.9,549.5 265.9,570.8 243.7,558.1 284.5,551.8 282.2,556.6 261,571.7 217.1,510.4 260.8,577.2 286,550 226.9,531.9 238.3,556.1 270.1,571 235.7,546.8 284.7,555.3 232.9,545 264.4,575.5 289.2,543.3 250.2,564.1 246.1,566.8 279.1,552.4 235.2,548.7 292,543.7 295.2,529.3 252,575.3 295.3,523.3 225.3,534.6 254.2,574.5 223.1,535.1 278.2,563.4 289,551.9 259.8,570.3 274.6,564.6 299.5,518.5 269.9,568.5 229.3,542.3 251.2,573 257.3,578.7 287.5,545.2 242.3,570 239.2,549.7 247.4,570.2 219.2,516.9 290.2,531.3 260.2,563.9 276.3,560.4 304.9,519 220.4,513.8 227.4,536.2 285.6,553.9 236.4,558.8 262.3,575.7 238.1,558.3 249.7,566.5 305.7,507.2 254.7,570.6 247.4,566.2 281.8,551.3 259.2,582.8 214.8,502.1 258,576.7 241.9,559.6 225.4,528 237,556.5 231.3,543.1 269.3,570.2 261.8,577.4 296.2,526.7 293.9,540.7 240,558.8 306.8,492.7 261.2,569.7 278.4,564.2 301.1,517.6 240,557.4 237.6,555.9 270.3,578.5 271,567.9 276.8,564 288.6,541.8 278.4,550.7 307.6,498.7 284.8,546.4 300.6,511.2 231.3,532.9 215.7,492.5 219.2,510 265.1,578.7 306.9,500.5 304,508 229.2,525 237.9,561 305.7,498 225.5,532.7 247.8,575.4 228.3,533 235.8,553.3 276.2,563.5 296.3,530.1 260,570.5 226,521.5 292.3,539.6 281.2,556.3 298.9,523.2 276.3,573.3 303.4,517.4 275.1,556 251.5,573.2 245,572.7 225.4,526.8 293.9,532.3 223.7,526 261.9,575.2 264.5,577.1 289.5,546.2 303.9,504.6 214.5,489.5 290.9,534.5 280.7,556 279.6,557.7 231.4,538.8 221.6,511 298,513.7 227.3,537.2 245.3,572.8 232.9,547.1 294.1,524.7 303.3,499.6 268.8,571.3 214.6,494.9 221.5,520.3 238.2,553.3"/>
<polyline fill="none" stroke="none" marker-start="url(#mbi)" marker-mid="url(#mbi)" marker-end="url(#mbi)" points="254.5,523.7 233,504.4 228.4,495.4 260.3,525.5 258.1,530 297.6,468 219.6,475 302.5,456.9 278.5,522.9 280.2,514.5 254.1,531.7 263.1,534 242.6,526.8 228.1,498.6 234.3,489.2 252.6,529.8 256.1,520.6 236.4,511.4 263.4,522.8 229.5,491.6 278.3,520.7 233.9,506.9 276.3,516.1 264.4,539.2 293.9,495.4 293.3,479.3 267.8,529.4 262.6,532.1 279.1,531.4 293.6,495.7 255.7,523.2 286.4,511.1 220,479 270.2,523.4 239.6,525.2 267.6,527.3 234.7,488.6 273.1,516.6 275.3,524.9 237.6,515.7 290.1,505.6 289.1,499.6 267.1,531.3 277,512 229.8,493.5 270.4,520.4 289.6,496.3 261.5,519.5 273.3,543.8 262.9,530.2 244.2,527.1 298.8,479.1 230.2,508.8 276.1,521.9 289.1,509.8 270.1,521.6 260.6,519.3 229.3,482.4 230.7,507.4 276.3,524.3 250,520.3 301.2,477.7 230.7,488.3 229.2,484.2 274.5,532.8 234.5,501 240,513.4 235.9,505.9 262.8,524.4 269,530.3 301.6,462.2 240.5,516.4 299,478.8 298.9,483.7 295.4,480.1 251.9,533 284.1,500 241.4,517.1 260.3,538.8 297.4,484.7 264.8,528.5 254.4,525.2 268.6,532.7 237.9,518.2 284.2,510.3 230.2,494.6 262.5,525.4 242.5,527.1 281.8,505.6 291.5,503.3 257.8,537.3 234.5,497.9 260.8,524 260.4,533.6 252.5,530.2 267,529.7 259.9,536.8 302.1,466.1 272.1,518 247.6,514.3 260.1,531.3 283.3,510.9 295.7,483.3 219.2,452.5 282.9,523.5 254.7,528.4 287.2,504.4 278.8,521 276.4,523.3 301.4,475.3"/>
<polyline fill="none" stroke="#8c1414" stroke-width="1.4" stroke-linejoin="round" points="214.3,498.6 214.8,499.9 215.2,501.2 215.7,502.5 216.2,503.8 216.6,505.1 217.1,506.4 217.6,507.6 218.1,508.9 218.5,510.2 219,511.4 219.5,512.7 219.9,513.9 220.4,515.2 220.9,516.4 221.3,517.6 221.8,518.8 222.3,520.1 222.8,521.3 223.2,522.5 223.7,523.6 224.2,524.8 224.6,526 225.1,527.2 225.6,528.3 226,529.5 226.5,530.6 227,531.7 227.5,532.8 227.9,533.9 228.4,535 228.9,536.1 229.3,537.2 229.8,538.2 230.3,539.3 230.7,540.3 231.2,541.3 231.7,542.4 232.2,543.4 232.6,544.4 233.1,545.3 233.6,546.3 234,547.2 234.5,548.2 235,549.1 235.4,550 235.9,550.9 236.4,551.8 236.9,552.7 237.3,553.5 237.8,554.4 238.3,555.2 238.7,556 239.2,556.8 239.7,557.6 240.1,558.3 240.6,559.1 241.1,559.8 241.6,560.5 242,561.2 242.5,561.9 243,562.6 243.4,563.3 243.9,563.9 244.4,564.5 244.8,565.1 245.3,565.7 245.8,566.3 246.2,566.9 246.7,567.4 247.2,567.9 247.7,568.4 248.1,568.9 248.6,569.4 249.1,569.8 249.5,570.3 250,570.7 250.5,571.1 250.9,571.5 251.4,571.9 251.9,572.2 252.4,572.5 252.8,572.9 253.3,573.1 253.8,573.4 254.2,573.7 254.7,573.9 255.2,574.2 255.6,574.4 256.1,574.5 256.6,574.7 257.1,574.9 257.5,575 258,575.1 258.5,575.2 258.9,575.3 259.4,575.3 259.9,575.4 260.3,575.4 260.8,575.4 261.3,575.4 261.8,575.4 262.2,575.3 262.7,575.2 263.2,575.1 263.6,575 264.1,574.9 264.6,574.8 265,574.6 265.5,574.4 266,574.2 266.5,574 266.9,573.8 267.4,573.5 267.9,573.2 268.3,573 268.8,572.7 269.3,572.3 269.7,572 270.2,571.6 270.7,571.2 271.2,570.8 271.6,570.4 272.1,570 272.6,569.5 273,569.1 273.5,568.6 274,568.1 274.4,567.6 274.9,567 275.4,566.5 275.9,565.9 276.3,565.3 276.8,564.7 277.3,564.1 277.7,563.5 278.2,562.8 278.7,562.1 279.1,561.4 279.6,560.7 280.1,560 280.5,559.3 281,558.5 281.5,557.8 282,557 282.4,556.2 282.9,555.4 283.4,554.6 283.8,553.7 284.3,552.9 284.8,552 285.2,551.1 285.7,550.2 286.2,549.3 286.7,548.4 287.1,547.4 287.6,546.5 288.1,545.5 288.5,544.5 289,543.5 289.5,542.5 289.9,541.5 290.4,540.5 290.9,539.4 291.4,538.4 291.8,537.3 292.3,536.2 292.8,535.1 293.2,534 293.7,532.9 294.2,531.8 294.6,530.7 295.1,529.5 295.6,528.4 296.1,527.2 296.5,526 297,524.8 297.5,523.7 297.9,522.5 298.4,521.2 298.9,520 299.3,518.8 299.8,517.6 300.3,516.3 300.8,515.1 301.2,513.8 301.7,512.6 302.2,511.3 302.6,510 303.1,508.7 303.6,507.4 304,506.1 304.5,504.9 305,503.5 305.5,502.2 305.9,500.9 306.4,499.6 306.9,498.3 307.3,497 307.8,495.6" />
<polyline fill="none" stroke="#1c1ca0" stroke-width="1.4" stroke-linejoin="round" points="214.3,445.6 214.8,447.3 215.2,449 215.7,450.7 216.2,452.4 216.6,454.1 217.1,455.7 217.6,457.3 218.1,458.9 218.5,460.5 219,462.1 219.5,463.7 219.9,465.2 220.4,466.7 220.9,468.2 221.3,469.7 221.8,471.2 222.3,472.6 222.8,474.1 223.2,475.5 223.7,476.9 224.2,478.3 224.6,479.6 225.1,481 225.6,482.3 226,483.6 226.5,484.9 227,486.2 227.5,487.5 227.9,488.7 228.4,489.9 228.9,491.1 229.3,492.3 229.8,493.5 230.3,494.7 230.7,495.8 231.2,496.9 231.7,498 232.2,499.1 232.6,500.2 233.1,501.2 233.6,502.3 234,503.3 234.5,504.3 235,505.3 235.4,506.2 235.9,507.2 236.4,508.1 236.9,509 237.3,509.9 237.8,510.8 238.3,511.6 238.7,512.5 239.2,513.3 239.7,514.1 240.1,514.9 240.6,515.6 241.1,516.4 241.6,517.1 242,517.9 242.5,518.6 243,519.2 243.4,519.9 243.9,520.5 244.4,521.2 244.8,521.8 245.3,522.4 245.8,523 246.2,523.5 246.7,524.1 247.2,524.6 247.7,525.1 248.1,525.6 248.6,526.1 249.1,526.5 249.5,526.9 250,527.4 250.5,527.8 250.9,528.2 251.4,528.5 251.9,528.9 252.4,529.2 252.8,529.5 253.3,529.8 253.8,530.1 254.2,530.4 254.7,530.6 255.2,530.8 255.6,531 256.1,531.2 256.6,531.4 257.1,531.6 257.5,531.7 258,531.8 258.5,531.9 258.9,532 259.4,532.1 259.9,532.1 260.3,532.2 260.8,532.2 261.3,532.2 261.8,532.2 262.2,532.1 262.7,532.1 263.2,532 263.6,531.9 264.1,531.8 264.6,531.7 265,531.6 265.5,531.4 266,531.2 266.5,531 266.9,530.8 267.4,530.6 267.9,530.4 268.3,530.1 268.8,529.8 269.3,529.5 269.7,529.2 270.2,528.9 270.7,528.5 271.2,528.2 271.6,527.8 272.1,527.4 272.6,526.9 273,526.5 273.5,526.1 274,525.6 274.4,525.1 274.9,524.6 275.4,524.1 275.9,523.5 276.3,523 276.8,522.4 277.3,521.8 277.7,521.2 278.2,520.5 278.7,519.9 279.1,519.2 279.6,518.6 280.1,517.9 280.5,517.1 281,516.4 281.5,515.6 282,514.9 282.4,514.1 282.9,513.3 283.4,512.5 283.8,511.6 284.3,510.8 284.8,509.9 285.2,509 285.7,508.1 286.2,507.2 286.7,506.2 287.1,505.3 287.6,504.3 288.1,503.3 288.5,502.3 289,501.2 289.5,500.2 289.9,499.1 290.4,498 290.9,496.9 291.4,495.8 291.8,494.7 292.3,493.5 292.8,492.3 293.2,491.1 293.7,489.9 294.2,488.7 294.6,487.5 295.1,486.2 295.6,484.9 296.1,483.6 296.5,482.3 297,481 297.5,479.6 297.9,478.3 298.4,476.9 298.9,475.5 299.3,474.1 299.8,472.6 300.3,471.2 300.8,469.7 301.2,468.2 301.7,466.7 302.2,465.2 302.6,463.7 303.1,462.1 303.6,460.5 304,458.9 304.5,457.3 305,455.7 305.5,454.1 305.9,452.4 306.4,450.7 306.9,449 307.3,447.3 307.8,445.6" />
</g>
<path d="M214.3 591.8V476.3H307.8M214.3 476.3h-2.2M214.3 534.05h-2.2M214.3 505.18h-1.4M214.3 562.92h-1.4M223.65 476.3v1.6M242.35 476.3v1.6M261.05 476.3v1.6M279.75 476.3v1.6M298.45 476.3v1.6" stroke="#707070" stroke-width="1" fill="none"/>
<text x="223.65" y="471.6" font-size="8.4" text-anchor="middle" >-0.4</text>
<text x="261.05" y="471.6" font-size="8.4" text-anchor="middle" >0.0</text>
<text x="298.45" y="471.6" font-size="8.4" text-anchor="middle" >0.4</text>
<text x="210.4" y="478.8" font-size="8.4" text-anchor="end" >0.50</text>
<text x="210.4" y="536.9" font-size="8.4" text-anchor="end" >0.25</text>
<g clip-path="url(#cinr)"><path d="M41.5 591.8v5.0M85.92 591.8v5.0M85.92 345v5.0M130.33 591.8v5.0M130.33 345v5.0M174.75 591.8v5.0M174.75 345v5.0M219.17 591.8v5.0M219.17 345v5.0M263.58 591.8v5.0M263.58 345v5.0M308 591.8v5.0M63.71 591.8v3.0M63.71 345v3.0M108.12 591.8v3.0M108.12 345v3.0M152.54 591.8v3.0M152.54 345v3.0M196.96 591.8v3.0M196.96 345v3.0M241.38 591.8v3.0M241.38 345v3.0M285.79 591.8v3.0M285.79 345v3.0M41.5 591.8h-5.0M41.5 558.89h-5.0M308 558.89h-5.0M41.5 525.99h-5.0M308 525.99h-5.0M41.5 493.08h-5.0M308 493.08h-5.0M41.5 460.17h-5.0M308 460.17h-5.0M41.5 427.27h-5.0M308 427.27h-5.0M41.5 394.36h-5.0M308 394.36h-5.0M41.5 361.45h-5.0M308 361.45h-5.0M41.5 575.35h-3.0M308 575.35h-3.0M41.5 542.44h-3.0M308 542.44h-3.0M41.5 509.53h-3.0M308 509.53h-3.0M41.5 476.63h-3.0M308 476.63h-3.0M41.5 443.72h-3.0M308 443.72h-3.0M41.5 410.81h-3.0M308 410.81h-3.0M41.5 377.91h-3.0M308 377.91h-3.0M41.5 345h-3.0" stroke="#000" stroke-width="1.3" fill="none"/><rect x="41.5" y="345" width="266.5" height="246.8" fill="none" stroke="#000" stroke-width="1.3"/></g>
<rect x="196.3" y="337.7" width="149" height="60" fill="#fff" stroke="#a8a8a8" stroke-width="1"/>
<text x="232.4" y="350.6" font-size="11.8" text-anchor="start" >Co-polarised data</text>
<text x="232.4" y="365.5" font-size="11.8" text-anchor="start" >Cross-polarised data</text>
<text x="232.4" y="379.8" font-size="11.8" text-anchor="start" >Co-polarised fit</text>
<text x="232.4" y="394.7" font-size="11.8" text-anchor="start" >Cross-polarised fit</text>
<circle cx="216.2" cy="346.8" r="1.3" fill="none" stroke="#ff6a6a" stroke-width="0.7"/>
<circle cx="216.2" cy="361.5" r="1.3" fill="none" stroke="#5a85c8" stroke-width="0.7"/>
<path d="M202.2 376H230.3" stroke="#000080" stroke-width="2.2"/>
<path d="M202.2 391.2H230.3" stroke="#800000" stroke-width="2.2"/>
<path d="M413.2 592.5v5.0M479.77 592.5v5.0M479.77 345.4v5.0M546.35 592.5v5.0M546.35 345.4v5.0M612.92 592.5v5.0M612.92 345.4v5.0M679.5 592.5v5.0M446.49 592.5v3.0M446.49 345.4v3.0M513.06 592.5v3.0M513.06 345.4v3.0M579.64 592.5v3.0M579.64 345.4v3.0M646.21 592.5v3.0M646.21 345.4v3.0M413.2 592.5h-5.0M413.2 534.36h-5.0M679.5 534.36h-5.0M413.2 476.22h-5.0M679.5 476.22h-5.0M413.2 418.08h-5.0M679.5 418.08h-5.0M413.2 359.94h-5.0M679.5 359.94h-5.0M413.2 563.43h-3.0M679.5 563.43h-3.0M413.2 505.29h-3.0M679.5 505.29h-3.0M413.2 447.15h-3.0M679.5 447.15h-3.0M413.2 389.01h-3.0M679.5 389.01h-3.0" stroke="#000" stroke-width="1.3" fill="none"/><rect x="413.2" y="345.4" width="266.3" height="247.1" fill="none" stroke="#000" stroke-width="1.3"/>
<text x="413.2" y="609" font-size="10.3" text-anchor="middle" >-10</text>
<text x="479.77" y="609" font-size="10.3" text-anchor="middle" >-5</text>
<text x="546.35" y="609" font-size="10.3" text-anchor="middle" >0</text>
<text x="612.92" y="609" font-size="10.3" text-anchor="middle" >5</text>
<text x="679.5" y="609" font-size="10.3" text-anchor="middle" >10</text>
<text x="404.9" y="596" font-size="10.3" text-anchor="end" >0.0</text>
<text x="404.9" y="537.86" font-size="10.3" text-anchor="end" >0.2</text>
<text x="404.9" y="479.72" font-size="10.3" text-anchor="end" >0.4</text>
<text x="404.9" y="421.58" font-size="10.3" text-anchor="end" >0.6</text>
<text x="404.9" y="363.44" font-size="10.3" text-anchor="end" >0.8</text>
<text x="546.35" y="630.4" font-size="13.2" text-anchor="middle" >Delay (ns)</text>
<text x="0" y="0" font-size="12.95" text-anchor="middle" transform="translate(384 468.6) rotate(-90)">Visibility</text>
<g clip-path="url(#cd)">
<polyline fill="none" stroke="none" marker-start="url(#md2)" marker-mid="url(#md2)" marker-end="url(#md2)" points="413.3,526.2 413.4,542.3 413.5,543.2 413.6,538.5 413.8,548.9 414,545.7 414,541.4 414.2,539.9 414.5,537.2 414.6,541.7 414.6,561 414.7,545 414.9,549.3 415,544.8 415.1,540.1 415.2,542.5 415.5,528.2 415.6,544.9 415.8,549.8 416.1,541.7 416.5,540.4 416.8,532.3 416.8,548.1 416.8,537.5 416.9,538.7 417.1,540 417.3,540.3 417.5,539.9 417.6,553.4 417.6,547.1 417.7,539.8 417.8,531.6 417.8,535.4 417.9,539.3 418.1,539.3 418.2,539.1 418.3,537.7 418.3,535.4 418.4,555.6 418.4,544.3 418.7,527.1 418.8,535.7 419,543.2 419,546.6 419.2,540.6 419.3,553.6 419.5,547.7 419.5,535.8 419.6,535.4 419.6,539 419.7,539.8 419.8,543.6 419.9,552.5 419.9,549.6 419.9,546.2 420,542 420.1,550.8 420.1,550.2 420.2,532.7 420.2,543.2 420.4,535.1 420.4,541.2 420.5,548.5 420.6,544.1 420.6,553.2 420.6,535.3 420.7,535.7 420.8,536 420.8,539.2 420.9,544.8 420.9,548.2 421.1,536 421.1,542.4 421.3,545 421.4,544.7 421.4,540.6 421.5,546.4 422,540.8 422.2,535.8 422.2,534.8 422.2,546.7 422.3,538.5 422.4,542.8 423,550.7 423.2,555.3 423.2,537.2 423.4,528.8 423.6,536.9 424,531.9 424.6,528.2 424.7,530.9 424.8,548.5 425,538.6 425,544.2 425.1,556.8 425.1,534.7 425.2,545.9 425.4,532.5 425.4,543.6 425.4,540.8 425.5,545 425.5,541.3 425.5,535 425.7,539.1 425.8,538.9 426.2,542.3 426.5,536.9 426.7,550.2 426.8,539.3 426.9,537.5 426.9,545.9 426.9,532.6 427,539.8 427,553.6 427,543.2 427.1,537 427.2,540.1 427.2,556.9 427.2,537.6 427.3,547 427.6,540.5 427.6,561.5 427.7,530.2 427.8,530.2 427.8,541 428,555.9 428.1,538.5 428.1,527.8 428.2,533.2 428.2,525.9 428.3,554.3 428.4,532.3 428.4,544.2 428.4,544.4 428.5,536.1 428.6,539.7 428.6,551.2 428.6,560.6 428.7,544.4 429.1,548.2 429.1,525.5 429.2,549 429.2,531.8 429.3,546.1 429.3,531.6 429.3,535.4 429.6,531 429.9,537.7 429.9,534.8 430,542.7 430.1,550.5 430.4,530.2 430.5,528.3 430.5,536.7 430.6,526.6 430.7,549.6 431.1,540.8 431.4,546.1 431.5,536.5 431.6,551.2 431.8,538.7 431.8,535.8 431.8,530.6 431.9,539 431.9,526.3 431.9,549.7 432,536.9 432.2,528.8 432.2,553.1 432.3,541.8 432.4,539.1 432.4,532 432.5,535 432.5,550.4 432.5,545.4 432.7,543 432.9,534 432.9,530.4 433.6,540.2 433.7,549.8 433.9,552.8 434,536.3 434.1,532.6 434.2,544.7 434.3,551.4 434.3,550.4 434.5,539.5 434.8,557.8 434.9,547.4 435,541.3 435,558 435,538.6 435.1,549.6 435.2,535 435.3,560.3 435.4,534.2 435.6,555.3 436,540.1 436.3,536.3 436.6,544.6 436.7,539.3 437,540.9 437.1,542.7 437.1,532.9 437.1,551.4 437.4,535.8 437.5,529.9 437.9,535.5 437.9,549.1 438,538.1 438.3,536.2 438.4,535.5 438.4,558.6 438.5,560.3 438.7,531.2 439,536.3 439,538.7 439.4,542.6 439.4,535.3 439.6,531.2 439.6,535.6 439.7,547.1 439.7,538.8 439.8,527.7 440,540.8 440.4,548.6 440.6,533.5 440.7,545 440.8,539.6 440.9,529.1 440.9,532.7 440.9,549.2 441,534.4 441.1,532.8 441.2,530.8 441.2,539.8 441.4,539 441.5,528.2 441.5,555.6 441.5,548.9 441.5,548.3 441.9,534.8 442.1,534.9 442.2,539.1 442.3,533.4 442.6,545.2 442.6,547.1 442.8,542.2 442.9,557.7 443,552.6 443.1,538.7 443.1,541.9 443.3,547 443.4,533.3 443.5,536.7 443.5,539.7 443.6,539.9 443.8,533.1 444,525.3 444.1,548 444.2,541.4 444.3,545 444.6,537.7 444.8,551.2 444.8,541.5 444.8,530 445.1,542.3 445.3,550 445.9,537 446,535.5 446.1,545.8 446.2,531.8 446.3,539.4 446.4,531.9 446.4,535.4 446.6,540.1 446.7,543.4 446.7,535.2 446.8,548.3 446.9,553.1 447,529.3 447.1,551.9 447.3,544.5 447.4,544.3 447.4,540.7 447.4,552.6 447.4,549.5 447.6,536.1 447.7,538.5 447.9,558 447.9,535 447.9,536.2 448.2,541.9 449,552.6 449.1,530.4 449.7,524.1 449.8,545.4 449.9,558.4 449.9,526.2 450.2,538.9 450.2,536.8 450.3,537.2 450.6,547.9 450.6,543.3 451,544.6 451,538.5 451.1,544.1 451.2,531.5 451.3,541.4 451.3,531.9 451.5,552 451.7,539.7 451.8,538.9 451.9,547.9 452.5,537.4 452.5,541.5 452.7,529.7 452.7,532.1 452.8,539.2 452.9,544.7 453,540 453,531.7 453.2,538 453.2,541.8 453.4,544.4 453.4,558.2 453.5,533.8 453.6,546.2 453.7,539.5 453.8,537.9 454,547.2 454,543.2 454.1,538.3 454.2,530.9 454.3,541.4 454.5,542.1 454.5,540.7 454.5,544.1 454.7,534.7 454.7,551.1 454.8,541.4 454.9,540.4 455.1,535.1 455.1,537.1 455.3,546.8 455.4,544.1 455.5,551.9 455.6,541.7 455.7,541.9 455.7,554.5 455.7,539.2 455.8,525.8 455.8,538.5 456,545.1 456,546.1 456.1,532.4 456.1,540.9 456.2,546.8 456.5,555.2 456.6,534.5 457.1,562.4 457.2,538.6 457.2,548.2 457.3,533.5 457.3,541.8 457.4,545.8 457.6,533 457.7,553.5 458,535.4 458.3,535.9 458.5,563.1 458.5,550.4 458.8,550 458.9,545.4 458.9,540.1 458.9,543 459,536.8 459,545.6 459.2,555.5 459.4,563.7 459.4,552 459.4,548.2 459.5,549.3 459.6,537.5 459.6,542.1 459.7,557.3 459.7,549.2 459.8,545.8 459.8,525.5 459.8,536.7 460.3,544.3 460.3,538.1 460.4,534.3 460.5,551.7 460.5,529.6 460.9,549.4 460.9,535.6 461.1,529.8 461.2,539.9 461.3,536.3 461.4,550.3 461.4,531.9 461.8,534.5 462,527.4 462,534.1 462,546.3 462.2,548.7 462.3,549 462.3,547.8 462.5,532.4 462.6,556.3 462.7,553.9 462.7,550 462.7,556.3 462.8,551.3 462.8,535 462.9,545.9 463.2,540.2 463.2,544.3 463.5,538.1 463.7,534.2 463.8,537.8 464.1,540 464.4,548.6 464.4,553.6 464.4,539.4 464.4,537.8 464.5,535.4 464.7,539.8 464.8,548.9 465.2,549 465.2,537.4 465.5,546.2 465.5,551 465.6,555.6 465.8,550.2 465.9,536.6 466.1,537.8 466.1,531.4 466.1,537.9 466.2,539.1 466.3,533.8 466.4,533.1 466.5,543.1 466.6,568 466.6,543.4 466.6,549.3 466.7,533.1 467,539.8 467.2,548.7 467.4,555.3 467.4,538.3 467.4,534.3 467.7,556.7 467.8,539.5 468.5,549 468.7,540 468.8,527.9 468.9,555.3 468.9,538.3 468.9,530.1 469.1,543 469.2,554 469.4,567.9 469.5,551.1 469.5,539.6 469.6,552.2 469.6,532.8 469.7,565.4 470,556.1 470.1,538.8 470.2,542.4 470.3,537.8 470.5,539.5 470.6,550.4 470.8,547.5 470.9,532.9 470.9,540.5 471,534.6 471.2,539.7 471.2,534 471.2,538.4 471.2,546.1 471.2,554.1 471.6,535 472,547.1 472.1,558.7 472.1,533.2 472.2,539.8 472.4,540.6 472.6,554.5 472.8,537.1 472.8,543.5 472.9,555 473,548.6 473,553.7 473.4,531.7 473.5,546.9 473.5,539.1 473.6,533.8 473.8,528.7 473.9,547.6 474.1,552.6 474.1,535.5 474.2,536.4 474.3,525.3 474.7,545.2 474.8,530.7 474.9,534.1 474.9,540 475,571.2 475.4,540.4 475.5,544.4 475.5,561.9 475.6,536 475.8,548.9 475.8,551.8 475.9,544.2 476,533.8 476.2,528.6 476.3,534.4 476.4,537.9 476.7,539.4 476.9,557.2 476.9,551.8 477,542.9 477.1,542 477.1,548.3 477.3,530.3 477.3,532.6 477.4,548.7 477.4,534.2 477.7,539.9 477.8,524.7 478.3,533.4 478.3,535 478.5,536.9 478.6,534 478.8,540.2 479.2,528.5 479.3,541.4 479.5,556.3 479.6,541.2 479.7,535.8 479.8,555.2 479.9,556.9 480,543.4 480,532.5 480,536 480.5,567.7 480.5,536.6 480.6,545 480.6,549 481.2,540.6 481.2,525.4 481.5,553.9 481.7,543.4 481.8,562.6 481.8,537.3 482.1,538.6 482.3,539 482.4,538 482.4,553.4 482.5,542.2 482.5,543.5 482.5,550.3 482.6,535.9 482.7,537 482.7,551.1 482.8,540.4 482.9,538.1 482.9,539.5 483.1,537.2 483.2,541 483.3,544 483.3,554.5 483.6,549.6 483.6,540.7 483.6,540.7 483.7,553.9 483.8,543.3 483.8,537.8 484,532.6 484.1,537.4 484.2,541.9 484.5,535.8 484.6,557 484.9,539.5 485,549.4 485.1,529.5 485.2,552.7 485.3,536.8 485.4,528.4 485.4,546.1 485.5,548 485.6,541.9 485.7,544.6 485.9,551.3 486,548.3 486.1,536.3 486.2,537.3 486.3,551 486.3,552.1 486.3,540.3 486.3,538.7 486.8,540.8 486.8,540.3 486.8,528.4 486.9,533.6 487.2,536.5 487.3,547 487.3,529.9 487.3,542.6 487.5,539.3 487.6,565.2 487.7,535.1 487.7,557.3 487.7,547.1 487.8,533.9 488,543.5 488,548.7 488.3,535.9 488.3,534 488.5,539.2 488.6,536.2 488.7,551.2 488.7,539.8 488.8,545.5 488.9,560.4 489.3,539 489.9,545.9 490,544.8 490.1,540.6 490.1,543.4 490.4,535.7 490.6,546.5 490.7,537.1 490.7,546.6 490.9,537.8 490.9,541.4 491,535.8 491.3,525.3 491.4,540.5 491.6,536.3 491.8,550.1 491.9,545.4 491.9,538.6 492.5,532.9 492.5,551.7 493,542.6 493.1,532.3 493.1,557.6 493.3,537.4 493.4,543.1 493.6,528.4 493.6,542.9 493.7,550.2 493.7,531.1 493.7,530.6 494,537.1 494.2,528.1 494.3,543.8 494.4,539.3 494.6,547.1 494.6,548.9 494.9,538.1 495.3,543.2 495.3,528.6 495.7,547 496.3,538.7 496.5,561.4 496.5,538.8 496.6,545.2 496.8,545.5 497,538.7 497.5,542.4 497.5,550.8 497.7,535.4 497.7,539.1 497.7,545.9 497.9,529.9 498.1,540.4 498.1,534.1 498.2,533.9 498.2,543.3 498.2,537.5 498.2,541.5 498.4,548.1 498.7,543.4 498.8,528.2 498.8,538.7 499,528.6 499,534.2 499.2,553.5 499.6,540.7 499.7,534.1 499.8,538.4 499.8,536.3 500,536.8 500,546.1 500.1,532.8 500.2,526.4 500.3,543.1 500.4,541.5 500.7,537.1 500.9,532.8 501,541 501.5,531.4 501.5,540.9 501.6,544.3 501.6,556.5 501.7,535.1 501.7,532.1 501.7,545.6 501.9,537.3 501.9,545.3 502,545.9 502,527.6 502.1,531.3 502.1,557.1 502.2,532.4 502.3,535.9 502.3,526.2 502.3,535.6 502.5,536.3 502.7,545.9 502.7,539.8 502.7,541 503,552.5 503.1,532.7 503.1,543 503.1,536.7 503.9,533.4 503.9,556 504.2,542.2 504.5,545.9 504.6,544.4 504.9,550.5 505.3,537.6 505.4,552 505.4,544.6 505.5,544.6 505.6,544.5 505.9,541.1 505.9,539.4 506,536.4 506,525 506,545.3 506.2,540.9 506.2,545.4 506.3,526.8 506.4,555.9 506.8,549.5 506.8,532.6 506.9,535.8 506.9,552.7 506.9,530.9 507,548.6 507,548.1 507.1,529.3 507.1,529.3 507.1,531.9 507.4,536.4 507.6,532.7 507.6,545.9 507.8,525.2 507.8,555.1 507.9,533.8 508.1,529 508.2,547.6 508.3,541.2 508.6,535.4 508.8,526.4 509.2,531.2 509.2,530.2 509.2,538.5 509.3,534.3 509.4,533.9 509.6,527.9 509.9,551.2 510,536.8 510,538.8 510.1,542.1 510.1,525.7 510.4,545.3 510.4,534.2 510.5,536.7 510.6,533.8 510.7,545.5 511,550.1 511,524.5 511.1,531 511.1,539.6 511.4,545.6 511.4,537.5 511.6,538.9 511.8,542.5 512,533.4 512,536.6 512,540.2 512.1,536.7 512.1,544.7 512.3,534.7 512.4,536.5 512.5,558 512.6,534.3 512.9,543.4 513.1,540.7 513.1,534.6 513.1,539.2 513.6,536.4 513.6,552.2 513.7,531.5 513.8,541.6 513.9,531.5 514,537.9 514.2,537.5 514.3,531.6 514.3,534 514.3,538.7 514.6,535.7 514.7,525.9 514.8,538.5 514.8,542.1 515,534.6 515.1,551.3 515.4,536.7 515.5,541.1 515.6,537 515.6,561.3 515.7,532.9 515.8,537.7 515.8,546.6 516.1,533.3 516.1,544.2 516.4,552.8 516.4,551.3 516.5,542.1 516.6,544.4 516.9,541 517,545.2 517.1,537.1 517.1,535.3 517.2,549.3 517.3,532.3 517.6,548.8 517.8,535.2 517.8,534.4 517.8,540.6 518.2,545 518.2,550.3 518.2,527.3 518.4,555 518.4,541.4 518.5,540.8 518.7,532.8 518.7,535.1 518.9,542 519,546.8 519,526.5 519.2,542.1 519.2,547.8 519.4,529.5 519.4,542.8 519.8,551.1 520,536.5 520.1,544 520.3,561.6 520.4,543.6 520.4,537.9 520.6,555.4 520.6,541.8 520.8,532.4 520.9,544.1 521,551.2 521,548.6 521.2,535 521.3,545.5 521.5,537 521.6,541.4 522.1,548.2 522.1,533.8 522.2,528.2 522.4,550.3 522.4,537.5 522.5,537 522.5,537.5 522.6,538.3 523,528.4 523,522.3 523.1,536.9 523.2,539.1 523.2,532.7 523.2,544.9 523.4,544.7 523.4,534.5 523.4,531.5 523.5,536.4 523.5,534.6 523.8,559.2 523.8,547.2 523.9,539.2 524,533.3 524.4,548.1 524.5,534.6 524.5,538 524.6,534.4 524.6,540.1 524.9,530.4 524.9,543.6 524.9,527.5 525,541.3 525,533.7 525.3,547.8 525.3,543.6 525.5,534.4 525.7,558 525.7,536 525.7,536.1 525.8,515.2 525.8,536.3 526.2,524.4 526.3,535.9 526.4,540.7 526.4,527.3 526.4,532 526.5,524.4 526.6,546.3 526.7,548.8 526.8,527.6 526.9,526.3 527,526.9 527,534.9 527,526.8 527.1,533.9 527.2,539.1 527.2,534.5 527.6,550.1 527.7,527.9 528.1,527.6 528.1,540.4 528.2,547.3 528.3,530.2 528.3,525 528.7,554 528.9,534.3 529,537.3 529,522.4 529.1,521.6 529.2,544.5 529.2,538 529.2,549.7 529.4,531.8 529.5,529.9 529.8,523.7 530,550.1 530.2,548.4 530.3,529.5 530.4,529.7 530.5,538.1 530.5,531.4 530.6,528.1 530.7,532.8 530.8,520.2 530.8,519.5 530.9,527.8 531.2,532.5 531.3,542.6 531.5,534 531.6,534.7 531.7,560.8 531.8,531.9 531.8,528.5 531.9,531.1 531.9,546.3 532.2,545.2 532.8,526.9 532.8,524.5 533.3,538.4 533.4,544.4 533.6,535.9 533.8,528.7 534.1,515.9 534.3,522.9 534.4,525.5 534.5,533.4 534.6,528 534.7,537.7 534.9,521.3 535,525.8 535.1,535.7 535.1,525.6 535.2,515 535.2,532.7 535.2,536.7 535.3,528.5 535.4,525.7 535.6,522.5 535.7,524.9 535.9,518.5 536.1,522.5 536.2,520 536.2,510.9 536.3,533.8 536.3,531.6 536.4,520.6 536.6,530.1 536.7,526 536.7,503.8 536.9,528.4 536.9,526.9 536.9,515.1 537,517.7 537.1,534.4 537.1,515.3 537.1,508.2 537.2,518.5 537.4,512.1 537.5,515.8 537.5,524 537.6,522.8 537.8,508.1 537.9,508.6 538,526.7 538.1,503.9 538.2,506.9 538.2,504.9 538.3,501.8 538.5,522.7 538.5,510.4 538.5,512.8 538.6,512.7 538.7,505.6 538.8,500.4 538.9,504.2 538.9,488.8 538.9,511.7 539,483.1 539.2,497.4 539.2,487 539.3,494.7 539.3,504.4 539.5,496.4 539.7,496.9 539.9,485.7 539.9,487.7 540,498 540.2,471.7 540.3,478.1 540.3,497.4 540.5,487.5 540.6,482.6 540.7,477.1 540.8,474.5 541.1,475.4 541.2,461.1 541.4,478.6 541.6,460.7 541.7,460.4 542.3,443.9 542.3,452.3 542.4,449.2 542.4,439.1 542.7,440.8 543.1,434.2 543.2,431.9 543.4,429.2 543.4,434.6 543.4,434.2 543.5,427.6 543.6,422.8 543.7,417.6 543.7,422.2 543.7,422.4 543.8,418.7 544.1,416.7 544.1,413.5 544.2,407.4 544.2,415.3 544.2,417.4 544.2,413.7 544.2,410.8 544.3,413.6 544.4,405.8 544.4,400.4 544.5,401.6 544.8,396.1 544.8,395.2 544.9,395.9 545,397.2 545,396.2 545.1,402.5 545.1,401.2 545.1,398.4 545.2,399.5 545.3,396.3 545.3,391.8 545.5,391.1 545.8,389.8 546,382.1 546.1,388.9 546.3,387.2 546.3,384.1 546.5,387.8 546.8,384.8 547,392.4 547.3,388.4 547.8,396.7 547.9,407.2 547.9,400.2 547.9,399.2 548.3,408.6 548.5,410 548.5,413.7 548.6,410.9 548.7,415.2 548.7,411.7 548.8,414.1 548.9,414.4 548.9,415.5 549,423 549.1,424 549.2,423.9 549.3,422.3 549.4,425.8 549.5,438.4 549.5,426 549.6,432.3 549.7,429.8 549.8,442.4 549.8,440.7 550,444.9 550.2,452.8 550.4,441.6 550.4,450.9 550.4,455.6 550.5,459.7 550.5,456 550.6,449.1 550.8,450.5 551,457.3 551,463.9 551.2,463.9 551.2,478.7 551.3,476 551.4,469.4 551.5,468.2 551.7,473.8 552,476.2 552.2,484.9 552.2,482.9 552.3,481.1 552.4,486.9 552.5,489.9 552.6,489.4 552.7,478.1 553.2,503.5 553.3,482.6 553.4,505.6 553.5,492.4 553.5,491.5 553.6,491 553.8,505 553.8,527.5 553.9,511.7 554.1,503.4 554.2,491.7 554.3,510.2 554.4,505.1 554.5,505.6 554.7,499.4 554.8,506.6 554.8,500.8 555,518.8 555.4,530.6 555.6,517.5 555.7,526.4 555.8,513.4 555.8,518.6 556,513.6 556.2,530.7 556.6,527.8 556.7,527.1 556.8,516 557.1,526.7 557.4,526.1 557.5,516 557.6,531.6 557.7,530.5 557.7,516 557.8,549.1 558,519.4 558,530.1 558.1,528.7 558.2,527.1 558.5,526.5 558.5,528.6 558.6,518.7 558.8,549.1 558.9,550.6 559,527.7 559.2,543.3 559.2,532.2 559.4,533.8 559.4,531.4 559.5,526.4 559.8,553.5 559.9,539.6 559.9,520 559.9,535.6 560.2,536.4 560.2,513.3 560.3,528.4 560.5,540.2 560.7,527.4 561,527.2 561.1,542.7 561.1,526 561.1,534.2 561.3,550.4 561.3,526.2 561.4,526.5 561.6,528 561.8,528.6 561.9,537.9 562.3,536.5 562.3,541.7 562.3,525.4 562.3,528.4 562.3,520.1 562.3,529.1 562.5,536.9 562.7,539 563,542.1 563.1,541.8 563.3,513.7 563.4,552.2 563.5,544.3 563.6,549.2 563.6,526.9 563.9,532 564,535.6 564.2,527.6 564.3,538.1 564.4,531.1 564.5,522.7 564.5,534.8 564.7,535.6 564.7,530.7 564.8,529 565,529 565.1,537.2 565.2,532.1 565.3,534.1 565.5,528.2 565.7,538 565.9,537.9 566.1,545.6 566.2,540.3 566.3,542.5 566.4,533.7 566.5,527.8 566.7,540.7 566.8,523.2 566.9,538.4 566.9,528.2 567,532.3 567.1,542.1 567.4,537.5 567.4,552.2 567.5,533.8 567.8,525 568.1,535.4 568.2,525.6 568.4,537.6 568.5,539.8 568.6,537.1 568.7,541.6 568.9,535.7 568.9,525.8 569.3,537.5 569.3,543 569.3,538.1 569.3,532.1 569.4,539.6 569.5,555.7 569.5,547.3 569.6,528.2 569.8,539.3 569.8,530.4 569.8,538.7 570,545.6 570.2,537.4 570.4,532.3 570.7,541.5 570.9,552 571.1,542.4 571.3,546 571.4,531.8 571.4,548.5 571.4,549.7 571.5,553.6 571.5,539.6 571.7,544.2 571.9,543 572,537 572,541.3 572.2,523.6 572.5,528.4 572.5,545.9 572.6,527.3 572.6,538.9 572.6,536.7 572.7,549 572.9,535.9 572.9,532.3 573,535.2 573.3,536.8 573.4,532.6 573.5,534.8 573.6,553.8 573.9,540.4 574,536.3 574.3,545.3 574.7,525.3 574.8,535.5 574.8,539.2 575,537.5 575,535.8 575.2,542.3 575.2,545.2 575.2,555.4 575.3,532.6 575.3,537.5 575.5,551.2 575.5,532.3 575.6,538.4 575.6,543.3 575.7,547.3 575.7,526.3 575.8,531.9 576,535.2 576.1,535.2 576.2,539 576.3,538.9 576.9,527.9 577,542.9 577,544.2 577.3,531.7 577.7,555.6 577.7,542.8 577.7,544.8 577.8,538.6 577.8,551.4 577.9,541.9 577.9,542.3 578,537.2 578,533.3 578.2,529.3 578.2,536.4 578.4,542.1 578.6,543.8 578.9,541.3 579.1,523.8 579.1,527.7 579.2,529.9 579.3,532.9 579.6,546.8 579.7,529.6 579.7,538.1 579.9,546.2 579.9,546.3 579.9,535.3 580,543 580,526.3 580.4,528.2 580.5,531.6 580.6,533.4 580.7,531.2 580.7,555.8 581,549.4 581,536 581.1,539.7 581.3,556.9 581.4,534.5 581.6,540.9 581.6,545.8 581.7,531 582.2,528.8 582.3,543 582.3,536.9 582.4,534.4 582.4,538.9 582.6,535 582.7,547.8 582.7,544.2 582.8,533.8 582.9,536.4 583.4,523.6 583.5,540.8 583.5,538.3 583.6,534.3 583.6,532.4 583.8,534 583.9,527.4 583.9,533.7 583.9,529.7 583.9,540.4 584.1,529.2 584.2,533 584.4,549.7 584.6,528.6 584.8,530 584.9,543.7 585,533.9 585.3,527 585.4,537.2 585.5,526.6 585.7,537.5 586.1,527.5 586.2,533.9 586.3,561.9 586.5,535.9 586.5,538.6 586.5,533.8 586.5,541.3 586.6,528.9 586.6,534.1 586.6,535.9 586.7,536.9 586.7,536.8 586.7,543.4 586.8,534.2 586.9,544.9 587.1,542 587.1,547.3 587.4,528.7 587.4,527.8 587.6,543.3 587.6,540.2 588,550.9 588,551.4 588.2,533.3 588.4,522.2 588.4,542.8 588.5,531.6 588.7,550.5 589.4,525.5 589.5,521.7 589.8,536.2 589.9,533.8 590,524.1 590,533.7 590.1,548 590.1,534.2 590.2,550.3 590.3,530.9 590.4,533.7 590.4,528.8 590.7,533.9 590.8,532.7 590.8,538.8 590.8,532.9 590.9,537.6 591.2,540.5 591.4,519.5 591.4,555.1 591.5,535.9 591.6,542.8 591.9,541.5 592,536.6 592.2,536.4 592.3,530.3 592.4,554.1 592.4,534.2 592.5,538.5 592.6,530.4 592.9,547.4 593,560.5 593,538.4 593.5,541.8 593.5,545.3 593.5,543 593.5,532 593.7,541.7 593.9,530.6 594.4,534.3 594.6,546.9 594.7,561.5 594.8,534.4 594.9,550.5 594.9,550.7 594.9,535.1 595,531.2 595.2,531.1 595.4,542.6 595.4,541 595.5,549.9 595.5,539.3 595.7,537.5 595.7,527.2 595.8,540.5 595.9,548.8 596.7,533.2 597.1,547.4 597.3,551.2 597.3,539.3 597.5,539 597.6,540 597.8,551.1 598,542.1 598.1,552.2 598.4,556.1 598.4,536.8 598.6,531.8 598.7,537.7 598.8,531.3 598.8,536.2 598.9,525.6 598.9,546.1 598.9,541.6 598.9,541.5 599,536.1 599,534.1 599.2,545.9 599.3,551.7 599.3,557.4 599.4,559.5 599.8,535.3 600.4,551.1 600.4,533.6 600.6,543 600.6,535.1 600.6,534.6 600.7,535.1 600.9,533.2 600.9,543.3 600.9,535.8 601,543.2 601.3,548.6 601.4,541.4 601.6,537.4 601.8,546.2 602.1,531.9 602.2,550.4 602.5,552.8 602.6,548.5 602.6,533.9 602.7,542.8 603.1,537.9 603.1,537.3 603.4,554.2 603.6,542.1 603.8,534.8 604,535.3 604,540.9 604,537.1 604.1,539.1 604.2,535.7 604.3,556.5 604.3,551.5 604.4,532.6 604.4,541 604.5,552 604.9,538.4 605,539.4 605.2,550.4 605.4,540.1 605.5,543 605.5,535.9 605.5,541.3 605.7,539.3 606,535.5 606,538.8 606.2,546.4 606.4,551.8 606.5,548.7 606.5,548.1 606.5,542.4 606.5,543.6 606.5,544.5 606.5,548.1 606.6,532.4 606.9,542.1 606.9,553.8 607.1,540.2 607.3,534.6 607.5,540.9 607.5,538 607.5,549.6 607.6,535.3 607.6,536.3 607.9,533.2 607.9,537.9 608,526.7 608.2,533.3 608.2,532.6 608.2,531.8 608.3,550.1 608.3,535.6 608.6,534.1 608.7,534.1 609,543.5 609,549.5 609.2,546.3 609.5,552.9 609.6,538.3 610,547.6 610,540 610.3,540.3 610.3,542.6 610.4,548.1 610.6,547.7 610.7,532.6 610.8,555.2 610.8,539 610.9,549.7 611.1,547.4 611.1,543 611.2,527.5 611.4,537.9 611.5,536.1 611.6,535.6 611.8,533.9 612.1,537.9 612.2,530.9 612.2,538.6 612.4,545.1 613.4,540.5 613.4,540.5 613.5,530.2 613.5,555.3 613.6,547.4 613.8,541 613.8,540.2 614,542.7 614.1,549.6 614.1,541.4 614.1,539.1 614.2,553.3 614.3,542.8 614.4,540.9 614.7,541 614.7,530.2 614.8,552.9 614.8,537.9 614.8,538.2 614.8,553.9 614.9,535 615,551.1 615.3,539.3 615.4,548.3 615.5,544.6 615.5,536.6 615.5,533.7 615.8,539.8 615.8,539.1 615.9,542 615.9,534.2 615.9,537.1 616.2,561.5 616.2,529.2 616.2,548.2 616.4,556.9 616.5,549.5 616.6,543 616.8,544.9 617,554.5 617,537.3 617,546.3 617,540.3 617,529.6 617.8,539.1 617.9,561.5 618.1,552.1 618.1,546.4 618.2,538.4 618.4,534 618.5,548 618.6,544.4 618.7,539.3 618.8,537 619,534.4 619,534.1 619,550.5 619.1,536.8 619.1,549.9 619.2,540.4 619.3,536.3 619.5,536.8 619.7,541.4 619.7,548.5 619.9,535.3 619.9,537.2 620.1,560.7 620.1,532.7 620.2,534.5 620.2,558 620.4,532 620.9,536 620.9,537.5 621.3,551 621.7,548 621.8,539.3 621.8,535.7 621.9,537.7 622,530.1 622.3,544.7 622.4,554.4 622.5,549.6 622.5,536.2 622.6,535.8 622.7,533.4 622.9,536.2 622.9,534.4 622.9,538.6 622.9,536 623.1,533.7 623.2,535.5 623.3,545.6 623.4,550.3 623.5,541 623.6,524.4 623.7,538.5 623.7,549 623.8,547.9 623.9,547.2 624,534.7 624.2,533.4 624.6,552.8 624.8,547.1 625,546.6 625.1,563.3 625.5,542.2 625.6,542.7 625.7,539 625.7,549.2 625.8,545.1 625.8,538.8 625.9,543.3 626,533.7 626.2,533.7 626.2,540.8 626.2,539.3 626.5,541.7 626.6,526 626.9,546.6 626.9,553.1 627,558 627.1,555.4 627.3,539.9 627.3,542.8 627.3,543.4 627.3,569.2 627.4,531.9 627.5,537.4 627.6,560 627.6,539.1 627.6,550.5 627.7,525.1 627.8,539.1 627.9,548.2 628,554.5 628,532.9 628.1,548.6 628.2,547.1 628.3,540.6 628.6,543.2 628.8,554.6 628.9,536 629,544.7 629,532.5 629.2,541 629.5,536.3 629.5,531.1 629.5,536.8 629.5,543.5 629.8,553.9 629.9,542.5 630.1,554.5 630.1,545.7 630.2,545.5 630.4,541.3 630.6,534.5 631,536 631.1,536.2 631.1,541 631.4,540.2 631.9,551.1 632,532 632,544.1 632.4,537.6 632.5,538.6 632.7,554.6 632.8,535.9 633,544.5 633.1,536 633.1,530.5 633.2,544.1 633.4,538 633.4,545.8 633.6,538.8 633.7,539.7 634.1,544.2 634.3,540.1 634.3,536.5 634.4,538 634.4,535.9 634.5,538.3 634.5,544 634.6,552.9 634.6,537.8 634.7,539.5 634.9,534 635,542.2 635,538 635.1,541.7 635.1,548.1 635.1,546.1 635.1,572.3 635.2,539.7 635.3,550 635.4,537.4 635.5,534.9 635.5,547.2 635.6,546.1 635.6,539.8 635.8,539.4 635.8,535.1 636.3,550.4 636.6,542.1 636.8,529.4 637,540.2 637,529.6 637.5,538 637.7,547.4 637.7,536.1 637.7,535.4 637.8,548.6 637.9,526.7 637.9,532.5 637.9,533.2 638,555.3 638.2,549.5 638.2,549.9 638.4,543.4 638.5,536.4 638.6,533.5 638.6,534.5 638.7,546.6 638.7,528.7 638.8,545.9 638.9,547 639,542.3 639.1,530.7 639.1,565.4 639.4,532.7 639.6,545.3 639.6,547.8 639.9,565.4 640,542.9 640,546.9 640,543.9 640,551.1 640.2,542.9 640.3,552.7 640.6,540.4 640.8,533.8 641,527 641.1,545.7 641.1,530.9 641.2,536.6 641.2,530.9 641.6,552.9 641.6,556.2 641.7,546.2 641.8,537.9 641.9,535.9 641.9,563.9 641.9,538.8 642.3,530.2 642.5,544.1 642.5,534.1 642.7,549.4 642.8,538.1 642.9,548.6 643.1,544.3 643.1,556.6 643.2,533.9 643.6,527.3 643.8,546.3 643.8,539.2 643.8,545.9 643.8,543.1 644.2,539.3 644.2,539.7 644.8,540.7 644.8,539.1 644.9,535.8 645.4,526.1 645.4,535.8 645.8,536.7 645.9,547 646,547.1 646,540.1 646.2,540.7 646.6,539.2 646.6,546.6 646.9,541.1 646.9,543.6 647.1,539.7 647.4,541.1 647.4,536.7 647.5,536.4 647.9,544.1 648.1,534 648.2,537.6 648.2,530.7 648.3,561 648.4,545.7 648.5,545.9 648.5,530.2 648.7,537.4 648.7,536.3 648.8,539.1 648.8,543.5 648.8,542.7 649,539.7 649,558.8 649.4,544.9 649.4,547.8 649.4,541.1 649.5,544.4 649.5,552 649.8,547.4 649.8,554.2 649.9,546.4 650,534.5 650.3,546.8 650.4,530.8 650.5,555 650.5,534.6 650.6,545.5 650.7,534.6 650.9,549.5 650.9,536.8 650.9,530.1 650.9,547.5 651,535.4 651.2,533.3 651.2,553.4 651.2,539.3 651.2,541.9 651.5,551 651.6,536.7 651.7,537.1 652,538.5 652,547.3 652.4,541.1 652.5,541.9 652.7,538.8 652.7,534.8 652.8,545.1 652.8,546.8 652.8,531.6 653,536.7 653,552.5 653,533.5 653.1,531.4 653.4,531.3 653.5,535.2 653.5,546.7 653.6,544.5 653.6,537.5 653.8,536.6 653.8,545.4 653.9,537.5 654,537.9 654.1,553 654.1,544.3 654.2,526.6 654.4,549.3 654.6,539.4 654.6,549.7 654.7,543.1 654.7,540.2 655,548.5 655.1,536.1 655.2,531.8 655.5,536.3 655.5,558.3 655.5,541.4 655.6,543.9 655.7,540.4 655.9,533.5 655.9,551.6 656.1,536.1 656.2,545.9 656.2,537 656.4,539.8 656.5,539.7 656.6,534.9 656.7,531.5 656.7,553.2 656.7,539.7 656.8,562.7 657,545 657.1,532.4 657.2,551.2 657.2,545.6 657.4,547.7 657.4,545.3 657.7,537.2 657.8,537.2 658,548 658,551.4 658.1,541.8 658.2,536 658.4,538.2 658.5,533.3 658.7,536.7 658.9,542.3 659.2,537.7 659.3,550.2 659.4,532.4 659.6,544.7 659.8,546 659.9,544.2 660.2,536.9 660.3,544.4 660.4,557.2 660.5,529.4 660.6,544.6 661.1,557.3 661.1,559.1 661.1,542.5 661.3,556.9 661.3,547.4 661.4,556.1 661.6,545.1 661.7,540 661.7,556.9 661.9,531.1 662,549.8 662.1,539.6 662.1,530.4 662.3,536.6 662.5,536 662.6,555.4 662.6,556.4 662.7,540.9 662.8,539.3 662.9,535.6 663.2,538 663.4,540.8 663.5,543.6 663.6,544.3 663.6,541.7 663.7,553.5 663.7,546.3 663.8,540.1 663.8,537.7 664.1,543 664.2,536.1 664.5,535.8 664.6,536 664.7,539.1 664.7,544.9 665,534.3 665.1,536.6 665.1,544.3 665.2,536 665.2,534.5 665.5,540.4 665.6,540.3 665.7,553.1 665.8,545.6 665.8,538.6 665.9,538.2 666.1,550.4 666.2,530.7 666.2,541.1 666.2,542.1 666.4,550.7 666.4,538 666.4,551.3 666.6,537.1 666.6,546.5 666.7,537.6 666.8,556.3 666.8,540.1 666.9,535.5 667,541.1 667.1,536.6 667.2,543.6 667.4,530.4 667.7,542.1 667.8,551.2 668.1,559.6 668.2,531.2 668.2,548.3 668.3,534.8 668.4,551.6 668.6,549.3 668.6,531.8 668.6,550.4 668.9,537.6 669,552.1 669.1,553.3 669.4,543 669.4,547.1 669.6,550.6 669.6,538.7 669.8,554.9 670,536.4 670,540.1 670.1,556.1 670.3,538 670.4,539.6 670.5,527.6 670.5,536.2 670.8,536.9 671,531.2 671.1,559.1 671.1,553.7 671.3,551.1 671.3,553.5 671.5,537.2 671.8,538.9 671.9,525.9 672,551.1 672,549.7 672.1,537 672.2,539.3 672.2,539 672.5,547 672.6,536.6 672.8,539 672.8,545 672.8,535.7 673,557.3 673,536.1 673.1,530.1 673.1,547 673.2,527.3 673.7,535.3 674,545.2 674,533.5 674.1,552.6 674.4,551.8 674.4,545.6 674.8,538.1 674.9,549 674.9,549.4 674.9,550 674.9,530.1 675.1,536.6 675.1,555 675.2,553.2 675.4,539.4 675.4,532.6 675.5,543.5 675.6,531.3 675.7,536.1 676.1,550.1 676.4,548.6 676.4,536.9 676.5,536.5 676.8,545.6 676.9,541.9 676.9,552 677.4,536.6 677.5,534.4 677.7,540.9 677.7,535.9 677.7,533.2 677.8,546.7 677.8,532.1 677.9,545.9 677.9,535.3 678,539.1 678,540.2 678,538.2 678.2,529 678.4,542.6 678.4,536.6 678.4,531.9 678.5,532.8 678.6,538.2 678.8,543.7 678.8,535.9 678.9,540.1 679.1,543.9 679.1,534.6 679.2,531.2 679.2,536.7 679.2,541.8 679.3,545.4 679.3,534 679.3,536.7"/>
<polyline fill="none" stroke="#7a0000" stroke-width="1.9" stroke-linejoin="round" points="413.2,541.6 413.4,541.6 413.6,541.6 413.9,541.6 414.1,541.6 414.3,541.6 414.5,541.6 414.8,541.6 415,541.6 415.2,541.6 415.4,541.6 415.6,541.6 415.9,541.6 416.1,541.6 416.3,541.6 416.5,541.6 416.8,541.6 417,541.6 417.2,541.6 417.4,541.6 417.6,541.6 417.9,541.6 418.1,541.6 418.3,541.6 418.5,541.6 418.8,541.6 419,541.6 419.2,541.6 419.4,541.6 419.6,541.6 419.9,541.6 420.1,541.6 420.3,541.6 420.5,541.6 420.8,541.6 421,541.6 421.2,541.6 421.4,541.6 421.6,541.6 421.9,541.6 422.1,541.6 422.3,541.6 422.5,541.6 422.8,541.6 423,541.6 423.2,541.6 423.4,541.6 423.6,541.6 423.9,541.6 424.1,541.6 424.3,541.6 424.5,541.6 424.7,541.6 425,541.6 425.2,541.6 425.4,541.6 425.6,541.6 425.9,541.6 426.1,541.6 426.3,541.6 426.5,541.6 426.7,541.6 427,541.6 427.2,541.6 427.4,541.6 427.6,541.6 427.9,541.6 428.1,541.6 428.3,541.6 428.5,541.6 428.7,541.6 429,541.6 429.2,541.6 429.4,541.6 429.6,541.6 429.9,541.6 430.1,541.6 430.3,541.6 430.5,541.6 430.7,541.6 431,541.6 431.2,541.6 431.4,541.6 431.6,541.6 431.9,541.6 432.1,541.6 432.3,541.6 432.5,541.6 432.7,541.6 433,541.6 433.2,541.6 433.4,541.6 433.6,541.6 433.9,541.6 434.1,541.6 434.3,541.6 434.5,541.6 434.7,541.6 435,541.6 435.2,541.6 435.4,541.6 435.6,541.6 435.9,541.6 436.1,541.6 436.3,541.6 436.5,541.6 436.7,541.6 437,541.6 437.2,541.6 437.4,541.6 437.6,541.6 437.9,541.6 438.1,541.6 438.3,541.6 438.5,541.6 438.7,541.6 439,541.6 439.2,541.6 439.4,541.6 439.6,541.6 439.9,541.6 440.1,541.6 440.3,541.6 440.5,541.6 440.7,541.6 441,541.6 441.2,541.6 441.4,541.6 441.6,541.6 441.9,541.6 442.1,541.6 442.3,541.6 442.5,541.6 442.7,541.6 443,541.6 443.2,541.6 443.4,541.6 443.6,541.6 443.9,541.6 444.1,541.6 444.3,541.6 444.5,541.6 444.7,541.6 445,541.6 445.2,541.6 445.4,541.6 445.6,541.6 445.8,541.6 446.1,541.6 446.3,541.6 446.5,541.6 446.7,541.6 447,541.6 447.2,541.6 447.4,541.6 447.6,541.6 447.8,541.6 448.1,541.6 448.3,541.6 448.5,541.6 448.7,541.6 449,541.6 449.2,541.6 449.4,541.6 449.6,541.6 449.8,541.6 450.1,541.6 450.3,541.6 450.5,541.6 450.7,541.6 451,541.6 451.2,541.6 451.4,541.6 451.6,541.6 451.8,541.6 452.1,541.6 452.3,541.6 452.5,541.6 452.7,541.6 453,541.6 453.2,541.6 453.4,541.6 453.6,541.6 453.8,541.6 454.1,541.6 454.3,541.6 454.5,541.6 454.7,541.6 455,541.6 455.2,541.6 455.4,541.5 455.6,541.5 455.8,541.5 456.1,541.5 456.3,541.5 456.5,541.5 456.7,541.5 457,541.5 457.2,541.5 457.4,541.5 457.6,541.5 457.8,541.4 458.1,541.4 458.3,541.4 458.5,541.4 458.7,541.4 459,541.4 459.2,541.4 459.4,541.3 459.6,541.3 459.8,541.3 460.1,541.3 460.3,541.3 460.5,541.2 460.7,541.2 461,541.2 461.2,541.2 461.4,541.2 461.6,541.1 461.8,541.1 462.1,541.1 462.3,541.1 462.5,541.1 462.7,541 463,541 463.2,541 463.4,541 463.6,541 463.8,540.9 464.1,540.9 464.3,540.9 464.5,540.9 464.7,540.9 464.9,540.9 465.2,540.8 465.4,540.8 465.6,540.8 465.8,540.8 466.1,540.8 466.3,540.8 466.5,540.8 466.7,540.8 466.9,540.8 467.2,540.8 467.4,540.8 467.6,540.8 467.8,540.8 468.1,540.8 468.3,540.8 468.5,540.8 468.7,540.8 468.9,540.8 469.2,540.8 469.4,540.8 469.6,540.8 469.8,540.8 470.1,540.8 470.3,540.9 470.5,540.9 470.7,540.9 470.9,540.9 471.2,540.9 471.4,541 471.6,541 471.8,541 472.1,541 472.3,541.1 472.5,541.1 472.7,541.1 472.9,541.1 473.2,541.2 473.4,541.2 473.6,541.2 473.8,541.3 474.1,541.3 474.3,541.3 474.5,541.4 474.7,541.4 474.9,541.4 475.2,541.5 475.4,541.5 475.6,541.5 475.8,541.6 476.1,541.6 476.3,541.7 476.5,541.7 476.7,541.8 476.9,541.8 477.2,541.8 477.4,541.9 477.6,541.9 477.8,542 478.1,542 478.3,542.1 478.5,542.1 478.7,542.2 478.9,542.2 479.2,542.3 479.4,542.3 479.6,542.4 479.8,542.4 480.1,542.5 480.3,542.5 480.5,542.6 480.7,542.6 480.9,542.7 481.2,542.7 481.4,542.8 481.6,542.9 481.8,542.9 482.1,543 482.3,543 482.5,543.1 482.7,543.1 482.9,543.2 483.2,543.2 483.4,543.2 483.6,543.3 483.8,543.3 484.1,543.4 484.3,543.4 484.5,543.4 484.7,543.5 484.9,543.5 485.2,543.5 485.4,543.6 485.6,543.6 485.8,543.6 486,543.6 486.3,543.6 486.5,543.6 486.7,543.6 486.9,543.6 487.2,543.6 487.4,543.6 487.6,543.6 487.8,543.6 488,543.6 488.3,543.6 488.5,543.5 488.7,543.5 488.9,543.5 489.2,543.4 489.4,543.4 489.6,543.4 489.8,543.3 490,543.3 490.3,543.2 490.5,543.2 490.7,543.1 490.9,543 491.2,543 491.4,542.9 491.6,542.8 491.8,542.8 492,542.7 492.3,542.6 492.5,542.5 492.7,542.4 492.9,542.3 493.2,542.3 493.4,542.2 493.6,542.1 493.8,542 494,541.9 494.3,541.7 494.5,541.6 494.7,541.5 494.9,541.4 495.2,541.3 495.4,541.2 495.6,541 495.8,540.9 496,540.8 496.3,540.6 496.5,540.5 496.7,540.3 496.9,540.2 497.2,540 497.4,539.9 497.6,539.7 497.8,539.6 498,539.4 498.3,539.2 498.5,539.1 498.7,538.9 498.9,538.7 499.2,538.5 499.4,538.4 499.6,538.2 499.8,538 500,537.8 500.3,537.6 500.5,537.4 500.7,537.3 500.9,537.1 501.2,536.9 501.4,536.7 501.6,536.5 501.8,536.3 502,536.2 502.3,536 502.5,535.8 502.7,535.7 502.9,535.5 503.2,535.4 503.4,535.2 503.6,535.1 503.8,534.9 504,534.8 504.3,534.7 504.5,534.6 504.7,534.5 504.9,534.4 505.2,534.3 505.4,534.3 505.6,534.2 505.8,534.2 506,534.1 506.3,534.1 506.5,534.1 506.7,534.1 506.9,534.1 507.1,534.1 507.4,534.1 507.6,534.2 507.8,534.2 508,534.3 508.3,534.3 508.5,534.4 508.7,534.5 508.9,534.6 509.1,534.7 509.4,534.8 509.6,535 509.8,535.1 510,535.2 510.3,535.4 510.5,535.5 510.7,535.7 510.9,535.9 511.1,536 511.4,536.2 511.6,536.4 511.8,536.6 512,536.7 512.3,536.9 512.5,537.1 512.7,537.3 512.9,537.5 513.1,537.7 513.4,537.9 513.6,538.1 513.8,538.2 514,538.4 514.3,538.6 514.5,538.8 514.7,539 514.9,539.2 515.1,539.4 515.4,539.6 515.6,539.8 515.8,540 516,540.2 516.3,540.4 516.5,540.7 516.7,540.9 516.9,541.1 517.1,541.3 517.4,541.5 517.6,541.8 517.8,542 518,542.3 518.3,542.5 518.5,542.8 518.7,543.1 518.9,543.3 519.1,543.6 519.4,543.9 519.6,544.2 519.8,544.5 520,544.9 520.3,545.2 520.5,545.5 520.7,545.9 520.9,546.3 521.1,546.6 521.4,547 521.6,547.4 521.8,547.8 522,548.1 522.3,548.5 522.5,548.9 522.7,549.3 522.9,549.7 523.1,550.1 523.4,550.5 523.6,550.9 523.8,551.2 524,551.6 524.3,551.9 524.5,552.3 524.7,552.6 524.9,552.9 525.1,553.2 525.4,553.4 525.6,553.7 525.8,553.9 526,554.1 526.2,554.3 526.5,554.4 526.7,554.5 526.9,554.6 527.1,554.6 527.4,554.7 527.6,554.6 527.8,554.6 528,554.5 528.2,554.4 528.5,554.3 528.7,554.1 528.9,553.9 529.1,553.7 529.4,553.5 529.6,553.2 529.8,552.9 530,552.6 530.2,552.2 530.5,551.8 530.7,551.4 530.9,551 531.1,550.5 531.4,550.1 531.6,549.6 531.8,549.1 532,548.5 532.2,548 532.5,547.4 532.7,546.8 532.9,546.1 533.1,545.4 533.4,544.7 533.6,544 533.8,543.2 534,542.4 534.2,541.6 534.5,540.7 534.7,539.7 534.9,538.7 535.1,537.7 535.4,536.5 535.6,535.3 535.8,534.1 536,532.7 536.2,531.3 536.5,529.8 536.7,528.2 536.9,526.5 537.1,524.7 537.4,522.8 537.6,520.8 537.8,518.7 538,516.5 538.2,514.1 538.5,511.7 538.7,509.1 538.9,506.4 539.1,503.6 539.4,500.6 539.6,497.6 539.8,494.4 540,491.1 540.2,487.6 540.5,484.1 540.7,480.4 540.9,476.6 541.1,472.6 541.4,468.6 541.6,464.4 541.8,460.1 542,455.6 542.2,451 542.5,446.3 542.7,441.5 542.9,436.6 543.1,431.7 543.4,426.6 543.6,421.6 543.8,416.7 544,411.8 544.2,407.1 544.5,402.6 544.7,398.3 544.9,394.4 545.1,390.9 545.4,387.9 545.6,385.4 545.8,383.5 546,382.2 546.2,381.5 546.5,381.5 546.7,382.2 546.9,383.5 547.1,385.4 547.3,387.9 547.6,390.9 547.8,394.4 548,398.3 548.2,402.6 548.5,407.1 548.7,411.8 548.9,416.7 549.1,421.6 549.3,426.6 549.6,431.7 549.8,436.6 550,441.5 550.2,446.3 550.5,451 550.7,455.6 550.9,460.1 551.1,464.4 551.3,468.6 551.6,472.6 551.8,476.6 552,480.4 552.2,484.1 552.5,487.6 552.7,491.1 552.9,494.4 553.1,497.6 553.3,500.6 553.6,503.6 553.8,506.4 554,509.1 554.2,511.7 554.5,514.1 554.7,516.5 554.9,518.7 555.1,520.8 555.3,522.8 555.6,524.7 555.8,526.5 556,528.2 556.2,529.8 556.5,531.3 556.7,532.7 556.9,534.1 557.1,535.3 557.3,536.5 557.6,537.7 557.8,538.7 558,539.7 558.2,540.7 558.5,541.6 558.7,542.4 558.9,543.2 559.1,544 559.3,544.7 559.6,545.4 559.8,546.1 560,546.8 560.2,547.4 560.5,548 560.7,548.5 560.9,549.1 561.1,549.6 561.3,550.1 561.6,550.5 561.8,551 562,551.4 562.2,551.8 562.5,552.2 562.7,552.6 562.9,552.9 563.1,553.2 563.3,553.5 563.6,553.7 563.8,553.9 564,554.1 564.2,554.3 564.5,554.4 564.7,554.5 564.9,554.6 565.1,554.6 565.3,554.7 565.6,554.6 565.8,554.6 566,554.5 566.2,554.4 566.5,554.3 566.7,554.1 566.9,553.9 567.1,553.7 567.3,553.4 567.6,553.2 567.8,552.9 568,552.6 568.2,552.3 568.4,551.9 568.7,551.6 568.9,551.2 569.1,550.9 569.3,550.5 569.6,550.1 569.8,549.7 570,549.3 570.2,548.9 570.4,548.5 570.7,548.1 570.9,547.8 571.1,547.4 571.3,547 571.6,546.6 571.8,546.3 572,545.9 572.2,545.5 572.4,545.2 572.7,544.9 572.9,544.5 573.1,544.2 573.3,543.9 573.6,543.6 573.8,543.3 574,543.1 574.2,542.8 574.4,542.5 574.7,542.3 574.9,542 575.1,541.8 575.3,541.5 575.6,541.3 575.8,541.1 576,540.9 576.2,540.7 576.4,540.4 576.7,540.2 576.9,540 577.1,539.8 577.3,539.6 577.6,539.4 577.8,539.2 578,539 578.2,538.8 578.4,538.6 578.7,538.4 578.9,538.2 579.1,538.1 579.3,537.9 579.6,537.7 579.8,537.5 580,537.3 580.2,537.1 580.4,536.9 580.7,536.7 580.9,536.6 581.1,536.4 581.3,536.2 581.6,536 581.8,535.9 582,535.7 582.2,535.5 582.4,535.4 582.7,535.2 582.9,535.1 583.1,535 583.3,534.8 583.6,534.7 583.8,534.6 584,534.5 584.2,534.4 584.4,534.3 584.7,534.3 584.9,534.2 585.1,534.2 585.3,534.1 585.6,534.1 585.8,534.1 586,534.1 586.2,534.1 586.4,534.1 586.7,534.1 586.9,534.2 587.1,534.2 587.3,534.3 587.5,534.3 587.8,534.4 588,534.5 588.2,534.6 588.4,534.7 588.7,534.8 588.9,534.9 589.1,535.1 589.3,535.2 589.5,535.4 589.8,535.5 590,535.7 590.2,535.8 590.4,536 590.7,536.2 590.9,536.3 591.1,536.5 591.3,536.7 591.5,536.9 591.8,537.1 592,537.3 592.2,537.4 592.4,537.6 592.7,537.8 592.9,538 593.1,538.2 593.3,538.4 593.5,538.5 593.8,538.7 594,538.9 594.2,539.1 594.4,539.2 594.7,539.4 594.9,539.6 595.1,539.7 595.3,539.9 595.5,540 595.8,540.2 596,540.3 596.2,540.5 596.4,540.6 596.7,540.8 596.9,540.9 597.1,541 597.3,541.2 597.5,541.3 597.8,541.4 598,541.5 598.2,541.6 598.4,541.7 598.7,541.9 598.9,542 599.1,542.1 599.3,542.2 599.5,542.3 599.8,542.3 600,542.4 600.2,542.5 600.4,542.6 600.7,542.7 600.9,542.8 601.1,542.8 601.3,542.9 601.5,543 601.8,543 602,543.1 602.2,543.2 602.4,543.2 602.7,543.3 602.9,543.3 603.1,543.4 603.3,543.4 603.5,543.4 603.8,543.5 604,543.5 604.2,543.5 604.4,543.6 604.7,543.6 604.9,543.6 605.1,543.6 605.3,543.6 605.5,543.6 605.8,543.6 606,543.6 606.2,543.6 606.4,543.6 606.7,543.6 606.9,543.6 607.1,543.6 607.3,543.6 607.5,543.5 607.8,543.5 608,543.5 608.2,543.4 608.4,543.4 608.6,543.4 608.9,543.3 609.1,543.3 609.3,543.2 609.5,543.2 609.8,543.2 610,543.1 610.2,543.1 610.4,543 610.6,543 610.9,542.9 611.1,542.9 611.3,542.8 611.5,542.7 611.8,542.7 612,542.6 612.2,542.6 612.4,542.5 612.6,542.5 612.9,542.4 613.1,542.4 613.3,542.3 613.5,542.3 613.8,542.2 614,542.2 614.2,542.1 614.4,542.1 614.6,542 614.9,542 615.1,541.9 615.3,541.9 615.5,541.8 615.8,541.8 616,541.8 616.2,541.7 616.4,541.7 616.6,541.6 616.9,541.6 617.1,541.5 617.3,541.5 617.5,541.5 617.8,541.4 618,541.4 618.2,541.4 618.4,541.3 618.6,541.3 618.9,541.3 619.1,541.2 619.3,541.2 619.5,541.2 619.8,541.1 620,541.1 620.2,541.1 620.4,541.1 620.6,541 620.9,541 621.1,541 621.3,541 621.5,540.9 621.8,540.9 622,540.9 622.2,540.9 622.4,540.9 622.6,540.8 622.9,540.8 623.1,540.8 623.3,540.8 623.5,540.8 623.8,540.8 624,540.8 624.2,540.8 624.4,540.8 624.6,540.8 624.9,540.8 625.1,540.8 625.3,540.8 625.5,540.8 625.8,540.8 626,540.8 626.2,540.8 626.4,540.8 626.6,540.8 626.9,540.8 627.1,540.8 627.3,540.8 627.5,540.8 627.8,540.9 628,540.9 628.2,540.9 628.4,540.9 628.6,540.9 628.9,540.9 629.1,541 629.3,541 629.5,541 629.7,541 630,541 630.2,541.1 630.4,541.1 630.6,541.1 630.9,541.1 631.1,541.1 631.3,541.2 631.5,541.2 631.7,541.2 632,541.2 632.2,541.2 632.4,541.3 632.6,541.3 632.9,541.3 633.1,541.3 633.3,541.3 633.5,541.4 633.7,541.4 634,541.4 634.2,541.4 634.4,541.4 634.6,541.4 634.9,541.4 635.1,541.5 635.3,541.5 635.5,541.5 635.7,541.5 636,541.5 636.2,541.5 636.4,541.5 636.6,541.5 636.9,541.5 637.1,541.5 637.3,541.5 637.5,541.6 637.7,541.6 638,541.6 638.2,541.6 638.4,541.6 638.6,541.6 638.9,541.6 639.1,541.6 639.3,541.6 639.5,541.6 639.7,541.6 640,541.6 640.2,541.6 640.4,541.6 640.6,541.6 640.9,541.6 641.1,541.6 641.3,541.6 641.5,541.6 641.7,541.6 642,541.6 642.2,541.6 642.4,541.6 642.6,541.6 642.9,541.6 643.1,541.6 643.3,541.6 643.5,541.6 643.7,541.6 644,541.6 644.2,541.6 644.4,541.6 644.6,541.6 644.9,541.6 645.1,541.6 645.3,541.6 645.5,541.6 645.7,541.6 646,541.6 646.2,541.6 646.4,541.6 646.6,541.6 646.9,541.6 647.1,541.6 647.3,541.6 647.5,541.6 647.7,541.6 648,541.6 648.2,541.6 648.4,541.6 648.6,541.6 648.8,541.6 649.1,541.6 649.3,541.6 649.5,541.6 649.7,541.6 650,541.6 650.2,541.6 650.4,541.6 650.6,541.6 650.8,541.6 651.1,541.6 651.3,541.6 651.5,541.6 651.7,541.6 652,541.6 652.2,541.6 652.4,541.6 652.6,541.6 652.8,541.6 653.1,541.6 653.3,541.6 653.5,541.6 653.7,541.6 654,541.6 654.2,541.6 654.4,541.6 654.6,541.6 654.8,541.6 655.1,541.6 655.3,541.6 655.5,541.6 655.7,541.6 656,541.6 656.2,541.6 656.4,541.6 656.6,541.6 656.8,541.6 657.1,541.6 657.3,541.6 657.5,541.6 657.7,541.6 658,541.6 658.2,541.6 658.4,541.6 658.6,541.6 658.8,541.6 659.1,541.6 659.3,541.6 659.5,541.6 659.7,541.6 660,541.6 660.2,541.6 660.4,541.6 660.6,541.6 660.8,541.6 661.1,541.6 661.3,541.6 661.5,541.6 661.7,541.6 662,541.6 662.2,541.6 662.4,541.6 662.6,541.6 662.8,541.6 663.1,541.6 663.3,541.6 663.5,541.6 663.7,541.6 664,541.6 664.2,541.6 664.4,541.6 664.6,541.6 664.8,541.6 665.1,541.6 665.3,541.6 665.5,541.6 665.7,541.6 666,541.6 666.2,541.6 666.4,541.6 666.6,541.6 666.8,541.6 667.1,541.6 667.3,541.6 667.5,541.6 667.7,541.6 668,541.6 668.2,541.6 668.4,541.6 668.6,541.6 668.8,541.6 669.1,541.6 669.3,541.6 669.5,541.6 669.7,541.6 669.9,541.6 670.2,541.6 670.4,541.6 670.6,541.6 670.8,541.6 671.1,541.6 671.3,541.6 671.5,541.6 671.7,541.6 671.9,541.6 672.2,541.6 672.4,541.6 672.6,541.6 672.8,541.6 673.1,541.6 673.3,541.6 673.5,541.6 673.7,541.6 673.9,541.6 674.2,541.6 674.4,541.6 674.6,541.6 674.8,541.6 675.1,541.6 675.3,541.6 675.5,541.6 675.7,541.6 675.9,541.6 676.2,541.6 676.4,541.6 676.6,541.6 676.8,541.6 677.1,541.6 677.3,541.6 677.5,541.6 677.7,541.6 677.9,541.6 678.2,541.6 678.4,541.6 678.6,541.6 678.8,541.6 679.1,541.6 679.3,541.6 679.5,541.6" />
</g>
<rect x="601.4" y="358.3" width="63.5" height="31.4" fill="#fff" stroke="#a8a8a8" stroke-width="1"/>
<circle cx="619.5" cy="368.4" r="1.4" fill="#ff4646"/>
<path d="M606 382.7H634.1" stroke="#800000" stroke-width="2.2"/>
<text x="636.5" y="372.6" font-size="11.8" text-anchor="start" >Data</text>
<text x="636.5" y="386.5" font-size="11.8" text-anchor="start" >Fit</text>
<text x="-1.3" y="15.6" font-size="21" text-anchor="start" >(a)</text>
<text x="369.3" y="15.8" font-size="21" text-anchor="start" >(b)</text>
<text x="-1.3" y="339" font-size="21" text-anchor="start" >(c)</text>
<text x="369.5" y="339.3" font-size="21" text-anchor="start" >(d)</text>
</svg></body></html>
